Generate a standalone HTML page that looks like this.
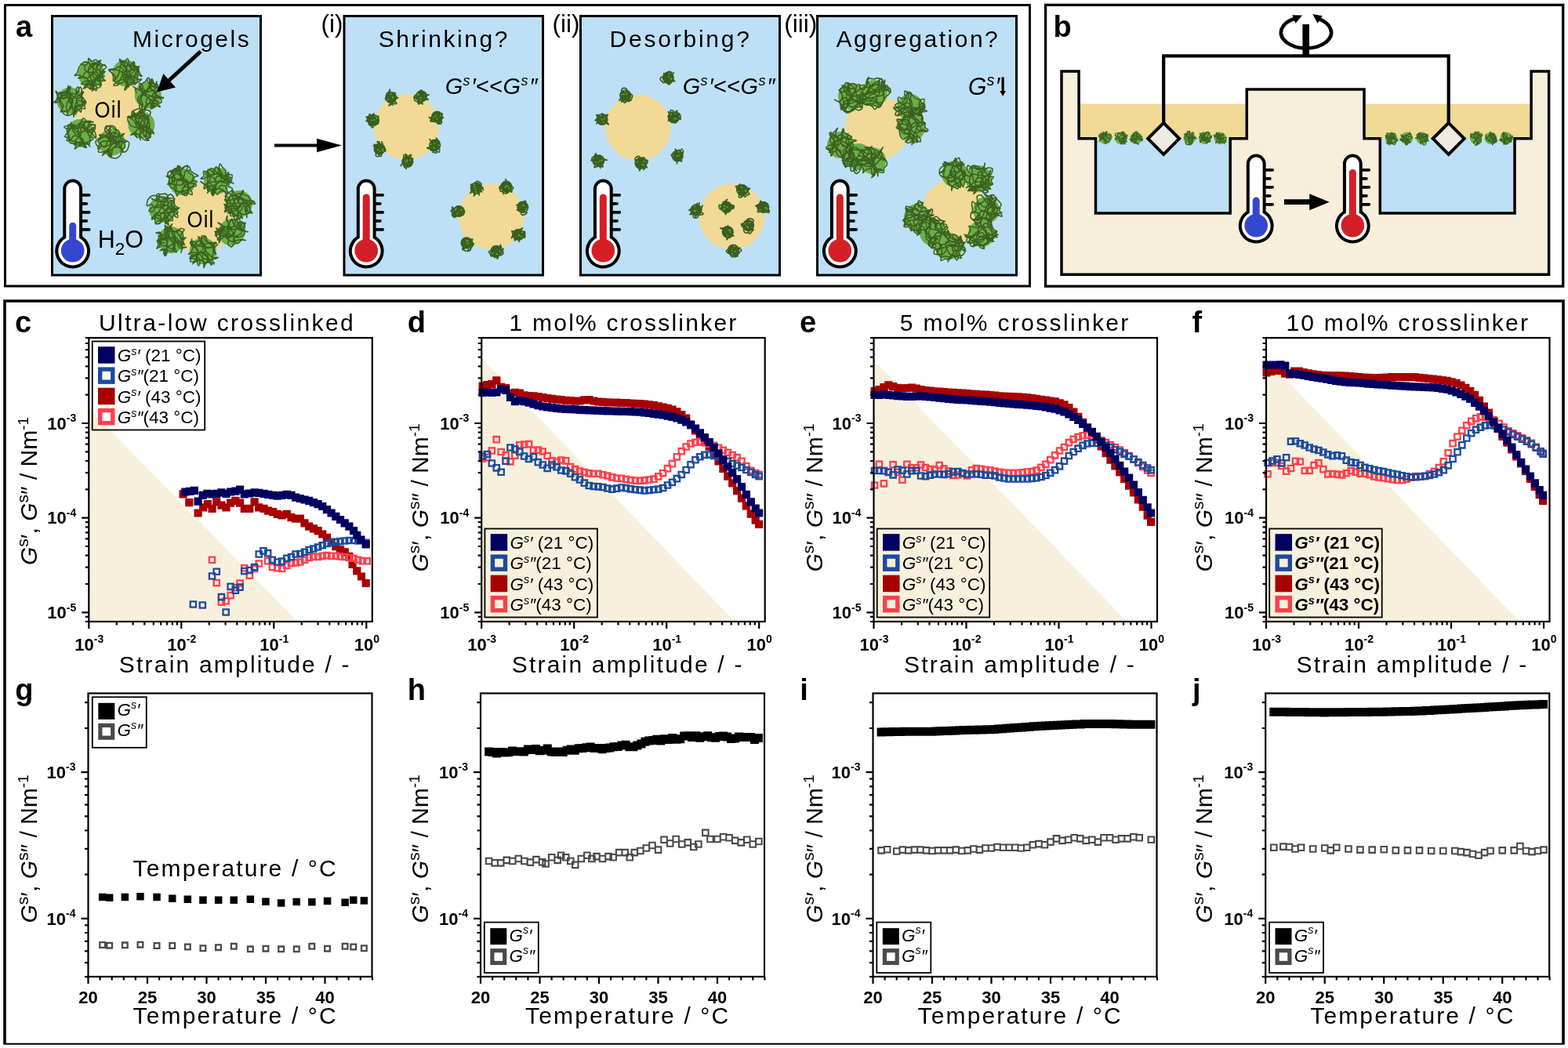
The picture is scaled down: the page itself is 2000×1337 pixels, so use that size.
<!DOCTYPE html>
<html><head><meta charset="utf-8"><title>Figure</title>
<style>
html,body{margin:0;padding:0;background:#fff;overflow:hidden;}
svg{display:block;font-family:"Liberation Sans", Arial, sans-serif;}
</style></head>
<body>
<svg width="2000" height="1337" viewBox="0 0 2000 1337">
<rect x="6.5" y="6.5" width="1307" height="358.5" fill="#fff" stroke="#000" stroke-width="3"/>
<text x="20.0" y="47.0" font-size="38" font-weight="700">a</text>
<rect x="66.5" y="20.5" width="266.0" height="330.5" fill="#bde0f7" stroke="#000" stroke-width="3"/>
<rect x="439" y="20.5" width="253.5" height="330.5" fill="#bde0f7" stroke="#000" stroke-width="3"/>
<rect x="740.5" y="20.5" width="254.0" height="330.5" fill="#bde0f7" stroke="#000" stroke-width="3"/>
<rect x="1042.5" y="20.5" width="254.0" height="330.5" fill="#bde0f7" stroke="#000" stroke-width="3"/>
<circle cx="140" cy="137" r="44" fill="#f0da95"/>
<circle cx="116.7" cy="94.8" r="17" fill="#6aaf47"/>
<path d="M121.2,100.7C121.8,100.0 123.1,97.3 124.5,96.2C125.8,95.2 127.9,95.0 129.5,94.2C131.2,93.3 134.4,91.6 134.2,91.3C134.1,90.9 130.1,91.1 128.8,92.0C127.5,93.0 127.2,95.3 126.5,97.1C125.9,98.8 124.5,100.7 124.8,102.3C125.1,103.8 128.2,104.7 128.6,106.2C129.0,107.8 128.3,110.4 127.1,111.5C126.0,112.6 123.4,112.0 121.8,112.8C120.1,113.5 117.6,116.3 117.3,116.0C117.0,115.7 119.5,112.7 119.7,111.0C119.9,109.3 119.3,107.1 118.3,105.7C117.3,104.3 115.3,103.1 113.6,102.9C111.9,102.6 109.9,103.3 108.2,104.0C106.6,104.7 103.5,106.4 103.6,107.0C103.7,107.5 107.4,107.9 109.1,107.4C110.7,107.0 112.0,104.4 113.6,104.3C115.2,104.2 116.9,105.9 118.5,106.9C120.0,107.8 122.2,108.6 122.9,110.1C123.7,111.5 123.6,115.2 122.9,115.6C122.1,115.9 119.8,113.5 118.6,112.1C117.4,110.8 117.1,108.3 115.7,107.4C114.3,106.5 111.6,106.1 110.3,106.7C108.9,107.4 107.3,111.2 107.6,111.5C107.9,111.8 110.6,109.4 112.2,108.5C113.8,107.7 116.0,107.5 117.2,106.3C118.4,105.1 118.2,102.4 119.4,101.2C120.6,100.1 123.0,99.2 124.6,99.4C126.2,99.7 127.3,102.2 129.0,102.8C130.6,103.3 134.3,103.4 134.5,102.9C134.7,102.3 130.8,100.9 130.2,99.4C129.5,98.0 131.2,95.5 130.5,94.0C129.9,92.4 127.8,91.6 126.5,90.2C125.2,88.9 123.2,87.5 123.0,86.0C122.8,84.5 124.3,82.5 125.3,81.0C126.2,79.5 129.0,77.0 128.8,76.8C128.5,76.5 125.5,78.5 123.9,79.3C122.3,80.2 120.3,80.7 119.0,81.8C117.7,83.0 117.1,85.0 115.9,86.4C114.7,87.8 113.3,88.9 111.9,90.2C110.5,91.4 108.8,92.3 107.7,93.6C106.5,95.0 106.3,97.5 105.0,98.5C103.7,99.5 99.6,99.7 99.6,99.6C99.6,99.6 103.1,98.0 104.9,98.0C106.6,98.0 108.8,98.6 110.1,99.7C111.4,100.8 112.7,102.9 112.7,104.6C112.7,106.2 111.4,108.1 110.3,109.5C109.3,111.0 106.2,113.1 106.4,113.3C106.6,113.6 109.8,110.9 111.4,111.0C113.0,111.1 114.8,114.2 116.1,113.9C117.3,113.5 117.8,110.7 118.8,109.1C119.7,107.5 120.7,105.9 121.6,104.4C122.6,102.8 123.3,101.1 124.4,99.6C125.5,98.2 127.6,97.1 128.1,95.5C128.6,93.9 127.3,91.8 127.4,90.1C127.6,88.3 128.0,86.0 129.1,84.8C130.2,83.6 134.2,82.9 134.1,82.7C134.1,82.5 130.5,83.7 128.7,83.5C126.9,83.3 125.2,81.5 123.5,81.6C121.9,81.8 119.6,83.2 118.9,84.6C118.2,86.0 119.4,88.3 119.3,90.1C119.2,91.9 118.1,93.8 118.4,95.5C118.7,97.2 119.9,99.0 121.1,100.3C122.4,101.6 124.4,102.2 125.7,103.4C127.0,104.6 128.9,107.8 129.2,107.6C129.5,107.5 127.9,104.2 127.4,102.4C127.0,100.7 127.2,98.7 126.6,97.0C125.9,95.3 125.0,93.0 123.6,92.3C122.2,91.7 119.5,92.2 118.2,93.2C116.9,94.1 115.8,96.4 115.6,98.1C115.4,99.8 116.6,101.6 117.0,103.4C117.4,105.2 118.2,107.0 118.0,108.8C117.9,110.5 116.7,114.0 116.2,114.0C115.7,113.9 114.7,110.0 115.3,108.6C115.8,107.1 118.2,106.4 119.5,105.0C120.7,103.7 121.4,101.7 122.7,100.6C124.1,99.5 126.0,98.9 127.8,98.4C129.5,97.8 133.2,97.8 133.2,97.6C133.2,97.4 129.6,97.2 127.8,96.9C126.0,96.6 124.0,96.4 122.4,95.6C120.8,94.8 119.9,92.5 118.3,92.0C116.7,91.5 114.4,93.0 112.8,92.6C111.1,92.1 109.1,90.8 108.3,89.4C107.5,87.9 108.9,85.2 108.0,83.9C107.1,82.6 103.0,81.7 103.0,81.6C103.0,81.5 106.6,83.6 108.2,83.3C109.8,83.0 111.8,81.4 112.6,79.9C113.3,78.4 112.1,74.8 112.8,74.4C113.6,74.1 115.5,77.7 117.0,78.0C118.6,78.3 120.7,75.9 122.2,76.2C123.8,76.5 124.8,78.8 126.3,79.9C127.8,80.9 129.6,81.6 131.1,82.5C132.7,83.5 135.6,84.5 135.7,85.6C135.8,86.7 132.9,88.0 131.6,89.3C130.3,90.6 128.5,91.8 127.9,93.4C127.3,95.0 128.1,97.1 128.0,98.9C127.8,100.7 126.7,102.6 126.9,104.3C127.1,106.0 129.6,108.8 129.1,109.3C128.6,109.9 125.7,107.9 124.0,107.5C122.2,107.1 119.8,107.8 118.5,106.8C117.2,105.8 116.8,103.5 116.3,101.8C115.8,100.0 114.8,97.8 115.4,96.3C116.0,94.9 118.5,94.5 119.9,93.3C121.3,92.1 122.9,90.8 123.6,89.2C124.4,87.6 123.8,85.4 124.6,83.8C125.3,82.2 128.3,80.2 128.0,79.5C127.6,78.8 124.3,79.4 122.5,79.7C120.7,80.0 118.7,80.4 117.2,81.3C115.8,82.3 114.4,83.9 113.6,85.5C112.8,87.1 112.6,89.1 112.7,90.9C112.8,92.7 114.6,94.6 114.3,96.2C113.9,97.7 112.0,99.8 110.5,100.2C109.1,100.5 107.1,99.0 105.4,98.2C103.7,97.5 102.3,95.9 100.6,95.6C98.9,95.3 95.4,96.9 95.1,96.4C94.8,95.8 98.0,93.9 98.8,92.3C99.7,90.8 99.5,88.7 100.2,87.0C101.0,85.4 102.1,83.8 103.3,82.5C104.6,81.1 106.0,79.5 107.7,79.1C109.3,78.7 111.6,79.1 113.1,80.0C114.5,81.0 115.0,83.3 116.3,84.5C117.6,85.8 119.6,86.3 120.8,87.6C122.1,88.9 122.6,90.8 123.7,92.3C124.8,93.8 126.5,94.9 127.2,96.5C127.9,98.1 127.9,101.1 128.0,102.0" fill="none" stroke="#3b611f" stroke-width="1.6" stroke-linecap="round"/>
<circle cx="160.1" cy="93.4" r="17" fill="#6aaf47"/>
<path d="M155.8,91.0C156.5,91.7 158.4,93.7 159.7,95.0C161.0,96.2 162.7,97.2 163.8,98.6C164.9,100.0 165.0,102.3 166.2,103.5C167.5,104.7 169.5,105.6 171.2,105.8C173.0,106.0 175.0,105.3 176.6,104.5C178.2,103.7 180.9,101.2 180.6,100.8C180.4,100.3 176.6,102.3 175.2,101.7C173.8,101.1 173.5,97.9 172.0,97.2C170.6,96.5 168.1,96.9 166.6,97.6C165.0,98.3 163.2,100.0 162.8,101.6C162.3,103.2 164.2,105.2 164.0,107.0C163.8,108.7 162.2,112.0 161.7,112.0C161.2,111.9 161.6,108.2 161.0,106.5C160.4,104.8 158.8,103.5 158.1,101.9C157.4,100.2 157.4,98.2 156.8,96.5C156.2,94.8 155.7,92.8 154.4,91.6C153.2,90.4 151.1,90.0 149.4,89.4C147.6,88.8 145.8,88.0 144.0,88.0C142.3,88.0 138.9,88.4 138.7,89.3C138.4,90.1 141.6,91.6 142.6,93.1C143.6,94.6 144.3,96.5 144.6,98.2C144.9,100.0 143.8,103.5 144.4,103.7C145.0,104.0 147.2,101.3 148.3,99.9C149.5,98.5 150.3,96.8 151.0,95.1C151.8,93.4 152.4,91.7 152.8,89.9C153.2,88.1 152.8,86.1 153.3,84.4C153.8,82.7 156.1,81.1 155.9,79.6C155.8,78.1 152.8,75.2 152.5,75.3C152.2,75.5 153.4,78.9 154.3,80.5C155.2,82.1 156.4,84.2 157.9,84.7C159.3,85.1 161.4,83.2 163.1,83.2C164.9,83.1 167.1,84.9 168.5,84.3C169.9,83.7 171.2,79.6 171.6,79.8C172.1,79.9 170.5,83.9 171.2,85.2C171.9,86.6 175.6,86.7 175.9,88.0C176.3,89.3 173.6,91.3 173.5,92.9C173.4,94.6 175.2,96.3 175.5,98.1C175.8,99.8 175.7,101.9 175.1,103.5C174.6,105.2 172.9,108.1 172.0,108.0C171.1,107.9 170.6,104.6 169.8,103.0C169.0,101.3 168.1,99.7 167.3,98.1C166.5,96.4 164.9,94.8 164.8,93.2C164.8,91.5 166.8,89.9 167.1,88.2C167.5,86.4 166.3,84.2 167.0,82.7C167.7,81.2 171.3,79.2 171.2,79.1C171.1,79.0 167.2,80.7 166.6,82.1C166.0,83.5 166.6,86.3 167.7,87.5C168.7,88.8 171.3,89.8 172.8,89.6C174.3,89.3 177.0,86.8 176.8,85.8C176.6,84.9 172.8,85.0 171.7,83.8C170.6,82.6 170.3,78.5 170.1,78.5C169.9,78.6 170.9,82.3 170.6,84.0C170.4,85.8 169.6,87.8 168.5,89.1C167.3,90.4 165.4,91.5 163.7,91.8C162.0,92.0 159.8,91.4 158.3,90.5C156.9,89.6 156.5,86.9 155.1,86.1C153.6,85.3 151.2,85.2 149.6,85.7C148.0,86.2 147.0,88.7 145.4,89.3C143.8,89.8 140.2,88.5 139.9,89.2C139.5,90.0 142.0,92.2 143.3,93.6C144.5,95.0 146.6,95.9 147.2,97.5C147.7,99.0 145.9,101.3 146.4,102.9C146.8,104.5 148.5,106.6 150.0,107.0C151.5,107.5 153.7,106.5 155.3,105.7C157.0,105.0 159.1,103.9 159.8,102.5C160.4,101.0 159.3,98.8 159.2,97.0C159.2,95.2 158.9,93.2 159.3,91.5C159.8,89.8 161.3,88.3 161.8,86.6C162.4,84.9 163.1,82.6 162.5,81.1C161.8,79.7 159.7,78.6 158.0,77.9C156.3,77.3 152.6,77.2 152.5,77.4C152.5,77.7 156.6,78.3 157.6,79.5C158.6,80.8 157.6,83.4 158.3,85.0C159.1,86.6 160.5,88.3 162.0,89.1C163.5,89.9 165.9,90.3 167.4,89.8C169.0,89.3 169.8,86.2 171.3,85.9C172.8,85.5 175.3,86.6 176.4,87.8C177.5,89.0 177.0,91.5 177.8,93.1C178.6,94.7 181.5,97.0 181.3,97.3C181.1,97.6 177.4,96.2 176.4,94.9C175.4,93.6 176.4,90.6 175.4,89.5C174.3,88.4 171.7,89.0 170.0,88.3C168.3,87.6 166.2,86.8 165.3,85.5C164.3,84.1 164.7,81.8 164.3,80.1C163.9,78.3 163.7,74.9 162.8,74.8C162.0,74.6 160.0,77.4 159.3,79.0C158.7,80.6 158.6,82.8 159.0,84.5C159.3,86.2 161.0,87.6 161.5,89.4C162.0,91.1 161.9,93.0 162.0,94.8C162.1,96.7 162.0,98.5 161.8,100.3C161.7,102.2 161.0,104.0 161.2,105.8C161.3,107.6 163.1,109.6 162.7,111.1C162.3,112.6 159.2,115.2 158.9,115.0C158.6,114.9 159.7,111.0 160.9,109.9C162.1,108.9 164.5,109.2 166.2,108.6C167.9,107.9 170.3,107.4 171.1,106.0C171.9,104.7 171.7,102.2 171.2,100.5C170.7,98.9 169.3,96.8 167.9,96.2C166.4,95.6 163.8,96.0 162.4,96.8C161.0,97.7 159.5,99.8 159.3,101.4C159.0,103.0 160.1,105.0 161.0,106.6C161.8,108.2 164.2,111.0 164.4,110.9C164.7,110.7 162.9,107.5 162.6,105.7C162.4,103.9 162.5,101.9 162.9,100.2C163.4,98.5 164.3,96.7 165.5,95.3C166.6,94.0 168.6,93.3 169.9,92.0C171.2,90.7 171.7,88.8 173.0,87.5C174.3,86.3 177.3,84.2 177.6,84.5C178.0,84.9 176.2,87.9 175.3,89.5C174.5,91.1 173.1,92.5 172.5,94.2C171.9,95.9 172.5,98.0 171.9,99.7C171.4,101.4 170.4,103.2 169.1,104.5C167.9,105.7 165.5,105.7 164.3,107.0C163.0,108.2 162.3,112.0 161.8,111.9C161.2,111.8 161.6,108.1 160.8,106.5C160.1,104.8 158.9,102.7 157.5,102.1C156.0,101.6 153.2,102.1 152.1,103.2C150.9,104.2 151.6,107.5 150.4,108.4C149.3,109.4 145.3,109.6 145.0,108.9C144.6,108.3 147.0,105.7 148.4,104.6C149.7,103.4 151.9,103.1 153.2,101.9C154.4,100.7 154.6,98.4 155.8,97.1C157.1,95.8 158.9,94.2 160.5,94.2C162.1,94.2 164.1,95.6 165.3,96.9C166.4,98.2 167.0,101.2 167.4,102.0" fill="none" stroke="#3b611f" stroke-width="1.6" stroke-linecap="round"/>
<circle cx="188.8" cy="121.4" r="17" fill="#6aaf47"/>
<path d="M194.0,128.4C194.0,129.3 194.2,132.1 193.9,133.9C193.7,135.7 192.7,139.2 192.5,139.2C192.3,139.1 192.4,135.5 192.5,133.7C192.7,131.8 194.0,129.7 193.4,128.2C192.9,126.8 190.5,126.1 189.0,125.0C187.6,123.8 186.1,122.7 184.9,121.4C183.7,120.0 182.8,118.3 181.9,116.7C180.9,115.2 179.2,113.6 179.1,112.0C179.0,110.3 180.1,108.3 181.2,106.9C182.3,105.5 184.4,105.0 185.7,103.7C187.0,102.4 187.9,99.3 189.0,99.3C190.1,99.3 191.9,102.0 192.4,103.7C192.9,105.3 192.5,107.5 191.9,109.2C191.4,110.9 190.2,112.5 189.1,113.9C188.0,115.3 186.4,116.3 185.1,117.7C183.9,119.1 182.9,120.6 181.8,122.0C180.6,123.5 178.9,124.7 178.4,126.4C177.8,128.0 178.4,130.0 178.4,131.9C178.3,133.7 177.4,135.8 178.0,137.3C178.6,138.9 180.7,141.4 181.8,141.3C183.0,141.1 183.6,137.9 184.8,136.6C186.1,135.3 188.3,134.9 189.4,133.6C190.5,132.2 191.6,130.0 191.4,128.4C191.2,126.8 189.5,125.2 188.2,123.9C186.9,122.7 184.8,122.3 183.6,121.0C182.3,119.7 181.6,117.9 180.7,116.3C179.7,114.8 178.3,113.3 177.9,111.6C177.5,109.9 177.5,106.4 178.2,106.1C178.9,105.8 181.6,108.4 182.1,110.0C182.6,111.5 180.7,113.7 181.1,115.4C181.4,117.0 182.8,118.9 184.2,119.9C185.6,120.9 187.8,120.6 189.5,121.3C191.2,121.9 193.0,122.7 194.4,123.8C195.9,124.9 196.9,126.5 198.3,127.7C199.7,128.9 202.8,130.8 202.8,130.9C202.7,131.0 199.3,129.5 197.9,128.3C196.5,127.2 194.8,125.6 194.5,124.0C194.1,122.4 194.9,120.1 195.9,118.7C196.9,117.4 198.9,116.6 200.6,115.9C202.3,115.3 206.0,115.4 206.0,114.8C206.1,114.3 202.7,113.2 201.0,112.5C199.3,111.8 197.4,111.6 195.8,110.8C194.2,110.0 192.1,109.1 191.3,107.6C190.5,106.2 190.9,102.1 190.9,102.1C191.0,102.1 191.8,105.9 191.4,107.6C191.1,109.3 189.8,110.9 188.8,112.4C187.7,113.9 186.6,116.0 185.1,116.5C183.6,117.0 181.4,116.2 179.7,115.6C177.9,115.1 176.3,114.0 174.7,113.2C173.1,112.3 170.0,110.3 170.0,110.3C170.0,110.4 173.0,112.6 174.6,113.4C176.2,114.2 178.8,114.0 179.8,115.2C180.8,116.4 181.3,119.1 180.8,120.6C180.3,122.1 177.3,122.6 176.5,124.1C175.8,125.6 175.4,128.1 176.0,129.6C176.7,131.0 179.6,131.4 180.4,132.9C181.2,134.3 180.5,138.3 180.8,138.3C181.1,138.4 182.2,134.7 182.1,133.0C182.0,131.2 180.4,129.6 180.2,127.8C179.9,126.1 179.7,123.6 180.6,122.4C181.6,121.1 184.4,121.3 185.6,120.1C186.9,118.9 187.4,116.8 188.1,115.1C188.8,113.4 188.9,111.5 189.8,109.9C190.7,108.4 192.8,107.4 193.5,105.8C194.1,104.2 193.3,100.4 193.7,100.3C194.1,100.2 195.2,103.7 195.9,105.3C196.7,107.0 197.2,109.0 198.4,110.3C199.6,111.5 203.2,111.7 203.3,112.7C203.5,113.7 199.9,114.9 199.3,116.4C198.6,117.9 198.6,120.4 199.3,121.9C200.0,123.4 202.1,124.8 203.7,125.2C205.3,125.6 209.1,124.2 209.1,124.2C209.1,124.2 205.4,125.4 203.7,125.2C201.9,125.1 200.3,123.8 198.5,123.3C196.8,122.9 194.8,122.2 193.1,122.5C191.4,122.8 189.3,123.7 188.2,125.0C187.0,126.2 186.5,128.3 186.3,130.1C186.1,131.9 187.3,133.8 187.0,135.6C186.7,137.3 184.8,140.6 184.6,140.5C184.3,140.4 184.6,136.6 185.4,135.1C186.3,133.6 188.1,132.1 189.7,131.6C191.3,131.1 193.3,132.1 195.2,132.2C197.0,132.4 199.1,131.6 200.7,132.4C202.2,133.1 204.6,136.0 204.3,136.5C204.0,136.9 200.6,134.6 199.0,135.0C197.4,135.3 195.3,138.8 194.8,138.5C194.3,138.2 195.7,134.9 195.8,133.1C195.9,131.3 194.8,129.2 195.4,127.6C195.9,126.0 197.5,123.9 199.0,123.5C200.5,123.1 203.2,123.9 204.3,125.0C205.5,126.1 206.4,129.1 205.9,130.3C205.3,131.5 202.2,131.4 200.8,132.5C199.4,133.6 198.3,137.1 197.6,136.9C196.8,136.8 196.2,133.4 196.2,131.6C196.2,129.8 196.4,127.4 197.5,126.2C198.6,125.1 201.0,124.6 202.8,124.5C204.5,124.4 208.1,125.7 208.2,125.4C208.3,125.2 204.9,123.8 203.2,123.0C201.6,122.3 199.3,122.1 198.1,120.9C197.0,119.7 197.2,117.2 196.2,115.8C195.1,114.4 192.8,113.9 191.8,112.4C190.9,111.0 190.4,108.8 190.5,107.1C190.6,105.3 191.3,102.0 192.1,101.8C193.0,101.7 193.9,105.4 195.3,106.3C196.8,107.2 199.6,106.3 200.7,107.4C201.9,108.5 201.2,111.4 202.3,112.7C203.4,113.9 207.4,114.4 207.3,114.9C207.3,115.4 203.7,115.4 201.9,115.8C200.1,116.1 198.1,117.3 196.5,116.8C194.9,116.4 192.8,114.7 192.3,113.2C191.9,111.7 193.5,109.7 193.6,107.9C193.7,106.1 193.8,103.8 192.8,102.4C191.9,101.1 188.8,99.1 188.1,99.6C187.5,100.0 188.1,103.4 188.8,105.0C189.5,106.6 190.9,108.5 192.4,109.2C193.9,109.9 196.6,110.0 197.9,109.1C199.1,108.2 199.7,103.9 199.9,104.0C200.1,104.0 199.4,107.6 199.0,109.4C198.5,111.2 198.5,113.6 197.3,114.7C196.1,115.7 193.7,115.5 191.9,116.0C190.2,116.4 188.2,117.9 186.7,117.5C185.1,117.1 184.4,114.0 182.9,113.5C181.3,113.1 179.2,114.9 177.5,114.8C175.8,114.7 173.0,112.2 172.4,112.7C171.8,113.3 173.6,117.1 173.8,118.0" fill="none" stroke="#3b611f" stroke-width="1.6" stroke-linecap="round"/>
<circle cx="180.4" cy="159.2" r="17" fill="#6aaf47"/>
<path d="M187.8,158.2C188.1,157.4 189.7,154.8 189.8,153.1C189.8,151.4 189.2,149.0 188.1,147.9C186.9,146.8 184.4,147.2 182.7,146.5C181.0,145.9 179.5,144.0 177.9,144.0C176.2,143.9 174.4,145.2 172.8,146.2C171.3,147.2 170.2,149.4 168.6,149.8C167.1,150.1 163.3,148.8 163.3,148.5C163.3,148.1 167.5,148.7 168.8,147.8C170.1,146.8 170.8,142.7 171.1,142.8C171.4,142.9 170.0,146.9 170.7,148.3C171.4,149.7 173.8,150.7 175.5,151.0C177.2,151.3 179.6,151.1 180.9,150.1C182.3,149.1 183.4,146.9 183.4,145.2C183.5,143.6 181.1,140.2 181.2,140.2C181.3,140.1 182.9,143.5 184.0,144.9C185.1,146.4 186.9,147.4 187.7,149.0C188.5,150.6 188.9,152.6 188.7,154.4C188.6,156.2 187.3,157.8 186.8,159.6C186.4,161.3 186.8,163.5 186.0,165.0C185.2,166.5 183.4,167.6 182.0,168.7C180.5,169.8 179.0,171.4 177.3,171.6C175.6,171.9 173.7,170.3 171.9,170.4C170.2,170.6 167.0,172.7 166.8,172.5C166.7,172.3 169.7,169.4 171.3,169.2C172.9,169.1 174.7,170.6 176.3,171.6C177.8,172.6 179.0,174.1 180.4,175.2C181.8,176.4 183.1,178.0 184.7,178.6C186.4,179.2 190.0,179.4 190.2,179.0C190.4,178.5 186.2,177.3 185.7,175.9C185.1,174.5 185.7,171.8 186.7,170.5C187.7,169.2 190.1,168.0 191.7,168.1C193.3,168.1 196.2,171.1 196.5,170.7C196.8,170.4 194.8,167.3 193.5,166.1C192.2,164.9 190.3,164.3 188.7,163.4C187.1,162.6 185.5,161.0 183.8,161.0C182.1,160.9 180.3,162.2 178.7,163.1C177.1,163.9 175.2,164.7 174.1,166.1C173.0,167.4 171.8,169.5 172.0,171.1C172.1,172.8 174.8,175.9 174.9,175.8C175.0,175.7 172.8,172.4 172.7,170.7C172.7,169.0 173.6,167.0 174.6,165.6C175.6,164.1 178.1,163.4 178.6,161.8C179.2,160.3 178.1,158.2 177.8,156.4C177.4,154.6 176.1,152.4 176.7,151.0C177.3,149.6 179.8,148.0 181.3,148.0C182.8,148.0 184.4,149.9 185.9,151.1C187.3,152.2 189.1,153.3 189.9,154.8C190.7,156.3 191.0,158.4 190.9,160.2C190.7,162.0 189.2,163.7 189.1,165.4C189.0,167.2 189.8,169.0 190.0,170.8C190.2,172.7 190.9,176.1 190.3,176.3C189.8,176.6 187.3,173.8 186.7,172.2C186.2,170.6 187.0,168.5 187.0,166.7C187.0,164.9 186.2,162.9 186.5,161.2C186.9,159.5 189.3,158.0 189.2,156.4C189.2,154.8 187.5,153.2 186.5,151.7C185.4,150.2 184.5,147.9 183.1,147.3C181.6,146.8 179.5,148.3 177.7,148.4C175.9,148.4 173.6,148.4 172.2,147.4C170.9,146.5 169.6,142.6 169.6,142.6C169.5,142.7 171.5,145.8 172.0,147.6C172.6,149.3 172.1,151.5 172.9,153.0C173.8,154.5 175.5,155.7 176.9,156.7C178.4,157.8 180.3,158.3 181.8,159.3C183.4,160.3 184.9,161.3 186.1,162.7C187.3,164.0 187.9,166.0 189.0,167.4C190.2,168.8 193.3,170.8 193.1,171.1C193.0,171.3 189.7,169.6 188.2,168.7C186.6,167.8 184.8,167.0 183.5,165.7C182.3,164.4 181.8,162.3 180.6,161.1C179.3,159.8 177.2,159.3 176.0,158.0C174.7,156.7 173.3,155.0 173.1,153.3C172.9,151.7 174.1,149.8 174.7,148.1C175.4,146.3 175.5,143.8 176.8,143.0C178.1,142.1 180.6,143.2 182.3,142.8C184.0,142.3 185.5,140.1 187.1,140.2C188.7,140.2 191.5,141.6 191.9,142.9C192.4,144.2 191.1,146.8 189.9,148.0C188.8,149.2 185.8,149.0 185.0,150.4C184.1,151.7 185.2,154.1 184.9,155.9C184.7,157.6 184.5,159.9 183.4,161.1C182.3,162.4 179.9,163.5 178.3,163.3C176.8,163.0 175.1,161.2 174.0,159.9C172.9,158.5 172.6,156.4 171.5,154.9C170.5,153.5 169.0,152.2 167.5,151.2C165.9,150.3 162.3,150.0 162.3,149.5C162.3,148.9 166.5,149.1 167.5,147.9C168.6,146.7 167.4,143.8 168.4,142.5C169.3,141.1 171.5,140.4 173.2,139.8C174.9,139.2 177.5,138.0 178.6,138.7C179.7,139.4 179.0,142.5 179.8,144.1C180.6,145.7 182.9,146.6 183.4,148.2C183.9,149.8 182.3,151.9 182.5,153.6C182.7,155.4 184.3,157.0 184.4,158.8C184.5,160.6 184.2,162.7 183.4,164.2C182.6,165.8 180.5,166.6 179.5,168.1C178.6,169.7 177.8,171.6 177.7,173.3C177.6,175.1 179.0,178.7 179.1,178.7C179.2,178.6 178.5,175.0 178.5,173.2C178.5,171.4 179.3,169.5 179.1,167.7C178.9,165.9 177.4,164.2 177.5,162.5C177.5,160.8 179.1,159.2 179.6,157.4C180.2,155.7 181.2,153.7 180.8,152.0C180.4,150.4 178.0,149.3 177.4,147.7C176.9,146.1 176.7,143.6 177.5,142.2C178.2,140.7 181.3,138.6 181.9,139.0C182.5,139.4 182.0,143.1 181.1,144.4C180.1,145.8 177.9,147.2 176.3,147.2C174.7,147.1 173.0,144.3 171.5,144.4C170.0,144.5 168.6,146.6 167.2,147.8C165.7,148.9 163.4,149.8 162.9,151.2C162.4,152.7 163.5,154.9 164.4,156.5C165.2,158.2 166.3,159.9 167.8,160.9C169.2,161.8 171.3,162.0 173.1,162.4C174.8,162.8 176.8,162.7 178.5,163.4C180.1,164.1 182.1,165.2 182.9,166.6C183.8,168.1 182.8,170.5 183.4,172.1C184.1,173.7 185.4,175.9 186.8,176.4C188.3,176.9 191.4,176.1 192.1,175.0C192.9,173.8 191.5,171.4 191.4,169.5C191.3,167.7 192.1,165.5 191.4,164.0C190.6,162.6 188.5,160.9 186.9,160.8C185.3,160.6 183.5,163.3 181.9,163.2C180.4,163.0 178.9,161.1 177.4,160.1C175.9,159.0 173.8,157.2 173.1,156.7" fill="none" stroke="#3b611f" stroke-width="1.6" stroke-linecap="round"/>
<circle cx="142.6" cy="181.6" r="17" fill="#6aaf47"/>
<path d="M152.6,179.0C152.0,178.4 150.3,176.1 148.8,175.1C147.3,174.1 145.1,174.0 143.7,172.9C142.3,171.9 140.8,170.2 140.3,168.6C139.8,167.0 141.5,164.5 140.7,163.1C140.0,161.8 137.0,160.1 135.9,160.5C134.7,161.0 133.6,164.0 133.7,165.6C133.8,167.3 135.8,168.7 136.4,170.4C137.0,172.1 136.6,174.2 137.2,175.8C137.8,177.5 139.4,178.9 140.1,180.5C140.7,182.2 141.6,184.3 141.2,185.9C140.8,187.5 139.0,188.9 137.8,190.2C136.5,191.6 134.8,192.5 133.6,193.8C132.4,195.2 130.3,198.2 130.5,198.3C130.6,198.5 133.0,195.7 134.6,194.7C136.1,193.7 138.0,193.4 139.6,192.5C141.2,191.6 142.6,190.4 144.0,189.2C145.5,188.1 146.8,186.7 148.2,185.6C149.6,184.5 151.6,183.8 152.6,182.4C153.7,181.0 154.6,178.9 154.6,177.2C154.6,175.5 153.0,173.9 152.4,172.2C151.9,170.5 152.2,168.1 151.1,166.8C150.1,165.6 147.6,165.7 146.0,164.8C144.4,164.0 142.7,161.5 141.5,161.7C140.3,162.0 139.1,164.7 138.7,166.5C138.3,168.2 138.7,170.1 139.0,171.9C139.3,173.7 140.8,175.7 140.4,177.2C140.1,178.8 137.7,179.8 136.7,181.3C135.7,182.8 135.9,185.5 134.6,186.4C133.3,187.2 130.7,185.7 129.1,186.4C127.5,187.0 125.4,190.3 125.0,190.0C124.5,189.7 125.7,186.3 126.6,184.7C127.5,183.2 128.6,181.4 130.2,180.5C131.7,179.7 133.8,179.9 135.6,179.8C137.4,179.7 139.3,179.4 141.1,179.7C142.9,179.9 145.2,180.2 146.4,181.3C147.5,182.5 148.3,185.1 147.9,186.6C147.4,188.0 144.4,188.5 143.5,190.0C142.7,191.4 143.1,193.6 142.7,195.4C142.4,197.2 142.0,200.8 141.7,200.8C141.3,200.8 141.7,196.8 140.7,195.4C139.8,194.0 137.7,192.7 136.0,192.5C134.4,192.3 132.5,193.7 130.7,194.0C128.9,194.2 125.9,194.7 125.2,193.8C124.6,192.9 127.4,190.1 127.1,188.6C126.7,187.1 123.7,186.4 123.0,184.9C122.2,183.4 121.8,180.9 122.5,179.4C123.1,178.0 125.2,176.9 126.8,176.1C128.4,175.2 130.2,174.2 131.9,174.1C133.7,173.9 135.7,174.3 137.4,174.9C139.1,175.4 140.7,176.4 142.3,177.3C143.9,178.2 145.4,179.3 146.9,180.3C148.4,181.4 150.2,182.3 151.3,183.7C152.3,185.1 152.3,187.3 153.3,188.8C154.3,190.3 157.2,192.6 157.4,192.5C157.6,192.3 154.6,189.5 154.4,187.9C154.1,186.3 154.7,183.8 155.8,182.6C156.9,181.4 161.0,181.0 161.0,180.7C160.9,180.3 157.3,180.8 155.5,180.7C153.6,180.7 151.7,181.1 150.0,180.5C148.3,180.0 146.8,178.6 145.4,177.5C144.0,176.3 143.1,173.9 141.5,173.6C140.0,173.2 138.0,175.7 136.4,175.4C134.8,175.2 133.7,172.6 132.0,172.1C130.4,171.6 126.6,172.0 126.5,172.4C126.4,172.9 129.9,174.8 131.5,174.7C133.1,174.7 134.6,172.7 136.2,171.9C137.9,171.1 139.6,170.4 141.4,170.0C143.1,169.5 145.2,168.8 146.8,169.2C148.5,169.6 150.0,171.1 151.3,172.4C152.7,173.6 153.4,175.5 154.8,176.6C156.2,177.7 158.2,178.0 159.9,178.9C161.5,179.7 163.8,180.4 164.5,181.8C165.2,183.2 164.4,185.6 163.9,187.3C163.4,189.0 162.9,191.2 161.6,192.3C160.3,193.4 157.7,194.5 156.4,194.0C155.1,193.5 155.0,190.3 153.7,189.2C152.5,188.0 150.3,187.1 148.6,187.1C147.0,187.2 145.1,188.3 143.6,189.4C142.2,190.5 140.5,191.9 139.9,193.5C139.4,195.1 139.3,197.6 140.1,199.0C141.0,200.4 143.2,201.5 144.8,201.8C146.5,202.1 148.7,201.8 150.3,201.0C151.8,200.2 153.3,198.6 154.1,197.0C154.9,195.5 154.2,193.1 155.0,191.6C155.9,190.1 158.7,189.6 159.3,188.1C159.9,186.6 159.5,184.2 158.7,182.7C157.9,181.1 156.2,179.3 154.6,179.0C153.1,178.6 151.2,180.2 149.4,180.7C147.7,181.3 145.6,181.4 144.2,182.4C142.8,183.5 142.2,185.5 141.1,187.0C140.0,188.4 138.2,189.6 137.6,191.3C137.0,192.9 136.8,195.1 137.3,196.7C137.9,198.4 140.8,201.0 140.8,201.0C140.8,201.0 137.7,198.3 137.3,196.7C137.0,195.1 138.1,193.1 138.7,191.4C139.3,189.7 140.3,188.1 140.8,186.3C141.3,184.6 141.2,182.7 141.6,180.9C141.9,179.1 141.9,176.7 143.0,175.6C144.1,174.5 146.6,174.7 148.4,174.3C150.1,173.9 152.0,173.6 153.7,173.0C155.4,172.3 158.3,170.1 158.5,170.3C158.7,170.5 156.3,173.5 154.8,174.4C153.3,175.2 151.2,175.3 149.4,175.3C147.6,175.4 145.7,174.5 143.9,174.8C142.2,175.1 140.6,177.2 138.9,177.2C137.3,177.1 135.8,174.6 134.2,174.5C132.5,174.3 130.6,175.5 129.0,176.4C127.5,177.4 124.9,178.7 124.9,180.0C124.8,181.3 127.3,182.8 128.5,184.1C129.8,185.4 131.1,187.6 132.6,187.8C134.1,188.0 135.9,186.1 137.6,185.5C139.3,184.8 141.2,184.6 142.9,183.9C144.6,183.2 147.0,182.8 147.8,181.5C148.6,180.1 148.0,177.7 147.7,176.0C147.3,174.2 145.5,172.5 145.6,170.9C145.7,169.2 148.4,167.7 148.4,166.1C148.3,164.6 146.8,162.5 145.4,161.5C144.0,160.5 141.7,160.0 140.0,160.3C138.3,160.6 135.6,162.1 135.4,163.3C135.2,164.5 138.2,165.9 139.0,167.5C139.9,169.0 140.4,171.0 140.6,172.7C140.7,174.5 139.1,176.8 139.8,178.2C140.4,179.6 142.9,180.2 144.5,181.0C146.1,181.8 147.9,183.2 149.6,183.1C151.2,183.0 153.5,180.8 154.3,180.4" fill="none" stroke="#3b611f" stroke-width="1.6" stroke-linecap="round"/>
<circle cx="102.0" cy="169.0" r="17" fill="#6aaf47"/>
<path d="M106.7,164.5C107.6,164.3 110.5,164.0 112.1,163.2C113.7,162.4 114.7,160.4 116.3,159.7C118.0,159.1 121.4,158.8 121.8,159.5C122.3,160.3 119.7,162.6 119.1,164.3C118.5,166.0 119.0,168.2 118.2,169.7C117.5,171.3 115.0,172.2 114.4,173.7C113.9,175.3 115.1,177.4 114.9,179.2C114.7,181.0 114.5,183.9 113.3,184.5C112.2,185.0 109.9,183.1 108.1,182.6C106.4,182.2 104.5,181.7 102.7,181.7C100.9,181.6 99.1,181.9 97.3,182.2C95.4,182.5 93.4,183.7 91.9,183.2C90.3,182.8 88.3,181.1 87.7,179.6C87.2,178.1 88.9,175.9 88.6,174.2C88.3,172.5 85.9,170.9 86.0,169.3C86.1,167.8 88.1,166.3 89.4,165.0C90.8,163.8 92.4,161.9 93.9,161.8C95.5,161.7 97.7,163.1 98.8,164.4C99.9,165.6 100.0,167.8 100.6,169.6C101.1,171.3 101.1,173.4 102.1,174.9C103.0,176.3 105.7,176.9 106.3,178.4C106.8,179.9 106.4,182.7 105.4,183.8C104.3,184.9 101.8,184.9 100.0,185.0C98.2,185.1 94.6,185.1 94.5,184.5C94.4,183.9 97.5,182.1 99.2,181.7C100.9,181.3 103.3,181.4 104.7,182.2C106.1,183.1 106.7,186.9 107.6,186.9C108.6,186.9 109.2,183.4 110.5,182.2C111.8,181.0 113.9,180.8 115.5,179.8C117.0,178.8 119.8,177.1 119.6,176.2C119.5,175.2 115.9,175.2 114.5,174.1C113.2,172.9 112.4,171.1 111.7,169.4C111.0,167.7 110.1,165.7 110.3,164.1C110.6,162.4 112.2,160.9 113.1,159.3C114.1,157.8 116.5,155.5 116.1,154.7C115.7,153.9 112.2,155.1 110.6,154.5C109.0,153.8 107.8,150.6 106.6,150.7C105.4,150.9 103.7,153.6 103.5,155.3C103.2,156.9 104.4,158.8 105.1,160.5C105.8,162.2 106.5,164.1 107.7,165.4C108.9,166.7 110.6,167.9 112.3,168.4C114.0,168.9 116.3,169.1 117.8,168.4C119.3,167.7 120.9,165.7 121.3,164.1C121.6,162.5 121.0,159.7 119.9,158.8C118.7,157.9 115.9,159.6 114.4,158.9C112.9,158.2 112.0,154.6 110.8,154.6C109.7,154.6 107.5,157.3 107.3,158.9C107.1,160.4 108.5,162.6 109.8,163.8C111.0,164.9 113.4,166.0 114.9,165.7C116.5,165.5 119.1,162.2 119.1,162.2C119.1,162.2 116.5,165.0 114.9,165.7C113.3,166.5 111.3,166.2 109.5,166.7C107.7,167.1 106.0,167.9 104.2,168.2C102.4,168.5 100.3,169.2 98.7,168.6C97.2,168.1 95.8,166.3 94.8,164.8C93.7,163.4 93.8,160.8 92.5,159.9C91.2,158.9 87.0,159.0 87.0,159.2C87.0,159.4 91.2,159.7 92.2,160.9C93.2,162.1 92.1,164.8 92.8,166.4C93.5,168.0 94.8,169.7 96.2,170.7C97.7,171.7 100.4,171.1 101.5,172.3C102.6,173.4 102.3,175.9 103.0,177.6C103.6,179.3 104.2,181.6 105.5,182.5C106.8,183.3 109.4,182.2 111.0,183.0C112.5,183.7 114.7,187.0 114.8,186.9C114.9,186.8 113.0,183.3 111.5,182.5C110.1,181.6 107.5,182.6 106.1,181.7C104.7,180.8 104.4,178.4 103.2,177.0C102.0,175.7 100.4,174.4 98.8,173.8C97.1,173.2 94.6,172.9 93.3,173.7C91.9,174.5 92.0,177.6 90.6,178.5C89.3,179.5 85.8,180.1 85.2,179.4C84.6,178.7 86.7,176.0 87.0,174.2C87.3,172.4 86.6,170.4 87.0,168.7C87.5,167.0 88.3,164.5 89.6,163.8C91.0,163.1 93.4,164.8 95.1,164.4C96.8,164.0 98.0,162.2 99.7,161.4C101.3,160.6 103.4,160.7 104.9,159.8C106.4,158.8 107.0,156.3 108.5,155.6C110.1,154.9 112.2,155.7 114.0,155.7C115.9,155.7 119.5,155.6 119.5,155.6C119.5,155.6 115.9,155.9 114.0,155.9C112.2,155.9 110.4,155.6 108.6,155.6C106.7,155.6 104.3,154.9 103.1,155.8C101.8,156.7 101.0,159.3 101.1,160.9C101.2,162.6 103.1,164.2 103.4,165.9C103.8,167.7 103.9,169.8 103.3,171.4C102.7,173.1 101.2,174.5 100.0,175.8C98.7,177.1 96.3,178.0 95.9,179.5C95.4,181.0 97.3,183.1 97.2,184.8C97.1,186.6 94.9,189.7 95.4,190.0C95.8,190.3 98.2,187.3 99.8,186.8C101.5,186.2 103.6,186.3 105.3,186.7C107.1,187.0 110.2,189.0 110.5,188.6C110.8,188.2 108.6,185.2 107.1,184.3C105.6,183.4 103.4,183.9 101.7,183.3C100.0,182.7 98.6,181.2 96.9,180.6C95.2,180.0 93.0,180.7 91.5,179.9C90.0,179.1 89.4,176.6 87.9,175.7C86.4,174.8 83.0,175.4 82.6,174.4C82.2,173.4 84.9,171.4 85.5,169.8C86.0,168.1 85.0,165.9 85.6,164.3C86.2,162.6 87.6,160.8 89.1,160.0C90.6,159.2 93.1,158.8 94.6,159.5C96.0,160.1 96.5,163.3 98.0,163.8C99.4,164.3 101.6,162.6 103.4,162.6C105.1,162.6 107.0,163.3 108.7,163.9C110.5,164.4 112.0,165.5 113.8,165.9C115.6,166.3 118.0,165.2 119.3,166.0C120.7,166.8 121.4,169.1 121.9,170.8C122.4,172.6 122.7,176.2 122.2,176.3C121.8,176.5 120.2,173.3 119.0,171.9C117.8,170.5 116.5,169.2 115.2,167.9C113.9,166.6 112.5,165.4 111.1,164.2C109.7,163.0 108.3,161.9 106.8,160.8C105.4,159.7 103.9,157.7 102.4,157.6C100.8,157.5 99.3,160.1 97.6,160.3C95.9,160.5 94.0,159.0 92.3,159.0C90.5,158.9 88.7,159.7 86.9,160.2C85.1,160.7 81.8,161.3 81.7,162.1C81.7,162.8 85.1,164.6 86.7,164.5C88.3,164.4 90.6,162.9 91.3,161.5C91.9,160.1 90.6,156.0 90.5,156.0C90.4,156.0 91.1,159.7 90.8,161.5C90.4,163.3 89.0,165.7 88.6,166.6" fill="none" stroke="#3b611f" stroke-width="1.6" stroke-linecap="round"/>
<circle cx="89.4" cy="128.4" r="17" fill="#6aaf47"/>
<path d="M86.8,118.2C87.2,119.1 89.0,121.6 89.0,123.3C89.0,125.0 86.8,126.9 87.0,128.4C87.3,130.0 90.0,131.0 90.6,132.6C91.1,134.3 91.0,136.6 90.4,138.1C89.7,139.7 87.2,140.5 86.5,142.1C85.9,143.7 86.5,147.6 86.4,147.6C86.3,147.6 86.2,143.9 85.9,142.1C85.7,140.3 84.8,138.5 84.8,136.7C84.7,134.9 85.0,133.0 85.7,131.3C86.3,129.6 87.5,127.9 88.8,126.8C90.2,125.7 92.6,125.9 94.0,124.9C95.4,123.8 96.3,122.0 97.4,120.6C98.5,119.1 100.4,117.8 100.7,116.1C101.0,114.5 100.1,110.9 99.4,110.8C98.8,110.7 96.8,114.0 96.8,115.6C96.8,117.2 98.3,119.0 99.5,120.4C100.7,121.8 102.9,122.4 103.8,123.9C104.6,125.4 103.6,127.8 104.5,129.3C105.3,130.8 108.8,131.7 108.8,132.8C108.7,133.9 105.9,135.3 104.3,135.9C102.6,136.5 100.2,135.3 98.8,136.1C97.4,136.9 96.1,139.1 95.8,140.8C95.5,142.4 97.1,146.1 96.9,146.2C96.6,146.3 95.0,143.0 94.2,141.3C93.4,139.7 92.6,138.0 92.2,136.2C91.8,134.5 91.8,132.6 91.6,130.8C91.4,128.9 91.3,127.1 90.9,125.3C90.6,123.5 90.4,121.3 89.3,120.0C88.2,118.8 86.0,117.7 84.3,117.7C82.7,117.7 80.5,118.8 79.3,120.0C78.1,121.2 77.2,123.2 77.0,124.9C76.7,126.7 77.2,128.7 77.9,130.4C78.6,132.0 80.8,133.3 81.0,134.9C81.2,136.5 79.2,138.3 79.2,140.1C79.2,141.8 79.9,144.1 81.1,145.2C82.3,146.4 84.5,147.0 86.3,147.1C88.0,147.2 90.3,146.9 91.6,145.9C93.0,144.8 92.8,142.1 94.1,141.0C95.4,139.9 97.8,138.9 99.4,139.3C100.9,139.6 102.6,143.4 103.3,143.1C104.0,142.8 103.4,139.4 103.6,137.6C103.8,135.8 104.4,134.0 104.6,132.2C104.8,130.4 105.1,128.5 105.0,126.7C104.8,124.9 103.9,123.2 103.8,121.4C103.8,119.6 104.9,117.6 104.7,115.9C104.4,114.2 103.0,111.0 102.2,111.0C101.4,111.0 100.9,114.6 99.9,116.0C98.8,117.4 97.4,119.2 95.8,119.7C94.2,120.1 92.0,119.4 90.3,118.8C88.7,118.2 87.3,116.1 85.6,116.0C84.0,115.8 82.2,117.3 80.4,117.7C78.6,118.1 75.1,117.6 74.9,118.3C74.7,119.0 77.7,121.5 79.2,121.7C80.8,122.0 83.3,121.0 84.4,119.8C85.4,118.6 85.1,116.2 85.6,114.4C86.1,112.7 87.0,109.2 87.4,109.2C87.8,109.3 88.3,112.9 88.0,114.7C87.7,116.4 86.6,118.1 85.7,119.7C84.8,121.3 84.2,123.4 82.8,124.4C81.4,125.4 78.9,124.7 77.5,125.7C76.0,126.6 75.6,129.2 74.1,130.0C72.7,130.9 69.0,131.3 68.7,130.7C68.4,130.2 71.8,128.3 72.5,126.8C73.2,125.2 73.3,123.1 73.1,121.3C72.8,119.5 70.7,116.4 71.0,116.2C71.2,116.0 73.2,119.8 74.7,120.3C76.2,120.8 78.3,119.0 80.1,119.2C81.8,119.3 83.4,120.9 85.2,121.1C87.0,121.3 89.1,120.0 90.7,120.6C92.2,121.1 93.1,123.5 94.6,124.4C96.2,125.2 98.4,126.1 100.0,125.7C101.6,125.3 103.0,123.5 104.1,122.1C105.2,120.6 106.8,117.3 106.5,117.1C106.2,116.9 103.8,119.6 102.3,120.7C100.9,121.8 98.6,122.5 97.9,123.9C97.1,125.4 97.4,127.7 97.8,129.4C98.3,131.1 99.2,133.4 100.6,134.1C102.0,134.9 104.8,133.0 106.1,133.8C107.4,134.5 109.1,138.0 108.6,138.7C108.1,139.4 104.7,137.6 103.1,138.1C101.5,138.6 100.4,140.6 98.9,141.6C97.3,142.6 94.7,142.6 93.9,143.9C93.1,145.2 94.1,149.4 94.2,149.4C94.3,149.4 94.4,145.8 94.6,143.9C94.8,142.1 94.7,140.1 95.4,138.5C96.1,136.8 97.3,134.9 98.7,134.1C100.2,133.3 102.5,134.1 104.2,133.6C105.9,133.0 108.9,131.9 109.0,130.9C109.1,129.8 105.5,128.9 104.7,127.4C103.9,125.9 104.2,123.8 104.1,122.0C104.0,120.1 104.0,116.5 103.9,116.5C103.9,116.5 103.1,120.3 103.7,122.0C104.2,123.6 106.2,124.7 107.2,126.2C108.2,127.7 110.3,130.5 109.9,131.0C109.5,131.5 106.5,129.6 104.7,129.2C102.9,128.8 100.7,127.9 99.2,128.6C97.8,129.2 96.8,131.4 96.1,133.1C95.4,134.7 94.8,136.8 95.1,138.5C95.4,140.2 98.2,142.9 97.9,143.2C97.6,143.5 94.4,141.6 93.3,140.2C92.2,138.9 91.9,136.8 91.3,135.1C90.7,133.4 90.5,131.5 89.7,129.8C89.0,128.2 87.6,126.8 86.9,125.1C86.1,123.5 85.0,121.5 85.3,119.9C85.6,118.2 87.9,117.1 88.7,115.5C89.5,113.9 90.4,110.3 90.1,110.2C89.7,110.0 87.3,112.8 86.6,114.4C85.8,116.0 86.6,118.5 85.6,119.8C84.6,121.1 82.3,121.4 80.6,122.2C79.0,123.1 77.3,123.8 75.8,124.9C74.3,126.0 71.7,128.5 71.7,128.6C71.7,128.6 74.3,125.4 75.9,125.0C77.5,124.6 79.6,126.1 81.3,125.9C83.1,125.8 84.8,124.1 86.5,124.0C88.2,123.9 90.7,124.4 91.7,125.6C92.8,126.8 93.1,129.4 92.7,131.0C92.3,132.7 90.2,133.8 89.4,135.5C88.7,137.1 89.2,139.7 88.1,140.8C87.0,141.9 84.5,141.6 82.7,141.9C80.9,142.2 77.8,143.4 77.3,142.7C76.8,142.0 79.8,139.4 79.7,137.7C79.7,136.1 77.6,134.7 76.9,133.0C76.3,131.3 76.2,129.4 75.7,127.7C75.2,125.9 74.3,124.3 73.8,122.5C73.3,120.7 72.9,118.0 72.7,117.1" fill="none" stroke="#3b611f" stroke-width="1.6" stroke-linecap="round"/>
<circle cx="256" cy="279" r="44" fill="#f0da95"/>
<circle cx="232.2" cy="232.0" r="17" fill="#6aaf47"/>
<path d="M237.0,233.4C236.2,233.0 233.1,232.3 232.0,231.0C231.0,229.7 231.6,227.2 230.7,225.7C229.8,224.1 228.2,222.1 226.7,221.9C225.2,221.6 223.3,223.2 221.7,224.1C220.0,224.9 218.0,225.6 217.0,227.0C216.0,228.3 215.3,230.9 215.8,232.3C216.4,233.8 218.6,234.9 220.3,235.6C221.9,236.2 223.9,236.0 225.7,236.1C227.6,236.2 229.6,236.7 231.2,236.1C232.8,235.4 233.7,232.9 235.3,232.3C236.9,231.8 239.0,233.2 240.8,232.9C242.5,232.7 244.1,231.2 245.9,230.9C247.7,230.7 251.1,230.8 251.4,231.5C251.6,232.2 248.6,233.9 247.3,235.3C246.1,236.6 245.3,238.4 243.9,239.6C242.5,240.7 240.6,241.1 238.9,242.0C237.3,242.8 235.8,244.0 234.1,244.5C232.4,245.1 230.0,244.4 228.6,245.3C227.3,246.3 226.7,250.2 225.9,250.1C225.2,250.0 224.7,246.6 224.1,244.9C223.5,243.2 222.1,241.4 222.2,239.7C222.4,238.1 224.3,236.6 224.9,235.0C225.6,233.3 225.2,231.0 226.2,229.6C227.2,228.2 230.0,228.1 230.9,226.6C231.7,225.2 231.7,222.8 231.2,221.2C230.8,219.5 228.8,218.3 228.2,216.6C227.5,214.9 227.7,211.2 227.2,211.2C226.8,211.1 225.4,214.8 225.6,216.4C225.9,218.1 227.7,219.5 228.5,221.1C229.4,222.7 229.7,224.8 231.0,226.0C232.2,227.3 234.6,227.4 235.8,228.6C237.1,229.8 237.7,231.8 238.4,233.5C239.1,235.1 239.9,236.9 240.0,238.7C240.1,240.5 240.0,242.6 239.1,244.2C238.3,245.7 236.6,247.6 235.1,247.8C233.5,248.1 231.8,246.2 230.1,245.5C228.4,244.8 225.8,244.9 224.9,243.6C224.0,242.4 225.2,239.8 224.7,238.1C224.2,236.4 222.1,235.0 221.9,233.4C221.8,231.8 224.1,229.9 224.0,228.3C223.8,226.7 221.6,225.3 221.0,223.6C220.5,222.0 220.1,219.6 220.8,218.2C221.4,216.7 223.6,215.8 225.1,214.8C226.6,213.7 229.5,211.6 229.8,212.0C230.2,212.3 228.6,215.7 227.3,216.9C226.1,218.0 223.9,218.6 222.2,218.7C220.4,218.9 217.0,217.3 216.8,217.8C216.5,218.3 219.2,221.4 220.7,221.7C222.2,221.9 224.0,220.1 225.7,219.4C227.4,218.7 229.4,218.5 230.9,217.5C232.4,216.5 233.2,214.5 234.6,213.5C236.1,212.4 239.1,210.8 239.7,211.3C240.3,211.9 238.0,215.0 238.3,216.7C238.7,218.3 240.4,219.8 241.7,221.0C243.1,222.2 245.7,222.4 246.4,223.8C247.1,225.2 246.5,227.7 245.8,229.3C245.1,230.9 243.5,232.2 242.1,233.3C240.7,234.4 238.7,234.8 237.2,235.9C235.8,237.0 233.9,238.3 233.4,239.9C233.0,241.5 233.5,244.2 234.6,245.3C235.6,246.4 238.2,246.1 239.9,246.6C241.7,247.1 244.4,249.1 245.1,248.5C245.7,247.9 244.7,244.6 243.8,243.1C242.8,241.7 239.9,241.3 239.4,239.8C238.8,238.4 240.7,236.2 240.5,234.5C240.2,232.7 239.4,230.4 238.0,229.5C236.7,228.7 234.4,229.5 232.5,229.4C230.7,229.3 228.9,229.1 227.0,229.1C225.2,229.2 222.9,228.7 221.6,229.6C220.2,230.5 220.4,233.6 219.1,234.5C217.8,235.4 213.7,235.3 213.7,235.1C213.6,234.8 217.9,234.4 218.8,233.1C219.8,231.9 220.1,229.0 219.4,227.7C218.7,226.3 215.4,226.3 214.6,225.0C213.8,223.6 213.9,220.8 214.7,219.5C215.6,218.2 218.0,217.7 219.7,217.2C221.4,216.6 223.9,217.4 225.1,216.4C226.4,215.4 226.0,211.5 227.0,211.2C228.0,210.9 229.8,214.5 231.3,214.6C232.8,214.8 234.4,212.3 236.1,212.0C237.8,211.8 240.3,212.1 241.5,213.2C242.8,214.2 242.5,216.9 243.6,218.3C244.7,219.6 246.5,220.5 248.1,221.5C249.6,222.5 252.9,223.5 252.8,224.2C252.8,225.0 248.8,224.8 247.6,226.0C246.4,227.1 246.8,229.8 245.7,231.1C244.5,232.4 241.7,232.4 240.8,233.7C239.9,235.0 240.2,237.3 240.1,239.2C240.1,241.0 240.7,242.9 240.3,244.7C239.8,246.4 238.8,249.0 237.5,249.4C236.2,249.8 233.3,248.5 232.4,247.2C231.6,245.9 232.1,243.4 232.5,241.7C233.0,240.0 234.9,238.5 235.1,236.8C235.2,235.1 233.8,233.3 233.6,231.5C233.5,229.7 234.9,227.6 234.3,226.0C233.8,224.5 231.0,223.9 230.2,222.3C229.5,220.8 230.9,218.1 230.0,216.8C229.1,215.6 226.6,214.5 224.9,214.6C223.3,214.7 221.3,216.0 220.2,217.4C219.0,218.7 219.0,220.9 218.1,222.4C217.2,224.0 214.3,226.1 214.6,226.7C214.9,227.3 218.3,225.5 220.0,225.8C221.8,226.1 223.2,227.7 224.9,228.4C226.6,229.0 228.4,229.5 230.2,229.9C232.0,230.3 233.9,230.2 235.6,230.9C237.3,231.5 238.5,233.5 240.1,234.0C241.8,234.5 243.9,233.5 245.6,233.9C247.4,234.3 250.5,235.6 250.5,236.4C250.5,237.1 247.2,238.0 245.4,238.4C243.6,238.8 241.7,238.6 239.9,238.6C238.1,238.7 235.7,237.9 234.4,238.7C233.1,239.5 233.3,242.8 232.0,243.6C230.7,244.5 228.2,244.4 226.5,243.9C224.8,243.4 223.5,241.7 221.9,240.8C220.4,239.9 218.2,239.6 217.0,238.3C215.9,237.1 215.0,235.0 214.9,233.2C214.8,231.5 216.7,229.4 216.2,227.9C215.7,226.4 211.8,224.7 212.0,224.4C212.2,224.1 215.4,225.8 217.2,226.2C218.9,226.7 220.9,226.5 222.6,227.1C224.3,227.8 225.5,229.8 227.2,230.1C228.9,230.4 231.2,229.9 232.6,228.9C233.9,227.8 234.5,225.7 235.1,224.0C235.7,222.3 235.0,219.7 236.1,218.6C237.1,217.5 240.6,217.6 241.5,217.4" fill="none" stroke="#3b611f" stroke-width="1.6" stroke-linecap="round"/>
<circle cx="277.0" cy="230.6" r="17" fill="#6aaf47"/>
<path d="M282.8,233.2C283.6,232.7 285.9,230.9 287.6,230.6C289.3,230.2 291.4,230.6 293.1,231.1C294.7,231.7 297.6,234.2 297.7,234.1C297.7,234.1 294.8,231.9 293.2,230.9C291.7,229.9 289.4,229.6 288.4,228.2C287.4,226.9 287.5,224.6 287.4,222.8C287.3,221.0 288.4,218.9 287.8,217.3C287.2,215.8 285.1,214.9 283.9,213.5C282.7,212.1 281.4,208.9 280.7,209.0C279.9,209.2 279.2,212.7 279.4,214.4C279.6,216.1 281.4,217.6 281.8,219.3C282.2,221.1 281.1,223.2 281.7,224.8C282.3,226.4 283.9,227.9 285.4,228.9C286.8,229.9 288.8,230.8 290.5,230.9C292.3,230.9 295.7,229.1 295.8,229.4C296.0,229.7 293.1,232.1 291.4,232.7C289.7,233.3 287.7,233.2 285.9,232.9C284.1,232.6 282.3,230.6 280.8,230.9C279.2,231.2 278.2,233.5 276.8,234.7C275.3,235.8 272.9,236.3 272.2,237.7C271.4,239.1 272.6,241.4 272.3,243.2C272.0,245.0 270.4,248.4 270.5,248.4C270.6,248.4 271.6,244.7 272.8,243.4C273.9,242.1 275.8,240.9 277.5,240.6C279.2,240.3 281.3,240.8 283.0,241.4C284.6,242.0 285.9,243.8 287.6,244.4C289.2,245.0 291.5,245.5 293.0,244.9C294.5,244.3 296.7,241.8 296.5,240.7C296.3,239.5 292.7,239.2 291.8,237.8C290.9,236.5 290.7,233.9 291.3,232.4C291.9,230.8 294.6,230.2 295.3,228.6C296.1,227.1 296.6,224.1 295.8,223.1C294.9,222.2 292.1,223.0 290.3,223.1C288.5,223.3 286.3,224.8 284.9,224.2C283.4,223.6 283.0,220.3 281.6,219.8C280.1,219.3 277.9,220.5 276.2,221.1C274.5,221.8 272.9,223.5 271.3,223.5C269.6,223.6 267.1,222.8 266.1,221.5C265.2,220.3 264.8,216.6 265.5,216.1C266.2,215.6 268.9,217.5 270.4,218.5C272.0,219.5 273.1,221.1 274.7,221.9C276.3,222.7 278.5,222.4 280.1,223.2C281.7,224.0 282.7,225.9 284.2,226.8C285.8,227.7 287.7,228.7 289.4,228.6C291.1,228.5 294.5,227.0 294.5,226.4C294.4,225.8 290.9,225.5 289.2,225.0C287.4,224.6 285.5,224.4 283.8,223.8C282.1,223.2 280.4,222.3 278.9,221.4C277.3,220.4 275.8,219.3 274.4,218.2C272.9,217.1 271.6,214.9 270.1,214.7C268.6,214.6 266.7,216.3 265.3,217.4C263.9,218.5 261.4,220.2 261.5,221.4C261.7,222.5 265.1,222.9 266.2,224.3C267.3,225.6 268.3,228.0 268.0,229.5C267.6,231.0 264.5,232.0 264.2,233.5C263.9,235.0 265.9,236.9 266.1,238.6C266.2,240.4 265.4,244.0 265.0,244.0C264.7,244.0 264.9,240.1 264.1,238.6C263.3,237.1 261.4,236.2 260.0,235.0C258.6,233.8 255.8,231.4 255.8,231.4C255.9,231.3 258.7,233.8 260.3,234.6C261.9,235.4 264.2,235.1 265.6,236.1C267.0,237.2 267.5,239.3 268.7,240.7C269.8,242.1 272.2,243.0 272.6,244.5C273.1,246.0 271.8,249.8 271.3,249.8C270.7,249.8 269.4,246.3 269.5,244.6C269.6,242.9 271.9,241.3 271.9,239.6C271.9,238.0 270.5,236.2 269.3,234.8C268.2,233.4 265.8,232.8 265.1,231.3C264.4,229.8 265.4,227.6 265.3,225.8C265.3,223.9 265.7,221.5 264.7,220.3C263.7,219.1 260.3,218.0 259.5,218.6C258.7,219.3 260.5,222.5 260.0,224.1C259.4,225.7 255.9,227.6 256.2,228.1C256.5,228.6 260.0,227.9 261.6,227.2C263.3,226.5 264.4,224.6 266.0,223.9C267.7,223.2 270.3,223.9 271.4,222.9C272.6,221.8 272.3,219.3 273.1,217.6C273.8,216.0 274.9,212.9 275.9,212.9C276.9,212.9 278.6,215.7 279.1,217.4C279.7,219.0 278.6,221.2 279.2,222.9C279.7,224.5 282.4,225.7 282.5,227.3C282.5,228.8 280.9,230.7 279.7,232.0C278.5,233.3 276.8,234.4 275.2,235.3C273.6,236.1 271.9,237.0 270.1,237.4C268.4,237.8 266.3,237.0 264.7,237.6C263.0,238.2 260.9,241.4 260.4,241.1C259.8,240.7 260.3,236.9 261.4,235.7C262.4,234.4 264.7,234.1 266.4,233.5C268.1,232.8 269.8,232.0 271.6,231.7C273.4,231.3 275.2,231.2 277.1,231.2C278.9,231.1 280.8,231.5 282.6,231.3C284.4,231.1 286.6,231.0 287.9,229.9C289.2,228.9 290.0,226.9 290.6,225.2C291.2,223.5 291.9,219.9 291.5,219.7C291.2,219.6 289.9,223.3 288.5,224.3C287.1,225.3 285.0,225.7 283.2,225.8C281.4,225.9 279.2,224.2 277.8,224.7C276.3,225.3 274.8,227.6 274.5,229.2C274.3,230.8 276.5,232.7 276.4,234.3C276.3,236.0 274.7,237.6 273.8,239.2C272.9,240.8 271.0,242.2 270.8,243.8C270.6,245.5 271.9,249.1 272.5,249.1C273.0,249.1 273.3,245.3 274.2,243.9C275.2,242.4 277.0,241.4 278.3,240.1C279.6,238.9 280.6,236.6 282.1,236.2C283.7,235.8 286.0,238.0 287.5,237.5C288.9,237.0 289.3,233.8 290.8,233.1C292.3,232.4 296.3,233.0 296.3,233.1C296.3,233.2 292.2,232.7 290.8,233.6C289.4,234.5 288.2,236.7 288.1,238.4C287.9,240.0 289.7,241.8 289.8,243.6C290.0,245.4 289.6,248.9 289.0,249.0C288.4,249.1 287.6,245.1 286.2,244.2C284.9,243.4 282.2,243.3 280.7,244.0C279.3,244.7 278.5,248.3 277.4,248.3C276.2,248.4 275.2,245.2 273.7,244.2C272.2,243.2 270.1,242.0 268.6,242.3C267.0,242.7 264.7,246.2 264.7,246.2C264.6,246.2 266.9,243.0 268.5,242.2C270.0,241.5 272.7,242.8 273.9,241.8C275.1,240.9 275.5,238.4 275.7,236.6C275.8,234.8 275.5,232.8 274.8,231.2C274.2,229.5 273.3,227.6 271.9,226.5C270.6,225.4 267.6,225.0 266.7,224.7" fill="none" stroke="#3b611f" stroke-width="1.6" stroke-linecap="round"/>
<circle cx="305.0" cy="260.0" r="17" fill="#6aaf47"/>
<path d="M305.8,251.2C305.5,252.0 305.1,254.9 304.3,256.5C303.4,258.0 302.2,260.2 300.7,260.7C299.2,261.1 297.2,259.6 295.4,259.3C293.6,258.9 291.4,259.6 289.9,258.8C288.5,258.0 286.3,254.8 286.6,254.4C286.9,254.0 290.1,256.3 291.8,256.3C293.5,256.2 295.2,254.9 296.9,254.3C298.6,253.6 300.2,252.7 302.0,252.2C303.8,251.8 305.9,251.1 307.5,251.6C309.1,252.1 310.2,254.0 311.5,255.3C312.9,256.5 314.9,257.6 315.4,259.2C316.0,260.7 314.6,262.9 314.8,264.6C315.0,266.4 315.4,268.7 316.5,269.9C317.6,271.1 321.3,272.3 321.6,271.9C322.0,271.4 319.2,268.9 318.7,267.2C318.1,265.5 319.2,263.0 318.3,261.7C317.4,260.5 315.0,259.8 313.3,259.6C311.5,259.5 309.4,259.9 307.9,260.8C306.3,261.6 305.3,263.3 304.0,264.7C302.8,266.1 302.0,268.2 300.5,268.9C299.0,269.6 296.7,268.4 295.0,268.9C293.3,269.4 290.2,271.2 290.3,271.8C290.4,272.3 294.3,271.2 295.8,272.0C297.3,272.8 299.0,276.5 299.1,276.4C299.2,276.3 297.7,272.8 296.5,271.5C295.3,270.3 293.4,269.0 291.7,268.8C290.0,268.6 287.0,270.9 286.4,270.3C285.9,269.6 288.6,266.8 288.5,265.2C288.4,263.5 285.5,260.7 285.9,260.3C286.2,260.0 289.0,262.8 290.7,263.0C292.4,263.3 294.6,261.3 296.0,261.8C297.5,262.4 297.9,265.1 299.3,266.3C300.6,267.4 302.7,267.7 304.2,268.8C305.6,269.9 306.3,272.1 307.8,272.9C309.4,273.7 311.5,273.7 313.3,273.5C315.1,273.2 317.5,272.6 318.4,271.3C319.2,270.1 319.0,267.5 318.5,265.8C318.0,264.2 316.7,262.6 315.5,261.3C314.2,260.0 312.6,258.2 311.0,258.1C309.4,257.9 307.2,259.2 306.0,260.4C304.8,261.7 304.4,263.8 303.9,265.5C303.4,267.3 303.5,269.2 303.3,271.0C303.0,272.8 302.8,274.6 302.4,276.4C301.9,278.2 301.2,281.6 300.5,281.6C299.8,281.6 298.9,278.3 298.3,276.5C297.7,274.8 297.6,272.9 296.8,271.2C296.0,269.6 294.9,268.1 293.5,266.8C292.2,265.6 289.5,265.3 288.9,263.9C288.2,262.5 289.1,260.2 289.6,258.5C290.0,256.7 291.7,254.7 291.4,253.3C291.0,251.8 287.8,249.3 287.3,249.5C286.8,249.8 287.8,253.2 288.3,254.9C288.9,256.7 291.0,258.4 290.8,259.9C290.6,261.4 287.6,262.5 287.2,264.1C286.9,265.7 288.0,269.4 288.6,269.4C289.3,269.5 289.7,265.5 291.0,264.5C292.3,263.4 294.6,263.2 296.4,263.2C298.2,263.1 300.6,263.1 301.8,264.1C302.9,265.2 302.4,267.9 303.3,269.4C304.2,271.0 306.2,271.9 307.2,273.4C308.1,274.9 309.6,278.2 309.3,278.5C308.9,278.7 306.6,275.5 305.0,275.0C303.3,274.5 301.3,275.4 299.5,275.5C297.7,275.5 295.1,276.1 294.0,275.1C292.9,274.2 294.1,270.8 293.1,269.7C292.0,268.6 287.7,268.8 287.7,268.5C287.7,268.1 291.3,267.9 293.1,267.4C294.9,267.0 296.6,266.3 298.4,266.0C300.2,265.7 302.6,266.8 303.9,265.9C305.2,265.1 306.2,262.5 306.1,260.9C306.0,259.3 304.1,257.8 303.3,256.2C302.5,254.5 302.5,252.2 301.3,251.1C300.1,249.9 297.6,248.8 296.1,249.1C294.6,249.4 292.7,251.5 292.3,253.1C291.9,254.6 293.7,256.5 293.9,258.3C294.0,260.1 294.4,262.6 293.4,263.8C292.5,265.1 288.9,266.4 288.3,265.9C287.8,265.4 290.2,262.4 290.2,260.7C290.1,259.0 288.4,257.4 288.1,255.6C287.8,253.9 287.7,251.7 288.3,250.1C289.0,248.6 290.8,246.1 292.1,246.1C293.4,246.1 294.5,249.6 296.0,249.9C297.6,250.2 299.5,248.6 301.2,248.0C303.0,247.5 304.8,246.5 306.5,246.6C308.3,246.7 310.0,247.9 311.7,248.6C313.4,249.2 315.5,249.4 316.8,250.5C318.1,251.6 318.3,254.1 319.6,255.3C320.9,256.4 324.7,256.9 324.6,257.5C324.6,258.0 321.0,258.3 319.2,258.4C317.4,258.6 315.2,257.4 313.7,258.1C312.3,258.8 311.5,261.0 310.6,262.6C309.6,264.1 309.0,266.0 307.9,267.4C306.8,268.8 304.8,269.7 304.0,271.3C303.2,272.8 304.0,276.5 303.2,276.7C302.4,276.9 300.8,273.9 299.4,272.7C298.0,271.5 295.6,271.0 294.9,269.5C294.3,268.1 295.0,265.8 295.5,264.1C296.0,262.3 297.1,260.8 297.9,259.1C298.8,257.5 299.1,255.2 300.4,254.2C301.8,253.2 304.0,253.1 305.8,253.1C307.6,253.1 309.4,254.0 311.1,254.5C312.9,255.0 314.6,255.8 316.4,256.0C318.2,256.2 320.4,255.2 321.9,255.9C323.4,256.6 325.8,259.4 325.5,260.1C325.1,260.8 321.7,259.9 320.0,260.2C318.2,260.5 316.0,260.8 314.7,262.0C313.5,263.1 312.6,265.3 312.5,267.0C312.5,268.7 314.0,270.4 314.3,272.2C314.7,274.0 314.7,277.7 314.8,277.7C314.9,277.7 314.9,274.0 314.7,272.2C314.6,270.4 314.5,268.5 314.0,266.7C313.5,265.0 312.4,263.4 311.8,261.7C311.2,260.0 311.2,257.9 310.3,256.4C309.3,254.9 306.6,254.4 306.1,252.9C305.6,251.4 306.6,249.2 307.3,247.5C308.0,245.9 310.0,242.8 310.3,242.9C310.5,243.0 309.8,246.8 308.7,248.1C307.6,249.4 305.4,250.7 303.8,250.6C302.2,250.5 300.5,248.8 299.3,247.5C298.1,246.1 297.3,242.5 296.8,242.6C296.3,242.7 296.1,246.3 296.2,248.1C296.3,249.9 296.8,251.7 297.3,253.4C297.9,255.2 298.7,256.9 299.5,258.5C300.3,260.2 300.7,262.5 302.1,263.4C303.4,264.2 306.6,263.4 307.6,263.4" fill="none" stroke="#3b611f" stroke-width="1.6" stroke-linecap="round"/>
<circle cx="295.2" cy="296.4" r="17" fill="#6aaf47"/>
<path d="M303.7,301.9C302.8,301.9 299.9,302.7 298.2,302.2C296.6,301.7 295.1,300.2 293.7,299.0C292.4,297.8 290.6,296.5 290.1,294.9C289.5,293.3 290.0,291.2 290.4,289.4C290.7,287.7 291.1,285.7 292.1,284.2C293.1,282.8 294.7,281.3 296.3,280.6C297.9,280.0 300.0,280.8 301.8,280.4C303.6,279.9 306.9,278.2 306.8,278.1C306.8,278.0 302.7,278.6 301.5,279.7C300.3,280.8 300.3,283.2 299.6,284.8C298.8,286.5 298.3,288.9 296.9,289.6C295.6,290.3 293.3,288.9 291.5,289.0C289.7,289.2 287.7,289.5 286.2,290.4C284.6,291.3 283.4,293.0 282.4,294.4C281.4,295.9 280.1,297.7 279.9,299.4C279.8,301.1 281.4,302.9 281.3,304.7C281.2,306.4 279.6,309.9 279.4,309.9C279.2,309.8 279.6,306.2 279.9,304.4C280.3,302.6 281.6,300.9 281.7,299.2C281.8,297.4 281.3,295.2 280.3,293.8C279.3,292.5 275.8,290.8 275.6,291.0C275.4,291.2 277.8,294.0 279.1,295.2C280.5,296.4 282.3,297.1 283.7,298.3C285.1,299.4 286.2,301.0 287.4,302.3C288.7,303.6 290.8,304.6 291.4,306.2C291.9,307.7 290.2,310.2 290.8,311.7C291.5,313.1 294.0,315.1 295.3,314.9C296.5,314.7 297.8,312.0 298.3,310.3C298.9,308.6 298.7,306.7 298.7,304.8C298.7,303.0 298.7,301.1 298.2,299.4C297.7,297.6 296.8,295.9 295.6,294.5C294.5,293.1 291.9,292.6 291.3,291.1C290.7,289.6 292.5,287.4 292.2,285.7C291.9,284.0 289.9,282.5 289.6,280.8C289.2,279.1 290.2,275.4 290.0,275.3C289.8,275.3 288.2,279.1 288.6,280.6C289.0,282.2 291.6,283.1 292.3,284.7C293.0,286.3 291.7,288.9 292.5,290.2C293.4,291.5 295.7,292.5 297.4,292.7C299.1,293.0 301.3,292.5 302.8,291.6C304.4,290.8 305.9,289.3 306.8,287.8C307.7,286.3 308.7,282.8 308.3,282.5C307.9,282.3 304.8,285.0 304.5,286.5C304.1,288.0 305.1,290.4 306.2,291.7C307.3,293.0 309.4,293.6 311.1,294.3C312.8,295.0 316.4,295.8 316.4,295.8C316.4,295.9 312.8,295.0 311.0,294.6C309.2,294.2 307.1,294.5 305.6,293.6C304.1,292.7 302.4,290.8 302.3,289.3C302.1,287.7 303.2,285.1 304.5,284.2C305.8,283.3 308.6,283.1 310.0,283.8C311.3,284.6 312.5,287.1 312.4,288.7C312.4,290.3 311.0,292.8 309.6,293.4C308.2,294.1 305.8,293.4 304.2,292.7C302.5,292.0 300.9,290.7 299.8,289.3C298.7,288.0 298.0,286.1 297.4,284.4C296.8,282.7 296.8,279.2 296.0,279.1C295.2,278.9 293.6,281.9 292.7,283.4C291.8,285.0 291.9,287.5 290.7,288.6C289.5,289.6 287.1,289.3 285.3,289.8C283.6,290.3 281.1,290.5 280.2,291.8C279.3,293.0 280.6,295.8 279.9,297.3C279.1,298.8 275.9,301.0 275.6,300.7C275.3,300.5 276.8,296.9 278.0,295.8C279.3,294.7 281.5,293.9 283.2,293.9C284.9,294.0 287.2,294.7 288.4,295.9C289.5,297.1 289.4,299.4 290.0,301.1C290.7,302.8 290.9,305.0 292.1,306.2C293.3,307.4 295.5,308.2 297.2,308.2C299.0,308.3 300.7,307.1 302.5,306.6C304.3,306.2 306.1,305.5 307.9,305.5C309.7,305.5 313.3,306.4 313.3,306.6C313.3,306.7 309.3,305.7 307.8,306.3C306.2,306.9 305.4,309.9 303.9,310.3C302.4,310.6 299.6,309.7 298.7,308.5C297.8,307.2 297.8,304.4 298.5,303.0C299.3,301.6 301.6,301.0 303.2,300.1C304.8,299.1 307.2,298.8 308.0,297.4C308.9,296.1 308.8,293.6 308.3,291.9C307.8,290.3 306.1,289.0 305.1,287.4C304.2,285.9 302.6,284.2 302.6,282.6C302.5,280.9 304.1,277.5 304.7,277.5C305.3,277.6 306.4,281.3 306.0,282.9C305.6,284.4 303.7,285.8 302.2,286.8C300.8,287.9 298.9,288.4 297.3,289.3C295.8,290.3 294.6,292.1 292.9,292.6C291.3,293.2 289.2,292.4 287.4,292.6C285.6,292.8 283.8,293.4 282.0,293.7C280.2,294.0 277.8,293.4 276.6,294.4C275.4,295.3 274.5,298.0 274.8,299.6C275.2,301.2 277.0,303.6 278.4,303.8C279.8,304.0 281.4,301.2 283.1,300.9C284.8,300.5 286.7,301.7 288.5,301.7C290.3,301.7 292.2,301.3 293.9,300.8C295.7,300.2 297.9,299.8 298.9,298.5C300.0,297.2 299.1,294.4 300.1,293.1C301.2,291.9 303.8,292.1 305.2,291.0C306.5,289.8 306.8,287.4 308.1,286.3C309.5,285.2 313.0,284.0 313.3,284.4C313.6,284.8 310.3,287.2 310.0,288.8C309.8,290.4 311.7,292.2 312.0,294.0C312.2,295.8 312.3,298.1 311.3,299.5C310.4,300.8 308.1,301.3 306.4,301.9C304.7,302.4 302.8,302.7 301.0,302.7C299.2,302.7 297.3,301.4 295.6,301.6C293.8,301.8 292.1,304.0 290.5,303.8C289.0,303.6 287.8,300.7 286.2,300.3C284.6,300.0 282.4,300.8 280.9,301.7C279.4,302.6 277.0,305.3 277.3,305.8C277.6,306.3 281.1,305.4 282.6,304.6C284.2,303.7 285.2,301.9 286.7,300.8C288.1,299.8 290.5,299.5 291.4,298.1C292.3,296.7 292.7,294.1 292.1,292.6C291.5,291.2 289.2,290.4 287.6,289.5C286.0,288.6 284.2,288.1 282.6,287.2C281.0,286.3 278.1,284.0 278.1,284.0C278.1,283.9 282.0,285.5 282.8,286.9C283.5,288.4 283.1,290.8 282.5,292.4C281.9,294.1 280.5,296.2 279.0,296.7C277.6,297.2 273.7,295.7 273.7,295.4C273.7,295.1 277.4,294.7 279.2,294.9C281.0,295.0 282.9,295.4 284.5,296.2C286.1,297.0 287.2,299.0 288.8,299.7C290.4,300.3 292.6,300.7 294.2,300.2C295.9,299.7 297.8,297.3 298.5,296.8" fill="none" stroke="#3b611f" stroke-width="1.6" stroke-linecap="round"/>
<circle cx="258.8" cy="320.2" r="17" fill="#6aaf47"/>
<path d="M256.2,322.1C255.4,322.5 252.8,323.4 251.1,324.1C249.4,324.7 247.5,325.2 246.0,326.2C244.5,327.2 242.4,330.3 242.2,330.1C241.9,330.0 243.1,326.0 244.4,325.1C245.7,324.2 248.5,325.8 249.9,324.9C251.3,324.1 252.6,321.7 252.6,320.1C252.6,318.5 250.4,317.1 249.8,315.4C249.3,313.7 248.5,311.3 249.2,309.9C249.9,308.5 252.4,307.3 254.0,307.2C255.7,307.1 257.9,307.9 259.2,309.1C260.4,310.2 260.3,313.0 261.5,314.1C262.8,315.2 265.1,315.8 266.8,315.7C268.5,315.5 270.4,314.5 271.8,313.4C273.2,312.2 274.9,308.8 275.1,309.0C275.3,309.1 273.3,312.3 273.1,314.1C272.8,315.9 273.2,317.8 273.6,319.6C274.0,321.3 276.0,324.5 275.7,324.7C275.4,324.8 272.5,322.2 271.9,320.7C271.3,319.1 272.8,316.7 272.1,315.2C271.5,313.6 269.4,312.7 268.1,311.5C266.7,310.2 265.0,309.1 264.2,307.6C263.3,306.0 264.0,303.3 262.9,302.2C261.8,301.1 258.5,300.3 257.6,301.0C256.6,301.7 257.2,304.7 257.3,306.5C257.3,308.3 257.3,310.2 257.6,312.0C258.0,313.8 259.5,315.6 259.2,317.2C258.9,318.8 257.0,320.2 255.8,321.6C254.7,323.0 253.3,324.2 252.1,325.6C251.0,327.1 250.5,329.5 249.1,330.2C247.7,330.9 243.8,330.2 243.6,329.6C243.4,329.0 246.5,326.6 248.1,326.4C249.7,326.3 252.0,327.4 253.1,328.6C254.3,329.8 255.0,332.0 255.0,333.8C255.1,335.5 253.9,339.0 253.3,339.0C252.7,339.0 251.7,335.6 251.4,333.8C251.2,332.0 251.7,330.2 251.8,328.3C251.9,326.5 251.3,324.0 252.2,322.8C253.2,321.7 256.0,320.8 257.5,321.2C259.0,321.6 259.8,324.1 261.1,325.3C262.5,326.5 264.7,327.0 265.7,328.4C266.7,329.8 266.3,332.1 267.0,333.7C267.7,335.4 269.6,338.5 270.0,338.4C270.3,338.3 268.6,334.5 269.1,333.0C269.6,331.4 271.4,329.8 272.9,329.0C274.5,328.2 278.3,328.0 278.4,328.3C278.4,328.5 274.8,330.6 273.3,330.3C271.7,330.1 270.4,328.1 269.0,326.9C267.6,325.7 266.2,324.5 265.0,323.1C263.8,321.7 262.5,320.3 261.8,318.6C261.2,317.0 260.5,314.6 261.1,313.2C261.7,311.7 263.8,310.5 265.5,309.9C267.1,309.3 269.1,309.3 271.0,309.4C272.8,309.4 276.4,310.0 276.4,310.4C276.4,310.7 272.7,311.5 270.9,311.3C269.2,311.1 267.5,310.0 265.9,309.2C264.2,308.4 261.9,307.7 261.2,306.3C260.5,305.0 262.3,301.2 261.7,300.9C261.1,300.5 259.0,304.3 257.5,304.4C256.0,304.6 253.0,301.5 252.6,301.9C252.3,302.3 254.5,305.1 255.3,306.7C256.1,308.4 256.5,310.2 257.5,311.7C258.5,313.2 260.6,314.2 261.2,315.8C261.8,317.4 261.8,319.7 261.3,321.3C260.7,323.0 258.4,324.1 258.0,325.7C257.6,327.4 258.2,329.5 258.7,331.2C259.3,332.9 260.8,334.5 261.1,336.2C261.3,337.9 259.8,341.5 260.0,341.6C260.2,341.6 261.3,338.1 262.1,336.5C262.9,334.9 264.7,333.4 264.9,331.8C265.2,330.1 264.2,328.1 263.5,326.5C262.7,324.8 260.6,323.5 260.4,321.9C260.2,320.3 262.5,318.4 262.3,316.8C262.2,315.1 260.4,313.7 259.4,312.1C258.3,310.6 256.2,309.2 256.1,307.7C256.0,306.2 258.9,303.0 258.9,303.0C258.9,303.0 256.9,306.1 256.2,307.7C255.4,309.4 255.7,311.9 254.5,313.0C253.3,314.1 250.7,314.7 249.2,314.2C247.6,313.8 246.2,311.8 245.4,310.2C244.6,308.6 244.7,304.8 244.5,304.8C244.4,304.8 244.1,308.5 244.4,310.3C244.6,312.1 246.2,313.8 246.2,315.5C246.2,317.2 245.1,319.1 244.1,320.6C243.1,322.1 240.1,324.2 240.3,324.5C240.4,324.7 243.5,322.4 245.3,322.2C247.0,322.0 249.6,322.3 250.7,323.4C251.7,324.5 252.2,327.2 251.8,328.8C251.4,330.4 249.8,332.3 248.3,333.1C246.8,333.9 243.4,334.3 242.8,333.6C242.3,332.8 243.9,329.9 245.0,328.6C246.2,327.2 248.2,326.7 249.7,325.6C251.2,324.5 252.4,322.5 254.0,322.2C255.6,321.9 257.5,323.2 259.3,323.7C261.1,324.2 263.5,324.1 264.6,325.3C265.6,326.4 264.5,329.6 265.5,330.7C266.6,331.8 269.7,330.9 270.9,332.0C272.0,333.0 272.4,337.2 272.5,337.2C272.6,337.2 271.4,333.7 271.2,331.9C271.0,330.1 270.8,328.2 271.1,326.4C271.4,324.6 272.3,322.9 272.7,321.1C273.2,319.3 272.9,317.2 273.7,315.7C274.5,314.2 277.7,312.0 277.6,311.9C277.6,311.8 275.0,314.6 273.3,315.3C271.7,316.0 269.7,315.9 267.9,316.1C266.1,316.3 264.2,316.7 262.4,316.4C260.6,316.1 258.9,315.2 257.2,314.5C255.5,313.9 253.6,313.5 252.1,312.5C250.6,311.5 249.9,309.1 248.4,308.5C246.8,307.8 243.5,307.5 242.9,308.3C242.2,309.2 243.4,312.3 244.5,313.6C245.5,314.9 248.0,315.0 249.3,316.2C250.6,317.5 251.1,319.4 252.2,320.9C253.2,322.4 254.4,323.9 255.5,325.3C256.7,326.7 257.6,328.5 259.1,329.5C260.5,330.5 262.9,330.1 264.3,331.1C265.8,332.0 266.5,334.5 268.0,335.2C269.5,335.9 273.5,335.4 273.5,335.4C273.5,335.3 269.8,335.0 268.0,335.0C266.2,335.0 263.9,334.4 262.5,335.2C261.2,336.1 260.4,340.2 259.9,340.1C259.5,340.0 260.5,336.0 259.7,334.6C258.9,333.1 256.8,331.6 255.2,331.4C253.6,331.2 251.6,332.5 250.0,333.3C248.4,334.2 245.7,336.8 245.6,336.6C245.4,336.4 248.5,333.1 249.1,332.4" fill="none" stroke="#3b611f" stroke-width="1.6" stroke-linecap="round"/>
<circle cx="218.2" cy="306.2" r="17" fill="#6aaf47"/>
<path d="M209.6,310.0C208.7,309.8 205.6,309.7 204.2,308.8C202.8,307.8 201.3,304.1 201.3,304.1C201.3,304.1 203.4,307.1 204.4,308.7C205.3,310.2 205.8,312.5 207.2,313.4C208.6,314.2 211.1,313.1 212.7,313.7C214.4,314.3 215.5,316.4 217.1,316.9C218.8,317.5 221.3,316.0 222.6,316.8C224.0,317.6 225.4,321.5 225.1,321.8C224.7,322.1 221.2,320.0 220.6,318.6C220.0,317.1 221.6,314.9 221.5,313.1C221.4,311.3 219.6,309.3 220.0,307.8C220.5,306.3 223.7,305.6 224.1,304.1C224.4,302.6 223.1,300.4 222.1,298.9C221.1,297.5 219.1,296.7 218.0,295.3C216.8,293.9 216.4,291.8 215.1,290.6C213.8,289.4 210.2,288.1 210.3,288.0C210.3,288.0 213.7,289.4 215.2,290.4C216.8,291.4 218.7,292.4 219.4,293.9C220.2,295.4 219.2,297.7 219.6,299.4C220.1,301.2 221.8,302.5 222.3,304.2C222.8,306.0 222.7,307.9 222.8,309.7C222.9,311.5 223.3,313.5 222.9,315.2C222.5,317.0 221.8,319.4 220.4,320.1C219.1,320.9 216.8,319.9 215.0,319.7C213.1,319.5 211.4,318.8 209.5,318.8C207.7,318.7 204.2,319.8 204.1,319.6C204.1,319.4 207.7,317.2 209.2,317.6C210.7,317.9 212.7,320.1 213.0,321.6C213.2,323.1 211.5,326.6 210.8,326.6C210.1,326.6 208.5,323.1 208.7,321.5C209.0,320.0 211.7,318.9 212.3,317.3C212.8,315.7 211.8,313.5 212.2,311.8C212.6,310.0 214.4,308.4 214.4,306.8C214.4,305.1 212.9,303.4 212.2,301.8C211.4,300.1 210.2,298.5 209.9,296.8C209.6,295.0 209.6,292.5 210.5,291.3C211.5,290.1 214.1,290.2 215.7,289.3C217.2,288.4 219.7,285.6 219.8,285.7C220.0,285.9 217.7,288.7 216.6,290.2C215.5,291.6 213.5,292.9 213.2,294.5C212.8,296.1 213.8,298.2 214.6,299.8C215.4,301.4 216.5,303.2 217.9,304.1C219.4,305.1 221.7,304.8 223.2,305.7C224.6,306.7 225.7,308.5 226.5,310.1C227.4,311.7 227.0,314.2 228.2,315.3C229.3,316.5 233.0,317.4 233.5,316.8C233.9,316.3 231.1,313.6 231.0,311.9C230.9,310.3 231.8,308.2 232.8,306.8C233.8,305.3 237.3,303.7 237.1,303.2C236.9,302.8 233.1,304.8 231.7,304.2C230.2,303.7 229.4,301.3 228.3,299.9C227.1,298.5 226.0,296.8 224.5,295.9C223.0,295.0 220.9,294.6 219.2,294.6C217.4,294.6 215.5,295.2 213.8,295.9C212.1,296.6 210.6,297.7 209.1,298.8C207.7,299.9 206.0,301.1 205.1,302.6C204.3,304.1 203.9,306.1 203.7,307.9C203.5,309.7 204.6,311.9 204.0,313.4C203.3,314.9 200.3,317.4 199.9,317.1C199.6,316.9 201.8,313.7 201.9,312.0C202.0,310.3 200.0,306.9 200.3,306.7C200.7,306.5 203.5,309.2 204.0,310.8C204.5,312.4 203.6,316.3 203.6,316.3C203.6,316.3 203.5,312.5 204.0,310.8C204.5,309.1 205.3,307.2 206.5,305.9C207.7,304.7 210.2,304.5 211.3,303.1C212.3,301.8 212.9,299.6 212.9,297.9C213.0,296.1 212.0,294.3 211.5,292.6C211.1,290.8 210.0,287.3 210.2,287.2C210.5,287.1 212.3,290.3 213.2,291.8C214.1,293.4 215.6,295.0 215.9,296.7C216.1,298.4 215.7,300.6 214.9,302.1C214.0,303.6 212.4,305.3 210.8,305.8C209.2,306.3 206.8,305.8 205.4,304.9C203.9,304.1 201.8,300.9 202.0,300.6C202.2,300.4 204.9,303.1 206.6,303.5C208.3,303.9 210.3,303.2 212.1,303.2C214.0,303.1 215.8,303.6 217.6,303.4C219.4,303.2 221.4,301.6 222.9,302.0C224.5,302.4 225.6,304.6 227.0,305.8C228.4,306.9 229.8,308.1 231.3,309.1C232.8,310.2 235.9,312.1 235.8,312.3C235.7,312.5 232.3,311.2 230.7,310.4C229.0,309.6 227.7,307.6 226.1,307.4C224.4,307.2 222.4,309.5 220.9,309.2C219.3,308.9 218.2,306.7 216.9,305.5C215.5,304.2 214.5,302.4 212.9,301.6C211.4,300.8 208.9,301.7 207.5,300.8C206.0,300.0 205.7,297.0 204.3,296.4C202.8,295.8 198.8,296.8 198.8,297.2C198.8,297.5 203.0,297.3 204.2,298.3C205.3,299.4 204.6,302.5 205.8,303.6C207.0,304.7 209.9,303.9 211.1,304.9C212.3,306.0 212.7,308.3 213.1,310.1C213.5,311.8 213.8,313.8 213.4,315.6C213.1,317.3 211.6,318.8 211.0,320.5C210.4,322.2 209.4,325.7 209.7,325.8C209.9,326.0 212.1,322.9 212.7,321.3C213.3,319.6 212.2,317.1 213.1,315.8C214.0,314.4 216.2,313.9 217.8,313.0C219.4,312.1 221.0,310.7 222.7,310.5C224.5,310.2 226.6,310.6 228.2,311.4C229.7,312.1 230.6,314.4 232.2,315.1C233.8,315.8 237.7,315.0 237.7,315.3C237.7,315.7 233.6,315.9 232.5,317.1C231.4,318.3 231.0,322.4 230.9,322.4C230.8,322.3 231.7,318.8 232.0,317.0C232.2,315.2 232.6,313.3 232.6,311.5C232.6,309.7 231.6,307.8 231.8,306.1C232.0,304.3 233.7,302.6 233.7,300.9C233.8,299.2 233.2,296.8 232.0,295.7C230.9,294.5 228.4,293.6 226.8,293.9C225.2,294.2 223.3,296.0 222.6,297.5C221.9,299.0 222.1,301.3 222.5,303.0C222.9,304.7 223.8,306.6 225.1,307.8C226.4,309.0 228.4,309.5 230.0,310.2C231.7,310.9 234.8,312.5 235.2,312.0C235.6,311.5 233.3,308.9 232.4,307.3C231.5,305.7 229.9,304.1 229.9,302.4C229.8,300.8 231.2,299.0 232.0,297.4C232.9,295.8 235.4,293.7 235.1,292.8C234.7,291.8 231.2,291.2 229.7,291.7C228.2,292.2 227.5,295.3 226.0,295.8C224.5,296.3 221.9,295.6 220.7,294.6C219.4,293.5 218.7,290.4 218.3,289.6" fill="none" stroke="#3b611f" stroke-width="1.6" stroke-linecap="round"/>
<circle cx="207.0" cy="267.0" r="17" fill="#6aaf47"/>
<path d="M213.1,267.3C213.7,266.7 215.3,263.8 216.8,263.2C218.3,262.7 221.0,262.9 222.2,263.9C223.4,264.8 224.6,267.9 224.0,269.1C223.4,270.2 220.5,270.3 218.8,270.8C217.0,271.3 215.2,272.0 213.4,272.1C211.6,272.2 209.6,271.0 208.0,271.5C206.3,271.9 205.2,274.1 203.5,274.7C201.8,275.2 199.7,274.4 198.0,274.9C196.3,275.4 193.3,277.8 193.4,277.9C193.5,278.1 197.0,276.8 198.4,275.7C199.9,274.6 200.9,273.0 201.9,271.4C202.9,269.9 203.4,268.0 204.6,266.6C205.8,265.3 207.5,264.4 209.0,263.4C210.6,262.4 212.5,262.0 213.9,260.8C215.2,259.6 215.6,256.9 217.0,256.3C218.4,255.6 222.1,255.9 222.5,256.7C222.8,257.5 219.4,259.5 219.1,261.1C218.8,262.7 221.1,264.8 220.8,266.3C220.4,267.9 218.4,269.3 216.9,270.3C215.4,271.2 213.5,271.8 211.7,272.0C209.9,272.3 208.1,271.8 206.2,271.7C204.4,271.5 202.4,270.7 200.8,271.2C199.1,271.7 196.9,273.1 196.4,274.5C195.9,276.0 197.5,278.1 197.8,279.9C198.1,281.7 197.4,284.6 198.4,285.3C199.4,286.0 202.6,285.1 203.8,284.0C205.0,282.9 205.9,280.4 205.6,278.8C205.3,277.2 203.6,275.1 202.1,274.6C200.6,274.0 198.1,274.5 196.7,275.5C195.2,276.4 193.3,279.7 193.6,280.1C194.0,280.4 196.9,277.8 198.6,277.6C200.3,277.5 202.0,278.9 203.8,279.2C205.6,279.5 207.8,279.9 209.3,279.3C210.9,278.7 211.7,276.0 213.3,275.5C214.8,274.9 217.6,275.1 218.7,276.1C219.9,277.1 220.9,280.5 220.2,281.4C219.6,282.2 216.2,280.5 214.7,281.2C213.2,281.9 211.9,285.7 211.3,285.5C210.8,285.3 211.1,281.8 211.6,280.0C212.1,278.3 214.0,277.0 214.4,275.3C214.7,273.6 214.4,271.3 213.5,269.8C212.6,268.4 210.5,267.7 209.1,266.6C207.7,265.4 205.4,264.4 204.9,263.0C204.5,261.5 205.4,258.7 206.5,257.7C207.7,256.7 210.7,258.1 212.0,257.1C213.3,256.2 214.3,253.7 214.2,252.1C214.1,250.4 212.8,248.1 211.4,247.3C210.0,246.6 207.7,247.7 205.9,247.7C204.1,247.7 201.4,246.6 200.4,247.5C199.4,248.4 199.7,251.2 199.8,253.0C200.0,254.7 201.6,256.5 201.5,258.2C201.3,259.9 200.0,261.8 198.7,263.0C197.4,264.1 195.0,264.0 193.6,265.0C192.2,266.1 189.8,268.6 190.1,269.3C190.5,270.1 194.3,270.4 195.6,269.6C196.9,268.8 196.7,265.9 197.9,264.5C199.1,263.2 200.9,262.3 202.6,261.7C204.3,261.1 206.2,260.6 208.0,260.7C209.8,260.9 211.5,261.8 213.2,262.6C214.8,263.4 216.2,264.7 217.9,265.4C219.6,266.2 221.7,266.1 223.2,267.0C224.7,267.9 227.0,269.9 226.8,271.1C226.7,272.3 223.8,273.1 222.4,274.3C221.0,275.5 219.8,276.9 218.6,278.3C217.3,279.6 215.9,282.8 215.1,282.6C214.4,282.4 215.0,278.7 214.1,277.2C213.3,275.6 210.7,274.8 210.2,273.3C209.8,271.8 210.8,269.6 211.6,268.0C212.3,266.3 214.2,265.1 214.6,263.4C215.0,261.7 214.4,259.7 213.8,257.9C213.2,256.2 212.4,254.2 211.1,253.1C209.8,252.1 207.6,252.0 205.9,251.5C204.1,251.0 202.4,250.2 200.6,249.9C198.8,249.6 196.8,249.1 195.1,249.5C193.4,249.9 191.6,251.1 190.4,252.4C189.2,253.7 188.3,255.5 187.8,257.2C187.4,259.0 186.7,262.2 187.5,262.7C188.3,263.3 191.0,260.3 192.5,260.5C194.1,260.7 195.1,263.3 196.7,264.0C198.4,264.7 200.4,264.7 202.2,264.6C204.0,264.5 206.4,264.4 207.6,263.4C208.8,262.4 208.8,260.0 209.6,258.3C210.4,256.6 210.8,254.4 212.2,253.4C213.5,252.5 215.8,252.6 217.6,252.7C219.4,252.7 222.8,253.1 223.0,253.8C223.2,254.6 219.4,255.8 218.7,257.3C218.0,258.8 218.0,261.4 218.8,262.8C219.6,264.2 221.7,265.6 223.3,265.9C225.0,266.3 228.6,264.6 228.7,264.9C228.9,265.3 225.9,267.7 224.2,268.1C222.6,268.4 220.6,267.4 218.8,267.2C217.0,267.0 215.0,266.2 213.3,266.7C211.7,267.2 209.5,268.6 209.0,270.1C208.5,271.6 210.5,273.8 210.2,275.5C209.9,277.2 208.2,278.6 207.2,280.1C206.2,281.7 205.6,283.8 204.2,284.7C202.7,285.6 199.0,286.1 198.7,285.6C198.4,285.0 200.8,282.1 202.4,281.5C203.9,280.8 206.0,281.5 207.9,281.6C209.7,281.7 212.2,281.1 213.3,282.0C214.5,283.0 215.2,287.1 215.0,287.3C214.7,287.4 212.0,284.5 211.7,282.9C211.4,281.3 212.5,279.3 213.2,277.6C213.9,275.9 214.8,274.1 216.0,272.9C217.2,271.6 219.0,270.0 220.6,269.9C222.2,269.8 224.7,270.8 225.6,272.1C226.6,273.4 227.0,277.2 226.4,277.6C225.8,277.9 222.5,275.9 221.9,274.4C221.2,273.0 221.7,270.4 222.5,269.0C223.4,267.5 226.8,266.8 226.9,265.6C227.0,264.4 223.8,263.4 223.0,261.8C222.1,260.3 222.4,258.2 222.1,256.4C221.8,254.6 222.0,252.4 221.1,251.0C220.2,249.6 218.0,247.7 216.6,247.9C215.2,248.0 214.2,250.7 212.8,251.8C211.3,253.0 209.6,253.8 208.1,254.7C206.5,255.7 205.0,257.4 203.4,257.5C201.7,257.7 199.9,256.4 198.2,255.7C196.5,255.0 193.3,253.2 193.2,253.2C193.2,253.3 196.5,256.0 198.1,255.9C199.6,255.8 201.7,254.3 202.6,252.9C203.6,251.4 203.8,247.5 203.8,247.5C203.7,247.5 202.2,251.1 202.4,252.8C202.6,254.5 203.8,256.7 205.2,257.5C206.5,258.4 209.8,257.6 210.7,257.6" fill="none" stroke="#3b611f" stroke-width="1.6" stroke-linecap="round"/>
<text transform="translate(120.6,149.8) scale(0.86,1)" font-size="30" letter-spacing="1.4">Oil</text>
<text transform="translate(238.4,289.6) scale(0.86,1)" font-size="30" letter-spacing="1.4">Oil</text>
<text x="169.0" y="60.2" font-size="30" letter-spacing="2.56">Microgels</text>
<line x1="256" y1="65.5" x2="214" y2="104" stroke="#000" stroke-width="5"/>
<path d="M200,117.5 L208.4,94 L224,111.6 Z" fill="#000"/>
<path d="M80.3,240.9 A12.4,12.4 0 0 1 105.1,240.9 L105.1,301.5 A22.4,22.4 0 1 1 80.3,301.5 Z" fill="#000"/>
<path d="M84.3,240.9 A8.4,8.4 0 0 1 101.1,240.9 L101.1,303.8 A18.4,18.4 0 1 1 84.3,303.8 Z" fill="#fff"/>
<rect x="88.2" y="283.8" width="9.0" height="36.4" rx="4.5" fill="#3547d1"/>
<circle cx="92.7" cy="319.7" r="14.8" fill="#3547d1"/>
<line x1="104.1" y1="248.8" x2="113.7" y2="248.8" stroke="#000" stroke-width="3.7" stroke-linecap="round"/>
<line x1="104.1" y1="259.8" x2="110.4" y2="259.8" stroke="#000" stroke-width="3.7" stroke-linecap="round"/>
<line x1="104.1" y1="270.8" x2="113.7" y2="270.8" stroke="#000" stroke-width="3.7" stroke-linecap="round"/>
<line x1="104.1" y1="281.8" x2="110.4" y2="281.8" stroke="#000" stroke-width="3.7" stroke-linecap="round"/>
<line x1="104.1" y1="292.8" x2="113.7" y2="292.8" stroke="#000" stroke-width="3.7" stroke-linecap="round"/>
<text x="124.8" y="315.8" font-size="30.5">H<tspan font-size="22.5" dy="8.7">2</tspan><tspan dy="-8.7">O</tspan></text>
<line x1="350" y1="185.5" x2="406" y2="185.5" stroke="#000" stroke-width="4"/>
<path d="M436,185.5 L404,176.7 L404,194.3 Z" fill="#000"/>
<text x="409.4" y="40.6" font-size="31.5">(i)</text>
<text x="482.8" y="60.4" font-size="30" letter-spacing="2.54">Shrinking?</text>
<text x="567.7" y="120.2" font-size="29" letter-spacing="0.3"><tspan font-style="italic">G</tspan><tspan font-style="italic" font-size="18" dy="-11">s</tspan><tspan font-style="italic" dy="11" dx="1.5">&#8242;</tspan>&lt;&lt;<tspan font-style="italic">G</tspan><tspan font-style="italic" font-size="18" dy="-11">s</tspan><tspan font-style="italic" dy="11" dx="1.5">&#8243;</tspan></text>
<circle cx="518.5" cy="162" r="42" fill="#f0da95"/>
<circle cx="498.7" cy="124.3" r="7.6" fill="#3a5f1f"/>
<path d="M496.1,122.5C496.6,122.3 498.1,121.2 499.1,121.2C500.0,121.2 500.9,122.3 501.9,122.7C502.9,123.1 504.0,123.1 505.0,123.5C506.0,123.9 507.9,124.8 507.8,125.0C507.7,125.3 505.6,125.0 504.6,125.2C503.6,125.4 502.2,125.8 501.7,126.5C501.1,127.2 501.0,128.7 501.2,129.7C501.4,130.6 502.1,132.0 502.9,132.4C503.8,132.7 506.0,132.4 506.1,131.9C506.3,131.5 504.6,130.4 503.9,129.6C503.2,128.8 502.1,128.2 501.8,127.2C501.4,126.3 501.6,125.0 501.9,124.0C502.2,123.0 503.3,122.3 503.6,121.3C503.9,120.4 504.0,118.3 503.6,118.1C503.3,118.0 502.2,120.3 501.4,120.4C500.5,120.5 499.6,119.1 498.6,118.9C497.6,118.7 496.4,119.0 495.4,119.4C494.4,119.7 493.0,120.3 492.7,121.1C492.4,121.9 493.6,123.3 493.4,124.2C493.1,125.2 491.2,126.2 491.4,126.8C491.6,127.3 493.5,127.4 494.5,127.5C495.6,127.6 496.9,126.7 497.7,127.1C498.5,127.5 499.1,128.9 499.3,129.9C499.5,130.9 499.3,132.3 498.7,133.0C498.1,133.8 496.0,134.7 495.9,134.6C495.8,134.5 497.4,132.5 498.3,132.5C499.2,132.4 500.7,134.4 501.0,134.1C501.3,133.9 500.2,132.2 500.0,131.1C499.8,130.1 500.3,128.9 500.0,127.9C499.7,127.0 498.9,125.8 498.1,125.4C497.2,124.9 495.6,125.6 494.9,125.1C494.1,124.6 493.8,123.2 493.6,122.1C493.4,121.1 493.2,119.7 493.6,118.9C494.1,118.2 495.8,118.1 496.4,117.4C497.1,116.6 497.5,114.4 497.4,114.3C497.4,114.3 496.0,116.3 496.0,117.2C496.1,118.1 497.2,119.0 497.7,119.9C498.3,120.9 498.7,121.8 499.3,122.8C499.8,123.7 500.3,124.8 501.1,125.4C501.9,125.9 503.7,125.9 504.2,126.0" fill="none" stroke="#3a5f1f" stroke-width="1.7" stroke-linecap="round"/>
<circle cx="498.8" cy="119.8" r="0.9" fill="#6fb24a"/>
<circle cx="494.7" cy="127.1" r="0.9" fill="#6fb24a"/>
<circle cx="500.4" cy="124.1" r="0.9" fill="#6fb24a"/>
<circle cx="501.6" cy="124.2" r="0.9" fill="#6fb24a"/>
<circle cx="537.4" cy="122.9" r="7.6" fill="#3a5f1f"/>
<path d="M533.6,125.7C533.0,125.8 530.4,126.2 530.4,126.2C530.4,126.2 532.7,126.3 533.6,125.8C534.5,125.3 534.9,123.6 535.7,123.4C536.6,123.3 537.6,124.8 538.5,124.9C539.5,125.1 540.9,123.9 541.7,124.2C542.4,124.6 542.4,126.6 543.2,127.0C544.0,127.4 546.3,127.1 546.4,126.8C546.5,126.5 544.0,126.0 543.6,125.3C543.2,124.5 543.6,122.9 544.2,122.1C544.8,121.4 547.2,121.1 547.2,120.8C547.1,120.6 544.8,121.2 544.0,120.7C543.2,120.3 543.1,118.5 542.3,118.0C541.5,117.5 540.0,118.1 539.1,117.6C538.3,117.1 538.1,115.0 537.4,114.9C536.8,114.8 535.5,116.1 535.1,117.0C534.6,117.9 535.3,119.3 534.9,120.2C534.5,121.1 533.4,121.8 532.8,122.6C532.1,123.4 531.8,125.0 530.9,125.2C530.1,125.5 528.1,124.9 527.9,124.3C527.7,123.7 528.8,121.9 529.6,121.6C530.4,121.2 532.0,121.7 532.7,122.3C533.5,122.9 533.4,124.4 534.1,125.2C534.8,125.9 536.5,126.0 536.8,126.8C537.2,127.6 535.8,129.0 536.0,129.9C536.2,130.8 537.6,132.5 538.0,132.4C538.4,132.2 538.8,129.9 538.4,129.2C537.9,128.5 536.0,128.8 535.4,128.1C534.7,127.4 534.8,125.9 534.2,125.1C533.6,124.3 532.7,123.1 531.8,123.0C530.9,123.0 529.5,123.8 529.0,124.6C528.4,125.4 528.2,126.9 528.6,127.7C528.9,128.5 530.3,128.9 531.3,129.4C532.2,129.9 533.2,130.6 534.2,130.7C535.2,130.8 536.5,129.8 537.4,130.1C538.2,130.5 539.2,132.7 539.1,132.8C539.0,132.9 537.5,130.8 536.6,130.8C535.8,130.8 534.8,133.0 534.2,132.8C533.6,132.7 532.8,130.7 533.0,129.9C533.2,129.0 534.5,128.2 535.5,127.8C536.4,127.5 538.1,127.9 538.7,127.9" fill="none" stroke="#3a5f1f" stroke-width="1.7" stroke-linecap="round"/>
<circle cx="533.6" cy="121.1" r="0.9" fill="#6fb24a"/>
<circle cx="536.4" cy="128.1" r="0.9" fill="#6fb24a"/>
<circle cx="536.6" cy="124.9" r="0.9" fill="#6fb24a"/>
<circle cx="532.8" cy="120.4" r="0.9" fill="#6fb24a"/>
<circle cx="557.5" cy="149.2" r="7.6" fill="#3a5f1f"/>
<path d="M561.3,148.3C560.8,148.2 559.2,147.3 558.2,147.5C557.3,147.7 555.9,148.5 555.6,149.3C555.3,150.1 556.2,151.4 556.6,152.4C557.1,153.3 557.9,154.1 558.5,155.0C559.1,155.8 560.3,157.6 560.3,157.6C560.3,157.6 558.4,155.8 558.5,155.0C558.5,154.1 560.4,153.4 560.5,152.5C560.7,151.6 559.5,150.6 559.4,149.6C559.2,148.5 560.0,147.1 559.5,146.4C559.1,145.7 557.5,145.3 556.5,145.4C555.5,145.5 554.2,146.1 553.7,146.9C553.2,147.6 554.0,149.4 553.5,150.1C552.9,150.7 551.4,150.7 550.3,150.6C549.3,150.5 547.4,149.5 547.3,149.6C547.2,149.7 549.6,150.6 549.9,151.4C550.2,152.3 548.6,153.9 548.9,154.5C549.3,155.1 551.1,155.0 552.1,154.8C553.1,154.6 554.0,153.5 555.0,153.3C556.0,153.1 557.3,153.1 558.1,153.6C559.0,154.0 559.2,155.5 559.9,156.2C560.6,157.0 562.0,158.4 562.4,158.2C562.8,158.0 562.7,155.7 562.1,155.0C561.6,154.3 559.9,154.6 559.1,154.0C558.3,153.3 558.3,151.7 557.6,151.2C556.8,150.6 555.4,150.4 554.4,150.5C553.4,150.6 552.2,151.0 551.5,151.7C550.7,152.3 549.7,153.9 550.0,154.5C550.3,155.1 552.1,155.0 553.1,155.1C554.2,155.2 555.5,154.6 556.3,155.1C557.2,155.5 557.3,157.3 558.1,157.8C558.9,158.2 560.4,158.1 561.3,157.7C562.2,157.3 563.5,156.4 563.7,155.6C563.8,154.7 562.6,153.7 562.1,152.8C561.5,151.9 560.2,151.0 560.3,150.1C560.3,149.3 561.6,148.4 562.2,147.6C562.9,146.8 564.2,145.1 564.3,145.2C564.5,145.3 562.8,147.3 563.0,148.1C563.1,149.0 565.2,150.4 565.3,150.3C565.3,150.3 563.8,148.7 563.4,147.7C563.1,146.8 563.3,145.1 563.3,144.5" fill="none" stroke="#3a5f1f" stroke-width="1.7" stroke-linecap="round"/>
<circle cx="561.9" cy="147.1" r="0.9" fill="#6fb24a"/>
<circle cx="557.3" cy="151.6" r="0.9" fill="#6fb24a"/>
<circle cx="555.9" cy="147.8" r="0.9" fill="#6fb24a"/>
<circle cx="553.4" cy="149.6" r="0.9" fill="#6fb24a"/>
<circle cx="476.5" cy="153.4" r="7.6" fill="#3a5f1f"/>
<path d="M481.7,154.4C481.2,154.7 479.8,156.1 478.9,156.1C478.0,156.0 477.4,154.3 476.5,154.0C475.6,153.6 474.4,153.9 473.3,153.8C472.2,153.8 471.2,153.5 470.1,153.5C469.1,153.6 467.0,153.8 467.0,154.2C466.9,154.5 469.3,154.8 469.9,155.5C470.5,156.3 470.0,157.8 470.5,158.7C471.1,159.5 472.2,159.9 473.0,160.7C473.8,161.4 474.7,163.1 475.3,163.0C475.8,162.8 476.4,160.8 476.2,159.9C476.0,159.0 474.8,158.2 474.0,157.6C473.2,156.9 472.1,156.5 471.2,156.0C470.2,155.5 468.8,155.3 468.4,154.6C467.9,153.8 468.2,152.2 468.7,151.4C469.2,150.6 470.4,150.0 471.4,149.7C472.4,149.3 473.6,149.8 474.6,149.4C475.5,149.0 476.2,147.4 477.0,147.4C477.9,147.3 478.8,148.8 479.8,149.0C480.8,149.1 482.5,147.9 482.9,148.3C483.3,148.7 482.4,150.4 482.0,151.4C481.6,152.3 481.2,153.5 480.4,154.1C479.6,154.7 478.3,154.9 477.3,154.8C476.3,154.7 474.9,154.4 474.3,153.7C473.6,153.0 473.3,151.7 473.3,150.7C473.3,149.6 473.7,148.5 474.1,147.6C474.6,146.6 476.2,145.1 476.2,145.1C476.1,145.1 474.7,147.3 473.9,147.4C473.1,147.4 471.9,145.4 471.3,145.6C470.7,145.8 471.0,148.0 470.3,148.6C469.6,149.2 467.3,148.7 467.2,149.2C467.0,149.8 469.0,150.8 469.2,151.7C469.4,152.6 468.4,154.7 468.6,154.9C468.9,155.0 469.8,152.8 470.7,152.4C471.6,152.1 472.9,152.9 473.9,152.7C474.9,152.6 475.9,151.9 476.9,151.7C478.0,151.6 479.4,151.4 480.1,152.0C480.9,152.5 480.9,154.0 481.3,155.0C481.7,156.0 482.7,157.8 482.5,157.9C482.3,158.1 480.4,156.6 480.2,155.8C479.9,154.9 480.7,153.2 480.9,152.6" fill="none" stroke="#3a5f1f" stroke-width="1.7" stroke-linecap="round"/>
<circle cx="479.5" cy="148.7" r="0.9" fill="#6fb24a"/>
<circle cx="480.7" cy="150.7" r="0.9" fill="#6fb24a"/>
<circle cx="474.1" cy="153.6" r="0.9" fill="#6fb24a"/>
<circle cx="477.5" cy="153.0" r="0.9" fill="#6fb24a"/>
<circle cx="484.1" cy="190.0" r="7.6" fill="#3a5f1f"/>
<path d="M486.4,192.6C486.7,192.1 487.8,190.8 488.0,189.8C488.1,188.8 487.2,187.7 487.2,186.7C487.2,185.7 488.0,184.6 487.9,183.6C487.9,182.6 487.0,180.5 486.9,180.5C486.9,180.6 487.7,182.7 487.6,183.7C487.4,184.7 485.9,185.6 486.0,186.5C486.1,187.3 487.2,188.3 488.1,188.8C489.0,189.4 490.6,188.9 491.2,189.6C491.8,190.3 492.1,192.3 491.6,192.8C491.1,193.2 489.4,192.0 488.4,192.3C487.5,192.5 486.7,193.6 486.0,194.4C485.4,195.2 485.1,196.3 484.5,197.2C483.8,198.0 483.2,199.4 482.4,199.6C481.6,199.8 479.9,199.1 479.4,198.4C479.0,197.6 479.9,196.2 479.7,195.2C479.5,194.2 478.4,193.3 478.3,192.3C478.3,191.3 479.0,190.3 479.2,189.2C479.5,188.2 480.1,186.9 479.8,186.1C479.5,185.2 477.2,184.3 477.2,184.2C477.3,184.1 479.2,185.1 480.2,185.4C481.2,185.6 482.8,185.1 483.4,185.6C484.0,186.2 484.0,187.9 483.7,188.8C483.4,189.7 481.7,190.3 481.5,191.2C481.3,192.0 482.4,193.1 482.7,194.1C483.0,195.1 482.8,196.4 483.2,197.3C483.7,198.2 484.7,199.7 485.4,199.6C486.0,199.6 487.1,197.8 487.0,196.9C487.0,196.0 485.4,195.3 485.0,194.4C484.7,193.4 484.5,192.0 485.0,191.2C485.5,190.4 487.5,190.4 487.8,189.7C488.1,188.9 487.4,187.5 486.8,186.6C486.2,185.8 484.8,185.5 484.3,184.6C483.8,183.8 484.6,182.1 484.0,181.4C483.4,180.8 481.0,180.5 480.9,180.8C480.8,181.0 483.0,182.1 483.2,183.0C483.5,183.8 483.0,185.3 482.4,186.1C481.7,186.8 480.4,187.3 479.5,187.4C478.5,187.5 476.4,186.7 476.4,186.4C476.4,186.1 478.6,185.3 479.5,185.6C480.4,185.9 481.2,187.6 481.6,188.0" fill="none" stroke="#3a5f1f" stroke-width="1.7" stroke-linecap="round"/>
<circle cx="484.5" cy="192.6" r="0.9" fill="#6fb24a"/>
<circle cx="488.5" cy="192.5" r="0.9" fill="#6fb24a"/>
<circle cx="481.9" cy="190.8" r="0.9" fill="#6fb24a"/>
<circle cx="487.8" cy="190.5" r="0.9" fill="#6fb24a"/>
<circle cx="554.7" cy="185.2" r="7.6" fill="#3a5f1f"/>
<path d="M556.4,188.9C555.8,188.8 554.2,188.0 553.2,188.2C552.3,188.4 551.7,189.9 550.8,190.2C549.8,190.5 548.6,190.2 547.6,190.0C546.6,189.7 544.6,189.1 544.6,188.7C544.7,188.4 546.7,188.0 547.8,188.0C548.8,188.1 550.0,188.5 550.8,189.1C551.6,189.6 552.6,190.6 552.8,191.5C553.0,192.5 551.9,194.6 552.1,194.7C552.3,194.7 553.1,192.3 553.9,192.0C554.7,191.8 555.9,192.8 556.9,193.1C557.9,193.5 559.3,194.5 560.0,194.2C560.6,193.8 560.8,192.0 560.7,191.0C560.6,190.0 560.1,188.7 559.4,188.1C558.6,187.5 557.1,187.3 556.2,187.6C555.4,187.9 554.9,189.3 554.2,190.0C553.4,190.8 552.7,192.1 551.8,192.2C551.0,192.4 548.8,191.2 548.9,191.0C548.9,190.9 551.3,190.6 552.1,191.1C552.9,191.6 552.8,193.3 553.5,194.0C554.2,194.7 556.0,195.6 556.5,195.2C556.9,194.9 556.2,193.1 556.4,192.0C556.6,191.0 557.1,189.9 557.7,189.1C558.4,188.3 560.0,188.1 560.3,187.2C560.6,186.4 559.5,185.2 559.5,184.2C559.5,183.1 560.5,182.0 560.3,181.1C560.2,180.2 559.0,179.4 558.4,178.6C557.7,177.7 556.4,176.0 556.4,176.1C556.3,176.1 557.6,177.8 558.0,178.8C558.3,179.8 558.3,180.9 558.4,182.0C558.4,183.1 557.9,184.3 558.2,185.2C558.5,186.2 559.9,186.8 560.2,187.7C560.5,188.7 560.0,190.9 560.0,190.9C560.0,190.9 560.5,188.4 560.1,187.7C559.6,187.0 557.8,187.2 557.1,186.5C556.5,185.7 556.4,184.4 556.1,183.4C555.9,182.4 556.1,181.0 555.5,180.3C554.9,179.5 553.6,179.1 552.5,179.1C551.5,179.0 550.2,180.2 549.4,179.9C548.7,179.5 547.9,177.1 547.9,177.1C547.9,177.1 549.2,179.4 549.5,179.9" fill="none" stroke="#3a5f1f" stroke-width="1.7" stroke-linecap="round"/>
<circle cx="554.1" cy="183.0" r="0.9" fill="#6fb24a"/>
<circle cx="549.5" cy="184.2" r="0.9" fill="#6fb24a"/>
<circle cx="553.6" cy="188.7" r="0.9" fill="#6fb24a"/>
<circle cx="560.0" cy="185.2" r="0.9" fill="#6fb24a"/>
<circle cx="519.8" cy="206.5" r="7.6" fill="#3a5f1f"/>
<path d="M516.3,208.2C516.1,208.7 515.1,210.2 515.2,211.1C515.2,212.1 516.2,214.1 516.6,214.0C516.9,214.0 516.7,211.8 517.2,210.9C517.6,209.9 518.3,208.9 519.2,208.4C520.0,207.9 521.7,208.6 522.4,208.0C523.0,207.4 522.2,205.5 522.9,204.9C523.5,204.2 525.4,204.9 526.0,204.3C526.6,203.7 526.5,201.2 526.5,201.2C526.5,201.2 526.7,203.6 526.1,204.3C525.5,205.1 524.2,205.3 523.2,205.6C522.2,205.9 521.1,206.2 520.0,206.3C519.0,206.3 517.8,206.3 516.8,206.0C515.8,205.7 514.4,205.2 514.1,204.4C513.7,203.7 514.8,202.4 514.9,201.3C515.1,200.3 514.5,198.9 515.0,198.2C515.6,197.4 517.2,196.8 518.1,197.1C518.9,197.3 519.4,198.7 519.9,199.7C520.3,200.6 520.7,201.7 520.9,202.7C521.1,203.8 521.3,205.1 520.9,205.9C520.5,206.8 519.4,207.6 518.4,207.9C517.5,208.2 516.2,207.5 515.2,207.8C514.2,208.1 513.2,208.8 512.5,209.5C511.8,210.3 510.9,212.3 510.9,212.3C510.9,212.3 511.7,209.9 512.4,209.5C513.2,209.0 514.8,209.0 515.6,209.5C516.4,209.9 516.7,211.3 517.2,212.2C517.7,213.2 518.6,215.1 518.5,215.2C518.3,215.3 516.6,213.7 516.3,212.8C516.1,211.9 516.8,210.7 517.0,209.7C517.2,208.6 518.0,207.5 517.8,206.6C517.7,205.6 516.2,204.9 516.0,203.9C515.9,203.0 516.5,201.8 516.9,200.8C517.2,199.8 517.8,197.8 518.1,197.9C518.4,197.9 518.1,200.2 518.7,201.0C519.2,201.8 520.6,202.7 521.4,202.6C522.3,202.5 523.3,201.3 523.8,200.4C524.3,199.5 524.7,197.5 524.3,197.3C524.0,197.0 522.1,198.0 521.5,198.8C521.0,199.5 521.0,200.9 521.1,201.9C521.1,203.0 521.5,204.6 521.6,205.1" fill="none" stroke="#3a5f1f" stroke-width="1.7" stroke-linecap="round"/>
<circle cx="519.4" cy="204.1" r="0.9" fill="#6fb24a"/>
<circle cx="523.1" cy="204.3" r="0.9" fill="#6fb24a"/>
<circle cx="519.3" cy="205.6" r="0.9" fill="#6fb24a"/>
<circle cx="517.2" cy="206.0" r="0.9" fill="#6fb24a"/>
<circle cx="626.5" cy="276.5" r="42" fill="#f0da95"/>
<circle cx="607.3" cy="239.8" r="7.6" fill="#3a5f1f"/>
<path d="M603.3,241.2C603.0,241.6 601.9,242.8 601.3,243.7C600.7,244.6 599.7,246.4 599.9,246.6C600.0,246.7 601.3,244.8 602.3,244.5C603.2,244.2 604.4,244.9 605.5,244.7C606.5,244.6 607.5,243.9 608.5,243.8C609.6,243.6 610.7,243.7 611.7,243.9C612.8,244.0 614.9,244.3 614.8,244.5C614.8,244.6 612.7,244.5 611.7,244.6C610.6,244.7 609.5,244.8 608.5,244.9C607.4,245.0 605.9,244.6 605.3,245.2C604.7,245.8 604.6,248.2 604.8,248.4C605.1,248.5 606.1,246.6 606.9,245.9C607.7,245.3 609.1,245.1 609.7,244.4C610.4,243.6 610.3,242.3 610.9,241.4C611.4,240.5 612.2,239.4 613.1,239.1C613.9,238.8 616.1,239.8 616.2,239.6C616.3,239.4 614.1,238.4 613.7,237.6C613.4,236.7 614.3,235.2 613.9,234.4C613.5,233.5 612.3,232.9 611.4,232.3C610.5,231.8 609.4,230.8 608.5,231.0C607.7,231.1 607.0,232.5 606.1,233.1C605.3,233.7 604.4,234.4 603.4,234.8C602.4,235.1 600.3,235.1 600.3,235.4C600.2,235.7 602.3,236.2 603.3,236.5C604.3,236.8 605.5,237.4 606.4,237.2C607.4,237.0 608.1,235.2 609.0,235.2C609.8,235.3 610.8,236.4 611.5,237.2C612.2,237.9 613.3,239.0 613.3,239.9C613.3,240.8 612.0,241.6 611.6,242.6C611.3,243.6 611.1,244.7 611.0,245.7C611.0,246.8 611.6,248.8 611.3,248.9C611.0,249.1 610.1,246.8 609.2,246.5C608.3,246.3 606.9,246.8 606.1,247.4C605.3,247.9 604.2,249.9 604.3,250.0C604.3,250.0 605.8,248.5 606.5,247.7C607.1,246.8 607.6,245.8 608.2,245.0C608.7,244.1 609.5,243.2 610.0,242.3C610.5,241.4 610.6,239.8 611.4,239.4C612.1,239.1 613.7,239.5 614.5,240.0C615.4,240.5 616.1,242.1 616.5,242.5" fill="none" stroke="#3a5f1f" stroke-width="1.7" stroke-linecap="round"/>
<circle cx="604.9" cy="235.2" r="0.9" fill="#6fb24a"/>
<circle cx="607.3" cy="245.0" r="0.9" fill="#6fb24a"/>
<circle cx="606.3" cy="241.4" r="0.9" fill="#6fb24a"/>
<circle cx="605.1" cy="238.4" r="0.9" fill="#6fb24a"/>
<circle cx="645.8" cy="238.0" r="7.6" fill="#3a5f1f"/>
<path d="M645.5,239.9C645.0,239.8 642.9,239.8 642.4,239.2C641.8,238.5 641.7,236.6 642.2,236.0C642.7,235.3 644.5,234.8 645.3,235.1C646.1,235.4 646.5,236.9 647.2,237.7C647.9,238.5 649.0,239.1 649.4,240.0C649.7,240.9 649.6,242.2 649.4,243.2C649.1,244.2 648.6,246.0 648.0,246.1C647.3,246.2 646.1,244.7 645.8,243.7C645.4,242.8 645.2,241.3 645.7,240.5C646.2,239.8 647.7,239.0 648.6,239.1C649.4,239.3 650.6,240.7 650.7,241.5C650.8,242.4 650.0,244.0 649.3,244.4C648.5,244.9 646.8,243.7 646.1,244.2C645.4,244.7 644.8,247.1 645.0,247.3C645.3,247.4 646.8,246.0 647.6,245.3C648.4,244.7 649.2,243.3 650.1,243.3C650.9,243.3 652.2,245.4 652.7,245.2C653.1,245.0 652.5,243.0 652.9,242.0C653.2,241.1 654.9,240.3 654.8,239.5C654.8,238.7 653.3,237.9 652.4,237.4C651.5,236.9 650.3,236.5 649.3,236.5C648.3,236.6 647.4,237.7 646.4,237.8C645.4,237.9 643.9,237.8 643.3,237.1C642.7,236.5 642.5,234.9 642.8,234.0C643.2,233.1 644.8,232.7 645.2,231.8C645.5,230.9 644.8,228.6 645.0,228.6C645.1,228.5 645.6,230.6 645.9,231.6C646.1,232.7 646.8,234.0 646.4,234.8C646.0,235.6 644.6,236.3 643.6,236.4C642.7,236.6 641.5,235.5 640.5,235.7C639.6,235.9 638.5,236.8 638.0,237.6C637.4,238.4 636.7,240.4 637.0,240.6C637.3,240.9 638.7,239.2 639.7,238.9C640.7,238.6 642.1,238.4 642.9,238.9C643.6,239.3 644.2,240.7 644.3,241.7C644.3,242.7 643.5,243.7 643.2,244.8C642.9,245.8 642.7,247.8 642.4,247.8C642.1,247.8 642.1,245.5 641.4,244.8C640.7,244.1 638.9,244.6 638.3,243.9C637.7,243.2 638.0,241.2 638.0,240.7" fill="none" stroke="#3a5f1f" stroke-width="1.7" stroke-linecap="round"/>
<circle cx="644.4" cy="238.7" r="0.9" fill="#6fb24a"/>
<circle cx="648.2" cy="237.7" r="0.9" fill="#6fb24a"/>
<circle cx="645.9" cy="237.0" r="0.9" fill="#6fb24a"/>
<circle cx="649.3" cy="240.2" r="0.9" fill="#6fb24a"/>
<circle cx="666.8" cy="264.3" r="7.6" fill="#3a5f1f"/>
<path d="M670.2,260.9C670.3,261.4 670.2,263.1 670.7,264.0C671.1,264.9 672.8,265.5 672.9,266.3C672.9,267.2 671.2,268.0 671.0,269.0C670.9,269.9 672.2,271.9 672.1,272.0C672.0,272.0 670.6,270.2 670.5,269.2C670.4,268.2 671.6,267.2 671.6,266.2C671.5,265.2 670.9,263.9 670.2,263.3C669.5,262.6 668.2,262.0 667.3,262.1C666.3,262.1 665.3,263.4 664.4,263.4C663.4,263.4 662.6,262.2 661.6,261.9C660.6,261.6 658.4,261.5 658.4,261.6C658.4,261.7 660.5,261.9 661.5,262.4C662.4,262.9 663.7,263.5 664.0,264.3C664.4,265.2 664.2,266.8 663.6,267.5C663.0,268.2 660.6,268.4 660.6,268.5C660.6,268.7 662.8,268.7 663.8,268.4C664.7,268.1 665.4,266.8 666.4,266.5C667.3,266.3 668.7,266.3 669.6,266.8C670.4,267.3 671.3,268.4 671.5,269.4C671.7,270.3 671.4,271.7 670.8,272.5C670.3,273.3 669.1,274.0 668.1,274.2C667.1,274.3 665.5,274.1 665.0,273.4C664.4,272.8 664.5,271.1 664.8,270.2C665.1,269.3 666.2,268.6 667.0,268.0C667.9,267.3 669.4,267.2 669.8,266.4C670.3,265.6 670.2,264.1 669.9,263.2C669.5,262.2 668.1,261.7 667.7,260.8C667.3,259.9 667.0,258.4 667.4,257.6C667.9,256.9 669.9,256.1 670.4,256.4C670.9,256.7 670.6,258.6 670.3,259.6C670.0,260.6 668.9,261.3 668.4,262.2C667.8,263.1 667.5,264.1 667.0,265.1C666.5,266.0 666.3,267.4 665.5,267.9C664.7,268.4 663.4,268.0 662.3,268.0C661.2,268.0 659.1,267.9 659.1,267.8C659.1,267.7 661.7,268.0 662.3,267.4C662.9,266.8 662.8,265.1 662.5,264.2C662.2,263.2 660.6,262.5 660.6,261.6C660.6,260.7 661.7,259.7 662.4,259.0C663.2,258.3 664.8,257.7 665.2,257.4" fill="none" stroke="#3a5f1f" stroke-width="1.7" stroke-linecap="round"/>
<circle cx="667.2" cy="262.1" r="0.9" fill="#6fb24a"/>
<circle cx="667.6" cy="262.1" r="0.9" fill="#6fb24a"/>
<circle cx="670.6" cy="268.4" r="0.9" fill="#6fb24a"/>
<circle cx="671.7" cy="266.1" r="0.9" fill="#6fb24a"/>
<circle cx="585.2" cy="269.5" r="7.6" fill="#3a5f1f"/>
<path d="M584.7,265.0C585.2,265.1 586.8,265.6 587.8,266.0C588.7,266.4 589.8,266.7 590.6,267.3C591.5,268.0 592.5,269.0 592.6,269.9C592.7,270.8 592.0,272.4 591.2,272.7C590.5,273.1 589.1,272.1 588.1,272.2C587.1,272.3 586.0,273.3 585.1,273.2C584.1,273.1 583.3,272.0 582.3,271.6C581.3,271.2 580.2,270.6 579.2,270.7C578.2,270.8 576.8,271.5 576.5,272.3C576.1,273.1 576.7,274.6 577.3,275.4C577.9,276.2 579.6,277.5 579.9,277.2C580.3,277.0 579.6,275.1 579.3,274.1C579.0,273.1 578.7,271.9 578.0,271.2C577.3,270.4 575.3,270.3 575.2,269.6C575.1,268.9 577.1,268.1 577.3,267.2C577.5,266.2 576.3,264.2 576.6,264.0C576.9,263.9 578.0,265.9 578.9,266.2C579.9,266.5 581.1,265.6 582.1,265.8C583.1,266.0 584.6,266.8 584.8,267.5C585.0,268.3 584.3,270.1 583.6,270.5C582.8,270.9 581.3,269.5 580.4,269.9C579.6,270.2 578.8,271.4 578.5,272.4C578.1,273.3 578.0,274.8 578.4,275.6C578.9,276.3 580.6,277.2 581.3,276.9C582.0,276.6 582.6,274.9 582.6,274.0C582.5,273.0 581.7,272.0 581.1,271.1C580.5,270.3 579.7,269.4 578.9,268.8C578.0,268.3 575.9,268.1 575.9,267.6C575.9,267.2 577.9,266.0 578.7,266.2C579.6,266.4 580.2,267.8 580.8,268.6C581.4,269.5 581.7,270.9 582.5,271.3C583.3,271.8 584.8,271.9 585.7,271.6C586.6,271.3 587.2,269.6 588.1,269.5C589.0,269.4 590.4,270.3 590.9,271.1C591.3,271.9 591.5,274.0 591.0,274.3C590.6,274.6 588.9,272.7 588.1,272.9C587.3,273.1 587.1,275.2 586.2,275.5C585.4,275.9 584.1,274.8 583.1,275.0C582.1,275.2 580.4,276.7 580.2,276.5C580.1,276.4 582.1,274.6 582.4,274.2" fill="none" stroke="#3a5f1f" stroke-width="1.7" stroke-linecap="round"/>
<circle cx="581.1" cy="268.1" r="0.9" fill="#6fb24a"/>
<circle cx="583.4" cy="272.4" r="0.9" fill="#6fb24a"/>
<circle cx="588.4" cy="267.9" r="0.9" fill="#6fb24a"/>
<circle cx="581.5" cy="266.2" r="0.9" fill="#6fb24a"/>
<circle cx="595.0" cy="309.8" r="7.6" fill="#3a5f1f"/>
<path d="M591.2,307.4C591.7,307.2 593.2,306.7 594.2,306.5C595.3,306.2 596.5,305.6 597.4,305.9C598.3,306.1 598.9,307.9 599.8,308.0C600.6,308.1 602.5,306.4 602.6,306.6C602.8,306.8 601.2,308.2 600.8,309.2C600.4,310.2 600.2,311.3 600.2,312.3C600.2,313.4 600.8,314.4 600.9,315.5C600.9,316.5 600.4,318.6 600.4,318.6C600.3,318.6 600.5,316.5 600.7,315.4C600.9,314.4 601.0,313.1 601.6,312.4C602.3,311.6 604.6,311.3 604.5,311.0C604.5,310.8 602.2,310.4 601.3,310.8C600.5,311.3 599.7,312.5 599.6,313.5C599.4,314.5 600.4,315.6 600.3,316.6C600.3,317.6 599.9,319.0 599.2,319.6C598.5,320.2 597.1,320.3 596.1,320.3C595.1,320.4 593.8,320.2 593.0,319.7C592.1,319.1 591.0,318.0 591.0,317.2C590.9,316.3 592.0,315.2 592.7,314.5C593.4,313.7 594.2,312.7 595.1,312.4C596.1,312.1 597.5,312.2 598.3,312.6C599.2,313.1 599.9,314.3 600.1,315.3C600.4,316.2 600.2,317.6 599.7,318.4C599.1,319.3 597.4,320.4 597.0,320.2C596.7,320.0 597.6,318.1 597.5,317.1C597.5,316.0 597.3,314.5 596.6,314.0C595.9,313.5 594.4,313.8 593.4,314.1C592.4,314.4 591.1,314.9 590.6,315.6C590.0,316.4 589.7,318.6 590.1,318.8C590.4,319.0 592.0,317.7 592.7,316.9C593.3,316.1 593.2,314.4 594.0,314.0C594.7,313.6 596.1,314.4 597.1,314.7C598.1,315.0 599.1,315.9 600.1,315.8C601.0,315.7 602.1,314.8 602.7,314.0C603.3,313.2 603.8,311.9 603.7,311.0C603.5,310.0 602.1,309.2 602.0,308.2C601.8,307.3 603.0,305.5 602.6,305.1C602.2,304.7 600.2,305.4 599.5,306.1C598.9,306.7 598.8,308.2 598.8,309.2C598.9,310.2 599.7,311.7 599.9,312.2" fill="none" stroke="#3a5f1f" stroke-width="1.7" stroke-linecap="round"/>
<circle cx="595.2" cy="307.1" r="0.9" fill="#6fb24a"/>
<circle cx="596.4" cy="310.6" r="0.9" fill="#6fb24a"/>
<circle cx="596.9" cy="310.6" r="0.9" fill="#6fb24a"/>
<circle cx="596.7" cy="307.4" r="0.9" fill="#6fb24a"/>
<circle cx="661.5" cy="299.3" r="7.6" fill="#3a5f1f"/>
<path d="M659.7,298.7C659.5,299.2 659.2,300.8 658.6,301.7C658.0,302.6 656.6,303.0 656.3,303.9C656.0,304.8 656.6,307.1 656.7,307.1C656.8,307.1 656.6,304.9 656.9,303.9C657.3,302.9 657.9,301.5 658.7,301.2C659.5,301.0 660.9,302.4 661.8,302.2C662.7,301.9 663.2,300.5 664.0,299.9C664.9,299.3 666.0,298.5 666.9,298.5C667.9,298.6 669.3,299.4 669.7,300.2C670.0,301.0 669.7,303.1 669.2,303.3C668.6,303.6 667.3,302.2 666.4,301.8C665.4,301.4 664.3,300.6 663.4,300.7C662.4,300.8 660.8,301.4 660.5,302.2C660.2,303.0 661.1,304.2 661.5,305.3C661.8,306.3 662.5,308.3 662.4,308.3C662.3,308.4 661.5,306.3 660.8,305.5C660.2,304.7 659.4,303.9 658.5,303.4C657.6,302.9 655.9,303.0 655.4,302.3C655.0,301.6 655.6,300.2 655.7,299.1C655.8,298.1 656.3,296.7 655.8,295.9C655.3,295.2 653.2,294.4 652.9,294.6C652.6,294.9 653.8,296.6 653.9,297.7C654.0,298.7 653.9,299.9 653.7,300.9C653.4,301.9 652.2,303.7 652.4,303.8C652.5,303.9 654.0,302.4 654.6,301.5C655.3,300.7 655.9,299.7 656.1,298.7C656.3,297.7 655.4,296.4 655.8,295.5C656.1,294.6 657.3,293.9 658.3,293.5C659.2,293.2 660.5,293.7 661.5,293.5C662.5,293.2 663.5,292.7 664.4,292.2C665.4,291.8 667.2,290.7 667.2,290.7C667.2,290.7 665.2,291.5 664.4,292.2C663.7,292.9 662.9,294.0 662.7,294.9C662.5,295.9 662.8,297.1 663.3,298.1C663.7,299.0 664.3,300.2 665.1,300.7C666.0,301.1 667.6,301.3 668.3,300.9C669.1,300.4 669.6,299.0 669.7,298.0C669.8,296.9 669.3,294.8 669.0,294.8C668.7,294.8 668.3,296.9 668.1,297.9C667.9,298.9 667.7,300.5 667.6,301.1" fill="none" stroke="#3a5f1f" stroke-width="1.7" stroke-linecap="round"/>
<circle cx="661.7" cy="300.6" r="0.9" fill="#6fb24a"/>
<circle cx="661.7" cy="299.9" r="0.9" fill="#6fb24a"/>
<circle cx="666.0" cy="296.3" r="0.9" fill="#6fb24a"/>
<circle cx="665.0" cy="301.6" r="0.9" fill="#6fb24a"/>
<circle cx="632.8" cy="320.3" r="7.6" fill="#3a5f1f"/>
<path d="M635.2,322.1C635.2,321.6 634.8,319.6 635.4,318.9C636.0,318.3 637.9,318.9 638.5,318.3C639.2,317.7 639.4,316.2 639.3,315.2C639.3,314.2 638.3,312.2 638.1,312.3C637.9,312.3 637.9,314.5 638.1,315.5C638.3,316.5 638.7,317.6 639.3,318.5C639.8,319.3 641.1,319.8 641.5,320.8C641.9,321.7 641.9,323.1 641.5,324.0C641.0,324.8 639.8,325.5 638.8,325.7C637.8,325.9 636.7,325.0 635.7,325.1C634.6,325.2 633.5,325.6 632.6,326.2C631.8,326.8 631.0,328.9 630.8,328.8C630.6,328.7 631.3,326.7 631.4,325.6C631.5,324.6 630.8,323.3 631.1,322.4C631.5,321.6 632.6,320.4 633.5,320.3C634.4,320.2 635.4,321.3 636.3,321.7C637.3,322.1 638.6,323.0 639.4,322.7C640.2,322.5 640.7,321.0 641.1,320.0C641.5,319.1 642.0,317.0 641.8,316.9C641.5,316.8 640.3,318.5 639.6,319.3C638.9,320.1 638.3,321.0 637.6,321.8C636.9,322.5 635.6,323.0 635.2,323.9C634.8,324.8 635.1,326.0 635.0,327.1C635.0,328.1 635.2,330.1 634.8,330.3C634.4,330.4 633.5,328.5 632.7,327.9C631.8,327.3 630.7,327.1 629.7,326.9C628.6,326.7 627.2,327.2 626.5,326.7C625.7,326.2 625.7,324.7 625.2,323.7C624.7,322.8 623.2,321.8 623.4,321.1C623.6,320.5 625.3,320.0 626.3,320.0C627.3,319.9 628.4,320.6 629.4,320.9C630.4,321.2 631.8,321.1 632.5,321.8C633.2,322.4 633.3,323.8 633.5,324.8C633.7,325.9 633.7,328.0 633.6,328.0C633.6,328.0 633.6,325.5 633.0,324.9C632.4,324.2 630.9,324.1 629.9,324.2C628.9,324.3 626.9,325.4 627.0,325.5C627.0,325.6 629.1,324.8 630.1,324.9C631.1,324.9 632.1,325.5 633.1,325.9C634.1,326.3 635.6,327.0 636.0,327.2" fill="none" stroke="#3a5f1f" stroke-width="1.7" stroke-linecap="round"/>
<circle cx="634.1" cy="323.8" r="0.9" fill="#6fb24a"/>
<circle cx="628.6" cy="322.9" r="0.9" fill="#6fb24a"/>
<circle cx="634.0" cy="324.3" r="0.9" fill="#6fb24a"/>
<circle cx="638.0" cy="320.9" r="0.9" fill="#6fb24a"/>
<path d="M454.8,240.9 A12.4,12.4 0 0 1 479.6,240.9 L479.6,301.5 A22.4,22.4 0 1 1 454.8,301.5 Z" fill="#000"/>
<path d="M458.8,240.9 A8.4,8.4 0 0 1 475.6,240.9 L475.6,303.8 A18.4,18.4 0 1 1 458.8,303.8 Z" fill="#fff"/>
<rect x="462.7" y="247.5" width="9.0" height="72.7" rx="4.5" fill="#d31f25"/>
<circle cx="467.2" cy="319.7" r="14.8" fill="#d31f25"/>
<line x1="478.6" y1="248.8" x2="488.2" y2="248.8" stroke="#000" stroke-width="3.7" stroke-linecap="round"/>
<line x1="478.6" y1="259.8" x2="484.9" y2="259.8" stroke="#000" stroke-width="3.7" stroke-linecap="round"/>
<line x1="478.6" y1="270.8" x2="488.2" y2="270.8" stroke="#000" stroke-width="3.7" stroke-linecap="round"/>
<line x1="478.6" y1="281.8" x2="484.9" y2="281.8" stroke="#000" stroke-width="3.7" stroke-linecap="round"/>
<line x1="478.6" y1="292.8" x2="488.2" y2="292.8" stroke="#000" stroke-width="3.7" stroke-linecap="round"/>
<text x="704.4" y="40.6" font-size="31.5">(ii)</text>
<text x="777.5" y="60.4" font-size="30" letter-spacing="2.78">Desorbing?</text>
<text x="870.7" y="120.2" font-size="29" letter-spacing="0.3"><tspan font-style="italic">G</tspan><tspan font-style="italic" font-size="18" dy="-11">s</tspan><tspan font-style="italic" dy="11" dx="1.5">&#8242;</tspan>&lt;&lt;<tspan font-style="italic">G</tspan><tspan font-style="italic" font-size="18" dy="-11">s</tspan><tspan font-style="italic" dy="11" dx="1.5">&#8243;</tspan></text>
<circle cx="813.8" cy="162.8" r="42" fill="#f0da95"/>
<circle cx="797.7" cy="121.8" r="7.6" fill="#3a5f1f"/>
<path d="M796.7,124.3C797.0,123.9 797.7,122.2 798.5,121.6C799.3,121.1 800.6,121.3 801.6,121.0C802.7,120.7 803.8,119.7 804.7,120.0C805.5,120.2 806.5,121.5 806.7,122.5C806.8,123.4 806.1,124.5 805.7,125.5C805.3,126.5 805.1,128.0 804.3,128.4C803.6,128.8 802.2,127.9 801.2,128.1C800.2,128.3 798.5,129.8 798.3,129.6C798.2,129.4 799.4,127.3 800.3,127.0C801.1,126.8 802.9,128.4 803.3,128.1C803.6,127.7 803.0,125.5 802.3,125.0C801.6,124.5 800.0,124.8 799.1,125.1C798.1,125.5 797.6,126.9 796.7,127.2C795.7,127.6 794.1,126.6 793.5,127.1C792.8,127.6 792.9,130.3 792.8,130.2C792.7,130.2 792.4,127.7 792.9,127.0C793.4,126.3 795.2,126.7 795.9,126.0C796.7,125.4 797.5,124.1 797.4,123.2C797.3,122.3 796.2,121.3 795.4,120.7C794.6,120.0 793.0,120.1 792.5,119.3C792.1,118.6 792.5,117.2 792.6,116.1C792.8,115.1 792.9,113.7 793.6,113.1C794.3,112.5 795.8,112.2 796.7,112.4C797.7,112.5 799.0,113.2 799.5,114.0C800.0,114.8 800.0,116.6 799.5,117.2C799.0,117.8 797.4,117.8 796.4,117.8C795.3,117.8 794.0,116.8 793.2,117.2C792.4,117.5 791.6,119.0 791.6,119.9C791.6,120.8 793.4,121.7 793.4,122.6C793.4,123.5 792.4,124.5 791.8,125.4C791.2,126.2 789.7,127.7 789.8,127.9C790.0,128.1 791.9,126.3 792.7,126.5C793.5,126.7 793.9,128.3 794.6,129.1C795.3,129.9 796.3,131.2 797.1,131.1C797.9,131.0 798.3,129.0 799.2,128.7C800.1,128.4 802.2,129.7 802.3,129.5C802.4,129.3 800.4,128.4 799.7,127.6C799.1,126.8 798.7,125.7 798.5,124.6C798.4,123.6 799.1,122.4 798.8,121.5C798.6,120.5 797.5,119.1 797.2,118.7" fill="none" stroke="#3a5f1f" stroke-width="1.7" stroke-linecap="round"/>
<circle cx="797.2" cy="116.6" r="0.9" fill="#6fb24a"/>
<circle cx="798.9" cy="119.9" r="0.9" fill="#6fb24a"/>
<circle cx="793.1" cy="120.8" r="0.9" fill="#6fb24a"/>
<circle cx="795.6" cy="120.0" r="0.9" fill="#6fb24a"/>
<circle cx="768.0" cy="152.3" r="7.6" fill="#3a5f1f"/>
<path d="M764.5,152.4C765.0,152.2 766.6,151.3 767.6,151.5C768.5,151.6 769.3,152.7 770.3,153.1C771.3,153.5 772.9,153.2 773.4,153.9C774.0,154.5 773.2,156.2 773.6,157.1C774.1,157.9 776.1,159.1 776.2,159.0C776.3,158.8 775.3,156.8 774.4,156.3C773.6,155.8 771.9,156.5 771.3,155.9C770.6,155.4 770.5,153.8 770.6,152.8C770.6,151.8 771.7,150.6 771.4,149.7C771.2,148.9 769.4,148.6 768.9,147.8C768.4,146.9 768.4,144.6 768.2,144.7C768.1,144.7 767.5,147.2 768.0,147.8C768.5,148.5 770.1,148.2 771.1,148.7C772.0,149.2 773.3,150.0 773.4,150.9C773.6,151.7 772.8,153.3 772.0,153.7C771.2,154.2 769.8,153.3 768.8,153.5C767.8,153.7 767.0,154.8 766.0,155.0C765.0,155.3 763.6,154.7 762.8,155.1C762.0,155.6 761.1,157.9 761.0,157.8C761.0,157.8 761.9,155.9 762.3,154.9C762.8,153.9 763.8,153.0 763.8,152.1C763.8,151.1 762.9,150.1 762.4,149.2C761.9,148.2 760.5,146.8 760.8,146.4C761.0,146.1 763.2,146.6 763.9,147.3C764.5,147.9 765.0,149.5 764.7,150.4C764.4,151.2 763.0,151.7 762.1,152.2C761.1,152.7 759.0,153.1 759.1,153.4C759.1,153.6 761.4,153.2 762.3,153.7C763.2,154.1 763.6,155.5 764.5,156.0C765.4,156.4 766.7,156.5 767.6,156.3C768.6,156.1 769.7,155.4 770.4,154.7C771.1,154.0 771.4,152.8 771.9,151.9C772.5,151.0 773.0,150.0 773.6,149.1C774.1,148.2 775.5,146.8 775.3,146.4C775.0,146.1 773.1,146.5 772.1,146.8C771.1,147.2 770.2,147.9 769.4,148.6C768.7,149.3 768.4,150.6 767.5,151.2C766.7,151.8 765.6,152.3 764.6,152.3C763.6,152.4 762.3,151.1 761.5,151.4C760.7,151.7 760.0,153.6 759.7,154.0" fill="none" stroke="#3a5f1f" stroke-width="1.7" stroke-linecap="round"/>
<circle cx="767.6" cy="152.5" r="0.9" fill="#6fb24a"/>
<circle cx="766.1" cy="147.1" r="0.9" fill="#6fb24a"/>
<circle cx="769.8" cy="156.1" r="0.9" fill="#6fb24a"/>
<circle cx="770.9" cy="151.2" r="0.9" fill="#6fb24a"/>
<circle cx="859.3" cy="149.8" r="7.6" fill="#3a5f1f"/>
<path d="M860.0,148.3C859.6,148.0 858.3,147.1 857.4,146.4C856.6,145.7 856.0,144.8 855.1,144.2C854.3,143.6 852.6,142.4 852.4,142.6C852.1,142.8 853.8,144.6 853.7,145.5C853.7,146.5 852.2,147.3 852.2,148.3C852.1,149.3 853.4,150.2 853.4,151.2C853.5,152.2 852.1,154.1 852.4,154.3C852.6,154.5 854.0,152.8 855.0,152.4C856.0,152.1 857.2,151.9 858.2,152.2C859.1,152.5 860.1,153.3 860.7,154.1C861.3,155.0 861.6,157.1 861.9,157.1C862.2,157.1 862.1,154.8 862.7,154.0C863.2,153.2 864.5,152.9 865.4,152.3C866.3,151.7 867.5,151.2 868.0,150.4C868.4,149.5 868.2,148.2 867.8,147.2C867.5,146.2 866.8,145.2 866.0,144.6C865.2,144.0 864.0,143.8 862.9,143.6C861.9,143.5 860.5,144.3 859.7,143.8C859.0,143.4 859.1,141.5 858.3,141.0C857.6,140.5 855.5,140.3 855.1,140.8C854.8,141.3 855.5,143.0 856.1,143.9C856.7,144.7 858.1,145.0 858.7,145.8C859.3,146.6 859.4,147.8 860.0,148.7C860.5,149.6 861.3,150.6 862.2,151.0C863.1,151.4 864.4,150.8 865.4,151.1C866.4,151.3 868.2,152.6 868.3,152.4C868.4,152.3 866.9,150.8 866.0,150.2C865.2,149.5 864.2,149.1 863.3,148.4C862.5,147.8 861.4,147.1 861.0,146.2C860.7,145.4 860.8,143.9 861.3,143.1C861.7,142.2 863.7,141.1 863.9,141.2C864.1,141.4 862.6,143.2 862.6,144.2C862.6,145.2 863.2,146.7 863.9,147.1C864.7,147.5 867.1,146.9 867.1,146.8C867.1,146.7 864.9,146.5 863.9,146.6C862.8,146.7 861.7,147.0 860.8,147.5C859.9,148.0 859.4,149.4 858.5,149.6C857.6,149.9 856.1,149.6 855.3,149.0C854.6,148.5 853.9,147.0 854.0,146.1C854.2,145.3 856.0,144.3 856.4,143.9" fill="none" stroke="#3a5f1f" stroke-width="1.7" stroke-linecap="round"/>
<circle cx="860.0" cy="151.4" r="0.9" fill="#6fb24a"/>
<circle cx="862.4" cy="151.5" r="0.9" fill="#6fb24a"/>
<circle cx="860.7" cy="144.8" r="0.9" fill="#6fb24a"/>
<circle cx="856.0" cy="145.9" r="0.9" fill="#6fb24a"/>
<circle cx="817.0" cy="208.3" r="7.6" fill="#3a5f1f"/>
<path d="M817.0,211.4C817.5,211.3 819.4,210.3 820.1,210.7C820.9,211.0 821.4,212.6 821.5,213.6C821.6,214.6 820.7,216.6 820.8,216.7C820.9,216.7 821.4,214.3 822.2,213.8C823.0,213.3 825.1,214.1 825.4,213.6C825.6,213.2 823.7,211.8 823.7,210.9C823.7,210.0 824.9,209.2 825.3,208.2C825.7,207.2 826.5,205.9 826.1,205.1C825.8,204.3 824.1,204.2 823.3,203.6C822.5,202.9 822.2,201.3 821.4,201.0C820.6,200.7 819.0,201.2 818.3,201.9C817.7,202.6 817.2,204.0 817.4,204.9C817.5,205.9 819.0,206.5 819.3,207.5C819.6,208.5 819.6,210.1 819.1,210.7C818.5,211.3 817.0,211.2 815.9,211.3C814.9,211.4 813.6,211.6 812.7,211.1C811.9,210.7 811.1,209.6 810.7,208.7C810.3,207.7 810.7,206.5 810.6,205.5C810.5,204.4 809.9,203.2 810.1,202.3C810.4,201.4 811.4,200.4 812.3,199.9C813.2,199.5 814.8,199.2 815.5,199.6C816.2,200.0 816.6,201.6 816.6,202.6C816.6,203.6 815.3,204.9 815.6,205.6C815.9,206.4 817.6,206.5 818.4,207.2C819.2,207.9 820.0,208.9 820.1,209.9C820.3,210.8 819.9,212.1 819.3,213.0C818.8,213.8 817.4,214.1 816.8,215.0C816.3,215.8 816.1,218.0 815.9,218.0C815.7,218.0 815.1,215.7 815.5,214.9C815.8,214.0 817.1,213.3 818.0,212.9C819.0,212.5 820.4,211.9 821.2,212.3C821.9,212.6 822.6,215.1 822.5,215.2C822.5,215.2 820.7,213.6 820.6,212.6C820.4,211.7 821.4,210.6 821.6,209.6C821.9,208.6 821.4,207.1 821.9,206.4C822.5,205.8 825.0,205.7 825.0,205.7C825.0,205.7 823.0,206.5 821.9,206.4C820.9,206.4 819.9,205.8 818.9,205.5C817.9,205.2 816.6,205.3 815.8,204.7C815.0,204.1 814.3,202.5 814.0,202.0" fill="none" stroke="#3a5f1f" stroke-width="1.7" stroke-linecap="round"/>
<circle cx="812.6" cy="206.4" r="0.9" fill="#6fb24a"/>
<circle cx="818.8" cy="209.7" r="0.9" fill="#6fb24a"/>
<circle cx="821.1" cy="210.5" r="0.9" fill="#6fb24a"/>
<circle cx="821.2" cy="205.9" r="0.9" fill="#6fb24a"/>
<circle cx="864.2" cy="198.8" r="7.6" fill="#3a5f1f"/>
<path d="M867.1,200.6C867.3,200.1 867.9,198.6 868.5,197.7C869.1,196.8 870.1,196.2 870.6,195.3C871.1,194.4 871.4,192.2 871.4,192.2C871.5,192.2 871.6,194.7 871.1,195.4C870.5,196.1 869.1,196.4 868.1,196.6C867.1,196.8 866.0,196.4 864.9,196.3C863.9,196.3 862.8,196.3 861.7,196.3C860.7,196.2 859.5,195.6 858.5,195.9C857.6,196.2 856.2,197.5 856.3,198.1C856.4,198.8 858.1,199.7 859.0,199.8C860.0,199.9 861.4,199.4 862.0,198.7C862.7,198.0 862.5,196.6 862.7,195.5C862.9,194.5 863.7,193.3 863.4,192.4C863.2,191.5 861.2,190.2 861.2,190.2C861.1,190.2 862.5,192.4 863.4,192.5C864.2,192.7 866.1,191.0 866.2,191.1C866.3,191.2 864.7,192.6 863.9,193.3C863.0,193.9 861.8,194.3 861.3,195.1C860.8,195.9 860.4,197.5 860.8,198.3C861.2,199.0 862.8,199.8 863.7,199.7C864.6,199.6 865.4,197.7 866.2,197.7C867.0,197.7 868.2,198.8 868.6,199.7C869.1,200.6 869.1,201.8 869.1,202.9C869.1,203.9 868.7,206.0 868.7,206.0C868.6,206.0 869.3,203.7 868.9,202.8C868.5,202.0 866.8,202.0 866.2,201.2C865.6,200.3 865.3,199.0 865.5,198.0C865.7,197.1 867.1,196.5 867.5,195.6C867.9,194.6 867.5,193.3 867.9,192.4C868.4,191.5 870.2,190.1 870.1,190.1C870.1,190.0 868.2,191.2 867.6,192.1C867.1,193.0 866.8,194.3 867.0,195.2C867.2,196.2 869.0,197.0 869.0,197.8C868.9,198.6 867.2,199.3 866.9,200.2C866.6,201.2 866.8,202.5 867.2,203.4C867.7,204.3 869.5,205.6 869.6,205.6C869.6,205.5 868.5,203.5 867.6,203.0C866.7,202.6 865.1,202.4 864.4,202.8C863.7,203.3 863.5,204.8 863.3,205.8C863.2,206.9 863.5,208.5 863.5,209.0" fill="none" stroke="#3a5f1f" stroke-width="1.7" stroke-linecap="round"/>
<circle cx="863.6" cy="199.0" r="0.9" fill="#6fb24a"/>
<circle cx="866.1" cy="198.6" r="0.9" fill="#6fb24a"/>
<circle cx="858.7" cy="198.3" r="0.9" fill="#6fb24a"/>
<circle cx="865.6" cy="193.7" r="0.9" fill="#6fb24a"/>
<circle cx="763.8" cy="204.8" r="7.6" fill="#3a5f1f"/>
<path d="M768.9,206.2C769.2,205.8 770.2,204.2 771.1,203.9C771.9,203.6 774.2,204.4 774.2,204.3C774.2,204.3 772.0,203.2 771.1,203.5C770.3,203.8 769.6,205.1 769.1,205.9C768.5,206.8 768.3,207.9 767.7,208.8C767.1,209.7 765.9,210.3 765.6,211.3C765.3,212.2 766.0,214.4 765.8,214.5C765.6,214.5 765.0,212.0 764.2,211.7C763.5,211.4 762.2,212.3 761.2,212.6C760.2,212.9 758.5,213.7 758.1,213.3C757.7,212.9 759.0,211.1 758.7,210.2C758.5,209.3 756.9,208.8 756.6,207.8C756.3,206.9 756.4,205.6 756.8,204.6C757.1,203.7 758.3,203.0 758.7,202.0C759.1,201.1 758.9,199.9 759.1,198.9C759.2,197.8 759.3,195.8 759.6,195.7C759.9,195.7 761.2,197.8 761.1,198.6C760.9,199.4 759.3,199.8 758.6,200.6C757.9,201.4 757.6,202.6 756.8,203.3C756.0,204.0 753.9,204.6 754.0,204.7C754.0,204.9 756.1,204.2 757.1,204.3C758.2,204.4 759.2,204.9 760.2,205.3C761.1,205.8 762.1,206.3 762.9,207.0C763.7,207.7 764.0,209.0 764.9,209.5C765.7,210.0 767.3,209.4 768.0,210.0C768.7,210.6 769.2,212.8 768.9,213.0C768.6,213.3 766.5,212.0 766.3,211.2C766.0,210.4 767.7,209.2 767.5,208.3C767.3,207.4 766.0,206.8 765.3,206.0C764.6,205.2 764.1,204.1 763.3,203.5C762.5,202.9 761.1,202.2 760.3,202.5C759.4,202.7 759.2,204.8 758.4,205.1C757.6,205.4 755.8,205.1 755.3,204.4C754.8,203.8 755.0,202.1 755.4,201.2C755.8,200.4 757.2,200.0 757.9,199.2C758.6,198.4 759.3,196.4 759.6,196.5C759.8,196.6 758.9,199.0 759.4,199.7C759.8,200.3 761.5,200.1 762.5,200.5C763.4,200.9 764.1,202.2 765.1,202.3C766.0,202.5 767.6,201.4 768.1,201.2" fill="none" stroke="#3a5f1f" stroke-width="1.7" stroke-linecap="round"/>
<circle cx="765.4" cy="205.3" r="0.9" fill="#6fb24a"/>
<circle cx="768.0" cy="204.4" r="0.9" fill="#6fb24a"/>
<circle cx="763.1" cy="206.6" r="0.9" fill="#6fb24a"/>
<circle cx="759.5" cy="207.1" r="0.9" fill="#6fb24a"/>
<circle cx="852.3" cy="99.0" r="7.6" fill="#3a5f1f"/>
<path d="M849.3,100.6C849.1,101.1 848.0,102.7 848.1,103.6C848.3,104.5 849.4,105.9 850.3,106.0C851.1,106.2 852.6,105.4 853.1,104.7C853.7,103.9 852.9,102.2 853.4,101.5C854.0,100.7 855.6,100.9 856.4,100.2C857.2,99.6 858.2,98.6 858.3,97.6C858.4,96.7 856.7,95.6 856.9,94.7C857.1,93.9 859.4,92.7 859.5,92.8C859.5,92.9 857.6,94.3 857.4,95.2C857.2,96.2 858.5,97.5 858.2,98.3C857.9,99.1 856.5,99.7 855.5,100.1C854.5,100.4 853.1,100.7 852.3,100.3C851.5,99.9 851.6,98.1 850.9,97.4C850.1,96.8 848.5,97.2 847.8,96.5C847.1,95.9 846.4,93.7 846.6,93.6C846.8,93.4 848.8,95.0 848.9,95.8C849.0,96.6 848.0,98.1 847.2,98.5C846.4,98.9 844.9,97.8 844.0,98.2C843.2,98.6 842.1,99.9 842.0,100.8C842.0,101.6 843.1,102.6 843.8,103.4C844.5,104.2 845.3,105.4 846.2,105.6C847.1,105.7 848.0,104.3 849.1,104.1C850.1,103.9 851.4,103.8 852.3,104.3C853.1,104.8 853.8,107.1 853.9,107.0C854.0,107.0 853.1,105.0 852.8,104.0C852.6,103.0 853.0,101.7 852.6,100.8C852.2,99.9 850.7,99.6 850.2,98.7C849.8,97.8 849.8,96.5 850.0,95.5C850.1,94.4 850.4,93.2 851.1,92.5C851.7,91.7 853.0,91.0 853.9,91.0C854.8,91.0 856.2,91.9 856.6,92.7C856.9,93.5 856.0,94.8 856.0,95.9C855.9,96.9 855.9,98.1 856.3,99.1C856.7,100.0 857.7,100.7 858.4,101.5C859.1,102.3 860.8,103.4 860.6,103.8C860.5,104.1 858.3,103.3 857.4,103.7C856.6,104.1 856.2,105.5 855.5,106.2C854.7,107.0 853.4,108.3 852.9,108.1C852.4,107.9 852.1,105.8 852.4,104.9C852.8,104.0 854.4,103.1 854.8,102.8" fill="none" stroke="#3a5f1f" stroke-width="1.7" stroke-linecap="round"/>
<circle cx="856.5" cy="99.8" r="0.9" fill="#6fb24a"/>
<circle cx="856.1" cy="100.9" r="0.9" fill="#6fb24a"/>
<circle cx="853.1" cy="97.6" r="0.9" fill="#6fb24a"/>
<circle cx="853.6" cy="94.1" r="0.9" fill="#6fb24a"/>
<circle cx="933.5" cy="276.5" r="42" fill="#f0da95"/>
<circle cx="946.8" cy="242.6" r="7.6" fill="#3a5f1f"/>
<path d="M951.5,243.4C951.9,243.7 953.4,244.4 954.1,245.1C954.9,245.9 956.0,247.3 955.8,247.9C955.5,248.5 953.6,248.3 952.7,248.9C951.8,249.4 951.3,251.1 950.5,251.2C949.7,251.3 948.7,249.3 947.8,249.4C947.0,249.4 946.4,251.2 945.5,251.6C944.6,251.9 942.8,252.1 942.3,251.5C941.9,251.0 942.8,249.4 942.8,248.4C942.9,247.3 943.2,245.9 942.7,245.2C942.2,244.4 940.3,244.4 939.9,243.7C939.5,242.9 940.4,241.5 940.2,240.5C940.0,239.5 938.3,238.3 938.5,237.7C938.8,237.2 940.8,237.7 941.7,237.2C942.6,236.7 943.4,234.6 943.8,234.8C944.2,234.9 943.6,237.1 944.0,238.0C944.4,238.9 945.4,240.2 946.2,240.3C947.1,240.4 948.1,238.5 948.9,238.5C949.8,238.6 950.9,239.8 951.3,240.7C951.7,241.6 951.8,243.2 951.3,243.9C950.8,244.6 949.3,244.6 948.2,244.9C947.2,245.3 946.2,245.8 945.2,245.8C944.1,245.9 942.9,245.7 942.0,245.2C941.2,244.7 940.0,243.7 939.9,242.8C939.7,242.0 940.3,240.3 941.0,239.9C941.7,239.4 943.1,240.1 944.2,240.2C945.3,240.4 946.3,240.4 947.4,240.7C948.4,240.9 949.3,241.7 950.4,241.8C951.4,241.9 952.4,241.3 953.5,241.1C954.6,241.0 956.7,241.0 956.7,240.8C956.7,240.6 954.6,240.1 953.6,240.0C952.5,239.8 951.0,239.4 950.4,239.9C949.7,240.4 950.1,242.1 949.5,243.0C949.0,243.9 947.6,244.4 947.3,245.3C947.0,246.2 947.9,247.5 947.6,248.5C947.2,249.4 945.5,250.9 945.4,250.8C945.3,250.8 946.2,248.8 946.8,248.0C947.5,247.2 948.5,246.6 949.4,246.1C950.3,245.5 951.3,245.1 952.2,244.5C953.1,244.0 954.5,243.7 954.9,242.9C955.4,242.1 954.9,240.2 954.9,239.7" fill="none" stroke="#3a5f1f" stroke-width="1.7" stroke-linecap="round"/>
<circle cx="950.8" cy="243.8" r="0.9" fill="#6fb24a"/>
<circle cx="941.5" cy="244.3" r="0.9" fill="#6fb24a"/>
<circle cx="945.9" cy="238.9" r="0.9" fill="#6fb24a"/>
<circle cx="951.3" cy="242.7" r="0.9" fill="#6fb24a"/>
<circle cx="888.0" cy="267.8" r="7.6" fill="#3a5f1f"/>
<path d="M885.6,264.4C886.0,263.9 887.0,262.7 887.7,261.9C888.4,261.1 889.8,259.5 889.7,259.4C889.7,259.4 888.1,260.8 887.4,261.6C886.6,262.3 886.1,263.3 885.3,264.0C884.5,264.7 883.4,265.1 882.7,265.8C881.9,266.6 880.9,267.5 880.8,268.4C880.7,269.4 882.3,270.5 882.1,271.4C882.0,272.2 879.7,273.3 879.8,273.6C880.0,273.9 881.9,273.1 883.0,273.2C884.0,273.3 885.3,273.4 886.1,274.0C886.9,274.6 887.4,276.9 887.6,276.8C887.9,276.7 887.8,274.6 887.4,273.6C887.1,272.6 886.1,271.9 885.7,270.9C885.3,269.9 885.7,268.3 885.1,267.8C884.5,267.2 883.0,267.6 881.9,267.7C880.9,267.8 878.8,268.4 878.8,268.2C878.7,268.0 880.5,267.0 881.4,266.4C882.3,265.8 883.2,264.7 884.1,264.7C885.0,264.6 886.0,265.6 886.9,266.2C887.8,266.8 888.5,267.9 889.5,268.1C890.4,268.2 891.7,267.7 892.6,267.2C893.4,266.6 894.1,265.7 894.7,264.8C895.3,264.0 896.2,262.0 896.2,262.0C896.3,262.0 895.3,263.9 895.0,264.9C894.6,265.9 894.6,267.1 894.0,268.0C893.4,268.8 892.4,269.5 891.5,269.9C890.5,270.4 889.4,270.5 888.3,270.6C887.3,270.7 885.9,270.1 885.1,270.6C884.4,271.1 884.1,272.5 884.0,273.5C883.9,274.6 883.9,275.9 884.5,276.7C885.0,277.5 886.3,278.2 887.3,278.2C888.3,278.3 889.6,277.7 890.3,277.0C890.9,276.3 890.5,274.4 891.2,274.0C891.9,273.5 893.4,274.4 894.4,274.2C895.4,274.0 897.1,273.2 897.1,272.6C897.2,272.0 895.3,271.5 894.6,270.7C893.9,269.9 893.7,268.7 893.2,267.8C892.7,266.9 891.8,266.1 891.5,265.1C891.2,264.1 891.5,262.9 891.5,261.9C891.6,260.8 891.9,259.2 891.9,258.7" fill="none" stroke="#3a5f1f" stroke-width="1.7" stroke-linecap="round"/>
<circle cx="887.2" cy="269.3" r="0.9" fill="#6fb24a"/>
<circle cx="885.5" cy="269.1" r="0.9" fill="#6fb24a"/>
<circle cx="885.9" cy="268.4" r="0.9" fill="#6fb24a"/>
<circle cx="886.0" cy="262.9" r="0.9" fill="#6fb24a"/>
<circle cx="926.5" cy="264.3" r="7.6" fill="#3a5f1f"/>
<path d="M926.2,264.6C926.7,264.6 928.4,264.6 929.4,264.9C930.4,265.2 931.2,266.1 932.2,266.3C933.3,266.5 934.8,266.6 935.4,266.0C936.0,265.4 936.4,263.6 936.0,262.8C935.6,262.1 933.9,261.5 933.0,261.6C932.1,261.8 931.2,262.8 930.3,263.4C929.5,264.1 928.7,264.8 927.8,265.4C927.0,266.0 926.1,266.8 925.2,267.2C924.2,267.6 923.1,268.0 922.0,267.9C921.0,267.9 919.8,267.7 919.0,267.1C918.2,266.5 917.4,265.4 917.2,264.4C917.0,263.5 917.4,261.7 918.0,261.3C918.7,260.9 920.1,262.0 921.2,262.0C922.2,262.0 923.4,262.0 924.3,261.6C925.2,261.1 926.5,260.2 926.6,259.3C926.7,258.5 925.3,256.5 925.0,256.6C924.7,256.6 924.7,258.7 924.7,259.8C924.8,260.8 925.5,262.0 925.2,262.9C925.0,263.9 923.8,264.5 923.3,265.5C922.8,266.4 922.0,267.6 922.2,268.5C922.5,269.3 924.1,269.7 924.7,270.5C925.3,271.4 925.4,273.6 925.6,273.6C925.9,273.6 926.5,271.2 926.2,270.4C925.8,269.6 924.4,269.3 923.5,268.7C922.6,268.2 921.1,268.0 920.7,267.2C920.2,266.4 920.1,264.8 920.6,264.0C921.0,263.2 922.4,262.9 923.3,262.3C924.2,261.7 925.4,261.3 925.9,260.5C926.4,259.6 925.8,258.3 926.0,257.3C926.3,256.3 927.5,254.4 927.4,254.4C927.2,254.3 926.1,256.1 925.2,256.7C924.3,257.3 922.2,257.2 922.2,257.7C922.1,258.2 923.7,259.4 924.7,259.7C925.6,259.9 927.0,258.8 927.9,259.2C928.7,259.5 929.4,260.7 929.9,261.6C930.5,262.5 930.3,264.1 931.1,264.6C931.8,265.1 933.4,265.2 934.2,264.8C935.1,264.4 936.1,262.3 935.9,262.1C935.7,261.9 934.0,263.5 933.0,263.5C932.1,263.5 930.6,262.4 930.1,262.2" fill="none" stroke="#3a5f1f" stroke-width="1.7" stroke-linecap="round"/>
<circle cx="927.7" cy="264.3" r="0.9" fill="#6fb24a"/>
<circle cx="924.2" cy="266.2" r="0.9" fill="#6fb24a"/>
<circle cx="922.5" cy="267.8" r="0.9" fill="#6fb24a"/>
<circle cx="924.0" cy="262.7" r="0.9" fill="#6fb24a"/>
<circle cx="973.8" cy="264.3" r="7.6" fill="#3a5f1f"/>
<path d="M972.1,267.8C972.6,267.7 974.1,266.9 975.1,266.9C976.1,266.9 977.6,267.1 978.2,267.8C978.7,268.4 978.8,270.7 978.4,270.9C978.1,271.2 976.8,269.3 975.9,269.1C974.9,268.8 973.8,269.5 972.7,269.5C971.6,269.5 970.5,269.5 969.5,269.1C968.6,268.7 967.6,267.9 967.0,267.1C966.4,266.3 965.7,264.9 966.0,264.1C966.2,263.2 967.4,262.2 968.3,261.9C969.2,261.6 970.8,261.8 971.5,262.4C972.2,263.0 971.8,264.9 972.6,265.4C973.3,266.0 974.7,265.5 975.7,265.7C976.8,265.9 977.9,266.2 978.8,266.7C979.7,267.2 981.0,267.8 981.3,268.7C981.5,269.5 980.6,271.7 980.3,271.7C980.0,271.7 980.1,269.5 979.6,268.6C979.2,267.7 977.7,267.0 977.6,266.1C977.5,265.3 979.1,264.2 979.0,263.3C978.9,262.4 977.7,261.1 976.8,260.9C976.0,260.7 974.8,261.6 973.9,262.1C972.9,262.5 972.0,263.2 971.0,263.5C970.0,263.8 968.5,263.5 967.9,264.1C967.2,264.7 967.5,266.2 967.2,267.2C967.0,268.3 966.0,269.8 966.4,270.3C966.8,270.8 968.7,270.6 969.6,270.3C970.6,269.9 971.3,268.8 971.9,268.0C972.6,267.2 973.0,266.0 973.8,265.4C974.6,264.8 976.1,265.1 976.8,264.4C977.5,263.7 978.1,262.2 977.9,261.4C977.6,260.5 976.3,259.8 975.4,259.3C974.5,258.8 973.2,259.1 972.3,258.6C971.4,258.1 970.6,256.2 970.1,256.3C969.5,256.4 969.8,258.5 969.2,259.4C968.6,260.2 967.6,260.8 966.7,261.3C965.8,261.9 963.8,262.3 963.8,262.7C963.8,263.2 965.8,263.5 966.8,263.9C967.8,264.3 968.7,265.2 969.7,265.1C970.7,265.1 971.7,263.7 972.6,263.8C973.5,263.9 974.8,264.9 975.2,265.7C975.5,266.6 974.8,268.4 974.7,268.9" fill="none" stroke="#3a5f1f" stroke-width="1.7" stroke-linecap="round"/>
<circle cx="976.1" cy="265.1" r="0.9" fill="#6fb24a"/>
<circle cx="977.4" cy="265.2" r="0.9" fill="#6fb24a"/>
<circle cx="978.3" cy="266.8" r="0.9" fill="#6fb24a"/>
<circle cx="969.7" cy="267.8" r="0.9" fill="#6fb24a"/>
<circle cx="954.5" cy="287.7" r="7.6" fill="#3a5f1f"/>
<path d="M950.1,285.9C949.5,285.8 946.9,285.5 946.9,285.5C946.9,285.4 949.1,286.1 950.1,285.9C951.0,285.6 952.2,284.8 952.6,284.0C953.0,283.1 952.1,281.6 952.5,280.8C953.0,279.9 954.2,279.2 955.1,278.9C956.1,278.6 957.3,278.8 958.3,279.1C959.3,279.4 960.8,279.9 961.1,280.7C961.5,281.5 960.5,282.8 960.5,283.8C960.4,284.9 960.8,286.0 960.7,287.0C960.6,288.1 959.7,289.1 959.8,290.1C959.8,291.1 961.0,292.2 960.9,293.1C960.7,294.0 959.3,294.6 958.6,295.4C958.0,296.2 957.6,297.8 956.8,298.0C956.0,298.3 954.8,297.1 953.8,297.0C952.7,296.8 951.4,297.4 950.6,297.0C949.7,296.5 949.0,295.3 948.7,294.4C948.4,293.4 949.0,292.1 948.7,291.2C948.4,290.2 947.3,289.5 946.8,288.6C946.2,287.7 945.2,286.2 945.5,285.7C945.8,285.2 947.7,285.5 948.7,285.8C949.7,286.0 950.4,287.0 951.4,287.4C952.3,287.9 953.7,287.8 954.4,288.5C955.1,289.2 955.3,290.5 955.5,291.5C955.7,292.6 955.5,293.7 955.4,294.7C955.3,295.8 954.7,297.8 954.7,297.8C954.7,297.8 955.5,295.7 955.3,294.7C955.1,293.7 954.0,293.0 953.6,292.0C953.2,291.1 953.4,289.8 952.9,288.9C952.5,288.0 951.7,287.0 950.8,286.5C949.9,285.9 948.5,285.3 947.7,285.6C947.0,285.9 946.1,288.3 946.2,288.4C946.4,288.5 947.7,286.5 948.6,286.3C949.5,286.1 950.8,287.5 951.7,287.3C952.5,287.0 952.8,285.0 953.6,284.7C954.5,284.4 955.9,284.9 956.7,285.4C957.6,286.0 958.0,287.2 958.5,288.1C959.0,289.1 959.2,290.1 959.5,291.1C959.9,292.1 960.8,294.0 960.7,294.1C960.5,294.2 959.3,292.4 958.6,291.7C957.9,290.9 956.6,289.9 956.2,289.6" fill="none" stroke="#3a5f1f" stroke-width="1.7" stroke-linecap="round"/>
<circle cx="955.9" cy="284.0" r="0.9" fill="#6fb24a"/>
<circle cx="952.9" cy="289.1" r="0.9" fill="#6fb24a"/>
<circle cx="950.6" cy="285.6" r="0.9" fill="#6fb24a"/>
<circle cx="954.4" cy="290.3" r="0.9" fill="#6fb24a"/>
<circle cx="928.3" cy="295.8" r="7.6" fill="#3a5f1f"/>
<path d="M926.4,296.9C926.6,297.3 927.8,298.6 928.0,299.6C928.2,300.6 927.8,301.8 927.6,302.8C927.4,303.9 926.6,305.8 926.8,305.9C927.0,306.0 928.4,304.2 928.6,303.2C928.8,302.3 927.9,301.1 928.0,300.1C928.1,299.0 928.8,298.1 929.0,297.0C929.2,296.0 929.1,294.9 929.2,293.8C929.4,292.8 930.2,291.5 929.8,290.7C929.4,289.9 928.0,289.2 927.0,289.2C926.0,289.1 925.0,289.9 924.0,290.3C923.0,290.6 920.9,291.2 920.9,291.3C921.0,291.3 923.2,290.5 924.1,290.7C925.0,291.0 925.7,292.7 926.6,292.8C927.4,292.8 928.9,291.8 929.2,291.0C929.6,290.2 928.6,287.9 928.5,287.9C928.4,287.9 928.8,290.2 928.5,291.1C928.1,292.0 926.9,292.6 926.4,293.5C925.9,294.4 925.5,295.7 925.7,296.6C925.9,297.6 926.9,298.5 927.6,299.2C928.4,299.9 929.4,300.5 930.3,300.9C931.3,301.4 932.9,302.3 933.4,301.9C933.8,301.5 933.5,299.6 933.0,298.7C932.5,297.9 931.2,297.5 930.3,296.9C929.5,296.2 928.4,295.7 927.9,294.8C927.5,293.9 928.2,292.3 927.7,291.6C927.1,290.9 925.6,290.6 924.6,290.8C923.6,290.9 922.8,292.3 921.8,292.4C920.9,292.4 918.9,291.1 918.9,291.0C919.0,290.8 921.0,291.4 922.1,291.4C923.1,291.4 924.3,290.6 925.2,290.8C926.2,291.0 927.1,291.9 927.8,292.6C928.6,293.4 928.9,294.5 929.6,295.3C930.4,296.0 931.7,296.3 932.3,297.1C932.8,297.9 932.4,299.6 933.0,300.2C933.7,300.8 936.2,300.5 936.2,300.6C936.2,300.7 933.9,300.3 933.0,300.8C932.1,301.2 931.8,302.8 930.9,303.2C930.1,303.6 928.8,303.3 927.7,303.1C926.7,302.9 925.6,302.5 924.8,301.9C924.0,301.3 923.2,299.8 922.9,299.3" fill="none" stroke="#3a5f1f" stroke-width="1.7" stroke-linecap="round"/>
<circle cx="929.7" cy="293.6" r="0.9" fill="#6fb24a"/>
<circle cx="931.6" cy="296.2" r="0.9" fill="#6fb24a"/>
<circle cx="928.2" cy="300.8" r="0.9" fill="#6fb24a"/>
<circle cx="931.5" cy="293.7" r="0.9" fill="#6fb24a"/>
<circle cx="935.3" cy="319.2" r="7.6" fill="#3a5f1f"/>
<path d="M937.7,323.1C937.8,323.6 938.7,325.5 938.3,326.2C937.9,327.0 935.8,328.0 935.5,327.7C935.1,327.5 935.9,325.6 936.3,324.7C936.7,323.7 936.9,322.4 937.7,321.8C938.4,321.1 939.9,320.7 940.8,320.9C941.7,321.1 942.9,323.2 943.0,323.2C943.1,323.1 941.5,321.5 941.3,320.5C941.0,319.5 941.1,318.1 941.6,317.3C942.2,316.5 944.4,315.7 944.4,315.7C944.4,315.7 942.3,316.4 941.5,317.0C940.7,317.7 939.5,318.6 939.4,319.4C939.3,320.3 940.7,321.4 940.7,322.4C940.8,323.4 940.4,324.8 939.7,325.4C939.0,326.0 937.5,325.4 936.5,325.8C935.6,326.3 934.9,328.0 934.1,328.0C933.4,327.9 932.1,326.4 932.0,325.5C931.9,324.7 932.7,323.4 933.5,322.7C934.2,322.0 935.4,321.6 936.4,321.4C937.4,321.1 938.5,321.3 939.6,321.3C940.6,321.3 941.8,321.6 942.8,321.3C943.8,321.1 945.5,320.5 945.6,319.8C945.8,319.2 944.6,317.6 943.8,317.2C942.9,316.9 941.5,317.4 940.6,317.9C939.7,318.3 939.1,319.9 938.3,320.0C937.4,320.2 936.3,318.5 935.4,318.6C934.5,318.7 933.6,319.8 933.0,320.6C932.3,321.5 932.3,323.2 931.6,323.5C930.8,323.9 929.3,323.2 928.5,322.7C927.6,322.1 926.2,321.0 926.3,320.3C926.3,319.6 927.9,318.5 928.8,318.3C929.7,318.1 931.0,318.7 931.9,319.2C932.7,319.8 932.9,321.4 933.7,321.8C934.6,322.3 936.1,321.5 936.9,322.0C937.8,322.4 938.2,323.7 938.8,324.5C939.5,325.4 940.3,327.2 940.7,327.2C941.1,327.1 941.0,325.0 941.4,324.0C941.8,323.1 943.4,321.6 943.3,321.5C943.1,321.3 940.8,322.1 940.4,322.9C940.0,323.7 941.2,325.2 940.8,326.1C940.4,326.9 938.7,327.6 938.2,328.0" fill="none" stroke="#3a5f1f" stroke-width="1.7" stroke-linecap="round"/>
<circle cx="937.8" cy="320.8" r="0.9" fill="#6fb24a"/>
<circle cx="933.8" cy="319.6" r="0.9" fill="#6fb24a"/>
<circle cx="936.7" cy="314.0" r="0.9" fill="#6fb24a"/>
<circle cx="933.8" cy="323.9" r="0.9" fill="#6fb24a"/>
<path d="M756.9,240.9 A12.4,12.4 0 0 1 781.7,240.9 L781.7,301.5 A22.4,22.4 0 1 1 756.9,301.5 Z" fill="#000"/>
<path d="M760.9,240.9 A8.4,8.4 0 0 1 777.7,240.9 L777.7,303.8 A18.4,18.4 0 1 1 760.9,303.8 Z" fill="#fff"/>
<rect x="764.8" y="247.5" width="9.0" height="72.7" rx="4.5" fill="#d31f25"/>
<circle cx="769.3" cy="319.7" r="14.8" fill="#d31f25"/>
<line x1="780.7" y1="248.8" x2="790.3" y2="248.8" stroke="#000" stroke-width="3.7" stroke-linecap="round"/>
<line x1="780.7" y1="259.8" x2="787.0" y2="259.8" stroke="#000" stroke-width="3.7" stroke-linecap="round"/>
<line x1="780.7" y1="270.8" x2="790.3" y2="270.8" stroke="#000" stroke-width="3.7" stroke-linecap="round"/>
<line x1="780.7" y1="281.8" x2="787.0" y2="281.8" stroke="#000" stroke-width="3.7" stroke-linecap="round"/>
<line x1="780.7" y1="292.8" x2="790.3" y2="292.8" stroke="#000" stroke-width="3.7" stroke-linecap="round"/>
<text x="1000.2" y="40.6" font-size="31.5">(iii)</text>
<text x="1066.5" y="60.4" font-size="30" letter-spacing="2.53">Aggregation?</text>
<text x="1234.8" y="120.6" font-size="30.5"><tspan font-style="italic">G</tspan><tspan font-style="italic" font-size="20" dy="-11.3">s</tspan><tspan font-style="italic" dy="11.3" dx="1">&#8242;</tspan></text>
<line x1="1279.1" y1="98.4" x2="1279.1" y2="117" stroke="#000" stroke-width="3.2"/>
<path d="M1275.3,116 L1282.9,116 L1279.1,122.8 Z" fill="#000"/>
<circle cx="1119" cy="162.8" r="41" fill="#f0da95"/>
<circle cx="1086.0" cy="123.0" r="17" fill="#6aaf47"/>
<path d="M1089.2,112.7C1088.2,112.8 1085.4,113.6 1083.7,113.2C1082.0,112.9 1080.6,111.1 1078.9,110.5C1077.2,109.8 1073.7,109.0 1073.5,109.3C1073.4,109.6 1076.8,111.1 1078.2,112.1C1079.7,113.2 1081.6,114.2 1082.4,115.7C1083.2,117.2 1082.2,120.0 1083.3,121.2C1084.3,122.3 1086.8,122.5 1088.6,122.6C1090.4,122.7 1092.3,122.2 1094.0,121.7C1095.8,121.3 1097.7,120.7 1099.1,119.6C1100.5,118.6 1102.3,115.2 1102.6,115.4C1102.8,115.5 1101.2,118.8 1100.6,120.5C1100.1,122.3 1099.3,124.1 1099.3,125.9C1099.3,127.6 1101.2,130.2 1100.5,131.2C1099.8,132.3 1096.7,132.6 1095.1,132.2C1093.5,131.7 1092.6,129.4 1091.1,128.4C1089.6,127.4 1087.1,127.3 1086.2,126.0C1085.2,124.7 1086.0,122.3 1085.6,120.5C1085.1,118.8 1084.4,117.0 1083.3,115.5C1082.3,114.0 1080.9,112.3 1079.4,111.7C1077.8,111.1 1075.3,110.9 1073.9,111.7C1072.5,112.5 1070.9,114.8 1070.9,116.3C1071.0,117.9 1073.6,119.2 1074.1,120.8C1074.6,122.5 1074.8,124.9 1074.0,126.3C1073.2,127.8 1071.1,129.4 1069.5,129.5C1067.9,129.6 1064.6,127.0 1064.5,127.1C1064.5,127.1 1067.9,128.7 1069.4,129.7C1070.8,130.8 1072.0,132.2 1073.4,133.4C1074.8,134.6 1077.1,135.4 1077.7,136.9C1078.2,138.4 1076.9,142.3 1076.6,142.3C1076.4,142.3 1076.0,138.7 1075.9,136.9C1075.8,135.0 1075.4,132.8 1076.2,131.4C1077.0,129.9 1079.0,128.7 1080.6,128.1C1082.3,127.6 1084.3,128.0 1086.1,128.0C1087.9,128.1 1089.9,127.7 1091.6,128.3C1093.3,128.9 1094.5,130.8 1096.1,131.4C1097.8,132.0 1101.4,132.4 1101.6,131.9C1101.8,131.3 1099.0,128.6 1097.4,128.3C1095.9,128.0 1093.8,130.4 1092.3,130.1C1090.7,129.8 1088.9,128.0 1088.1,126.4C1087.4,124.9 1087.5,122.6 1088.0,120.9C1088.6,119.3 1090.8,118.2 1091.4,116.6C1092.1,115.0 1091.2,112.7 1092.0,111.1C1092.7,109.6 1094.9,106.9 1095.8,107.2C1096.6,107.4 1097.5,110.9 1097.1,112.5C1096.7,114.1 1095.0,115.6 1093.5,116.6C1092.0,117.7 1089.7,117.5 1088.3,118.5C1086.9,119.6 1086.1,121.4 1085.0,123.0C1084.0,124.5 1082.4,126.0 1082.2,127.6C1081.9,129.3 1083.7,131.4 1083.3,133.0C1082.9,134.6 1080.5,135.6 1079.6,137.1C1078.7,138.7 1078.0,142.4 1077.9,142.4C1077.9,142.4 1078.7,138.8 1079.3,137.0C1079.9,135.3 1081.3,133.8 1081.6,132.1C1081.9,130.3 1082.0,127.8 1081.0,126.6C1080.0,125.4 1077.3,124.4 1075.8,124.7C1074.3,125.1 1072.6,127.1 1071.9,128.6C1071.3,130.2 1071.7,132.3 1071.9,134.1C1072.1,135.9 1072.2,138.3 1073.3,139.5C1074.4,140.6 1076.8,140.6 1078.5,141.1C1080.3,141.5 1082.2,142.5 1083.9,142.4C1085.6,142.2 1087.6,141.4 1089.0,140.3C1090.4,139.2 1091.4,137.5 1092.3,135.9C1093.1,134.3 1094.0,132.5 1094.2,130.7C1094.4,129.0 1093.7,127.1 1093.4,125.3C1093.0,123.5 1092.3,121.8 1092.1,119.9C1091.8,118.1 1091.8,116.3 1091.8,114.5C1091.8,112.6 1092.9,110.3 1092.2,109.0C1091.4,107.7 1088.9,106.6 1087.2,106.6C1085.6,106.5 1083.2,107.4 1082.2,108.7C1081.2,109.9 1081.6,112.3 1081.2,114.1C1080.9,115.9 1080.5,117.7 1080.3,119.5C1080.0,121.3 1079.4,123.2 1079.5,125.0C1079.7,126.8 1080.3,128.6 1081.0,130.3C1081.6,132.0 1082.1,134.1 1083.4,135.2C1084.7,136.3 1086.9,136.4 1088.7,136.6C1090.5,136.8 1092.4,136.3 1094.2,136.3C1096.0,136.4 1099.4,137.6 1099.7,137.1C1099.9,136.6 1096.6,134.8 1095.7,133.3C1094.7,131.8 1095.0,129.1 1093.8,128.1C1092.6,127.1 1090.0,128.0 1088.4,127.3C1086.8,126.5 1085.6,124.9 1084.3,123.6C1082.9,122.4 1081.6,121.1 1080.3,119.8C1079.1,118.5 1077.4,117.2 1076.8,115.6C1076.2,114.0 1076.3,111.8 1076.7,110.1C1077.2,108.4 1078.6,105.4 1079.5,105.4C1080.5,105.3 1082.4,108.5 1082.4,110.0C1082.5,111.6 1080.9,113.5 1079.7,114.8C1078.4,116.0 1076.5,117.5 1074.9,117.5C1073.3,117.5 1070.4,114.4 1070.2,114.7C1069.9,114.9 1072.6,117.5 1073.4,119.2C1074.2,120.8 1074.7,122.6 1075.1,124.4C1075.6,126.1 1076.1,128.0 1076.1,129.8C1076.2,131.6 1076.1,133.5 1075.5,135.2C1075.0,136.9 1073.0,140.1 1072.8,140.0C1072.5,139.9 1073.1,136.0 1074.2,134.7C1075.2,133.3 1077.2,132.4 1078.9,131.9C1080.6,131.5 1082.6,132.3 1084.4,132.0C1086.2,131.7 1087.9,130.8 1089.6,130.2C1091.3,129.6 1093.2,128.0 1094.8,128.3C1096.3,128.5 1098.0,130.4 1098.9,131.9C1099.8,133.4 1100.5,135.8 1100.0,137.3C1099.5,138.8 1097.3,140.4 1095.7,140.7C1094.1,141.0 1092.2,139.0 1090.5,139.0C1088.8,139.0 1087.1,140.3 1085.3,140.9C1083.6,141.5 1081.7,142.8 1080.1,142.6C1078.5,142.4 1076.2,141.0 1075.5,139.6C1074.8,138.1 1074.9,135.3 1075.8,134.1C1076.7,132.8 1079.6,133.2 1081.0,132.2C1082.4,131.2 1083.6,129.5 1084.5,127.9C1085.3,126.3 1085.3,124.3 1086.1,122.7C1086.9,121.1 1088.8,120.0 1089.5,118.3C1090.1,116.7 1090.6,114.4 1090.0,112.9C1089.5,111.3 1087.3,110.5 1085.9,109.2C1084.6,108.0 1082.3,105.2 1081.9,105.5C1081.4,105.8 1082.8,109.0 1083.2,110.8C1083.6,112.6 1083.8,114.5 1084.2,116.2C1084.7,118.0 1084.8,120.4 1086.0,121.5C1087.2,122.5 1089.7,121.7 1091.4,122.4C1093.0,123.1 1095.2,124.1 1095.9,125.5C1096.6,127.0 1096.6,129.6 1095.9,131.0C1095.1,132.5 1092.9,133.2 1091.5,134.4C1090.1,135.6 1088.6,136.7 1087.5,138.1C1086.3,139.5 1086.0,141.9 1084.7,142.9C1083.3,143.8 1080.6,144.4 1079.3,143.8C1077.9,143.1 1077.0,139.8 1076.6,139.0" fill="none" stroke="#3b611f" stroke-width="1.6" stroke-linecap="round"/>
<circle cx="1115.0" cy="119.0" r="17" fill="#6aaf47"/>
<path d="M1109.4,112.3C1108.8,113.0 1106.8,115.0 1105.9,116.5C1105.1,118.1 1104.6,120.0 1104.4,121.8C1104.2,123.6 1105.0,125.6 1104.6,127.3C1104.2,129.0 1101.6,131.4 1102.0,132.2C1102.5,133.0 1105.7,132.3 1107.5,132.2C1109.4,132.2 1111.3,132.2 1113.0,131.8C1114.8,131.3 1117.2,130.9 1118.1,129.7C1119.0,128.4 1117.7,125.8 1118.2,124.2C1118.8,122.5 1121.0,121.4 1121.5,119.8C1122.1,118.1 1121.5,116.1 1121.3,114.3C1121.1,112.4 1120.4,110.6 1120.5,108.8C1120.6,107.0 1122.6,104.1 1122.0,103.5C1121.4,103.0 1118.4,104.5 1116.8,105.3C1115.2,106.1 1113.5,107.1 1112.2,108.4C1110.9,109.6 1109.2,111.2 1108.9,112.8C1108.6,114.4 1109.4,117.0 1110.6,118.0C1111.8,119.0 1114.5,119.3 1116.0,118.7C1117.6,118.2 1118.5,116.0 1119.9,114.8C1121.3,113.7 1123.6,113.1 1124.4,111.7C1125.2,110.2 1124.6,108.0 1124.6,106.2C1124.7,104.4 1125.5,101.1 1124.8,100.7C1124.0,100.3 1120.8,102.2 1120.1,103.6C1119.4,105.0 1121.0,107.4 1120.6,109.0C1120.2,110.7 1119.1,112.9 1117.6,113.7C1116.2,114.4 1113.5,114.3 1112.2,113.4C1110.8,112.6 1110.6,110.1 1109.7,108.5C1108.9,106.9 1107.2,105.5 1106.9,103.8C1106.6,102.1 1108.3,98.5 1108.1,98.4C1107.8,98.3 1105.7,101.5 1105.4,103.2C1105.1,104.9 1106.9,107.2 1106.2,108.7C1105.6,110.1 1103.3,111.0 1101.7,111.8C1100.1,112.5 1096.4,113.0 1096.4,113.4C1096.5,113.7 1100.4,114.5 1101.9,113.9C1103.4,113.2 1104.7,111.1 1105.3,109.5C1105.8,107.9 1104.4,105.5 1105.0,104.0C1105.6,102.5 1107.5,100.8 1109.1,100.3C1110.7,99.7 1112.7,100.8 1114.5,100.7C1116.4,100.6 1118.2,99.5 1119.9,99.6C1121.7,99.8 1124.0,100.2 1125.2,101.3C1126.3,102.5 1125.9,105.0 1126.8,106.6C1127.6,108.2 1128.7,109.9 1130.1,111.0C1131.5,112.0 1134.4,111.7 1135.3,112.9C1136.2,114.1 1136.2,118.1 1135.6,118.4C1134.9,118.7 1133.1,115.4 1131.5,114.7C1129.9,113.9 1127.2,114.9 1126.0,113.9C1124.8,112.9 1125.5,109.7 1124.3,108.7C1123.1,107.7 1120.7,107.8 1118.9,107.9C1117.1,107.9 1115.2,108.5 1113.5,109.0C1111.7,109.5 1109.3,109.7 1108.3,110.9C1107.3,112.2 1108.4,114.9 1107.5,116.4C1106.7,117.9 1104.8,119.6 1103.2,119.8C1101.7,120.0 1098.2,117.7 1098.1,117.8C1098.1,117.8 1101.4,119.8 1103.2,120.0C1104.9,120.3 1106.9,119.9 1108.6,119.2C1110.3,118.6 1111.5,116.8 1113.1,116.1C1114.8,115.4 1116.7,115.3 1118.5,115.0C1120.3,114.7 1122.6,115.0 1123.9,114.1C1125.2,113.1 1125.0,109.9 1126.3,109.1C1127.6,108.3 1130.5,108.4 1131.8,109.4C1133.0,110.3 1133.3,112.7 1133.6,114.5C1134.0,116.3 1134.8,118.5 1134.1,120.0C1133.4,121.5 1130.9,121.9 1129.7,123.3C1128.5,124.6 1127.6,126.3 1126.8,128.0C1126.0,129.6 1125.7,131.5 1124.8,133.1C1123.9,134.7 1122.7,137.0 1121.3,137.3C1119.8,137.6 1117.9,135.8 1116.3,135.1C1114.6,134.3 1113.0,132.8 1111.3,132.7C1109.6,132.5 1107.8,134.2 1106.0,134.2C1104.3,134.1 1102.4,133.3 1100.8,132.4C1099.2,131.6 1096.3,130.1 1096.4,129.1C1096.5,128.1 1099.5,126.9 1101.2,126.4C1102.9,125.9 1105.2,126.8 1106.7,126.0C1108.1,125.2 1108.4,122.5 1109.8,121.5C1111.2,120.5 1113.4,119.7 1115.1,119.9C1116.8,120.1 1118.2,122.3 1119.9,122.5C1121.6,122.8 1124.0,122.4 1125.3,121.4C1126.6,120.4 1126.6,117.8 1127.8,116.5C1129.1,115.3 1132.8,114.6 1132.7,113.9C1132.6,113.3 1128.4,113.7 1127.4,112.6C1126.4,111.4 1126.5,108.9 1126.7,107.1C1127.0,105.3 1128.7,102.0 1128.9,102.0C1129.1,102.1 1128.1,105.6 1128.0,107.5C1127.9,109.3 1129.1,111.4 1128.4,113.0C1127.8,114.5 1125.9,115.8 1124.3,116.6C1122.7,117.4 1120.7,117.6 1118.9,117.7C1117.1,117.8 1115.3,117.0 1113.5,117.0C1111.7,117.0 1109.6,116.9 1108.0,117.6C1106.4,118.4 1105.6,120.9 1104.0,121.4C1102.4,121.9 1100.0,120.1 1098.5,120.7C1097.1,121.4 1095.1,124.2 1095.4,125.2C1095.8,126.3 1099.6,125.7 1100.7,126.9C1101.7,128.0 1100.7,131.1 1101.8,132.2C1102.9,133.4 1105.4,133.1 1107.1,133.6C1108.9,134.1 1110.9,134.5 1112.3,135.5C1113.7,136.5 1114.6,139.7 1115.8,139.7C1117.0,139.8 1118.1,136.8 1119.6,135.8C1121.1,134.8 1124.8,134.2 1124.7,133.7C1124.7,133.2 1120.5,133.8 1119.3,132.8C1118.1,131.8 1118.6,128.9 1117.5,127.6C1116.4,126.3 1114.4,125.6 1112.6,125.1C1110.9,124.7 1108.9,124.8 1107.1,125.0C1105.3,125.2 1103.6,126.5 1101.8,126.5C1100.1,126.4 1096.7,125.2 1096.7,124.5C1096.7,123.8 1100.1,122.3 1101.7,122.4C1103.4,122.4 1105.1,123.8 1106.7,124.8C1108.2,125.7 1109.4,127.3 1111.1,128.1C1112.7,128.9 1114.7,128.8 1116.4,129.3C1118.2,129.9 1119.9,131.4 1121.5,131.3C1123.2,131.3 1125.6,130.3 1126.5,129.0C1127.4,127.7 1127.1,125.3 1127.2,123.5C1127.3,121.7 1127.7,119.7 1127.2,118.0C1126.7,116.4 1125.0,115.1 1124.1,113.5C1123.1,112.0 1122.9,109.6 1121.5,108.6C1120.2,107.7 1117.8,107.3 1116.1,107.7C1114.5,108.1 1113.3,110.2 1111.6,110.9C1110.0,111.5 1107.9,112.0 1106.2,111.6C1104.5,111.3 1103.2,108.9 1101.5,108.7C1099.9,108.5 1096.6,109.4 1096.3,110.4C1096.0,111.4 1099.0,113.1 1099.7,114.7C1100.5,116.3 1100.5,118.3 1100.8,120.1C1101.0,121.9 1100.3,124.2 1101.2,125.6C1102.0,127.0 1104.1,128.0 1105.8,128.6C1107.5,129.1 1109.9,129.7 1111.3,129.0C1112.7,128.2 1112.6,125.1 1114.0,124.1C1115.3,123.2 1118.4,123.2 1119.3,123.1" fill="none" stroke="#3b611f" stroke-width="1.6" stroke-linecap="round"/>
<circle cx="1161.0" cy="137.0" r="17" fill="#6aaf47"/>
<path d="M1156.5,136.8C1155.6,137.0 1152.9,138.0 1151.1,137.9C1149.3,137.8 1147.5,136.2 1145.8,136.4C1144.1,136.6 1141.0,138.1 1141.0,139.1C1141.0,140.0 1144.1,141.9 1145.7,141.9C1147.2,141.9 1148.7,139.7 1150.4,139.0C1152.0,138.4 1154.0,138.5 1155.7,137.9C1157.4,137.3 1159.7,136.6 1160.6,135.3C1161.4,133.9 1161.2,131.5 1160.9,129.8C1160.6,128.0 1159.2,126.4 1158.9,124.7C1158.5,122.9 1159.5,120.6 1158.7,119.2C1158.0,117.7 1155.0,115.6 1154.2,116.0C1153.4,116.4 1153.6,119.9 1154.1,121.5C1154.6,123.2 1157.0,124.4 1157.2,126.0C1157.5,127.7 1156.4,129.6 1155.7,131.3C1155.0,133.0 1154.3,134.8 1153.2,136.2C1152.2,137.7 1149.7,138.7 1149.4,140.2C1149.1,141.7 1150.0,144.3 1151.2,145.4C1152.4,146.4 1154.9,145.9 1156.6,146.5C1158.3,147.1 1159.8,148.8 1161.5,149.0C1163.2,149.1 1165.0,147.8 1166.7,147.3C1168.5,146.8 1170.5,145.6 1172.1,145.9C1173.6,146.3 1176.3,149.4 1176.3,149.5C1176.2,149.6 1173.3,146.6 1171.7,146.4C1170.1,146.3 1167.7,147.2 1166.6,148.4C1165.4,149.7 1164.7,153.6 1164.9,153.7C1165.2,153.8 1166.6,150.2 1168.0,149.1C1169.3,148.0 1171.9,148.3 1173.1,147.1C1174.3,145.9 1175.5,143.6 1175.3,142.1C1175.0,140.5 1172.0,139.3 1171.8,137.8C1171.6,136.2 1172.9,133.7 1174.2,132.8C1175.5,132.0 1179.5,132.3 1179.7,132.8C1179.9,133.4 1176.8,135.0 1175.2,136.1C1173.7,137.1 1172.2,138.8 1170.5,138.9C1168.9,139.0 1167.2,136.9 1165.5,136.7C1163.7,136.5 1161.8,138.0 1160.1,137.8C1158.4,137.5 1156.9,136.1 1155.2,135.2C1153.6,134.3 1151.9,133.6 1150.4,132.7C1148.8,131.7 1146.5,131.0 1145.8,129.6C1145.1,128.2 1145.3,124.7 1146.2,124.1C1147.1,123.5 1149.7,126.2 1151.4,126.0C1153.0,125.8 1155.0,124.3 1155.9,122.9C1156.8,121.5 1155.9,117.9 1156.9,117.5C1157.8,117.0 1160.9,118.8 1161.6,120.2C1162.4,121.6 1161.2,123.9 1161.4,125.7C1161.6,127.5 1162.7,129.2 1163.1,131.0C1163.4,132.8 1163.2,134.6 1163.3,136.5C1163.4,138.3 1162.9,140.5 1163.7,141.9C1164.5,143.3 1166.7,144.4 1168.3,144.9C1170.0,145.3 1172.3,145.3 1173.8,144.7C1175.4,144.0 1176.8,142.3 1177.8,140.8C1178.8,139.4 1180.2,137.3 1179.9,135.8C1179.7,134.3 1177.2,133.3 1176.1,131.9C1174.9,130.5 1174.3,128.4 1173.0,127.3C1171.6,126.3 1169.3,126.4 1167.8,125.4C1166.3,124.5 1165.1,122.9 1163.9,121.5C1162.7,120.1 1161.8,117.3 1160.5,117.2C1159.3,117.1 1157.6,119.5 1156.6,121.0C1155.6,122.5 1155.5,124.6 1154.6,126.1C1153.7,127.7 1152.6,129.5 1151.1,130.4C1149.6,131.3 1147.3,130.7 1145.7,131.5C1144.1,132.2 1141.3,133.9 1141.4,134.9C1141.5,136.0 1145.2,136.3 1146.2,137.7C1147.1,139.1 1147.4,141.4 1147.1,143.1C1146.9,144.8 1144.3,147.7 1144.7,148.0C1145.0,148.4 1147.9,146.2 1149.2,145.0C1150.6,143.7 1151.3,141.9 1152.7,140.7C1154.1,139.5 1155.9,137.8 1157.4,137.9C1159.0,137.9 1160.4,141.0 1161.9,141.0C1163.5,141.1 1164.9,138.8 1166.6,138.2C1168.3,137.6 1170.4,137.3 1172.1,137.7C1173.9,138.0 1175.4,139.4 1177.1,140.0C1178.8,140.6 1182.4,141.0 1182.4,141.4C1182.4,141.8 1178.6,143.0 1177.0,142.6C1175.5,142.1 1173.9,140.2 1173.1,138.7C1172.3,137.1 1172.1,135.1 1172.2,133.3C1172.3,131.5 1172.5,129.1 1173.7,128.0C1174.8,126.8 1178.3,125.9 1179.0,126.6C1179.7,127.2 1178.3,130.2 1178.1,132.0C1177.9,133.8 1178.4,135.8 1177.9,137.5C1177.4,139.2 1176.5,141.2 1175.2,142.3C1173.9,143.4 1171.7,143.5 1170.0,144.1C1168.3,144.8 1165.9,145.0 1164.9,146.3C1164.0,147.6 1164.7,150.0 1164.2,151.7C1163.8,153.5 1162.6,156.9 1162.1,156.8C1161.5,156.7 1162.0,152.5 1160.9,151.4C1159.8,150.3 1157.2,149.9 1155.5,150.2C1153.9,150.4 1151.1,153.3 1150.8,153.0C1150.5,152.7 1152.2,149.3 1153.6,148.2C1154.9,147.2 1157.6,147.9 1158.9,146.8C1160.2,145.8 1160.9,143.7 1161.5,142.0C1162.0,140.3 1162.6,138.2 1162.2,136.5C1161.8,134.9 1160.6,132.8 1159.2,131.9C1157.8,131.1 1155.3,130.9 1153.7,131.4C1152.1,131.8 1151.0,133.8 1149.5,134.9C1148.0,136.0 1146.6,137.5 1144.9,137.9C1143.2,138.3 1139.6,136.9 1139.4,137.4C1139.2,138.0 1143.1,139.6 1143.5,141.1C1143.9,142.6 1141.3,145.5 1142.0,146.4C1142.7,147.3 1145.8,147.0 1147.5,146.6C1149.2,146.2 1150.6,144.6 1152.3,144.0C1154.1,143.4 1156.2,142.8 1157.8,143.2C1159.4,143.7 1160.4,146.0 1162.0,146.7C1163.6,147.5 1165.7,148.0 1167.4,147.7C1169.1,147.4 1171.0,146.2 1172.2,144.9C1173.3,143.6 1173.5,141.5 1174.4,139.9C1175.4,138.4 1178.2,136.2 1177.9,135.7C1177.6,135.1 1174.0,135.9 1172.5,136.8C1171.0,137.7 1170.2,139.6 1169.0,141.1C1167.9,142.5 1166.0,143.7 1165.6,145.3C1165.1,147.0 1166.8,149.1 1166.4,150.8C1166.1,152.5 1164.9,154.5 1163.5,155.4C1162.1,156.4 1159.1,157.2 1158.1,156.5C1157.1,155.7 1157.1,152.5 1157.7,151.0C1158.3,149.5 1160.9,148.9 1161.9,147.4C1162.8,145.9 1162.3,143.4 1163.4,142.1C1164.4,140.8 1166.7,139.6 1168.3,139.6C1169.9,139.7 1171.8,141.1 1173.1,142.3C1174.4,143.5 1175.6,145.2 1176.1,146.9C1176.7,148.6 1177.4,151.7 1176.7,152.3C1175.9,153.0 1173.2,151.0 1171.5,150.6C1169.7,150.1 1167.6,149.1 1166.1,149.6C1164.5,150.1 1162.8,153.9 1162.3,153.6C1161.9,153.4 1163.5,149.9 1163.3,148.2C1163.0,146.5 1162.2,144.5 1161.0,143.2C1159.8,141.9 1157.0,140.9 1156.2,140.5" fill="none" stroke="#3b611f" stroke-width="1.6" stroke-linecap="round"/>
<circle cx="1163.0" cy="163.0" r="17" fill="#6aaf47"/>
<path d="M1166.1,168.8C1166.8,169.4 1169.6,171.0 1170.1,172.5C1170.7,174.1 1168.8,176.6 1169.4,178.0C1170.1,179.4 1173.5,181.3 1174.1,180.8C1174.7,180.4 1174.1,176.6 1173.1,175.5C1172.0,174.3 1169.2,173.7 1167.7,174.1C1166.2,174.6 1165.5,177.0 1164.2,178.4C1162.9,179.7 1161.7,181.6 1160.1,182.1C1158.5,182.5 1155.0,181.7 1154.8,180.9C1154.5,180.1 1157.3,177.8 1158.9,177.2C1160.5,176.7 1163.1,176.7 1164.3,177.6C1165.5,178.5 1166.1,182.8 1166.1,182.8C1166.0,182.8 1164.2,179.5 1164.0,177.7C1163.9,176.0 1164.7,174.1 1165.3,172.4C1165.9,170.6 1166.9,169.1 1167.7,167.4C1168.4,165.7 1168.6,163.5 1169.8,162.3C1171.0,161.2 1173.3,161.1 1174.9,160.3C1176.5,159.5 1179.7,157.9 1179.6,157.4C1179.4,156.8 1175.5,157.9 1174.1,157.1C1172.6,156.3 1172.4,153.4 1170.9,152.6C1169.5,151.7 1166.9,152.9 1165.4,152.1C1163.9,151.3 1162.2,149.5 1161.9,147.9C1161.5,146.3 1162.8,142.7 1163.4,142.6C1164.1,142.6 1165.2,145.9 1166.0,147.5C1166.8,149.2 1167.3,150.9 1168.2,152.5C1169.1,154.2 1171.0,155.5 1171.2,157.1C1171.4,158.8 1169.0,160.7 1169.3,162.3C1169.5,163.9 1171.3,166.1 1172.7,166.6C1174.2,167.0 1176.4,164.8 1178.0,165.1C1179.7,165.3 1182.8,167.8 1182.6,168.1C1182.5,168.4 1179.0,166.9 1177.3,166.9C1175.5,167.0 1173.7,168.0 1172.0,168.4C1170.2,168.8 1168.1,169.9 1166.6,169.5C1165.0,169.0 1163.5,167.2 1162.6,165.7C1161.7,164.1 1161.8,162.1 1161.3,160.3C1160.9,158.5 1160.9,156.3 1159.9,155.0C1158.8,153.7 1156.6,153.1 1154.9,152.6C1153.2,152.2 1151.2,152.4 1149.4,152.3C1147.6,152.3 1144.5,151.6 1143.9,152.5C1143.3,153.4 1145.8,155.9 1145.9,157.6C1146.1,159.4 1144.3,161.6 1144.9,163.0C1145.5,164.5 1147.9,165.1 1149.3,166.3C1150.7,167.5 1151.6,169.6 1153.2,170.2C1154.7,170.9 1157.3,169.4 1158.7,170.2C1160.1,171.0 1160.6,173.3 1161.6,174.9C1162.6,176.4 1164.4,177.8 1164.6,179.4C1164.9,181.1 1163.2,184.7 1163.0,184.7C1162.8,184.6 1163.4,181.0 1163.7,179.2C1163.9,177.4 1164.8,175.5 1164.4,173.8C1164.0,172.1 1161.9,170.8 1161.5,169.1C1161.1,167.4 1162.7,165.2 1162.1,163.6C1161.5,162.1 1159.3,161.2 1158.1,159.8C1156.9,158.4 1156.3,156.2 1154.9,155.3C1153.5,154.4 1151.1,154.1 1149.5,154.5C1147.8,154.9 1145.4,156.4 1145.1,157.7C1144.7,159.1 1146.9,161.0 1147.3,162.8C1147.7,164.5 1147.2,166.5 1147.4,168.3C1147.6,170.1 1147.7,172.1 1148.5,173.6C1149.3,175.2 1150.7,177.6 1152.1,177.8C1153.5,178.1 1155.1,175.5 1156.8,175.0C1158.5,174.5 1160.9,174.1 1162.3,174.8C1163.7,175.6 1164.0,178.3 1165.3,179.4C1166.7,180.6 1170.0,182.0 1170.4,181.6C1170.7,181.2 1168.3,178.6 1167.4,177.0C1166.6,175.3 1166.5,172.8 1165.2,171.9C1163.9,171.0 1161.5,171.9 1159.7,171.6C1157.9,171.2 1155.7,171.0 1154.5,169.9C1153.3,168.7 1153.5,166.2 1152.5,164.7C1151.5,163.3 1150.0,161.4 1148.5,161.0C1146.9,160.6 1143.3,161.9 1143.2,162.6C1143.1,163.3 1146.3,164.8 1148.0,165.3C1149.7,165.7 1151.8,165.7 1153.5,165.2C1155.2,164.7 1157.2,163.6 1158.1,162.2C1159.0,160.8 1158.5,158.6 1158.8,156.8C1159.2,155.0 1159.4,153.0 1160.1,151.4C1160.9,149.8 1162.5,148.6 1163.5,147.0C1164.4,145.5 1165.5,141.9 1165.7,142.0C1166.0,142.1 1165.8,146.2 1164.8,147.4C1163.8,148.7 1161.4,149.1 1159.6,149.4C1157.9,149.6 1155.7,148.5 1154.2,149.0C1152.6,149.6 1151.7,152.2 1150.2,152.8C1148.6,153.5 1145.2,152.2 1144.7,153.1C1144.1,153.9 1146.4,156.3 1147.0,158.1C1147.6,159.8 1147.4,162.1 1148.5,163.4C1149.6,164.6 1151.8,165.2 1153.5,165.5C1155.3,165.8 1157.3,165.6 1159.0,165.1C1160.7,164.7 1162.4,163.8 1164.0,162.8C1165.5,161.8 1167.3,160.8 1168.3,159.4C1169.3,157.9 1170.2,155.7 1169.8,154.1C1169.5,152.5 1167.7,151.0 1166.2,150.0C1164.7,149.0 1162.2,149.3 1161.0,148.2C1159.8,147.1 1158.7,143.2 1158.8,143.2C1158.9,143.1 1160.1,146.9 1161.4,148.0C1162.7,149.1 1165.7,148.5 1166.6,149.7C1167.6,150.9 1166.2,154.0 1167.2,155.2C1168.1,156.4 1170.8,157.2 1172.4,156.9C1174.0,156.7 1176.4,155.2 1176.9,153.8C1177.5,152.4 1176.0,148.4 1175.7,148.4C1175.5,148.5 1174.8,152.5 1175.5,153.9C1176.2,155.3 1179.4,155.5 1180.1,156.9C1180.8,158.3 1179.2,160.9 1179.9,162.4C1180.5,163.9 1184.1,165.2 1183.9,166.1C1183.8,167.0 1180.3,168.2 1178.7,167.8C1177.2,167.5 1175.8,165.5 1174.7,164.1C1173.6,162.6 1173.4,160.5 1172.3,159.2C1171.1,157.9 1169.1,156.3 1167.6,156.3C1166.0,156.3 1163.8,157.9 1162.9,159.3C1162.0,160.7 1162.7,163.0 1162.2,164.7C1161.6,166.5 1160.2,167.9 1159.7,169.6C1159.3,171.4 1159.8,173.4 1159.3,175.1C1158.8,176.9 1157.1,180.1 1156.9,180.1C1156.8,180.0 1158.0,176.6 1158.4,174.8C1158.8,173.0 1159.4,171.2 1159.4,169.4C1159.3,167.6 1158.9,165.7 1158.3,164.0C1157.6,162.3 1156.8,160.2 1155.5,159.2C1154.1,158.3 1151.8,158.1 1150.1,158.2C1148.3,158.4 1144.9,160.0 1144.8,159.9C1144.8,159.9 1148.6,158.9 1149.9,157.7C1151.1,156.5 1151.2,154.2 1152.2,152.8C1153.2,151.3 1154.5,149.8 1156.0,148.8C1157.5,147.9 1160.2,148.3 1161.3,147.1C1162.3,145.9 1162.3,141.7 1162.5,141.7C1162.6,141.7 1163.2,145.9 1162.4,147.2C1161.6,148.6 1158.3,148.5 1157.6,149.9C1156.9,151.3 1157.4,153.8 1158.1,155.4C1158.9,156.9 1161.5,158.5 1162.1,159.1" fill="none" stroke="#3b611f" stroke-width="1.6" stroke-linecap="round"/>
<circle cx="1072.0" cy="185.0" r="17" fill="#6aaf47"/>
<path d="M1063.9,186.9C1064.6,186.4 1067.4,185.2 1068.4,183.8C1069.3,182.3 1069.9,180.0 1069.5,178.4C1069.2,176.7 1066.9,175.6 1066.4,173.9C1065.8,172.2 1065.8,170.2 1066.2,168.4C1066.5,166.7 1068.7,163.5 1068.4,163.4C1068.2,163.2 1066.1,166.3 1064.9,167.6C1063.6,168.9 1061.9,169.9 1060.9,171.4C1059.9,172.9 1059.3,174.8 1059.1,176.6C1058.9,178.4 1058.6,180.8 1059.5,182.1C1060.4,183.3 1063.4,182.9 1064.6,184.1C1065.9,185.2 1066.1,187.5 1067.1,189.0C1068.1,190.5 1069.4,191.8 1070.6,193.3C1071.7,194.7 1072.4,196.8 1073.9,197.6C1075.4,198.4 1078.1,197.1 1079.4,198.0C1080.7,198.9 1082.4,202.3 1082.0,202.9C1081.5,203.4 1078.2,202.3 1076.7,201.4C1075.2,200.5 1073.6,199.0 1072.9,197.5C1072.1,195.9 1073.1,193.3 1072.1,192.0C1071.2,190.7 1068.6,190.8 1067.1,189.7C1065.7,188.6 1065.0,186.3 1063.5,185.6C1062.0,184.8 1059.6,184.8 1058.0,185.3C1056.4,185.8 1053.6,187.6 1053.6,188.7C1053.7,189.7 1056.6,191.6 1058.2,191.8C1059.8,191.9 1062.2,190.8 1063.2,189.5C1064.2,188.2 1064.0,185.9 1064.1,184.1C1064.2,182.2 1064.5,180.1 1063.8,178.6C1063.1,177.0 1060.6,176.4 1059.7,174.9C1058.8,173.4 1057.6,170.2 1058.2,169.6C1058.8,169.1 1061.8,170.7 1063.3,171.7C1064.8,172.7 1065.7,174.5 1067.0,175.7C1068.4,177.0 1070.2,177.8 1071.3,179.2C1072.5,180.6 1072.8,182.7 1074.1,184.0C1075.3,185.2 1077.9,185.3 1078.8,186.7C1079.7,188.1 1079.8,190.4 1079.6,192.1C1079.4,193.9 1078.2,195.5 1077.6,197.3C1077.1,199.0 1076.6,202.6 1076.3,202.6C1076.1,202.6 1076.2,199.0 1076.1,197.1C1076.0,195.3 1074.9,193.0 1075.6,191.6C1076.3,190.3 1078.7,189.2 1080.4,188.9C1082.1,188.7 1084.2,189.3 1085.8,190.0C1087.4,190.7 1090.3,193.1 1090.2,193.4C1090.0,193.6 1085.9,192.7 1085.0,191.5C1084.0,190.3 1084.8,187.8 1084.4,186.1C1084.0,184.3 1083.1,182.6 1082.6,180.9C1082.1,179.1 1081.3,177.3 1081.2,175.5C1081.0,173.7 1081.8,170.1 1081.7,170.1C1081.6,170.1 1081.1,173.7 1080.7,175.5C1080.3,177.3 1078.8,179.2 1079.2,180.8C1079.6,182.3 1081.7,183.5 1082.8,184.9C1084.0,186.3 1085.8,187.6 1086.2,189.2C1086.7,190.8 1085.9,192.9 1085.7,194.7C1085.5,196.5 1085.1,200.1 1085.0,200.1C1084.9,200.1 1084.2,196.0 1085.1,194.6C1085.9,193.3 1089.7,193.4 1090.0,192.2C1090.3,191.0 1088.4,188.6 1087.0,187.6C1085.7,186.5 1083.5,186.0 1081.8,186.0C1080.0,185.9 1077.9,187.8 1076.4,187.4C1074.9,186.9 1073.8,184.8 1072.8,183.2C1071.8,181.7 1071.6,179.7 1070.7,178.2C1069.8,176.6 1068.8,174.7 1067.3,173.9C1065.8,173.1 1063.1,174.3 1061.8,173.4C1060.5,172.4 1059.8,168.3 1059.6,168.3C1059.4,168.4 1060.1,172.0 1060.7,173.7C1061.4,175.4 1063.1,176.7 1063.5,178.4C1064.0,180.1 1063.9,182.2 1063.5,183.9C1063.1,185.7 1061.3,187.2 1061.2,188.9C1061.1,190.7 1063.0,192.6 1062.8,194.2C1062.5,195.9 1060.5,199.0 1059.9,198.9C1059.3,198.8 1060.1,195.0 1059.3,193.4C1058.5,191.9 1055.0,190.4 1055.3,189.7C1055.5,189.1 1059.1,190.1 1060.7,189.5C1062.3,188.8 1063.9,187.3 1064.8,185.8C1065.8,184.3 1065.3,181.7 1066.5,180.6C1067.6,179.4 1070.2,179.9 1071.7,179.0C1073.2,178.0 1075.0,176.5 1075.5,174.9C1075.9,173.4 1074.2,171.4 1074.2,169.6C1074.1,167.8 1074.7,164.2 1075.2,164.2C1075.7,164.1 1076.0,168.0 1077.1,169.3C1078.3,170.6 1080.3,171.2 1081.9,172.1C1083.4,173.0 1086.7,174.0 1086.6,174.8C1086.6,175.7 1083.5,177.1 1081.7,177.3C1080.0,177.5 1078.1,176.2 1076.3,176.3C1074.6,176.4 1072.8,177.4 1071.1,177.9C1069.4,178.5 1067.3,178.7 1065.9,179.8C1064.5,180.9 1062.9,182.8 1062.8,184.4C1062.8,185.9 1065.2,187.3 1065.8,189.0C1066.5,190.7 1066.0,192.8 1066.7,194.4C1067.3,196.1 1068.4,197.9 1069.8,198.9C1071.2,200.0 1073.5,201.1 1075.0,200.8C1076.5,200.5 1077.4,197.3 1079.0,197.0C1080.5,196.6 1083.8,199.2 1084.2,198.7C1084.6,198.2 1082.1,195.6 1081.5,193.9C1080.8,192.2 1080.0,190.3 1080.1,188.6C1080.3,186.9 1081.1,184.8 1082.3,183.6C1083.5,182.3 1085.6,182.0 1087.3,181.2C1089.0,180.5 1092.5,179.8 1092.5,179.3C1092.4,178.8 1088.9,178.6 1087.1,178.2C1085.3,177.9 1083.3,177.9 1081.6,177.2C1080.0,176.5 1078.8,174.1 1077.2,174.0C1075.7,173.9 1073.1,175.1 1072.3,176.5C1071.5,177.8 1072.9,180.3 1072.3,182.0C1071.7,183.6 1069.4,184.5 1068.7,186.2C1068.0,187.8 1069.0,190.4 1068.1,191.6C1067.1,192.9 1064.7,193.2 1063.0,193.6C1061.2,194.1 1057.7,194.8 1057.5,194.3C1057.3,193.8 1061.0,192.2 1061.7,190.7C1062.3,189.2 1060.9,186.9 1061.2,185.2C1061.5,183.4 1062.9,181.9 1063.5,180.2C1064.1,178.5 1063.7,176.0 1064.8,174.8C1065.8,173.7 1068.4,173.9 1070.0,173.1C1071.6,172.3 1073.4,171.4 1074.5,170.0C1075.6,168.7 1076.7,165.0 1076.5,164.9C1076.4,164.8 1073.8,167.7 1073.4,169.4C1072.9,171.1 1073.6,173.1 1073.8,174.9C1074.0,176.7 1073.6,179.0 1074.6,180.3C1075.5,181.7 1078.1,181.8 1079.3,183.1C1080.4,184.4 1081.6,186.6 1081.5,188.2C1081.3,189.8 1079.1,191.1 1078.4,192.8C1077.8,194.4 1078.3,196.5 1077.8,198.2C1077.2,200.0 1075.1,203.0 1075.3,203.1C1075.4,203.2 1077.2,199.5 1078.7,198.8C1080.2,198.2 1082.7,199.9 1084.2,199.3C1085.7,198.7 1086.6,196.5 1087.9,195.2C1089.2,194.0 1092.1,192.5 1092.0,191.6C1091.8,190.7 1087.7,189.9 1086.8,189.6" fill="none" stroke="#3b611f" stroke-width="1.6" stroke-linecap="round"/>
<circle cx="1095.0" cy="200.0" r="17" fill="#6aaf47"/>
<path d="M1101.0,208.2C1100.4,208.9 1098.3,210.9 1097.5,212.5C1096.8,214.1 1097.4,216.4 1096.6,217.9C1095.7,219.4 1093.6,221.5 1092.3,221.4C1091.0,221.2 1089.1,218.6 1088.9,217.0C1088.7,215.5 1090.0,213.2 1091.2,212.1C1092.5,210.9 1094.8,211.1 1096.5,210.4C1098.1,209.6 1099.6,208.4 1101.2,207.5C1102.8,206.7 1104.4,205.5 1106.1,205.1C1107.9,204.8 1111.2,206.2 1111.6,205.6C1112.0,204.9 1108.5,202.7 1108.3,201.1C1108.2,199.6 1109.6,197.1 1110.9,196.3C1112.3,195.4 1116.0,195.3 1116.4,196.0C1116.9,196.8 1114.1,199.1 1113.7,200.8C1113.2,202.5 1114.3,206.0 1113.7,206.3C1113.1,206.6 1110.6,203.9 1109.9,202.4C1109.1,200.8 1108.5,198.3 1109.2,196.9C1109.9,195.5 1114.0,194.7 1113.9,194.0C1113.8,193.4 1109.6,194.1 1108.5,193.0C1107.4,191.9 1108.1,187.7 1107.4,187.6C1106.7,187.5 1105.8,191.2 1104.4,192.2C1103.1,193.2 1100.8,193.9 1099.2,193.8C1097.5,193.6 1096.0,191.7 1094.3,191.2C1092.6,190.7 1090.5,190.5 1088.8,191.0C1087.1,191.5 1085.2,192.6 1084.2,194.0C1083.2,195.4 1082.4,197.8 1082.9,199.3C1083.3,200.9 1085.9,201.7 1086.7,203.2C1087.6,204.8 1088.5,207.2 1088.0,208.6C1087.5,210.0 1085.1,211.3 1083.5,211.7C1081.8,212.1 1078.0,211.0 1078.0,211.0C1078.0,211.1 1081.6,211.8 1083.5,211.9C1085.3,212.0 1087.2,211.9 1088.9,211.5C1090.7,211.1 1093.2,210.7 1094.0,209.5C1094.9,208.2 1094.7,205.5 1094.1,204.0C1093.5,202.4 1091.2,201.6 1090.2,200.1C1089.3,198.5 1089.1,196.5 1088.3,194.9C1087.5,193.3 1085.4,191.8 1085.4,190.2C1085.5,188.7 1088.5,187.1 1088.4,185.6C1088.4,184.1 1085.9,180.9 1085.3,181.1C1084.7,181.2 1085.3,184.8 1084.8,186.5C1084.4,188.3 1083.7,190.1 1082.7,191.6C1081.8,193.2 1080.6,194.7 1079.3,195.9C1077.9,197.1 1075.4,197.4 1074.6,198.8C1073.9,200.2 1074.5,202.5 1074.8,204.3C1075.0,206.1 1075.2,209.1 1076.3,209.6C1077.3,210.1 1080.2,208.5 1081.2,207.1C1082.2,205.8 1082.0,203.6 1082.2,201.7C1082.4,199.9 1083.1,197.7 1082.4,196.2C1081.7,194.8 1077.8,193.5 1078.0,193.1C1078.1,192.6 1082.2,192.6 1083.4,193.6C1084.6,194.5 1085.5,197.2 1085.2,198.8C1084.8,200.4 1082.8,201.7 1081.5,203.0C1080.3,204.3 1078.1,205.1 1077.4,206.6C1076.7,208.1 1076.6,211.3 1077.5,212.1C1078.4,212.9 1081.6,212.4 1083.0,211.5C1084.4,210.7 1085.4,208.6 1085.9,206.9C1086.3,205.2 1086.1,203.1 1085.8,201.4C1085.5,199.6 1084.0,197.8 1084.1,196.1C1084.3,194.4 1086.4,192.8 1086.5,191.1C1086.6,189.4 1085.0,185.9 1084.7,185.9C1084.4,186.0 1084.3,189.7 1084.8,191.4C1085.3,193.1 1087.2,194.4 1087.7,196.1C1088.2,197.8 1087.0,200.2 1087.8,201.6C1088.6,202.9 1091.0,203.4 1092.6,204.3C1094.2,205.2 1095.8,206.8 1097.5,206.9C1099.1,206.9 1100.8,205.3 1102.5,204.6C1104.2,204.0 1106.4,204.0 1107.7,202.9C1109.0,201.8 1110.2,199.7 1110.2,198.1C1110.3,196.4 1107.8,194.7 1107.8,193.1C1107.9,191.5 1110.9,188.7 1110.7,188.4C1110.4,188.1 1106.8,190.1 1106.1,191.5C1105.5,193.0 1106.5,195.2 1106.7,197.0C1106.9,198.8 1106.5,201.3 1107.5,202.4C1108.5,203.6 1112.9,203.7 1112.8,203.7C1112.8,203.7 1109.1,202.2 1107.5,202.6C1105.8,203.0 1104.5,204.8 1103.2,206.0C1101.8,207.3 1101.0,209.4 1099.4,210.1C1097.9,210.7 1095.3,210.8 1093.9,210.0C1092.5,209.2 1092.0,206.9 1091.1,205.3C1090.1,203.7 1088.9,202.3 1088.3,200.6C1087.6,198.9 1087.8,196.9 1087.2,195.2C1086.6,193.5 1085.0,192.1 1084.6,190.3C1084.2,188.6 1085.0,184.9 1085.0,184.8C1084.9,184.8 1084.7,188.6 1084.2,190.3C1083.7,192.0 1081.8,193.6 1081.8,195.2C1081.8,196.9 1083.2,198.7 1084.1,200.2C1085.1,201.8 1087.3,202.8 1087.7,204.4C1088.2,206.0 1086.4,208.2 1086.8,209.8C1087.3,211.4 1089.3,212.6 1090.3,214.1C1091.3,215.6 1092.7,219.0 1092.7,219.0C1092.7,219.0 1091.3,215.6 1090.3,214.1C1089.3,212.6 1088.2,210.7 1086.7,209.9C1085.2,209.1 1082.7,208.7 1081.3,209.3C1079.9,210.0 1078.8,214.1 1078.3,214.0C1077.8,213.8 1078.9,210.0 1078.2,208.5C1077.6,206.9 1074.0,205.5 1074.2,204.7C1074.5,203.9 1078.0,204.4 1079.6,203.7C1081.3,203.0 1083.0,201.8 1084.1,200.5C1085.2,199.1 1085.8,197.2 1086.3,195.4C1086.9,193.7 1086.3,191.3 1087.3,190.0C1088.4,188.8 1091.0,187.7 1092.5,188.1C1094.0,188.4 1094.8,191.5 1096.3,192.0C1097.8,192.6 1100.0,191.0 1101.7,191.2C1103.5,191.4 1105.9,191.8 1106.9,193.0C1108.0,194.2 1108.5,196.7 1108.2,198.3C1107.9,200.0 1106.4,201.7 1105.0,202.8C1103.6,203.9 1101.6,204.8 1099.9,204.9C1098.2,205.0 1096.4,203.5 1094.6,203.4C1092.8,203.3 1090.8,203.5 1089.1,204.2C1087.5,204.9 1085.4,205.9 1084.6,207.4C1083.9,208.8 1084.4,211.1 1084.6,212.9C1084.8,214.7 1084.9,217.7 1085.9,218.2C1087.0,218.7 1090.1,217.2 1090.9,216.0C1091.8,214.7 1091.5,212.1 1091.1,210.5C1090.6,208.8 1089.4,206.7 1088.0,205.9C1086.5,205.2 1084.3,206.0 1082.5,206.0C1080.6,205.9 1077.2,206.2 1077.0,205.5C1076.7,204.8 1079.4,201.9 1080.9,201.6C1082.4,201.3 1084.2,203.5 1086.0,203.7C1087.7,203.8 1089.7,203.2 1091.3,202.4C1093.0,201.6 1094.1,199.3 1095.7,199.0C1097.3,198.7 1099.4,199.6 1101.0,200.5C1102.5,201.4 1103.4,203.8 1105.0,204.3C1106.6,204.7 1108.6,203.5 1110.4,203.3C1112.2,203.1 1115.9,203.4 1115.9,203.2C1115.9,203.0 1111.4,202.4 1110.5,202.3" fill="none" stroke="#3b611f" stroke-width="1.6" stroke-linecap="round"/>
<circle cx="1113.0" cy="205.0" r="17" fill="#6aaf47"/>
<path d="M1113.4,197.3C1112.8,198.0 1110.7,200.1 1110.1,201.7C1109.5,203.4 1109.3,205.5 1109.7,207.2C1110.1,208.9 1111.6,210.3 1112.5,211.9C1113.5,213.5 1114.7,215.0 1115.1,216.7C1115.6,218.4 1115.8,220.6 1115.2,222.2C1114.6,223.8 1111.5,226.3 1111.7,226.4C1111.8,226.5 1115.2,224.4 1115.9,222.9C1116.7,221.4 1115.2,218.7 1116.1,217.4C1117.0,216.2 1119.5,215.5 1121.2,215.5C1122.9,215.5 1126.4,217.2 1126.4,217.5C1126.3,217.7 1122.7,217.4 1120.9,217.0C1119.1,216.6 1117.2,216.1 1115.8,215.0C1114.3,214.0 1112.8,212.3 1112.4,210.7C1112.0,209.1 1112.5,206.9 1113.4,205.3C1114.2,203.8 1116.9,203.0 1117.3,201.4C1117.6,199.9 1115.9,198.0 1115.5,196.3C1115.0,194.5 1115.7,192.2 1114.7,190.8C1113.8,189.4 1111.1,187.7 1109.9,188.1C1108.8,188.5 1108.5,191.5 1107.9,193.2C1107.3,195.0 1107.5,197.4 1106.3,198.5C1105.2,199.7 1102.2,199.0 1101.1,200.1C1099.9,201.3 1100.0,203.6 1099.4,205.4C1098.9,207.1 1097.5,209.0 1097.8,210.6C1098.1,212.2 1100.5,213.4 1101.0,215.1C1101.5,216.8 1100.3,220.4 1100.9,220.6C1101.4,220.8 1102.9,217.3 1104.4,216.4C1105.9,215.5 1108.7,216.1 1109.7,214.9C1110.8,213.8 1111.1,211.2 1110.8,209.5C1110.4,207.9 1109.1,205.7 1107.7,205.0C1106.3,204.2 1104.0,204.8 1102.2,204.9C1100.4,205.1 1098.6,205.8 1096.8,205.8C1095.0,205.7 1091.4,205.2 1091.4,204.8C1091.4,204.4 1094.9,203.9 1096.7,203.4C1098.5,203.0 1100.3,202.2 1102.1,202.2C1103.8,202.3 1105.6,203.8 1107.3,203.8C1109.1,203.8 1110.9,202.8 1112.6,202.2C1114.4,201.7 1116.4,201.6 1117.9,200.6C1119.4,199.7 1120.7,198.2 1121.7,196.7C1122.8,195.2 1124.4,191.9 1124.3,191.8C1124.1,191.7 1122.2,194.9 1120.9,196.2C1119.7,197.5 1118.2,198.7 1116.8,199.8C1115.4,201.0 1114.0,202.7 1112.4,203.1C1110.7,203.5 1108.6,202.7 1107.0,202.0C1105.3,201.3 1103.7,200.2 1102.4,198.9C1101.1,197.7 1099.2,194.5 1099.1,194.5C1099.1,194.5 1101.7,197.3 1102.3,199.0C1103.0,200.7 1102.1,203.1 1102.9,204.5C1103.8,205.9 1106.1,207.4 1107.6,207.3C1109.2,207.3 1111.6,205.6 1112.1,204.2C1112.7,202.7 1111.4,200.6 1111.2,198.8C1110.9,196.9 1111.3,195.0 1110.8,193.3C1110.4,191.5 1109.8,189.1 1108.5,188.3C1107.2,187.5 1103.0,188.0 1103.0,188.3C1102.9,188.7 1106.5,189.5 1108.1,190.4C1109.6,191.4 1111.6,192.5 1112.2,194.0C1112.9,195.5 1111.8,197.7 1112.0,199.5C1112.2,201.3 1113.3,203.0 1113.6,204.8C1113.9,206.6 1113.0,208.7 1113.7,210.3C1114.4,211.8 1116.7,212.5 1117.7,214.0C1118.6,215.5 1119.0,217.5 1119.4,219.3C1119.8,221.1 1120.0,224.7 1119.9,224.7C1119.7,224.8 1119.5,220.9 1118.5,219.4C1117.6,217.9 1114.9,217.3 1114.4,215.9C1113.8,214.4 1115.2,212.3 1115.3,210.4C1115.4,208.6 1115.0,206.8 1115.0,204.9C1114.9,203.1 1114.5,201.1 1115.1,199.4C1115.6,197.8 1116.9,196.1 1118.2,194.9C1119.6,193.8 1121.9,193.7 1123.2,192.6C1124.5,191.4 1126.3,188.0 1126.3,188.0C1126.2,188.0 1123.2,190.9 1123.1,192.5C1123.0,194.1 1125.6,195.7 1125.7,197.4C1125.7,199.0 1124.4,200.9 1123.4,202.4C1122.4,203.9 1121.0,205.2 1119.8,206.6C1118.6,207.9 1117.5,210.1 1116.0,210.6C1114.5,211.0 1112.4,209.8 1110.6,209.4C1108.8,209.0 1106.9,207.7 1105.3,208.0C1103.7,208.4 1102.6,211.4 1101.1,211.5C1099.5,211.7 1097.6,210.1 1096.2,209.0C1094.7,207.9 1092.3,205.1 1092.3,205.1C1092.3,205.1 1094.6,208.3 1096.2,209.0C1097.8,209.7 1099.9,209.3 1101.7,209.3C1103.5,209.3 1105.5,209.4 1107.2,208.8C1108.9,208.2 1110.6,207.1 1111.7,205.8C1112.9,204.4 1112.7,201.6 1114.0,200.8C1115.3,199.9 1117.8,200.3 1119.5,200.8C1121.2,201.3 1122.5,203.1 1124.2,203.6C1125.9,204.2 1129.6,204.7 1129.7,204.3C1129.8,203.9 1126.8,201.8 1125.1,201.4C1123.4,200.9 1121.0,202.4 1119.6,201.6C1118.2,200.9 1117.9,198.1 1116.6,197.0C1115.2,195.9 1113.2,195.1 1111.4,195.1C1109.7,195.1 1107.8,197.2 1106.3,196.9C1104.7,196.6 1103.7,194.3 1102.1,193.3C1100.6,192.3 1097.0,191.5 1097.1,191.1C1097.1,190.8 1100.8,191.6 1102.6,191.3C1104.4,191.1 1106.2,190.7 1107.9,189.9C1109.5,189.1 1112.2,186.5 1112.3,186.6C1112.4,186.7 1109.9,189.6 1108.3,190.4C1106.8,191.3 1104.2,190.8 1103.0,191.9C1101.9,193.0 1101.7,195.3 1101.4,197.1C1101.2,198.9 1102.4,201.3 1101.7,202.6C1100.9,204.0 1098.0,203.8 1096.7,205.1C1095.5,206.3 1093.7,209.1 1094.2,209.9C1094.7,210.8 1097.9,209.6 1099.7,209.9C1101.5,210.3 1103.0,211.6 1104.8,212.1C1106.5,212.5 1109.1,211.6 1110.2,212.6C1111.4,213.6 1111.4,216.1 1111.7,217.9C1112.1,219.7 1111.7,223.1 1112.5,223.3C1113.2,223.6 1114.6,219.8 1116.1,219.2C1117.6,218.6 1119.8,219.4 1121.6,219.5C1123.4,219.6 1126.1,220.9 1127.1,220.1C1128.0,219.3 1126.8,216.2 1127.5,214.6C1128.2,213.0 1130.7,212.2 1131.2,210.6C1131.8,209.0 1131.3,206.7 1130.5,205.1C1129.8,203.6 1128.1,202.3 1126.7,201.2C1125.3,200.0 1123.3,199.5 1122.1,198.2C1120.9,196.9 1120.8,194.6 1119.6,193.3C1118.3,192.1 1116.5,191.1 1114.8,190.7C1113.0,190.2 1111.1,190.7 1109.3,190.8C1107.4,190.8 1105.5,190.6 1103.8,191.0C1102.0,191.4 1100.2,192.2 1098.8,193.3C1097.3,194.4 1094.9,196.4 1095.2,197.5C1095.4,198.5 1098.5,199.2 1100.2,199.7C1102.0,200.1 1104.2,199.6 1105.7,200.4C1107.2,201.2 1108.9,203.7 1109.5,204.4" fill="none" stroke="#3b611f" stroke-width="1.6" stroke-linecap="round"/>
<circle cx="1217" cy="269.5" r="41" fill="#f0da95"/>
<circle cx="1218.0" cy="222.0" r="17" fill="#6aaf47"/>
<path d="M1220.7,221.7C1221.1,220.9 1223.2,218.5 1223.2,216.8C1223.3,215.2 1222.0,213.4 1221.1,211.7C1220.3,210.1 1218.7,208.7 1218.3,207.0C1217.8,205.3 1218.2,201.6 1218.7,201.6C1219.1,201.5 1220.0,205.0 1220.9,206.6C1221.8,208.1 1223.3,209.4 1224.1,211.0C1225.0,212.6 1226.5,214.6 1226.2,216.1C1225.9,217.6 1223.8,219.7 1222.3,220.1C1220.8,220.4 1218.8,217.9 1217.2,218.1C1215.5,218.2 1213.8,219.7 1212.5,221.0C1211.2,222.2 1209.8,223.8 1209.4,225.5C1208.9,227.2 1209.4,229.2 1209.9,231.0C1210.3,232.7 1210.7,234.9 1211.9,236.1C1213.0,237.4 1215.2,237.7 1216.8,238.5C1218.5,239.3 1220.9,241.3 1221.8,240.8C1222.7,240.3 1223.0,236.9 1222.4,235.4C1221.9,233.8 1219.4,233.1 1218.5,231.6C1217.5,230.1 1216.6,228.1 1216.6,226.4C1216.6,224.6 1218.3,222.9 1218.4,221.2C1218.5,219.4 1216.8,217.5 1217.1,215.8C1217.4,214.2 1218.8,211.9 1220.2,211.3C1221.6,210.7 1224.0,212.7 1225.6,212.3C1227.2,211.9 1230.0,209.2 1229.9,208.9C1229.7,208.5 1226.4,210.3 1224.6,210.3C1222.8,210.4 1220.3,210.3 1219.2,209.3C1218.1,208.2 1218.6,204.0 1218.0,203.9C1217.4,203.8 1216.1,207.1 1215.6,208.8C1215.2,210.6 1215.8,212.7 1215.2,214.3C1214.5,216.0 1212.0,217.0 1211.7,218.6C1211.4,220.2 1212.0,222.7 1213.1,223.9C1214.2,225.1 1217.3,224.7 1218.2,225.9C1219.2,227.2 1218.4,229.6 1218.8,231.4C1219.1,233.2 1219.1,235.4 1220.1,236.7C1221.2,238.0 1224.4,239.5 1225.1,239.0C1225.9,238.5 1224.5,235.3 1224.8,233.5C1225.0,231.7 1225.7,229.9 1226.6,228.3C1227.5,226.8 1228.8,225.3 1230.1,224.1C1231.4,222.8 1232.8,221.3 1234.4,220.7C1236.1,220.1 1239.8,220.2 1239.9,220.6C1240.0,221.0 1236.1,221.7 1234.9,223.0C1233.8,224.2 1233.0,226.5 1233.1,228.1C1233.2,229.8 1235.6,233.0 1235.6,233.0C1235.5,233.1 1232.8,229.9 1232.8,228.3C1232.8,226.7 1235.9,224.5 1235.4,223.4C1235.0,222.4 1231.9,221.8 1230.2,221.8C1228.4,221.8 1226.1,222.4 1225.0,223.5C1223.8,224.7 1223.1,227.1 1223.3,228.8C1223.4,230.4 1225.1,232.0 1225.9,233.6C1226.8,235.2 1227.7,238.5 1228.4,238.5C1229.2,238.4 1229.4,234.9 1230.2,233.3C1231.0,231.6 1232.7,230.4 1233.3,228.7C1233.8,227.0 1232.8,224.5 1233.7,223.2C1234.6,221.9 1238.5,220.7 1238.7,220.9C1238.8,221.1 1235.7,223.1 1234.5,224.5C1233.3,225.9 1233.0,228.5 1231.6,229.2C1230.2,229.9 1228.0,228.7 1226.2,228.6C1224.3,228.4 1222.4,228.8 1220.7,228.3C1219.0,227.8 1217.3,226.6 1216.0,225.4C1214.6,224.3 1212.8,222.8 1212.5,221.2C1212.2,219.6 1213.7,217.7 1214.0,215.9C1214.3,214.1 1215.0,211.7 1214.2,210.4C1213.5,209.1 1211.0,208.6 1209.3,207.9C1207.6,207.3 1204.1,206.4 1204.0,206.6C1203.9,206.8 1207.2,208.8 1208.9,209.0C1210.6,209.2 1212.6,208.5 1214.3,207.8C1216.0,207.1 1217.5,206.0 1219.0,204.9C1220.4,203.8 1222.0,200.9 1223.0,201.2C1224.0,201.4 1224.4,204.6 1225.0,206.3C1225.5,208.0 1226.4,209.8 1226.4,211.6C1226.4,213.4 1225.0,215.3 1225.2,217.0C1225.5,218.7 1227.1,220.2 1227.9,221.8C1228.7,223.4 1229.0,225.6 1230.2,226.8C1231.4,228.0 1235.1,229.2 1235.3,228.9C1235.5,228.6 1232.9,226.0 1231.4,225.0C1229.9,224.0 1227.8,222.8 1226.3,223.0C1224.7,223.2 1223.5,225.4 1222.0,226.4C1220.5,227.4 1218.8,228.3 1217.1,229.1C1215.5,229.8 1213.6,230.9 1211.9,230.8C1210.2,230.6 1208.4,229.4 1207.0,228.3C1205.6,227.2 1204.0,225.7 1203.5,224.1C1203.1,222.4 1204.0,220.4 1204.4,218.6C1204.7,216.8 1205.3,215.0 1205.4,213.2C1205.6,211.4 1205.4,207.7 1205.5,207.7C1205.6,207.7 1206.4,211.5 1205.9,213.2C1205.5,214.9 1204.1,216.5 1202.8,217.8C1201.5,219.0 1198.0,220.4 1198.1,220.6C1198.2,220.7 1202.1,219.9 1203.3,218.7C1204.5,217.6 1205.5,215.3 1205.4,213.7C1205.3,212.0 1202.2,209.4 1202.6,208.9C1203.1,208.4 1206.1,210.4 1207.9,210.6C1209.7,210.9 1211.6,210.3 1213.4,210.6C1215.2,210.8 1217.0,212.5 1218.6,212.2C1220.2,211.9 1221.3,209.6 1222.8,208.7C1224.4,207.7 1227.5,206.0 1227.9,206.5C1228.3,206.9 1225.3,209.6 1225.1,211.2C1224.9,212.9 1227.1,215.1 1226.7,216.5C1226.2,218.0 1223.8,218.8 1222.4,220.0C1220.9,221.1 1219.6,222.4 1218.2,223.5C1216.7,224.6 1215.3,226.2 1213.6,226.6C1211.9,227.0 1210.0,226.0 1208.1,226.0C1206.3,225.9 1204.2,226.7 1202.6,226.1C1201.1,225.5 1199.4,223.8 1198.7,222.3C1198.0,220.7 1198.0,218.4 1198.5,216.8C1199.0,215.1 1200.4,213.4 1201.9,212.4C1203.3,211.5 1205.4,211.5 1207.2,211.1C1209.0,210.7 1210.8,209.9 1212.6,210.0C1214.4,210.0 1216.3,210.6 1217.9,211.4C1219.5,212.3 1220.7,213.8 1222.2,214.8C1223.8,215.8 1225.9,216.0 1227.2,217.2C1228.5,218.3 1228.7,221.2 1230.1,221.8C1231.5,222.5 1235.5,220.9 1235.6,221.2C1235.7,221.4 1232.0,222.3 1230.5,223.3C1229.1,224.4 1227.9,226.0 1226.9,227.5C1225.9,229.0 1225.7,231.3 1224.4,232.4C1223.1,233.4 1220.5,232.9 1219.1,233.8C1217.6,234.8 1216.4,236.4 1215.4,238.0C1214.5,239.5 1214.0,243.2 1213.7,243.2C1213.3,243.1 1214.4,239.1 1213.6,237.7C1212.8,236.2 1209.8,236.0 1209.1,234.5C1208.3,233.1 1208.9,230.8 1209.2,229.0C1209.5,227.2 1209.7,225.0 1210.9,223.8C1212.0,222.6 1214.5,221.6 1216.0,221.9C1217.6,222.3 1219.6,224.3 1219.9,225.8C1220.3,227.3 1219.1,229.8 1217.9,230.9C1216.6,232.0 1213.4,232.0 1212.5,232.2" fill="none" stroke="#3b611f" stroke-width="1.6" stroke-linecap="round"/>
<circle cx="1248.0" cy="228.0" r="17" fill="#6aaf47"/>
<path d="M1256.3,234.0C1255.7,234.7 1254.2,237.3 1252.7,238.2C1251.2,239.0 1248.7,239.8 1247.3,239.2C1245.8,238.6 1244.5,236.4 1244.1,234.7C1243.7,233.1 1243.9,230.7 1244.8,229.3C1245.7,227.9 1247.9,226.3 1249.5,226.4C1251.0,226.4 1253.1,227.9 1254.1,229.3C1255.1,230.7 1254.6,233.1 1255.3,234.7C1256.1,236.3 1257.3,237.9 1258.7,239.0C1260.0,240.2 1263.5,241.6 1263.6,241.5C1263.6,241.4 1260.6,238.8 1259.0,238.5C1257.3,238.2 1255.4,239.7 1253.6,239.7C1251.8,239.7 1249.7,238.1 1248.2,238.6C1246.7,239.1 1245.5,241.1 1244.4,242.6C1243.3,244.0 1241.6,247.3 1241.8,247.4C1241.9,247.5 1245.2,244.8 1245.4,243.3C1245.6,241.8 1244.3,239.3 1243.0,238.4C1241.6,237.4 1239.3,237.6 1237.5,237.8C1235.7,238.0 1232.3,239.6 1232.2,239.4C1232.1,239.2 1236.2,238.0 1237.0,236.6C1237.7,235.3 1236.6,233.0 1236.7,231.1C1236.8,229.3 1236.7,227.2 1237.5,225.7C1238.4,224.2 1240.3,222.8 1241.9,222.4C1243.6,222.0 1245.5,223.0 1247.4,223.3C1249.2,223.6 1251.2,223.3 1252.8,224.1C1254.4,224.8 1255.9,226.3 1256.8,227.9C1257.6,229.4 1257.5,231.5 1257.8,233.3C1258.0,235.1 1257.4,237.5 1258.3,238.8C1259.2,240.0 1263.0,241.4 1263.3,241.0C1263.6,240.7 1260.6,238.3 1260.0,236.6C1259.4,235.0 1259.5,232.9 1259.8,231.1C1260.1,229.4 1260.6,226.9 1261.9,226.0C1263.2,225.1 1267.0,225.1 1267.4,225.7C1267.8,226.4 1264.3,228.6 1264.2,230.2C1264.0,231.8 1266.9,234.8 1266.4,235.2C1266.0,235.6 1262.4,234.0 1261.6,232.6C1260.7,231.3 1261.7,228.9 1261.2,227.1C1260.8,225.4 1260.0,223.6 1259.1,222.1C1258.2,220.5 1256.4,219.4 1255.7,217.8C1254.9,216.2 1254.4,212.4 1254.5,212.4C1254.6,212.4 1256.6,216.0 1256.3,217.6C1256.1,219.2 1253.6,220.3 1252.9,221.9C1252.3,223.5 1252.6,225.6 1252.3,227.4C1252.1,229.2 1251.9,231.1 1251.3,232.8C1250.7,234.5 1249.8,236.2 1248.7,237.6C1247.5,239.0 1245.9,240.0 1244.4,241.0C1242.9,242.1 1239.6,243.7 1239.7,243.9C1239.8,244.1 1243.2,242.5 1245.0,242.3C1246.7,242.1 1248.8,242.2 1250.4,242.8C1252.1,243.4 1253.3,245.6 1255.0,245.9C1256.6,246.2 1260.2,245.3 1260.3,244.6C1260.5,243.9 1257.2,242.6 1255.7,241.6C1254.2,240.5 1253.0,238.8 1251.4,238.2C1249.7,237.6 1247.6,237.6 1245.9,237.9C1244.1,238.3 1242.5,239.4 1240.9,240.4C1239.4,241.3 1236.5,243.6 1236.7,243.8C1236.8,244.0 1240.1,242.4 1241.8,241.8C1243.5,241.1 1245.3,240.7 1246.9,239.9C1248.5,239.0 1250.0,236.8 1251.5,236.8C1253.0,236.8 1254.7,238.6 1256.1,239.8C1257.5,241.0 1259.1,244.1 1259.8,243.8C1260.5,243.6 1259.3,239.7 1260.2,238.4C1261.1,237.0 1265.1,236.4 1265.0,235.7C1265.0,235.1 1261.5,234.6 1259.7,234.6C1257.9,234.6 1256.1,235.5 1254.3,235.9C1252.5,236.2 1250.7,236.4 1248.9,236.6C1247.0,236.8 1245.0,236.2 1243.4,236.9C1241.8,237.5 1240.8,239.5 1239.3,240.6C1237.9,241.7 1234.8,243.7 1234.6,243.5C1234.4,243.2 1237.1,240.7 1238.0,239.1C1239.0,237.6 1239.3,235.6 1240.4,234.2C1241.5,232.7 1243.4,231.9 1244.5,230.5C1245.7,229.1 1246.8,227.5 1247.3,225.8C1247.9,224.1 1246.8,221.5 1247.7,220.3C1248.6,219.1 1251.6,219.5 1252.8,218.4C1254.1,217.2 1254.6,215.1 1255.1,213.4C1255.7,211.6 1256.2,208.0 1256.1,208.0C1256.1,207.9 1256.0,212.1 1255.0,213.3C1253.9,214.6 1251.6,215.3 1249.9,215.4C1248.1,215.5 1246.4,214.2 1244.6,214.0C1242.7,213.8 1240.7,214.8 1239.1,214.3C1237.4,213.8 1235.6,210.6 1234.7,210.9C1233.8,211.3 1233.4,214.7 1233.7,216.4C1234.1,218.0 1235.8,219.4 1236.9,220.8C1238.1,222.3 1239.9,223.3 1240.7,224.9C1241.4,226.4 1240.5,229.1 1241.5,230.3C1242.5,231.5 1244.9,231.9 1246.7,232.1C1248.5,232.3 1250.4,231.3 1252.2,231.6C1253.9,231.9 1256.4,232.6 1257.2,233.9C1258.0,235.2 1257.6,237.7 1257.1,239.4C1256.6,241.1 1254.7,244.2 1254.2,244.1C1253.8,243.9 1254.7,240.3 1254.3,238.6C1253.9,236.8 1252.0,235.4 1251.8,233.7C1251.6,232.0 1251.9,229.7 1252.8,228.3C1253.8,226.9 1256.0,226.4 1257.5,225.4C1259.0,224.4 1260.9,223.5 1261.9,222.1C1262.9,220.7 1263.8,216.9 1263.6,216.9C1263.5,216.8 1262.4,220.5 1261.3,221.8C1260.1,223.1 1258.2,224.8 1256.6,224.8C1255.1,224.8 1253.1,223.2 1252.0,221.8C1250.9,220.5 1251.3,217.7 1250.1,216.6C1248.9,215.6 1246.0,216.6 1244.7,215.7C1243.4,214.7 1243.2,210.7 1242.3,210.7C1241.5,210.7 1239.9,213.8 1239.6,215.5C1239.3,217.2 1240.9,219.4 1240.4,220.9C1239.8,222.5 1237.8,224.4 1236.3,224.7C1234.8,224.9 1232.5,223.6 1231.3,222.4C1230.2,221.1 1229.6,217.2 1229.6,217.1C1229.7,217.1 1231.6,220.5 1231.6,222.3C1231.7,224.0 1229.7,225.9 1230.0,227.5C1230.2,229.1 1231.8,230.9 1233.1,232.0C1234.5,233.2 1236.9,233.1 1238.1,234.3C1239.3,235.5 1239.2,238.3 1240.5,239.3C1241.8,240.2 1244.4,240.6 1245.9,240.0C1247.5,239.5 1248.3,237.1 1249.7,236.1C1251.2,235.0 1253.3,234.8 1254.7,233.7C1256.2,232.7 1257.3,231.1 1258.5,229.7C1259.6,228.3 1260.6,226.7 1261.7,225.2C1262.8,223.8 1264.2,222.4 1264.9,220.8C1265.6,219.1 1266.6,216.5 1265.9,215.4C1265.2,214.2 1262.3,214.0 1260.5,214.1C1258.8,214.2 1257.2,216.1 1255.4,216.1C1253.7,216.2 1251.8,215.3 1250.2,214.5C1248.5,213.8 1247.2,212.2 1245.5,211.7C1243.8,211.2 1241.5,210.8 1240.0,211.5C1238.5,212.2 1237.1,215.1 1236.6,215.8" fill="none" stroke="#3b611f" stroke-width="1.6" stroke-linecap="round"/>
<circle cx="1258.0" cy="268.0" r="17" fill="#6aaf47"/>
<path d="M1264.1,271.2C1264.8,270.6 1268.0,269.3 1268.5,267.9C1269.0,266.4 1267.2,264.3 1267.3,262.5C1267.4,260.8 1268.4,259.0 1269.1,257.3C1269.8,255.6 1271.8,252.8 1271.3,252.3C1270.8,251.7 1267.4,252.9 1266.0,254.0C1264.7,255.0 1263.5,257.1 1263.4,258.8C1263.2,260.4 1264.1,263.0 1265.3,263.9C1266.5,264.9 1268.9,264.3 1270.8,264.5C1272.6,264.8 1276.2,265.4 1276.2,265.6C1276.1,265.8 1272.5,265.6 1270.7,265.6C1268.8,265.6 1266.5,266.4 1265.2,265.6C1263.8,264.7 1264.0,261.9 1262.8,260.6C1261.6,259.3 1259.3,259.1 1258.0,257.9C1256.7,256.7 1256.0,254.8 1255.0,253.3C1253.9,251.8 1253.1,249.4 1251.7,248.9C1250.3,248.4 1247.2,249.1 1246.4,250.2C1245.5,251.4 1246.6,253.9 1246.8,255.7C1247.0,257.5 1247.3,259.3 1247.6,261.1C1248.0,262.9 1248.0,265.2 1249.1,266.5C1250.1,267.7 1252.3,268.3 1254.0,268.9C1255.7,269.4 1257.8,269.2 1259.4,269.9C1261.1,270.6 1263.3,271.6 1264.0,273.0C1264.6,274.4 1263.8,276.8 1263.1,278.4C1262.5,280.1 1261.5,282.2 1260.0,283.0C1258.6,283.7 1256.3,282.7 1254.5,283.1C1252.7,283.4 1250.5,285.4 1249.3,284.9C1248.1,284.3 1247.4,281.5 1247.3,279.8C1247.2,278.0 1248.0,276.1 1248.7,274.4C1249.3,272.8 1250.1,270.8 1251.4,269.7C1252.7,268.6 1255.4,268.9 1256.6,267.8C1257.7,266.6 1257.3,263.9 1258.4,262.6C1259.4,261.2 1261.9,260.9 1263.0,259.5C1264.0,258.2 1264.2,256.1 1264.5,254.3C1264.8,252.5 1265.4,249.3 1264.6,248.8C1263.7,248.2 1261.0,251.0 1259.4,250.7C1257.9,250.5 1255.1,247.3 1255.2,247.2C1255.3,247.1 1259.2,248.7 1259.9,250.1C1260.6,251.4 1259.5,253.7 1259.5,255.5C1259.4,257.4 1260.0,259.3 1259.7,261.0C1259.4,262.8 1258.4,264.5 1257.7,266.2C1257.0,267.8 1256.1,269.5 1255.3,271.1C1254.6,272.8 1254.3,274.9 1253.1,276.1C1251.8,277.3 1249.7,277.6 1248.0,278.3C1246.3,279.0 1243.2,280.7 1242.9,280.3C1242.6,279.9 1245.2,277.4 1246.3,276.0C1247.4,274.5 1248.1,272.6 1249.5,271.5C1250.8,270.4 1252.9,269.2 1254.5,269.2C1256.1,269.3 1258.0,270.6 1259.4,271.8C1260.7,273.0 1261.1,275.4 1262.5,276.3C1264.0,277.2 1266.3,277.5 1268.0,277.2C1269.7,276.9 1271.1,274.7 1272.8,274.6C1274.5,274.4 1277.5,276.8 1278.1,276.2C1278.6,275.6 1276.7,272.8 1276.1,271.1C1275.5,269.3 1274.3,267.5 1274.4,265.8C1274.6,264.1 1277.2,262.6 1277.1,261.0C1277.0,259.5 1275.1,257.9 1273.9,256.5C1272.7,255.1 1271.3,253.9 1270.1,252.6C1268.9,251.2 1267.8,248.5 1266.5,248.4C1265.2,248.4 1262.9,250.6 1262.4,252.1C1261.9,253.6 1263.1,255.7 1263.4,257.5C1263.7,259.3 1263.6,261.3 1264.3,262.9C1264.9,264.6 1266.7,265.8 1267.5,267.4C1268.3,269.0 1268.2,271.4 1269.3,272.6C1270.4,273.8 1274.5,274.3 1274.4,274.7C1274.3,275.1 1270.3,274.0 1268.9,274.8C1267.5,275.6 1267.0,278.0 1265.9,279.5C1264.9,280.9 1262.8,282.1 1262.5,283.7C1262.1,285.3 1263.9,288.9 1263.6,289.1C1263.2,289.3 1261.7,285.7 1260.2,284.7C1258.8,283.8 1256.5,284.3 1254.9,283.4C1253.3,282.6 1251.6,281.3 1250.7,279.8C1249.9,278.3 1250.9,275.8 1250.0,274.4C1249.2,272.9 1247.3,271.5 1245.6,271.1C1244.0,270.6 1240.3,272.1 1240.2,271.7C1240.0,271.3 1244.0,270.1 1244.8,268.7C1245.6,267.3 1244.0,264.6 1244.8,263.2C1245.6,261.8 1248.1,261.5 1249.6,260.6C1251.2,259.6 1252.7,258.5 1254.1,257.3C1255.5,256.1 1256.5,253.9 1258.1,253.5C1259.6,253.2 1262.2,254.1 1263.3,255.2C1264.5,256.4 1263.9,259.2 1265.0,260.4C1266.1,261.7 1268.7,261.6 1270.0,262.8C1271.2,264.1 1272.5,266.2 1272.3,267.8C1272.2,269.4 1270.5,271.2 1269.2,272.3C1267.8,273.5 1265.8,274.8 1264.2,274.6C1262.6,274.5 1260.4,272.8 1259.8,271.4C1259.1,269.9 1259.2,267.3 1260.1,265.9C1260.9,264.5 1263.4,264.2 1264.8,263.0C1266.1,261.8 1267.3,260.3 1268.3,258.8C1269.3,257.3 1271.1,254.1 1270.9,253.9C1270.6,253.7 1267.8,256.2 1266.9,257.7C1266.0,259.2 1266.3,261.5 1265.3,263.0C1264.3,264.4 1262.0,265.0 1261.0,266.5C1260.0,267.9 1259.8,269.9 1259.3,271.7C1258.8,273.4 1257.6,275.5 1258.0,277.0C1258.5,278.5 1261.2,279.3 1262.1,280.8C1263.0,282.2 1263.5,286.1 1263.6,286.0C1263.8,286.0 1263.2,282.4 1263.1,280.6C1262.9,278.7 1262.0,276.5 1262.7,275.1C1263.3,273.6 1265.5,272.2 1267.1,271.8C1268.8,271.4 1270.8,272.5 1272.6,272.4C1274.4,272.3 1277.9,271.2 1277.9,271.2C1278.0,271.3 1274.4,272.2 1272.7,272.9C1271.1,273.7 1269.5,274.8 1268.1,275.9C1266.6,277.0 1265.7,278.9 1264.1,279.7C1262.6,280.5 1260.4,281.0 1258.7,280.7C1257.0,280.4 1255.7,278.2 1254.0,278.0C1252.3,277.7 1250.3,278.5 1248.6,279.1C1246.8,279.6 1245.2,281.3 1243.5,281.2C1241.9,281.1 1239.6,279.8 1238.8,278.5C1237.9,277.1 1238.0,274.7 1238.3,273.0C1238.6,271.2 1240.3,269.7 1240.5,268.0C1240.8,266.2 1239.8,264.4 1239.7,262.6C1239.6,260.7 1239.2,257.5 1240.0,257.1C1240.8,256.6 1242.9,259.8 1244.6,260.1C1246.3,260.4 1248.5,258.4 1250.0,258.9C1251.4,259.4 1251.9,262.4 1253.3,263.2C1254.8,264.0 1257.3,264.3 1258.8,263.8C1260.4,263.2 1262.2,261.4 1262.6,259.8C1263.1,258.3 1260.8,255.9 1261.3,254.5C1261.8,253.0 1265.2,250.9 1265.8,251.3C1266.3,251.6 1264.2,255.2 1264.7,256.7C1265.3,258.1 1268.2,258.5 1269.1,260.0C1269.9,261.5 1270.5,264.0 1269.9,265.4C1269.2,266.9 1266.0,268.0 1265.2,268.5" fill="none" stroke="#3b611f" stroke-width="1.6" stroke-linecap="round"/>
<circle cx="1252.0" cy="298.0" r="17" fill="#6aaf47"/>
<path d="M1261.0,296.7C1260.8,297.6 1259.3,300.3 1259.5,301.9C1259.7,303.6 1260.9,305.7 1262.2,306.7C1263.6,307.7 1267.4,308.4 1267.6,308.0C1267.8,307.7 1264.7,305.7 1263.4,304.5C1262.1,303.2 1261.0,300.9 1259.5,300.5C1258.0,300.2 1256.2,302.4 1254.4,302.6C1252.7,302.8 1250.3,302.6 1249.0,301.6C1247.7,300.6 1246.9,298.3 1246.8,296.6C1246.6,294.9 1247.9,293.1 1248.0,291.3C1248.1,289.4 1246.9,287.4 1247.4,285.8C1248.0,284.2 1250.0,283.2 1251.2,281.8C1252.4,280.4 1254.8,277.6 1254.8,277.6C1254.8,277.6 1251.9,280.2 1251.3,281.8C1250.6,283.4 1251.3,285.6 1250.7,287.3C1250.2,289.0 1248.1,290.3 1247.8,291.9C1247.4,293.6 1248.9,295.7 1248.6,297.4C1248.2,299.1 1246.2,300.4 1245.7,302.0C1245.2,303.7 1245.1,306.0 1245.8,307.5C1246.5,309.1 1248.3,310.4 1249.8,311.3C1251.4,312.1 1253.4,312.8 1255.2,312.6C1256.9,312.5 1258.9,311.5 1260.1,310.3C1261.4,309.1 1261.8,307.0 1262.9,305.5C1264.0,304.1 1265.2,302.1 1266.7,301.6C1268.3,301.1 1272.0,303.0 1272.1,302.8C1272.2,302.6 1268.3,301.7 1267.1,300.5C1265.9,299.2 1265.5,297.2 1265.0,295.4C1264.5,293.7 1264.8,291.6 1264.1,290.0C1263.4,288.3 1262.4,286.2 1260.9,285.5C1259.5,284.7 1256.7,284.7 1255.4,285.5C1254.1,286.4 1254.0,288.9 1253.0,290.5C1252.1,292.0 1251.1,293.7 1249.7,294.8C1248.2,295.9 1246.1,296.0 1244.6,297.0C1243.1,297.9 1242.1,300.0 1240.5,300.7C1238.9,301.4 1236.8,301.5 1235.1,301.2C1233.3,301.0 1230.0,299.2 1230.0,299.2C1229.9,299.2 1233.6,300.2 1235.0,301.3C1236.4,302.4 1236.9,304.7 1238.2,305.8C1239.6,306.9 1241.6,307.3 1243.2,308.1C1244.9,308.8 1247.1,309.1 1248.3,310.3C1249.4,311.5 1248.9,314.4 1250.1,315.5C1251.2,316.6 1255.0,317.6 1255.3,317.2C1255.6,316.7 1253.3,313.6 1251.9,312.9C1250.4,312.1 1248.1,312.4 1246.4,312.7C1244.6,313.0 1241.8,315.3 1241.2,314.7C1240.6,314.2 1242.7,311.2 1242.8,309.5C1242.9,307.7 1242.8,305.3 1241.8,304.0C1240.8,302.8 1238.5,302.3 1236.7,302.0C1235.0,301.6 1231.3,301.5 1231.2,301.9C1231.2,302.2 1235.3,302.7 1236.3,304.0C1237.3,305.2 1236.6,307.7 1237.1,309.4C1237.6,311.2 1238.2,314.1 1239.4,314.4C1240.5,314.8 1242.4,312.4 1244.1,311.5C1245.7,310.7 1247.5,310.2 1249.1,309.4C1250.8,308.6 1252.7,308.2 1254.1,307.0C1255.4,305.8 1255.7,303.4 1257.0,302.3C1258.4,301.3 1260.5,301.1 1262.2,300.5C1263.9,299.8 1265.6,299.2 1267.2,298.3C1268.8,297.3 1271.8,296.0 1271.7,295.0C1271.6,294.1 1267.9,293.8 1266.8,292.5C1265.7,291.2 1265.6,289.1 1265.1,287.3C1264.6,285.5 1264.1,281.9 1264.0,281.9C1263.8,281.9 1264.9,286.1 1264.1,287.4C1263.3,288.7 1260.8,289.5 1259.1,289.7C1257.4,289.9 1255.2,289.5 1253.7,288.6C1252.2,287.8 1251.5,285.4 1250.0,284.6C1248.4,283.8 1246.0,284.6 1244.5,283.8C1243.0,282.9 1240.7,280.0 1241.0,279.5C1241.3,279.1 1244.5,281.3 1246.2,281.2C1248.0,281.2 1249.6,279.7 1251.3,279.2C1253.1,278.6 1255.1,277.5 1256.7,277.9C1258.3,278.3 1260.5,279.9 1261.0,281.4C1261.4,282.8 1259.2,284.9 1259.4,286.6C1259.6,288.3 1261.0,290.0 1262.1,291.4C1263.2,292.9 1264.4,294.5 1265.9,295.4C1267.5,296.2 1270.9,295.5 1271.3,296.5C1271.7,297.4 1269.4,299.6 1268.2,301.0C1267.0,302.4 1265.8,304.3 1264.2,304.8C1262.7,305.2 1260.6,303.6 1258.9,303.6C1257.1,303.6 1255.2,304.3 1253.5,304.9C1251.8,305.5 1249.6,305.9 1248.5,307.1C1247.4,308.4 1248.1,311.3 1246.9,312.4C1245.8,313.5 1241.6,313.8 1241.6,313.8C1241.6,313.8 1245.2,312.7 1247.0,312.5C1248.8,312.3 1251.1,311.8 1252.5,312.6C1253.8,313.4 1254.7,317.5 1255.2,317.4C1255.8,317.3 1254.9,313.4 1255.7,311.9C1256.4,310.4 1259.3,309.8 1259.8,308.3C1260.3,306.8 1258.9,304.7 1258.7,302.9C1258.5,301.1 1258.9,299.2 1258.6,297.4C1258.3,295.6 1257.8,293.6 1256.7,292.2C1255.6,290.9 1253.7,289.6 1252.0,289.4C1250.3,289.1 1248.4,290.7 1246.7,290.7C1244.9,290.8 1243.0,290.1 1241.3,289.7C1239.5,289.3 1236.4,287.8 1235.9,288.5C1235.4,289.1 1238.3,291.9 1238.2,293.5C1238.1,295.1 1236.0,296.5 1235.3,298.1C1234.5,299.8 1233.8,301.5 1233.5,303.3C1233.2,305.1 1232.6,307.7 1233.5,308.8C1234.3,310.0 1237.1,310.4 1238.8,310.2C1240.5,309.9 1242.0,308.4 1243.5,307.4C1245.1,306.4 1246.5,305.2 1248.0,304.1C1249.4,303.0 1250.8,301.5 1252.4,300.9C1254.1,300.4 1256.2,301.2 1257.9,300.8C1259.7,300.5 1261.4,298.8 1263.1,298.8C1264.8,298.9 1266.4,301.0 1268.1,301.1C1269.8,301.1 1273.1,298.9 1273.2,299.1C1273.3,299.3 1270.2,301.2 1268.8,302.4C1267.4,303.6 1266.4,305.5 1264.8,306.1C1263.2,306.7 1260.7,306.8 1259.3,306.0C1257.9,305.3 1257.5,302.8 1256.4,301.3C1255.4,299.8 1254.5,297.5 1253.1,297.0C1251.6,296.4 1249.4,297.5 1247.7,298.1C1246.0,298.7 1244.4,299.7 1242.8,300.7C1241.3,301.7 1239.7,302.7 1238.5,304.1C1237.3,305.4 1235.3,308.0 1235.7,308.8C1236.2,309.6 1239.7,309.6 1241.2,309.0C1242.8,308.3 1243.4,305.3 1244.9,304.9C1246.4,304.4 1248.5,306.7 1250.1,306.5C1251.8,306.3 1253.5,304.8 1254.8,303.6C1256.1,302.3 1257.9,300.7 1258.0,299.1C1258.1,297.5 1256.5,295.7 1255.5,294.2C1254.4,292.7 1253.2,291.3 1251.8,290.1C1250.4,288.9 1248.6,288.3 1247.2,287.1C1245.8,286.0 1243.8,282.9 1243.5,283.0C1243.2,283.2 1245.1,287.3 1245.4,288.2" fill="none" stroke="#3b611f" stroke-width="1.6" stroke-linecap="round"/>
<circle cx="1170.0" cy="277.0" r="17" fill="#6aaf47"/>
<path d="M1170.2,278.1C1170.4,279.0 1172.1,282.0 1171.6,283.5C1171.2,284.9 1168.5,285.6 1167.5,287.1C1166.4,288.5 1165.4,290.5 1165.4,292.2C1165.4,293.8 1166.3,296.2 1167.6,297.2C1168.9,298.2 1172.9,298.5 1173.0,298.1C1173.2,297.7 1169.4,296.2 1168.7,294.7C1168.0,293.2 1169.2,290.9 1168.7,289.2C1168.2,287.5 1166.0,286.4 1165.6,284.7C1165.1,283.1 1165.5,281.0 1165.8,279.2C1166.0,277.4 1167.5,275.2 1166.9,273.8C1166.3,272.4 1164.0,271.4 1162.3,270.8C1160.6,270.3 1158.0,271.3 1156.8,270.3C1155.6,269.4 1154.7,265.5 1155.2,265.1C1155.7,264.7 1158.4,267.0 1159.9,267.9C1161.5,268.9 1163.1,269.7 1164.6,270.8C1166.0,271.9 1167.1,273.9 1168.7,274.5C1170.3,275.0 1172.4,274.1 1174.2,274.2C1176.0,274.3 1177.9,274.6 1179.6,275.0C1181.4,275.5 1183.0,276.4 1184.7,277.1C1186.4,277.9 1189.5,278.7 1189.6,279.6C1189.7,280.6 1186.5,281.6 1185.2,282.9C1183.9,284.2 1182.7,285.7 1181.9,287.3C1181.1,288.9 1181.5,291.4 1180.3,292.6C1179.2,293.7 1176.9,294.0 1175.1,294.2C1173.3,294.5 1171.4,294.1 1169.6,294.0C1167.7,293.9 1165.3,294.7 1164.1,293.8C1162.9,292.9 1163.4,289.9 1162.3,288.6C1161.2,287.3 1159.1,285.8 1157.6,285.9C1156.0,285.9 1153.3,289.1 1152.8,288.7C1152.4,288.3 1154.6,285.4 1154.9,283.6C1155.2,281.8 1154.5,279.9 1154.7,278.1C1154.9,276.3 1155.4,274.4 1156.2,272.8C1157.0,271.2 1158.1,269.5 1159.5,268.4C1160.9,267.3 1163.2,267.5 1164.6,266.4C1166.0,265.3 1166.4,263.1 1167.7,261.8C1169.0,260.5 1170.6,259.2 1172.2,258.7C1173.9,258.2 1177.5,258.1 1177.7,258.7C1177.9,259.3 1175.0,262.0 1173.5,262.2C1172.0,262.4 1169.6,259.4 1168.5,259.9C1167.4,260.4 1167.4,263.4 1166.7,265.1C1166.0,266.8 1164.2,268.4 1164.2,270.0C1164.3,271.6 1165.6,273.8 1167.0,274.8C1168.3,275.7 1170.8,274.9 1172.4,275.8C1173.9,276.6 1175.7,278.1 1176.3,279.7C1176.8,281.2 1175.2,283.7 1175.8,285.1C1176.5,286.6 1178.8,287.3 1180.1,288.5C1181.4,289.8 1183.8,292.5 1183.6,292.8C1183.4,293.1 1180.3,291.2 1178.8,290.1C1177.4,289.0 1176.3,286.8 1174.8,286.4C1173.2,286.0 1171.2,287.3 1169.4,287.6C1167.6,287.9 1165.4,288.7 1163.9,288.1C1162.5,287.4 1161.8,285.1 1160.6,283.7C1159.4,282.3 1158.3,280.1 1156.8,279.7C1155.3,279.4 1151.8,281.9 1151.5,281.5C1151.3,281.0 1153.8,278.5 1155.1,277.2C1156.4,276.0 1157.8,274.2 1159.4,273.9C1161.0,273.5 1163.0,275.3 1164.7,275.3C1166.5,275.2 1168.4,273.0 1169.9,273.3C1171.4,273.7 1172.1,276.9 1173.7,277.3C1175.2,277.7 1177.1,276.0 1178.9,275.7C1180.7,275.5 1182.8,276.5 1184.4,275.9C1186.0,275.4 1187.9,274.0 1188.7,272.5C1189.4,271.0 1189.8,267.6 1188.9,267.0C1188.1,266.3 1185.5,268.2 1183.7,268.6C1181.9,268.9 1180.0,269.0 1178.2,269.2C1176.4,269.4 1174.3,270.6 1172.8,270.0C1171.2,269.5 1170.6,266.4 1169.1,266.0C1167.6,265.6 1164.9,266.5 1163.8,267.7C1162.8,268.8 1162.3,271.4 1162.7,273.0C1163.0,274.7 1164.6,276.3 1165.9,277.5C1167.3,278.6 1169.1,279.5 1170.8,280.0C1172.5,280.5 1174.6,280.9 1176.3,280.4C1178.0,279.9 1179.1,277.9 1180.8,277.2C1182.4,276.5 1184.4,276.7 1186.2,276.2C1187.9,275.7 1191.4,274.5 1191.3,274.2C1191.2,274.0 1187.3,275.3 1185.8,274.6C1184.4,273.9 1183.5,271.7 1182.5,270.2C1181.6,268.6 1181.4,266.1 1180.1,265.2C1178.8,264.4 1176.2,265.7 1174.6,265.0C1173.0,264.4 1171.0,262.8 1170.5,261.3C1170.1,259.8 1171.1,256.3 1172.0,256.0C1172.9,255.8 1175.2,258.3 1176.0,259.8C1176.7,261.4 1176.8,263.6 1176.4,265.3C1176.0,267.0 1174.5,268.4 1173.6,270.0C1172.7,271.6 1171.2,273.2 1171.0,274.9C1170.9,276.6 1171.5,278.8 1172.5,280.2C1173.6,281.5 1175.8,281.8 1177.3,282.9C1178.8,284.0 1180.9,285.1 1181.3,286.6C1181.7,288.1 1180.9,290.8 1179.7,291.9C1178.5,293.0 1175.5,292.1 1174.3,293.2C1173.2,294.3 1173.4,298.5 1172.9,298.5C1172.4,298.5 1171.0,294.8 1171.3,293.2C1171.6,291.6 1173.4,290.1 1174.7,288.9C1176.0,287.6 1178.0,287.1 1179.2,285.8C1180.5,284.5 1181.8,282.9 1182.3,281.2C1182.8,279.6 1181.6,277.4 1182.1,275.7C1182.5,274.0 1183.9,272.6 1184.9,271.1C1186.0,269.5 1188.4,266.8 1188.3,266.7C1188.1,266.5 1185.1,268.7 1183.9,270.1C1182.8,271.5 1182.7,273.9 1181.4,274.9C1180.1,276.0 1177.8,275.8 1176.1,276.5C1174.5,277.3 1173.2,278.8 1171.5,279.6C1169.9,280.3 1168.1,281.0 1166.3,281.3C1164.5,281.5 1162.4,280.4 1160.8,280.9C1159.2,281.4 1157.6,283.0 1156.5,284.4C1155.4,285.8 1153.7,288.5 1154.2,289.4C1154.8,290.2 1158.4,288.8 1159.7,289.6C1161.0,290.5 1161.6,294.7 1162.1,294.6C1162.5,294.5 1163.2,290.4 1162.4,289.1C1161.6,287.8 1159.0,287.7 1157.4,286.8C1155.9,285.8 1153.4,284.6 1153.2,283.3C1153.0,281.9 1155.0,279.8 1156.4,278.8C1157.9,277.9 1160.2,278.3 1161.8,277.5C1163.4,276.7 1164.4,274.6 1166.0,274.0C1167.6,273.4 1169.7,273.8 1171.5,273.9C1173.3,274.1 1175.3,275.4 1176.9,274.9C1178.5,274.4 1179.4,271.9 1180.9,271.1C1182.5,270.4 1186.4,270.8 1186.4,270.5C1186.4,270.1 1182.9,268.8 1181.2,268.8C1179.4,268.8 1177.7,270.4 1175.9,270.5C1174.2,270.5 1172.3,269.7 1170.6,269.0C1169.0,268.2 1167.6,266.9 1165.9,266.1C1164.3,265.3 1162.5,264.8 1160.7,264.3C1159.0,263.8 1155.9,262.6 1155.3,263.3C1154.8,263.9 1157.1,267.5 1157.4,268.4" fill="none" stroke="#3b611f" stroke-width="1.6" stroke-linecap="round"/>
<circle cx="1190.0" cy="297.0" r="17" fill="#6aaf47"/>
<path d="M1195.1,287.3C1194.3,286.8 1191.7,285.6 1190.4,284.4C1189.2,283.1 1187.3,279.9 1187.5,279.7C1187.6,279.6 1189.8,282.7 1191.4,283.6C1192.9,284.5 1194.9,284.7 1196.7,285.0C1198.5,285.3 1200.3,285.3 1202.2,285.6C1204.0,285.9 1207.1,285.7 1207.5,286.7C1208.0,287.7 1206.1,290.5 1204.8,291.5C1203.4,292.5 1201.1,292.8 1199.4,292.5C1197.7,292.3 1195.3,291.4 1194.5,290.1C1193.6,288.7 1194.9,286.1 1194.2,284.6C1193.5,283.0 1191.7,281.9 1190.3,280.7C1188.9,279.5 1187.5,277.7 1185.9,277.4C1184.2,277.1 1182.1,277.9 1180.5,278.8C1179.0,279.7 1178.1,281.6 1176.7,282.8C1175.3,284.0 1172.8,284.6 1172.3,286.0C1171.8,287.5 1173.3,289.6 1173.6,291.4C1173.9,293.2 1174.7,295.4 1174.1,296.9C1173.4,298.3 1169.9,300.4 1169.8,300.3C1169.6,300.1 1172.4,297.6 1173.2,296.0C1173.9,294.4 1173.8,292.3 1174.2,290.6C1174.7,288.8 1174.9,286.6 1176.1,285.4C1177.3,284.2 1179.6,283.1 1181.2,283.3C1182.8,283.5 1184.6,285.1 1185.7,286.5C1186.7,287.9 1186.2,290.7 1187.4,291.8C1188.5,292.8 1190.9,292.6 1192.7,293.0C1194.5,293.5 1196.5,293.6 1198.0,294.4C1199.6,295.2 1200.6,297.1 1202.2,297.9C1203.8,298.8 1207.5,299.0 1207.5,299.5C1207.5,299.9 1203.7,301.1 1202.1,300.7C1200.6,300.2 1199.8,297.1 1198.3,296.7C1196.8,296.4 1194.2,297.3 1193.1,298.5C1192.0,299.7 1191.4,302.1 1191.5,303.8C1191.6,305.5 1192.8,307.3 1193.8,308.8C1194.8,310.3 1197.8,312.4 1197.6,312.8C1197.4,313.1 1194.2,311.4 1192.5,310.6C1190.8,309.9 1188.7,309.6 1187.5,308.3C1186.4,307.1 1186.0,305.0 1185.5,303.2C1185.0,301.4 1184.5,299.6 1184.6,297.8C1184.6,296.0 1185.5,294.2 1185.9,292.4C1186.3,290.7 1186.8,288.9 1187.2,287.1C1187.5,285.3 1187.0,282.9 1188.0,281.7C1189.0,280.5 1192.3,279.3 1193.2,279.9C1194.1,280.6 1193.4,283.6 1193.3,285.4C1193.2,287.3 1192.2,289.3 1192.8,290.9C1193.3,292.5 1195.4,293.5 1196.6,294.8C1197.9,296.1 1200.2,297.3 1200.4,298.8C1200.7,300.3 1198.8,302.1 1198.4,303.9C1197.9,305.6 1198.6,307.7 1198.0,309.3C1197.4,311.0 1196.2,312.6 1194.9,313.9C1193.6,315.1 1191.6,316.9 1190.2,316.8C1188.7,316.6 1186.7,314.6 1186.1,313.1C1185.6,311.5 1186.1,309.2 1186.9,307.6C1187.6,306.0 1189.1,304.2 1190.6,303.6C1192.1,303.0 1194.8,303.2 1196.1,304.1C1197.4,305.0 1197.9,307.4 1198.6,309.0C1199.2,310.7 1200.1,314.3 1200.2,314.3C1200.3,314.3 1200.0,310.4 1199.1,308.9C1198.2,307.4 1196.5,306.1 1194.9,305.3C1193.3,304.6 1191.0,303.6 1189.5,304.2C1188.1,304.7 1186.9,306.9 1186.1,308.5C1185.4,310.1 1185.4,313.9 1185.1,313.9C1184.9,313.9 1184.0,310.1 1184.4,308.4C1184.8,306.8 1187.3,305.4 1187.4,303.9C1187.5,302.3 1186.2,300.2 1185.0,298.9C1183.8,297.6 1181.3,297.4 1180.3,296.1C1179.3,294.7 1180.3,291.8 1179.2,290.7C1178.2,289.5 1175.4,288.7 1173.9,289.2C1172.5,289.7 1170.2,292.9 1170.6,293.6C1170.9,294.2 1174.2,293.3 1176.1,293.1C1177.9,293.0 1180.1,293.6 1181.5,292.8C1183.0,292.0 1184.1,290.0 1184.8,288.4C1185.5,286.7 1184.9,284.5 1185.7,282.9C1186.4,281.4 1188.1,280.1 1189.6,279.0C1191.0,278.0 1192.8,276.2 1194.3,276.3C1195.9,276.5 1197.1,278.7 1198.6,279.8C1200.1,280.9 1202.4,281.4 1203.2,282.8C1204.1,284.2 1202.9,287.0 1203.9,288.2C1204.9,289.5 1208.8,289.1 1209.1,290.1C1209.3,291.1 1206.5,292.7 1205.4,294.2C1204.3,295.6 1203.8,297.7 1202.5,298.8C1201.2,300.0 1199.3,300.8 1197.5,301.2C1195.8,301.6 1193.7,300.8 1192.0,301.3C1190.3,301.7 1188.8,303.9 1187.2,303.9C1185.5,303.9 1183.4,302.6 1182.3,301.3C1181.2,300.0 1180.4,297.8 1180.4,296.1C1180.4,294.4 1182.1,292.7 1182.2,290.9C1182.3,289.1 1181.4,287.3 1181.0,285.6C1180.5,283.8 1179.0,281.0 1179.7,280.2C1180.3,279.4 1183.4,281.3 1185.1,281.0C1186.8,280.6 1188.1,278.0 1189.7,278.0C1191.3,277.9 1192.8,280.1 1194.5,280.7C1196.2,281.2 1198.2,280.9 1200.0,281.2C1201.8,281.5 1205.3,281.7 1205.4,282.3C1205.5,283.0 1201.4,283.7 1200.6,285.0C1199.7,286.4 1200.0,288.8 1200.2,290.5C1200.5,292.3 1201.1,294.6 1202.3,295.6C1203.5,296.7 1206.3,295.9 1207.7,296.9C1209.1,297.9 1211.1,300.9 1210.7,301.5C1210.3,302.1 1206.8,301.5 1205.2,300.7C1203.7,300.0 1201.8,298.5 1201.2,297.0C1200.5,295.5 1201.7,293.2 1201.3,291.5C1200.9,289.8 1199.7,288.2 1198.8,286.6C1197.9,285.0 1197.1,283.2 1195.9,281.9C1194.7,280.6 1193.1,279.3 1191.4,278.7C1189.7,278.2 1186.6,277.6 1185.9,278.5C1185.2,279.3 1187.0,282.0 1187.1,283.8C1187.1,285.6 1187.0,287.8 1186.2,289.3C1185.3,290.7 1182.5,291.2 1181.9,292.7C1181.3,294.2 1182.5,296.4 1182.4,298.2C1182.2,300.0 1180.6,302.0 1181.0,303.5C1181.4,305.1 1183.5,306.2 1184.8,307.5C1186.1,308.8 1188.2,309.6 1188.9,311.1C1189.6,312.7 1188.8,316.6 1189.0,316.6C1189.2,316.7 1189.6,313.0 1190.1,311.3C1190.7,309.5 1191.1,307.2 1192.3,306.2C1193.6,305.2 1196.2,306.0 1197.8,305.3C1199.4,304.6 1201.0,303.3 1202.1,301.9C1203.2,300.5 1203.0,297.8 1204.3,296.8C1205.5,295.8 1209.4,295.4 1209.7,295.9C1210.0,296.5 1206.7,298.5 1206.0,300.1C1205.4,301.7 1206.7,304.4 1205.8,305.5C1204.8,306.7 1202.3,306.6 1200.5,307.2C1198.7,307.7 1196.4,307.6 1195.2,308.8C1194.1,309.9 1193.4,314.0 1193.6,314.0C1193.8,314.1 1195.9,310.0 1196.3,309.2" fill="none" stroke="#3b611f" stroke-width="1.6" stroke-linecap="round"/>
<circle cx="1211.0" cy="314.0" r="17" fill="#6aaf47"/>
<path d="M1216.1,313.9C1217.0,314.0 1219.8,314.4 1221.6,314.4C1223.4,314.3 1225.4,313.0 1227.0,313.4C1228.6,313.9 1230.6,315.6 1231.1,317.1C1231.7,318.6 1230.9,321.0 1230.1,322.5C1229.2,324.0 1227.1,326.2 1225.9,326.1C1224.7,325.9 1223.3,323.3 1222.7,321.6C1222.0,320.0 1222.9,317.7 1222.1,316.2C1221.4,314.6 1219.6,313.2 1218.0,312.5C1216.4,311.7 1214.0,312.6 1212.6,311.6C1211.2,310.7 1210.7,308.5 1209.8,306.9C1209.0,305.2 1208.7,303.3 1207.7,301.8C1206.7,300.3 1203.6,298.3 1203.9,297.9C1204.1,297.5 1207.6,298.6 1209.1,299.5C1210.6,300.4 1211.6,302.2 1213.0,303.4C1214.4,304.6 1216.5,305.1 1217.6,306.4C1218.6,307.8 1219.3,309.9 1219.3,311.7C1219.3,313.4 1217.3,315.1 1217.4,316.8C1217.5,318.5 1218.9,320.2 1219.7,321.8C1220.5,323.4 1222.1,325.0 1222.3,326.7C1222.4,328.4 1221.5,331.8 1220.7,331.9C1220.0,332.1 1217.8,329.0 1217.7,327.4C1217.5,325.8 1218.9,324.0 1219.6,322.3C1220.3,320.6 1221.1,318.9 1221.7,317.2C1222.4,315.5 1223.6,313.7 1223.6,312.0C1223.6,310.3 1222.4,308.5 1222.0,306.8C1221.5,305.0 1221.9,302.6 1220.9,301.4C1219.9,300.1 1217.4,299.2 1215.8,299.3C1214.2,299.5 1212.1,301.0 1211.2,302.4C1210.3,303.8 1211.1,306.4 1210.3,307.8C1209.4,309.3 1207.6,310.6 1206.0,311.4C1204.4,312.1 1202.0,311.2 1200.6,312.2C1199.2,313.1 1199.2,315.9 1197.9,316.9C1196.5,318.0 1193.6,317.1 1192.5,318.2C1191.5,319.3 1190.7,322.5 1191.4,323.6C1192.1,324.7 1195.2,324.1 1196.7,324.9C1198.3,325.8 1199.2,328.4 1200.7,328.7C1202.2,329.0 1204.1,326.9 1205.9,326.8C1207.6,326.7 1209.7,328.3 1211.3,327.9C1212.8,327.4 1214.1,325.5 1215.3,324.1C1216.4,322.7 1216.7,320.0 1218.0,319.4C1219.4,318.7 1222.1,320.8 1223.5,320.1C1224.9,319.5 1225.4,317.0 1226.4,315.4C1227.4,313.9 1229.6,312.5 1229.6,311.0C1229.6,309.5 1227.4,308.0 1226.7,306.3C1226.0,304.7 1226.0,301.1 1225.3,301.0C1224.6,300.9 1223.7,304.8 1222.3,305.6C1220.9,306.4 1218.1,306.5 1216.8,305.7C1215.5,304.9 1215.8,301.8 1214.6,300.7C1213.4,299.5 1210.4,300.0 1209.4,298.8C1208.5,297.5 1208.7,293.4 1208.9,293.3C1209.2,293.2 1210.5,296.6 1211.2,298.3C1211.8,300.0 1211.8,302.4 1213.0,303.5C1214.1,304.6 1216.7,304.0 1218.3,304.8C1219.9,305.6 1221.5,307.0 1222.4,308.5C1223.3,310.0 1222.6,312.7 1223.8,313.8C1224.9,314.9 1229.1,314.4 1229.1,314.9C1229.2,315.3 1225.4,316.9 1223.9,316.6C1222.4,316.2 1221.4,313.0 1219.9,312.8C1218.4,312.5 1216.5,315.2 1214.9,315.1C1213.3,315.0 1211.7,312.2 1210.2,312.3C1208.6,312.3 1207.2,314.5 1205.6,315.3C1204.0,316.1 1202.1,316.3 1200.4,317.0C1198.7,317.7 1196.9,319.7 1195.4,319.4C1193.9,319.2 1191.3,315.8 1191.3,315.8C1191.3,315.8 1194.7,318.0 1195.4,319.5C1196.1,321.0 1195.2,325.0 1195.5,325.0C1195.7,325.0 1196.0,321.3 1196.7,319.7C1197.4,318.0 1199.6,316.7 1199.8,315.1C1199.9,313.5 1197.7,311.8 1197.5,310.1C1197.4,308.3 1198.2,306.4 1198.7,304.7C1199.3,302.9 1200.3,301.3 1200.8,299.6C1201.3,297.8 1201.3,294.2 1201.7,294.2C1202.2,294.1 1202.6,297.8 1203.6,299.3C1204.6,300.8 1206.2,301.9 1207.5,303.2C1208.9,304.4 1210.0,306.0 1211.5,307.0C1213.0,308.0 1214.9,309.5 1216.5,309.3C1218.0,309.2 1219.6,307.4 1221.0,306.1C1222.3,304.9 1223.7,301.6 1224.4,301.8C1225.0,302.0 1224.7,305.5 1224.6,307.3C1224.6,309.1 1223.4,311.2 1223.9,312.8C1224.5,314.3 1226.7,315.2 1228.0,316.5C1229.3,317.8 1232.0,320.2 1231.7,320.5C1231.5,320.8 1227.5,319.5 1226.7,318.2C1226.0,316.9 1226.3,314.2 1227.0,312.7C1227.8,311.2 1231.4,309.6 1231.2,309.1C1231.0,308.7 1227.6,310.0 1225.8,310.0C1224.0,310.0 1221.8,308.6 1220.3,309.2C1218.9,309.8 1218.7,313.1 1217.2,313.7C1215.8,314.3 1213.4,312.3 1211.8,312.7C1210.3,313.2 1209.0,315.2 1207.9,316.6C1206.9,318.1 1206.5,320.1 1205.3,321.5C1204.2,322.9 1202.7,324.8 1201.2,325.1C1199.6,325.3 1197.2,324.2 1196.0,323.0C1194.8,321.9 1194.9,319.5 1193.9,318.0C1192.9,316.5 1190.0,315.4 1190.0,314.1C1190.0,312.8 1192.4,310.7 1194.0,310.3C1195.5,309.8 1198.0,310.4 1199.3,311.4C1200.7,312.4 1201.6,314.5 1201.9,316.2C1202.2,318.0 1201.2,319.9 1201.0,321.7C1200.8,323.5 1200.6,325.3 1200.5,327.1C1200.4,329.0 1199.5,332.1 1200.2,332.6C1201.0,333.1 1203.4,330.4 1205.1,330.2C1206.9,329.9 1209.0,331.7 1210.5,331.2C1212.1,330.7 1213.3,328.7 1214.3,327.2C1215.2,325.6 1216.1,323.7 1216.2,322.0C1216.3,320.2 1214.6,318.4 1214.8,316.7C1215.0,315.0 1216.0,312.8 1217.3,311.8C1218.6,310.8 1221.1,311.5 1222.7,310.7C1224.3,309.9 1226.9,307.7 1226.7,307.0C1226.5,306.2 1223.0,306.0 1221.2,306.2C1219.5,306.4 1217.9,308.2 1216.2,308.3C1214.4,308.4 1212.5,306.7 1210.8,307.0C1209.1,307.3 1206.9,308.5 1206.2,309.9C1205.4,311.3 1206.0,313.7 1206.5,315.4C1207.0,317.2 1208.0,318.8 1208.9,320.4C1209.9,321.9 1210.7,323.7 1212.1,324.9C1213.4,326.0 1215.3,327.2 1217.0,327.3C1218.7,327.4 1220.7,325.3 1222.3,325.6C1223.8,326.0 1226.6,328.9 1226.4,329.3C1226.1,329.7 1222.7,328.8 1221.0,328.1C1219.3,327.5 1217.7,325.4 1216.2,325.5C1214.6,325.6 1213.0,327.6 1211.9,328.9C1210.7,330.3 1209.2,333.8 1209.1,333.7C1208.9,333.6 1210.0,330.1 1210.9,328.5C1211.8,326.9 1213.7,324.9 1214.2,324.1" fill="none" stroke="#3b611f" stroke-width="1.6" stroke-linecap="round"/>
<path d="M1058.9,240.9 A12.4,12.4 0 0 1 1083.7,240.9 L1083.7,301.5 A22.4,22.4 0 1 1 1058.9,301.5 Z" fill="#000"/>
<path d="M1062.9,240.9 A8.4,8.4 0 0 1 1079.7,240.9 L1079.7,303.8 A18.4,18.4 0 1 1 1062.9,303.8 Z" fill="#fff"/>
<rect x="1066.8" y="247.5" width="9.0" height="72.7" rx="4.5" fill="#d31f25"/>
<circle cx="1071.3" cy="319.7" r="14.8" fill="#d31f25"/>
<line x1="1082.7" y1="248.8" x2="1092.3" y2="248.8" stroke="#000" stroke-width="3.7" stroke-linecap="round"/>
<line x1="1082.7" y1="259.8" x2="1089.0" y2="259.8" stroke="#000" stroke-width="3.7" stroke-linecap="round"/>
<line x1="1082.7" y1="270.8" x2="1092.3" y2="270.8" stroke="#000" stroke-width="3.7" stroke-linecap="round"/>
<line x1="1082.7" y1="281.8" x2="1089.0" y2="281.8" stroke="#000" stroke-width="3.7" stroke-linecap="round"/>
<line x1="1082.7" y1="292.8" x2="1092.3" y2="292.8" stroke="#000" stroke-width="3.7" stroke-linecap="round"/>
<rect x="1333.6" y="6.3" width="660.1" height="358.9" fill="#fff" stroke="#000" stroke-width="3.3"/>
<text x="1343.5" y="46.9" font-size="38" font-weight="700">b</text>
<rect x="1376" y="132.6" width="214.3" height="44.2" fill="#f0da95"/>
<rect x="1740" y="132.6" width="213" height="44.2" fill="#f0da95"/>
<rect x="1397.5" y="176.8" width="171.7" height="95.2" fill="#bde0f7"/>
<rect x="1760.3" y="176.8" width="171.7" height="95.2" fill="#bde0f7"/>
<path d="M1354,91.1 L1376.1,91.1 L1376.1,176.8 L1397.5,176.8 L1397.5,272 L1569.2,272 L1569.2,176.8 L1590.3,176.8 L1590.3,113.9 L1740,113.9 L1740,176.8 L1760.3,176.8 L1760.3,272 L1932,272 L1932,176.8 L1953.1,176.8 L1953.1,91.1 L1975.6,91.1 L1975.6,350.2 L1354,350.2 Z" fill="#f7efdc" stroke="#000" stroke-width="3.5" stroke-linejoin="miter"/>
<circle cx="1410" cy="176.3" r="7.8" fill="#6aaf47"/>
<path d="M1412.5,175.3C1412.2,175.0 1410.7,174.0 1410.5,173.2C1410.3,172.4 1411.3,171.4 1411.5,170.5C1411.7,169.6 1412.1,167.8 1411.7,167.6C1411.4,167.4 1410.3,169.0 1409.4,169.3C1408.5,169.7 1406.5,169.5 1406.5,169.7C1406.5,169.9 1408.6,169.8 1409.4,170.3C1410.1,170.8 1410.7,171.7 1411.2,172.5C1411.7,173.3 1411.7,174.4 1412.2,175.2C1412.7,176.0 1413.4,177.0 1414.3,177.3C1415.1,177.6 1416.6,177.6 1417.2,177.1C1417.7,176.6 1418.0,175.1 1417.8,174.2C1417.6,173.4 1416.7,172.3 1416.0,172.0C1415.2,171.6 1414.0,171.9 1413.1,172.1C1412.1,172.3 1411.2,173.0 1410.3,173.0C1409.4,173.1 1408.2,173.0 1407.5,172.5C1406.7,172.0 1406.3,170.0 1405.9,170.0C1405.5,170.1 1405.4,171.9 1405.3,172.9C1405.2,173.8 1405.5,174.9 1405.2,175.8C1405.0,176.7 1404.3,177.5 1403.8,178.3C1403.2,179.1 1402.1,180.6 1402.1,180.6C1402.1,180.7 1403.2,179.0 1403.9,178.4C1404.6,177.7 1405.9,177.4 1406.2,176.7C1406.6,175.9 1405.9,174.7 1406.0,173.8C1406.1,172.8 1406.7,172.0 1406.9,171.0C1407.0,170.1 1406.9,168.1 1407.0,168.1C1407.1,168.1 1407.5,170.0 1407.5,171.0C1407.6,171.9 1408.0,173.1 1407.5,173.9C1407.1,174.6 1405.9,175.4 1405.1,175.3C1404.3,175.3 1402.7,174.0 1402.8,173.5C1402.9,173.1 1404.8,172.4 1405.5,172.7C1406.3,172.9 1406.7,174.2 1407.3,175.0C1407.9,175.8 1408.8,176.4 1409.0,177.3C1409.3,178.2 1408.8,179.3 1408.9,180.2C1409.0,181.2 1409.3,182.9 1409.7,183.0C1410.2,183.1 1411.6,181.6 1411.7,180.8C1411.8,180.1 1410.9,178.9 1410.2,178.3C1409.5,177.8 1408.3,177.9 1407.4,177.5C1406.6,177.1 1405.8,176.4 1405.1,175.8C1404.3,175.2 1403.2,174.7 1402.9,173.9C1402.6,173.1 1402.6,171.3 1403.1,171.0C1403.6,170.6 1404.9,171.7 1405.9,171.8C1406.8,171.9 1407.8,171.2 1408.8,171.4C1409.7,171.5 1410.5,172.6 1411.4,172.7C1412.2,172.7 1413.1,171.8 1414.0,171.5C1415.0,171.3 1416.6,170.8 1416.9,171.3C1417.2,171.7 1416.5,173.2 1416.0,174.0C1415.6,174.8 1414.3,175.4 1414.1,176.2C1413.9,177.0 1415.1,178.2 1414.9,179.0C1414.7,179.8 1413.8,181.0 1413.0,181.2C1412.2,181.3 1411.2,180.5 1410.3,180.0C1409.5,179.6 1408.7,179.0 1407.9,178.5C1407.1,177.9 1406.5,176.9 1405.6,176.6C1404.8,176.4 1402.8,177.3 1402.8,177.1C1402.7,176.9 1404.3,175.8 1405.2,175.5C1406.1,175.2 1407.2,175.5 1408.0,175.1C1408.9,174.7 1410.1,174.1 1410.4,173.4C1410.6,172.6 1409.4,171.5 1409.5,170.6C1409.6,169.7 1410.7,168.0 1410.8,168.0C1411.0,168.1 1411.0,170.3 1410.4,170.9C1409.9,171.5 1408.5,171.9 1407.7,171.8C1406.8,171.6 1406.1,170.3 1405.2,170.2C1404.4,170.1 1403.2,170.7 1402.6,171.4C1402.0,172.0 1401.4,173.4 1401.6,174.1C1401.8,174.9 1403.7,175.1 1403.9,175.9C1404.1,176.6 1402.7,178.5 1402.9,178.6C1403.1,178.7 1404.2,176.9 1405.1,176.7C1405.9,176.4 1407.0,177.1 1407.9,177.2C1408.9,177.3 1410.1,177.7 1410.8,177.3C1411.6,176.9 1412.4,175.7 1412.4,174.9C1412.3,174.1 1410.9,172.9 1410.6,172.5" fill="none" stroke="#3a6520" stroke-width="1.25" stroke-linecap="round"/>
<circle cx="1429.8" cy="176.3" r="7.8" fill="#6aaf47"/>
<path d="M1431.0,179.5C1430.6,179.3 1429.1,178.9 1428.4,178.3C1427.7,177.6 1427.5,176.6 1427.0,175.7C1426.5,174.9 1425.6,174.1 1425.5,173.2C1425.5,172.4 1426.1,171.2 1426.7,170.6C1427.4,170.0 1428.7,170.2 1429.5,169.8C1430.4,169.4 1431.6,167.9 1431.8,168.0C1432.0,168.2 1431.1,169.8 1430.7,170.7C1430.3,171.6 1430.0,172.5 1429.4,173.3C1428.8,174.0 1427.9,174.7 1427.1,175.1C1426.2,175.4 1425.0,175.1 1424.2,175.6C1423.4,176.0 1422.2,177.4 1422.3,177.8C1422.5,178.1 1424.3,177.7 1425.2,177.5C1426.1,177.3 1427.0,176.5 1427.9,176.4C1428.8,176.3 1429.9,177.1 1430.8,176.9C1431.7,176.8 1432.7,176.1 1433.2,175.4C1433.8,174.7 1434.0,173.6 1434.2,172.7C1434.5,171.8 1435.1,170.6 1434.8,169.8C1434.5,169.1 1432.7,168.0 1432.4,168.2C1432.1,168.4 1432.3,170.6 1432.8,171.1C1433.4,171.6 1434.8,171.2 1435.7,171.5C1436.6,171.8 1438.2,172.6 1438.1,173.1C1438.1,173.5 1436.0,173.5 1435.4,174.1C1434.7,174.7 1434.7,175.9 1434.2,176.8C1433.7,177.6 1433.0,178.2 1432.4,179.0C1431.8,179.8 1430.7,180.5 1430.6,181.3C1430.5,182.1 1432.1,183.7 1431.9,183.9C1431.7,184.0 1430.2,183.0 1429.5,182.3C1428.8,181.6 1428.3,180.7 1427.9,179.9C1427.4,179.0 1427.3,178.0 1427.0,177.1C1426.6,176.2 1426.4,175.1 1425.7,174.5C1425.0,173.9 1423.5,174.1 1423.0,173.4C1422.5,172.8 1422.3,171.2 1422.7,170.6C1423.1,169.9 1424.4,169.6 1425.4,169.5C1426.3,169.3 1427.4,169.1 1428.3,169.5C1429.1,169.8 1429.5,171.0 1430.4,171.5C1431.2,171.9 1432.6,171.7 1433.1,172.4C1433.6,173.0 1433.3,174.3 1433.5,175.2C1433.7,176.2 1434.2,177.1 1434.3,178.0C1434.4,179.0 1434.1,180.0 1434.2,180.9C1434.4,181.8 1435.6,183.4 1435.3,183.6C1435.1,183.8 1433.2,182.9 1432.8,182.2C1432.4,181.4 1432.6,179.9 1433.1,179.3C1433.6,178.6 1435.2,178.9 1435.8,178.4C1436.5,177.8 1437.0,176.7 1437.2,175.8C1437.3,174.9 1437.5,173.2 1437.0,172.9C1436.5,172.6 1435.1,173.9 1434.3,173.9C1433.4,173.8 1432.3,173.2 1431.7,172.5C1431.1,171.8 1430.8,169.8 1430.8,169.7C1430.9,169.7 1431.6,171.6 1432.2,172.3C1432.9,172.9 1433.9,173.3 1434.9,173.5C1435.8,173.7 1437.7,173.3 1437.8,173.5C1437.8,173.7 1436.0,174.3 1435.1,174.7C1434.2,175.1 1432.9,175.2 1432.5,175.9C1432.1,176.6 1432.9,177.8 1432.9,178.8C1433.0,179.7 1432.5,180.8 1432.8,181.7C1433.1,182.5 1434.5,184.0 1434.6,184.0C1434.7,183.9 1433.7,182.3 1433.2,181.4C1432.7,180.6 1431.9,179.8 1431.8,178.9C1431.6,178.0 1431.8,176.9 1432.2,176.0C1432.5,175.2 1433.2,174.0 1433.9,173.7C1434.7,173.5 1436.6,174.2 1436.7,174.6C1436.8,175.0 1435.2,176.0 1434.3,176.3C1433.4,176.5 1432.2,175.9 1431.4,176.2C1430.6,176.5 1429.7,177.4 1429.4,178.2C1429.0,179.0 1429.1,180.2 1429.3,181.1C1429.4,182.1 1429.7,183.8 1430.1,183.9C1430.6,184.0 1431.1,182.1 1431.8,181.5C1432.6,181.0 1433.7,180.8 1434.6,180.7C1435.6,180.6 1437.4,181.0 1437.5,180.7C1437.6,180.3 1435.7,179.1 1435.4,178.7" fill="none" stroke="#3a6520" stroke-width="1.25" stroke-linecap="round"/>
<circle cx="1449.2" cy="176.3" r="7.8" fill="#6aaf47"/>
<path d="M1447.0,177.8C1446.9,177.4 1446.5,176.0 1446.5,175.0C1446.4,174.0 1446.8,173.1 1446.7,172.1C1446.6,171.2 1446.0,169.3 1446.0,169.3C1446.1,169.3 1447.2,171.3 1447.0,172.0C1446.8,172.8 1445.4,173.1 1444.7,173.8C1444.1,174.5 1443.7,175.5 1443.3,176.3C1442.9,177.2 1441.9,178.5 1442.2,179.0C1442.5,179.5 1444.2,179.4 1445.1,179.2C1446.0,179.0 1447.1,178.6 1447.7,178.0C1448.4,177.4 1449.0,176.3 1449.0,175.4C1449.0,174.6 1448.4,173.3 1447.7,172.8C1447.0,172.3 1445.6,172.1 1444.8,172.4C1444.1,172.7 1443.5,174.0 1443.3,174.8C1443.0,175.7 1443.1,177.0 1443.5,177.7C1443.9,178.5 1445.3,178.7 1445.8,179.4C1446.4,180.2 1446.3,181.6 1447.0,182.1C1447.6,182.6 1449.0,182.0 1449.9,182.4C1450.7,182.8 1451.9,184.5 1452.0,184.4C1452.0,184.3 1451.1,182.3 1450.4,182.0C1449.6,181.6 1448.2,182.5 1447.5,182.2C1446.7,181.8 1446.4,180.1 1445.7,179.9C1444.9,179.7 1442.9,180.8 1442.9,180.7C1442.9,180.7 1445.1,180.4 1445.6,179.8C1446.1,179.1 1446.2,177.7 1445.9,176.9C1445.7,176.0 1444.1,175.5 1444.0,174.7C1443.9,173.9 1444.8,172.9 1445.4,172.1C1446.0,171.4 1447.0,171.1 1447.6,170.3C1448.2,169.6 1449.1,167.8 1449.0,167.8C1448.9,167.7 1447.6,169.1 1447.0,169.9C1446.4,170.6 1445.4,171.5 1445.4,172.3C1445.4,173.1 1446.6,173.9 1446.7,174.9C1446.9,175.8 1446.9,177.0 1446.4,177.7C1445.9,178.4 1444.6,179.0 1443.8,179.0C1442.9,179.0 1441.1,178.1 1441.1,177.8C1441.2,177.5 1443.0,177.1 1443.9,177.0C1444.9,176.9 1445.9,176.9 1446.8,177.2C1447.7,177.5 1448.4,178.7 1449.2,178.8C1450.1,178.9 1451.1,177.9 1452.0,177.9C1452.9,177.9 1453.8,178.5 1454.8,178.7C1455.7,179.0 1457.4,179.8 1457.6,179.5C1457.7,179.3 1456.3,178.0 1455.6,177.4C1454.8,176.9 1453.8,176.7 1452.9,176.4C1451.9,176.1 1450.6,176.4 1450.0,175.8C1449.4,175.3 1449.4,174.0 1449.4,173.0C1449.3,172.1 1449.4,171.0 1449.6,170.1C1449.9,169.2 1450.9,167.5 1450.9,167.5C1450.9,167.5 1449.8,169.2 1449.5,170.1C1449.2,171.0 1448.8,172.3 1449.2,172.9C1449.6,173.6 1450.9,174.0 1451.8,174.1C1452.8,174.1 1453.7,173.2 1454.6,173.3C1455.5,173.4 1457.2,174.7 1457.2,174.7C1457.2,174.7 1455.3,174.1 1454.5,173.6C1453.7,173.0 1453.2,172.2 1452.5,171.5C1451.8,170.8 1450.7,169.4 1450.3,169.6C1450.0,169.7 1450.3,171.5 1450.5,172.5C1450.7,173.4 1451.6,174.3 1451.5,175.2C1451.5,176.0 1450.5,176.8 1450.0,177.7C1449.6,178.5 1449.4,179.6 1448.9,180.3C1448.3,181.1 1446.8,182.3 1446.7,182.3C1446.7,182.2 1448.2,180.8 1448.4,179.9C1448.7,179.0 1447.8,177.8 1448.1,177.0C1448.4,176.2 1449.4,175.1 1450.2,174.9C1451.0,174.7 1452.2,175.3 1452.9,175.8C1453.7,176.3 1454.1,177.7 1454.9,177.9C1455.7,178.2 1457.7,177.4 1457.7,177.1C1457.7,176.8 1455.6,176.8 1454.9,176.2C1454.2,175.6 1453.8,174.6 1453.5,173.7C1453.1,172.8 1453.2,171.4 1452.6,170.9C1452.0,170.4 1450.4,170.5 1449.7,170.9C1449.0,171.3 1448.5,173.0 1448.2,173.4" fill="none" stroke="#3a6520" stroke-width="1.25" stroke-linecap="round"/>
<circle cx="1517.2" cy="176.3" r="7.8" fill="#6aaf47"/>
<path d="M1519.0,179.3C1518.5,179.4 1517.1,179.6 1516.1,179.7C1515.1,179.8 1513.8,179.4 1513.2,179.9C1512.6,180.4 1512.1,181.9 1512.3,182.7C1512.5,183.5 1513.6,184.6 1514.4,184.7C1515.2,184.9 1516.2,183.9 1517.1,183.7C1518.0,183.6 1519.3,184.4 1520.0,184.0C1520.6,183.6 1520.8,182.2 1521.0,181.3C1521.3,180.4 1521.0,179.2 1521.4,178.4C1521.8,177.6 1522.6,176.5 1523.3,176.3C1524.1,176.0 1526.1,177.1 1526.2,176.9C1526.3,176.7 1524.7,175.7 1523.9,175.2C1523.1,174.6 1522.1,174.2 1521.5,173.5C1520.8,172.8 1520.1,171.8 1520.1,171.0C1520.1,170.1 1521.2,168.4 1521.6,168.5C1522.0,168.5 1522.6,170.5 1522.4,171.3C1522.2,172.1 1520.7,172.5 1520.4,173.4C1520.0,174.2 1520.9,175.6 1520.5,176.3C1520.1,177.0 1518.9,177.4 1518.0,177.6C1517.0,177.7 1516.0,177.0 1515.1,177.0C1514.2,177.1 1513.1,178.1 1512.3,177.9C1511.6,177.6 1510.7,176.3 1510.7,175.5C1510.7,174.7 1512.4,173.9 1512.4,173.2C1512.4,172.4 1510.7,170.8 1510.6,170.9C1510.6,170.9 1511.3,172.8 1512.0,173.4C1512.7,174.0 1513.8,174.2 1514.7,174.6C1515.6,174.9 1516.5,175.6 1517.4,175.6C1518.3,175.6 1519.2,174.4 1520.1,174.5C1521.0,174.5 1521.8,175.7 1522.7,175.8C1523.6,175.9 1525.4,174.9 1525.5,175.0C1525.5,175.1 1523.7,175.9 1522.9,176.4C1522.1,176.9 1520.9,177.3 1520.6,178.1C1520.3,178.8 1521.5,180.2 1521.1,180.9C1520.8,181.6 1519.4,181.8 1518.7,182.4C1517.9,183.0 1516.7,184.6 1516.8,184.6C1516.9,184.7 1518.3,183.4 1519.0,182.7C1519.7,182.1 1520.8,181.4 1521.0,180.6C1521.2,179.8 1520.8,178.4 1520.1,177.9C1519.5,177.3 1518.2,177.5 1517.3,177.1C1516.4,176.8 1515.6,176.3 1514.8,175.8C1514.0,175.2 1512.8,174.7 1512.6,173.9C1512.3,173.1 1512.9,172.0 1513.2,171.1C1513.6,170.2 1514.0,169.2 1514.7,168.6C1515.4,168.0 1516.9,167.2 1517.4,167.5C1517.9,167.8 1517.5,169.5 1517.8,170.4C1518.1,171.3 1519.2,172.0 1519.3,172.9C1519.4,173.7 1519.2,175.2 1518.6,175.7C1518.0,176.2 1516.4,176.4 1515.7,176.0C1515.0,175.6 1514.6,174.3 1514.4,173.4C1514.1,172.5 1514.3,171.5 1514.3,170.5C1514.4,169.5 1514.2,167.8 1514.6,167.6C1515.1,167.4 1516.6,168.6 1517.0,169.3C1517.3,170.1 1516.7,171.3 1516.7,172.2C1516.7,173.2 1516.7,174.3 1517.2,175.1C1517.6,175.9 1518.6,176.6 1519.5,176.9C1520.3,177.1 1521.4,176.5 1522.3,176.4C1523.3,176.3 1525.1,176.6 1525.2,176.3C1525.3,176.0 1523.7,175.0 1522.9,174.5C1522.1,174.0 1521.2,173.6 1520.3,173.3C1519.4,173.0 1518.3,173.1 1517.5,172.7C1516.6,172.3 1516.0,171.4 1515.1,171.0C1514.2,170.6 1512.7,170.0 1512.3,170.4C1511.8,170.8 1511.8,172.6 1512.2,173.3C1512.6,174.0 1514.1,174.0 1514.7,174.7C1515.4,175.4 1516.0,176.3 1516.1,177.2C1516.3,178.2 1515.6,179.2 1515.8,180.1C1516.0,181.0 1517.0,181.7 1517.4,182.5C1517.7,183.4 1518.0,185.4 1517.9,185.4C1517.8,185.4 1516.8,183.6 1516.8,182.7C1516.8,181.8 1517.4,180.6 1518.1,180.1C1518.8,179.7 1520.5,179.9 1521.0,179.8" fill="none" stroke="#3a6520" stroke-width="1.25" stroke-linecap="round"/>
<circle cx="1536.6" cy="176.3" r="7.8" fill="#6aaf47"/>
<path d="M1540.6,178.0C1540.5,177.5 1540.0,176.1 1540.0,175.2C1540.0,174.3 1540.4,173.3 1540.8,172.4C1541.1,171.5 1542.3,170.2 1542.0,169.8C1541.8,169.4 1540.0,169.7 1539.1,170.0C1538.3,170.4 1537.6,171.2 1536.8,171.7C1536.0,172.3 1534.9,172.6 1534.4,173.4C1533.9,174.1 1533.7,175.4 1533.9,176.2C1534.2,177.0 1535.3,177.7 1536.1,178.2C1536.9,178.7 1538.3,178.6 1538.8,179.3C1539.3,180.0 1539.4,182.1 1539.2,182.2C1538.9,182.3 1537.3,180.8 1537.2,180.0C1537.1,179.3 1537.9,178.0 1538.6,177.5C1539.3,176.9 1540.5,177.1 1541.4,176.8C1542.3,176.4 1543.6,176.0 1543.9,175.3C1544.2,174.6 1543.6,173.4 1543.4,172.4C1543.2,171.5 1543.2,170.3 1542.7,169.6C1542.1,168.9 1541.0,168.1 1540.2,168.1C1539.4,168.1 1538.5,169.1 1537.7,169.6C1536.9,170.2 1536.2,170.8 1535.4,171.4C1534.7,172.0 1533.5,172.6 1533.3,173.4C1533.1,174.1 1533.7,175.6 1534.4,176.0C1535.0,176.5 1536.3,176.4 1537.3,176.2C1538.2,176.1 1539.1,175.0 1540.0,175.1C1540.8,175.2 1541.5,176.6 1542.4,176.8C1543.2,176.9 1544.7,176.5 1545.1,175.9C1545.6,175.3 1545.4,173.1 1545.1,173.0C1544.8,172.9 1543.8,174.4 1543.2,175.2C1542.6,176.0 1542.3,177.1 1541.5,177.5C1540.7,178.0 1539.6,178.1 1538.7,178.0C1537.7,177.9 1536.9,177.2 1535.9,177.0C1535.0,176.9 1533.8,176.6 1533.0,176.9C1532.2,177.2 1531.3,178.2 1531.0,179.0C1530.7,179.8 1530.8,181.8 1531.0,181.9C1531.3,182.0 1531.8,179.8 1532.5,179.4C1533.2,179.0 1534.4,179.7 1535.4,179.7C1536.3,179.7 1537.3,179.4 1538.3,179.4C1539.2,179.3 1540.2,179.5 1541.1,179.5C1542.1,179.5 1544.0,179.5 1544.0,179.2C1544.1,179.0 1542.3,178.2 1541.4,178.0C1540.5,177.7 1539.4,177.5 1538.5,177.7C1537.6,177.9 1536.9,179.1 1536.1,179.2C1535.2,179.3 1533.8,178.8 1533.4,178.2C1532.9,177.5 1533.6,176.2 1533.3,175.3C1533.1,174.4 1532.3,173.6 1531.9,172.8C1531.4,171.9 1530.5,170.2 1530.4,170.2C1530.4,170.3 1531.4,172.1 1531.3,173.0C1531.2,173.9 1529.7,175.1 1529.9,175.5C1530.2,176.0 1531.9,176.0 1532.8,175.9C1533.7,175.7 1535.0,175.2 1535.4,174.5C1535.8,173.8 1535.4,172.5 1535.3,171.6C1535.1,170.7 1534.3,168.9 1534.5,168.8C1534.6,168.8 1535.7,170.4 1535.9,171.3C1536.1,172.2 1535.4,173.3 1535.6,174.2C1535.8,175.1 1536.3,176.1 1537.0,176.8C1537.7,177.4 1538.7,177.7 1539.7,177.9C1540.6,178.1 1541.8,177.7 1542.5,178.2C1543.3,178.6 1544.2,180.2 1543.9,180.7C1543.7,181.2 1541.9,180.6 1541.1,181.0C1540.3,181.4 1539.4,183.3 1539.1,183.2C1538.9,183.1 1539.4,181.3 1539.5,180.3C1539.5,179.3 1539.6,178.3 1539.3,177.4C1539.0,176.5 1538.1,175.9 1537.6,175.0C1537.1,174.2 1536.9,173.2 1536.4,172.4C1535.9,171.6 1535.5,170.4 1534.7,170.0C1534.0,169.7 1532.1,169.7 1531.8,170.2C1531.5,170.7 1532.3,172.2 1532.8,172.9C1533.4,173.7 1534.3,174.2 1535.1,174.7C1535.9,175.2 1537.0,175.4 1537.6,176.1C1538.3,176.8 1538.2,178.1 1538.8,178.8C1539.5,179.4 1541.0,179.8 1541.4,180.0" fill="none" stroke="#3a6520" stroke-width="1.25" stroke-linecap="round"/>
<circle cx="1556.3" cy="176.3" r="7.8" fill="#6aaf47"/>
<path d="M1557.9,179.4C1557.5,179.6 1555.7,179.9 1555.3,180.6C1554.9,181.3 1555.1,183.4 1555.3,183.5C1555.4,183.5 1555.8,181.6 1556.3,180.7C1556.7,179.9 1557.9,179.2 1557.9,178.4C1558.0,177.5 1557.3,176.2 1556.5,175.8C1555.8,175.4 1554.4,176.4 1553.7,176.0C1552.9,175.7 1552.7,173.9 1552.0,173.6C1551.2,173.4 1549.2,174.3 1549.1,174.2C1549.1,174.2 1551.0,173.6 1551.9,173.4C1552.9,173.2 1553.8,173.1 1554.8,173.0C1555.7,172.8 1556.8,172.8 1557.6,172.4C1558.5,172.0 1559.8,170.5 1559.9,170.6C1560.0,170.7 1558.9,172.7 1558.1,172.9C1557.4,173.2 1555.9,172.7 1555.3,172.1C1554.8,171.5 1555.1,169.3 1554.7,169.3C1554.4,169.2 1553.7,170.9 1553.3,171.8C1553.0,172.7 1552.5,173.7 1552.6,174.6C1552.7,175.5 1553.4,176.6 1554.1,177.1C1554.8,177.6 1556.0,177.9 1556.9,177.8C1557.8,177.6 1558.9,177.0 1559.4,176.3C1559.9,175.6 1559.7,174.4 1559.9,173.5C1560.1,172.5 1560.8,170.9 1560.5,170.6C1560.1,170.3 1558.7,171.6 1557.8,171.8C1556.9,172.0 1555.7,172.2 1554.9,171.8C1554.1,171.4 1553.6,169.4 1553.2,169.5C1552.8,169.6 1552.3,171.5 1552.5,172.3C1552.7,173.1 1554.1,173.7 1554.4,174.5C1554.6,175.4 1553.7,176.5 1553.9,177.4C1554.1,178.3 1554.8,179.3 1555.6,179.7C1556.3,180.2 1557.5,180.0 1558.5,180.0C1559.4,180.0 1560.5,179.6 1561.4,179.8C1562.3,180.0 1563.6,181.4 1563.9,181.2C1564.3,180.9 1563.5,179.3 1563.6,178.3C1563.6,177.4 1564.6,175.9 1564.2,175.5C1563.9,175.0 1562.2,175.2 1561.3,175.6C1560.5,175.9 1560.2,177.3 1559.4,177.7C1558.6,178.1 1557.1,177.4 1556.5,177.8C1555.9,178.3 1556.3,180.1 1555.7,180.6C1555.1,181.1 1553.7,180.5 1552.8,180.9C1551.9,181.2 1550.6,182.7 1550.4,182.5C1550.3,182.4 1551.5,180.9 1551.8,180.0C1552.2,179.1 1552.6,178.1 1552.5,177.2C1552.5,176.3 1551.5,175.4 1551.4,174.5C1551.4,173.6 1552.3,172.7 1552.3,171.7C1552.4,170.8 1552.0,168.9 1551.7,168.9C1551.5,168.9 1551.5,171.1 1550.9,171.7C1550.3,172.3 1548.3,171.9 1548.1,172.4C1547.9,173.0 1548.9,174.6 1549.6,174.9C1550.3,175.2 1551.5,174.4 1552.5,174.4C1553.4,174.4 1554.6,174.4 1555.3,174.8C1556.1,175.3 1556.6,176.3 1557.0,177.2C1557.4,178.1 1557.2,179.1 1557.6,180.0C1557.9,180.9 1559.1,182.5 1559.1,182.5C1559.1,182.5 1558.0,180.9 1557.6,180.0C1557.3,179.1 1557.2,178.1 1556.9,177.2C1556.6,176.3 1556.4,175.3 1555.9,174.5C1555.4,173.7 1554.6,173.0 1553.8,172.5C1553.0,172.0 1551.1,171.7 1551.1,171.5C1551.1,171.3 1553.0,171.0 1554.0,171.1C1554.9,171.1 1556.2,171.2 1556.8,171.8C1557.3,172.3 1556.9,173.8 1557.3,174.6C1557.7,175.5 1559.0,176.0 1559.1,176.8C1559.2,177.6 1557.7,178.7 1557.8,179.4C1557.9,180.2 1559.3,180.7 1559.9,181.4C1560.6,182.1 1561.5,183.7 1561.9,183.6C1562.2,183.4 1562.0,181.6 1561.9,180.7C1561.7,179.7 1561.5,178.5 1560.9,177.9C1560.3,177.4 1559.0,177.6 1558.1,177.2C1557.2,176.8 1556.5,176.1 1555.6,175.7C1554.7,175.4 1553.3,175.1 1552.8,175.0" fill="none" stroke="#3a6520" stroke-width="1.25" stroke-linecap="round"/>
<circle cx="1774.6" cy="176.3" r="7.8" fill="#6aaf47"/>
<path d="M1774.5,175.2C1774.4,174.7 1774.7,173.0 1774.2,172.3C1773.7,171.6 1772.5,171.4 1771.6,170.9C1770.8,170.5 1769.5,169.4 1769.0,169.7C1768.6,170.0 1769.2,171.7 1769.0,172.6C1768.8,173.5 1767.7,174.5 1767.8,175.2C1768.0,176.0 1769.5,176.4 1770.0,177.2C1770.4,178.0 1770.2,179.1 1770.5,180.0C1770.8,180.9 1771.0,182.2 1771.7,182.7C1772.4,183.2 1773.6,183.0 1774.6,183.0C1775.5,183.0 1776.5,182.8 1777.4,182.5C1778.3,182.2 1780.1,181.6 1780.1,181.4C1780.1,181.2 1778.0,181.1 1777.2,181.5C1776.4,181.8 1775.9,183.1 1775.1,183.5C1774.3,183.9 1773.2,183.7 1772.2,183.7C1771.3,183.6 1769.6,183.8 1769.3,183.4C1769.1,182.9 1770.2,181.6 1770.8,180.8C1771.3,180.1 1772.3,179.6 1772.9,178.8C1773.4,178.0 1773.3,176.8 1773.8,176.1C1774.4,175.4 1775.9,175.3 1776.3,174.5C1776.7,173.8 1776.0,172.4 1776.4,171.6C1776.8,170.9 1778.4,170.0 1778.9,170.2C1779.4,170.4 1779.2,172.1 1779.3,173.1C1779.5,174.0 1780.0,175.3 1779.5,176.0C1779.1,176.6 1777.6,176.5 1776.8,177.0C1776.0,177.5 1774.9,178.1 1774.6,178.9C1774.4,179.7 1775.0,180.9 1775.4,181.7C1775.8,182.6 1776.3,183.8 1777.0,184.1C1777.8,184.4 1779.3,184.2 1779.9,183.7C1780.5,183.1 1780.1,181.6 1780.6,180.9C1781.1,180.1 1783.1,179.5 1783.0,179.2C1782.9,178.9 1780.7,179.6 1780.1,179.2C1779.4,178.7 1779.4,177.3 1779.1,176.4C1778.8,175.5 1778.6,174.5 1778.1,173.7C1777.5,172.9 1776.5,172.5 1775.9,171.8C1775.4,171.0 1775.0,169.1 1774.7,169.2C1774.4,169.2 1774.3,171.1 1774.0,172.0C1773.6,172.9 1773.0,173.7 1772.6,174.5C1772.1,175.3 1771.1,176.2 1771.1,177.0C1771.2,177.8 1772.8,178.3 1773.1,179.2C1773.3,180.0 1772.6,181.1 1772.5,182.0C1772.4,183.0 1772.1,184.9 1772.2,184.9C1772.4,185.0 1773.0,183.2 1773.5,182.3C1773.9,181.4 1774.6,180.6 1774.8,179.7C1775.1,178.8 1775.4,177.6 1775.0,176.8C1774.6,176.1 1773.4,175.8 1772.5,175.4C1771.6,175.0 1770.7,174.9 1769.8,174.5C1768.9,174.1 1767.1,173.6 1767.1,173.3C1767.1,173.0 1769.0,172.5 1769.9,172.5C1770.8,172.6 1771.7,173.6 1772.6,173.7C1773.5,173.8 1774.4,172.9 1775.4,172.9C1776.3,173.0 1777.4,173.5 1778.0,174.2C1778.6,174.8 1778.3,176.5 1779.0,176.9C1779.6,177.3 1781.2,176.3 1781.8,176.7C1782.5,177.1 1783.1,179.1 1782.8,179.5C1782.5,179.8 1780.9,178.9 1780.0,178.6C1779.2,178.2 1778.4,177.6 1777.5,177.3C1776.5,177.0 1775.5,176.9 1774.6,176.9C1773.6,176.8 1772.4,176.6 1771.7,177.1C1771.0,177.5 1771.0,178.9 1770.5,179.7C1770.0,180.5 1768.7,181.9 1768.6,181.9C1768.6,181.9 1769.9,180.5 1770.4,179.6C1770.9,178.8 1771.0,177.5 1771.7,177.0C1772.3,176.6 1773.6,177.1 1774.6,176.9C1775.5,176.6 1776.7,176.3 1777.2,175.6C1777.6,175.0 1777.4,173.7 1777.3,172.8C1777.1,171.8 1776.5,170.0 1776.3,170.0C1776.1,170.0 1776.4,172.0 1776.1,172.9C1775.8,173.8 1775.3,174.9 1774.6,175.4C1773.8,175.9 1772.7,175.9 1771.7,175.8C1770.8,175.8 1769.4,175.2 1768.9,175.1" fill="none" stroke="#3a6520" stroke-width="1.25" stroke-linecap="round"/>
<circle cx="1794.3" cy="176.3" r="7.8" fill="#6aaf47"/>
<path d="M1792.8,172.0C1793.3,172.1 1795.0,172.0 1795.7,172.6C1796.3,173.2 1796.6,174.5 1796.6,175.4C1796.5,176.3 1795.8,177.1 1795.4,178.0C1794.9,178.9 1794.8,180.2 1794.1,180.6C1793.4,181.0 1792.1,180.5 1791.3,180.2C1790.4,179.8 1789.8,178.6 1788.9,178.5C1788.1,178.3 1786.2,179.5 1786.2,179.4C1786.2,179.4 1788.0,178.1 1788.8,178.2C1789.6,178.2 1790.6,179.0 1791.2,179.7C1791.8,180.4 1792.2,181.5 1792.5,182.4C1792.8,183.3 1792.7,185.0 1793.2,185.2C1793.7,185.3 1794.7,184.0 1795.4,183.3C1796.0,182.6 1797.0,181.8 1797.1,180.9C1797.2,180.1 1796.6,178.7 1795.9,178.3C1795.2,177.8 1794.0,178.3 1793.0,178.3C1792.0,178.2 1791.0,177.8 1790.1,177.9C1789.2,178.1 1788.3,179.3 1787.5,179.2C1786.8,179.0 1785.4,177.3 1785.6,177.0C1785.7,176.8 1787.6,177.9 1788.4,177.7C1789.2,177.5 1790.5,176.7 1790.7,175.9C1790.9,175.2 1790.2,173.8 1789.6,173.2C1788.9,172.6 1786.9,172.1 1786.8,172.2C1786.8,172.3 1788.4,173.7 1789.2,173.8C1790.1,174.0 1791.3,172.8 1792.0,173.0C1792.8,173.3 1793.0,174.7 1793.7,175.4C1794.3,176.1 1795.2,176.6 1795.8,177.4C1796.4,178.1 1796.8,179.0 1797.3,179.9C1797.8,180.7 1798.7,182.4 1798.8,182.3C1798.9,182.3 1798.4,180.3 1797.9,179.6C1797.4,178.8 1796.0,178.4 1795.8,177.6C1795.6,176.8 1796.1,175.4 1796.8,174.9C1797.4,174.3 1798.8,173.9 1799.6,174.1C1800.4,174.4 1801.5,176.3 1801.5,176.3C1801.5,176.3 1799.7,175.1 1799.4,174.3C1799.0,173.5 1799.5,172.4 1799.3,171.4C1799.1,170.5 1798.7,168.9 1798.2,168.8C1797.7,168.7 1796.8,170.1 1796.2,170.8C1795.6,171.6 1795.4,172.8 1794.7,173.3C1794.0,173.9 1792.5,173.7 1792.0,174.3C1791.5,174.9 1791.4,176.4 1791.7,177.2C1792.0,178.0 1793.5,178.3 1793.9,179.1C1794.3,179.9 1793.8,181.1 1794.1,182.0C1794.3,182.9 1795.4,184.5 1795.2,184.7C1795.0,184.9 1793.4,183.7 1792.8,183.0C1792.2,182.3 1792.0,181.0 1791.3,180.6C1790.6,180.2 1788.6,181.0 1788.4,180.6C1788.2,180.3 1789.5,179.0 1790.2,178.3C1790.9,177.7 1791.7,176.9 1792.5,176.7C1793.4,176.5 1794.9,176.6 1795.4,177.1C1796.0,177.7 1795.9,179.0 1795.9,180.0C1795.8,180.9 1795.4,182.7 1795.0,182.7C1794.5,182.8 1793.9,181.1 1793.2,180.5C1792.4,179.9 1791.2,179.9 1790.5,179.2C1789.9,178.6 1789.7,177.5 1789.1,176.7C1788.6,175.9 1787.3,174.6 1787.5,174.3C1787.7,174.0 1789.8,174.3 1790.3,174.9C1790.9,175.5 1790.3,177.2 1790.8,177.7C1791.4,178.3 1792.8,178.0 1793.7,178.1C1794.7,178.2 1795.7,178.4 1796.6,178.2C1797.6,178.1 1798.5,177.7 1799.4,177.3C1800.2,176.9 1801.7,176.2 1801.7,175.6C1801.7,175.1 1799.7,174.7 1799.4,173.9C1799.0,173.2 1800.3,171.5 1799.9,171.1C1799.5,170.6 1797.9,171.0 1797.0,171.3C1796.1,171.5 1795.2,172.1 1794.4,172.6C1793.6,173.1 1792.6,173.6 1792.0,174.2C1791.4,174.9 1790.7,175.9 1790.6,176.8C1790.4,177.7 1790.6,178.8 1791.0,179.6C1791.4,180.5 1792.5,180.9 1793.0,181.8C1793.4,182.6 1793.6,184.1 1793.7,184.6" fill="none" stroke="#3a6520" stroke-width="1.25" stroke-linecap="round"/>
<circle cx="1814" cy="176.3" r="7.8" fill="#6aaf47"/>
<path d="M1816.9,179.5C1816.8,179.0 1815.9,177.5 1816.0,176.7C1816.2,175.9 1817.3,174.8 1818.1,174.7C1818.9,174.5 1820.8,175.6 1820.8,175.6C1820.8,175.5 1819.1,174.4 1818.2,174.3C1817.3,174.3 1816.4,175.5 1815.5,175.4C1814.6,175.3 1813.7,174.6 1813.0,174.0C1812.2,173.4 1811.8,172.4 1811.0,171.8C1810.3,171.2 1808.6,170.3 1808.5,170.3C1808.5,170.4 1810.0,171.6 1810.9,172.1C1811.7,172.6 1812.7,172.9 1813.4,173.5C1814.1,174.1 1814.6,175.1 1815.3,175.7C1816.0,176.4 1816.9,176.8 1817.6,177.5C1818.3,178.1 1818.5,179.4 1819.3,179.8C1820.1,180.2 1822.0,180.3 1822.2,179.9C1822.4,179.6 1820.6,178.5 1820.4,177.6C1820.2,176.8 1820.9,175.7 1821.0,174.8C1821.1,173.8 1821.3,172.5 1820.8,171.9C1820.3,171.3 1819.0,171.1 1818.0,171.0C1817.1,170.8 1816.0,170.7 1815.1,170.9C1814.3,171.2 1813.5,172.0 1812.8,172.6C1812.1,173.3 1811.6,174.2 1810.8,174.7C1810.0,175.2 1809.0,175.4 1808.1,175.7C1807.1,176.0 1805.3,176.7 1805.3,176.5C1805.2,176.3 1807.3,175.5 1807.6,174.8C1807.9,174.0 1806.7,172.5 1807.1,171.9C1807.5,171.3 1809.0,171.6 1809.9,171.3C1810.8,171.0 1811.8,169.7 1812.5,169.9C1813.2,170.1 1813.4,171.8 1814.1,172.4C1814.8,173.0 1815.8,173.3 1816.7,173.6C1817.6,173.9 1818.8,174.3 1819.6,173.9C1820.3,173.6 1821.4,171.8 1821.3,171.6C1821.1,171.4 1819.5,172.3 1818.6,172.7C1817.7,173.1 1816.7,173.3 1815.9,173.9C1815.2,174.4 1814.9,175.5 1814.2,176.2C1813.5,176.8 1812.6,177.6 1811.7,177.7C1810.9,177.8 1809.5,177.4 1809.0,176.7C1808.5,176.1 1808.5,174.8 1808.6,173.9C1808.7,172.9 1809.4,172.1 1809.8,171.2C1810.2,170.4 1811.2,168.7 1811.2,168.7C1811.2,168.7 1809.9,170.3 1809.7,171.2C1809.5,172.1 1809.5,173.3 1809.9,174.1C1810.4,174.8 1812.0,174.9 1812.4,175.6C1812.8,176.3 1812.6,177.5 1812.5,178.5C1812.4,179.4 1811.8,180.4 1811.8,181.3C1811.9,182.2 1812.5,184.1 1812.7,184.1C1812.9,184.0 1812.5,181.8 1813.0,181.2C1813.5,180.5 1814.8,180.0 1815.7,180.0C1816.5,180.0 1817.9,180.5 1818.3,181.1C1818.8,181.8 1818.9,183.3 1818.5,184.0C1818.1,184.7 1816.5,185.5 1815.8,185.2C1815.2,185.0 1815.0,183.5 1814.8,182.5C1814.6,181.6 1814.9,180.6 1814.8,179.6C1814.7,178.7 1814.3,177.8 1814.2,176.8C1814.1,175.9 1814.1,174.8 1814.3,173.9C1814.5,173.0 1814.8,171.7 1815.5,171.3C1816.2,170.9 1817.4,171.4 1818.4,171.5C1819.4,171.6 1821.1,171.5 1821.3,172.0C1821.4,172.4 1819.6,173.2 1819.2,174.0C1818.8,174.9 1818.7,176.0 1818.8,176.9C1818.8,177.8 1819.9,178.8 1819.7,179.6C1819.6,180.5 1818.1,182.0 1817.9,181.9C1817.7,181.8 1818.0,179.8 1818.5,179.0C1819.0,178.3 1820.8,177.3 1820.8,177.2C1820.7,177.2 1819.0,178.1 1818.2,178.6C1817.4,179.2 1816.9,180.2 1816.0,180.5C1815.2,180.9 1814.0,181.0 1813.1,180.7C1812.3,180.4 1811.3,179.6 1810.9,178.8C1810.5,178.0 1810.4,176.8 1810.7,175.9C1810.9,175.0 1812.0,174.4 1812.3,173.5C1812.6,172.6 1812.5,171.1 1812.5,170.6" fill="none" stroke="#3a6520" stroke-width="1.25" stroke-linecap="round"/>
<circle cx="1882.7" cy="176.3" r="7.8" fill="#6aaf47"/>
<path d="M1880.9,174.4C1881.0,174.9 1880.8,176.5 1881.2,177.3C1881.6,178.1 1882.4,179.1 1883.3,179.4C1884.1,179.7 1885.3,179.5 1886.1,179.2C1887.0,178.9 1888.3,178.3 1888.6,177.6C1888.9,176.9 1887.6,175.6 1887.8,174.8C1888.1,174.0 1889.8,173.8 1890.1,173.0C1890.4,172.3 1889.8,170.3 1889.4,170.2C1889.0,170.1 1888.3,171.8 1887.8,172.6C1887.3,173.5 1887.2,174.8 1886.5,175.2C1885.8,175.7 1884.3,174.8 1883.6,175.3C1882.9,175.7 1882.7,177.0 1882.3,177.9C1881.9,178.7 1881.6,179.7 1881.2,180.5C1880.8,181.4 1880.0,183.1 1879.8,183.1C1879.6,183.0 1879.5,180.8 1880.0,180.2C1880.5,179.6 1882.1,179.8 1882.8,179.3C1883.5,178.7 1884.0,177.7 1884.3,176.8C1884.6,175.9 1884.2,174.7 1884.7,173.9C1885.2,173.2 1886.4,172.5 1887.2,172.5C1888.0,172.5 1889.6,174.0 1889.6,174.0C1889.6,174.0 1888.1,172.7 1887.2,172.5C1886.3,172.2 1885.2,172.7 1884.3,172.4C1883.4,172.2 1882.2,171.6 1881.8,170.9C1881.5,170.1 1881.8,168.1 1882.2,168.0C1882.6,167.8 1883.5,169.5 1884.2,170.0C1885.0,170.6 1886.3,170.6 1886.9,171.2C1887.5,171.9 1888.2,173.1 1888.1,173.9C1887.9,174.7 1886.8,175.3 1886.0,175.9C1885.3,176.5 1884.4,177.4 1883.6,177.5C1882.7,177.5 1881.8,176.8 1880.9,176.3C1880.0,175.9 1879.3,175.3 1878.4,174.8C1877.6,174.3 1876.2,174.2 1875.8,173.5C1875.4,172.8 1875.6,170.9 1876.1,170.6C1876.6,170.3 1878.0,171.2 1878.8,171.7C1879.6,172.2 1880.1,173.1 1880.9,173.8C1881.6,174.4 1882.4,175.0 1883.3,175.4C1884.1,175.8 1885.2,176.4 1886.0,176.3C1886.9,176.1 1887.5,175.0 1888.3,174.5C1889.2,174.0 1890.9,173.2 1891.0,173.2C1891.0,173.3 1888.8,174.0 1888.5,174.8C1888.1,175.5 1888.8,176.7 1888.9,177.6C1889.1,178.6 1889.6,179.7 1889.4,180.5C1889.1,181.3 1888.1,181.9 1887.3,182.5C1886.6,183.2 1885.3,184.4 1884.9,184.2C1884.6,184.0 1885.5,182.1 1885.2,181.3C1884.9,180.5 1883.3,180.1 1883.1,179.3C1882.9,178.5 1883.7,177.4 1884.0,176.5C1884.3,175.6 1885.1,174.6 1885.0,173.8C1884.8,173.0 1884.0,171.8 1883.2,171.5C1882.4,171.2 1881.3,171.7 1880.3,171.8C1879.3,171.9 1878.2,171.9 1877.4,172.3C1876.7,172.8 1875.4,174.0 1875.5,174.5C1875.7,175.0 1877.4,175.6 1878.2,175.6C1879.1,175.5 1880.3,175.0 1880.8,174.3C1881.3,173.6 1881.1,172.3 1881.1,171.4C1881.2,170.4 1880.6,168.7 1881.0,168.5C1881.4,168.2 1882.8,169.8 1883.6,169.8C1884.4,169.7 1885.4,167.8 1885.9,168.0C1886.4,168.2 1887.0,170.1 1886.7,170.8C1886.4,171.5 1884.6,171.6 1884.3,172.4C1883.9,173.1 1884.3,174.4 1884.7,175.2C1885.1,176.1 1886.1,176.6 1886.5,177.5C1887.0,178.3 1887.5,179.6 1887.2,180.3C1886.9,181.0 1885.3,181.1 1884.8,181.9C1884.3,182.6 1884.8,184.2 1884.2,184.7C1883.7,185.3 1881.5,185.5 1881.4,185.3C1881.3,185.0 1883.0,184.1 1883.4,183.2C1883.9,182.4 1884.0,181.3 1883.9,180.4C1883.8,179.4 1882.9,178.4 1883.1,177.6C1883.3,176.8 1884.2,175.8 1885.0,175.4C1885.8,175.0 1887.4,175.1 1887.9,175.0" fill="none" stroke="#3a6520" stroke-width="1.25" stroke-linecap="round"/>
<circle cx="1901.4" cy="176.3" r="7.8" fill="#6aaf47"/>
<path d="M1899.0,177.2C1899.4,177.0 1901.0,176.6 1901.6,176.0C1902.3,175.3 1902.0,173.7 1902.7,173.3C1903.3,172.8 1904.6,173.1 1905.6,173.3C1906.5,173.6 1907.6,174.0 1908.1,174.8C1908.6,175.5 1908.8,177.5 1908.5,177.6C1908.2,177.8 1906.8,176.4 1906.5,175.5C1906.2,174.7 1906.8,173.5 1906.6,172.6C1906.4,171.7 1905.8,170.4 1905.1,170.1C1904.4,169.9 1903.0,170.7 1902.5,171.3C1901.9,172.0 1901.8,173.3 1901.9,174.2C1901.9,175.1 1902.2,176.4 1902.9,176.9C1903.5,177.4 1905.1,176.6 1905.7,177.1C1906.4,177.6 1906.7,179.0 1906.7,179.9C1906.6,180.8 1906.3,182.2 1905.7,182.6C1905.0,183.0 1903.6,182.6 1902.8,182.2C1902.0,181.8 1901.1,181.1 1900.7,180.2C1900.3,179.4 1900.1,178.3 1900.3,177.4C1900.4,176.5 1901.6,175.6 1901.5,174.8C1901.5,173.9 1899.9,173.2 1899.8,172.4C1899.8,171.6 1900.8,169.8 1901.1,169.8C1901.4,169.9 1901.6,171.7 1901.6,172.7C1901.5,173.6 1900.8,174.8 1901.1,175.5C1901.4,176.3 1903.1,176.4 1903.5,177.1C1903.9,177.9 1903.1,179.2 1903.5,180.0C1903.8,180.8 1904.8,181.7 1905.6,182.0C1906.4,182.2 1908.4,181.8 1908.4,181.4C1908.5,181.1 1906.8,180.5 1905.9,180.0C1905.1,179.5 1904.2,178.6 1903.4,178.6C1902.5,178.7 1901.7,180.2 1900.9,180.2C1900.1,180.1 1899.4,179.0 1898.5,178.5C1897.6,178.1 1896.2,178.2 1895.8,177.6C1895.3,176.9 1896.0,175.6 1895.8,174.7C1895.7,173.7 1894.8,171.9 1894.9,171.9C1894.9,171.9 1895.7,173.7 1896.0,174.6C1896.3,175.5 1896.2,176.6 1896.7,177.4C1897.1,178.3 1897.8,179.1 1898.5,179.6C1899.3,180.1 1900.4,180.5 1901.3,180.5C1902.2,180.4 1903.1,179.8 1904.0,179.4C1904.9,179.1 1906.1,179.0 1906.7,178.3C1907.2,177.7 1907.6,176.3 1907.3,175.5C1907.0,174.7 1905.9,173.8 1905.1,173.7C1904.2,173.5 1903.2,174.6 1902.3,174.6C1901.4,174.6 1900.4,173.3 1899.6,173.5C1898.9,173.7 1898.6,175.5 1897.8,175.8C1897.1,176.1 1895.0,175.5 1895.0,175.4C1895.0,175.3 1897.2,175.8 1897.9,175.4C1898.5,174.9 1898.3,173.4 1898.9,172.7C1899.4,171.9 1900.9,171.7 1901.2,170.9C1901.4,170.2 1900.2,168.3 1900.4,168.1C1900.6,168.0 1901.7,169.6 1902.4,170.2C1903.1,170.9 1904.0,171.3 1904.6,172.1C1905.2,172.8 1905.8,173.8 1905.9,174.7C1906.0,175.6 1905.2,176.6 1905.2,177.5C1905.3,178.5 1905.3,179.8 1905.9,180.3C1906.5,180.9 1908.6,181.1 1908.8,180.8C1909.0,180.4 1907.9,179.0 1907.3,178.3C1906.7,177.5 1905.4,177.1 1905.2,176.3C1905.0,175.5 1906.2,174.5 1906.2,173.6C1906.3,172.6 1906.1,171.0 1905.5,170.7C1905.0,170.5 1903.3,171.3 1902.9,171.9C1902.5,172.6 1902.9,173.9 1903.2,174.8C1903.5,175.7 1904.1,176.5 1904.6,177.4C1905.1,178.2 1906.2,179.0 1906.2,179.8C1906.2,180.6 1905.2,181.4 1904.8,182.3C1904.4,183.2 1903.9,185.0 1903.7,185.0C1903.5,185.0 1903.3,183.0 1903.6,182.1C1903.8,181.2 1904.4,180.3 1905.1,179.6C1905.7,178.9 1906.6,178.0 1907.4,177.9C1908.2,177.8 1910.1,179.0 1910.0,179.2C1910.0,179.3 1907.6,178.8 1907.2,178.7" fill="none" stroke="#3a6520" stroke-width="1.25" stroke-linecap="round"/>
<circle cx="1921.2" cy="176.3" r="7.8" fill="#6aaf47"/>
<path d="M1916.8,175.1C1917.0,174.6 1917.8,173.4 1918.0,172.4C1918.2,171.5 1917.8,169.6 1918.0,169.5C1918.3,169.5 1919.0,171.2 1919.4,172.1C1919.9,172.9 1920.5,173.7 1920.9,174.6C1921.4,175.4 1922.2,176.5 1922.0,177.2C1921.9,178.0 1920.2,178.3 1919.9,179.1C1919.5,179.9 1920.3,181.2 1919.9,182.0C1919.6,182.9 1918.2,184.2 1917.9,184.1C1917.5,183.9 1918.2,181.9 1917.7,181.2C1917.3,180.5 1915.9,180.6 1915.0,180.1C1914.2,179.6 1912.7,178.4 1912.8,178.2C1912.9,178.0 1914.7,178.8 1915.7,178.8C1916.6,178.9 1917.6,178.8 1918.5,178.5C1919.4,178.3 1920.2,177.4 1921.1,177.2C1922.0,176.9 1923.1,176.8 1924.0,177.1C1924.8,177.4 1925.4,178.9 1926.2,179.0C1927.0,179.0 1928.6,178.1 1928.7,177.5C1928.9,176.8 1927.4,176.0 1927.1,175.1C1926.8,174.2 1926.9,172.2 1926.8,172.2C1926.7,172.2 1926.4,174.2 1926.6,175.1C1926.7,176.0 1927.8,176.7 1928.0,177.6C1928.1,178.5 1928.2,180.2 1927.7,180.5C1927.2,180.8 1925.8,180.0 1925.0,179.5C1924.1,179.1 1923.0,178.7 1922.5,178.0C1922.1,177.2 1922.3,176.0 1922.2,175.1C1922.1,174.1 1922.4,173.0 1922.0,172.2C1921.6,171.3 1920.8,170.6 1920.1,170.0C1919.3,169.5 1917.7,168.7 1917.3,169.1C1916.9,169.4 1917.4,171.0 1917.6,172.0C1917.7,172.9 1917.9,174.0 1918.5,174.7C1919.0,175.5 1920.1,175.8 1920.8,176.4C1921.6,177.0 1922.1,178.1 1923.0,178.3C1923.8,178.6 1925.1,177.8 1925.9,178.2C1926.6,178.5 1927.3,180.7 1927.5,180.6C1927.6,180.5 1926.5,178.6 1926.7,177.8C1927.0,177.0 1928.6,176.9 1929.1,176.1C1929.5,175.3 1929.4,173.2 1929.3,173.2C1929.1,173.2 1928.7,175.2 1928.1,175.9C1927.5,176.5 1926.5,176.9 1925.6,177.3C1924.7,177.7 1923.8,178.0 1923.0,178.5C1922.1,179.0 1921.6,180.0 1920.7,180.3C1919.8,180.6 1918.8,180.4 1917.8,180.3C1916.8,180.2 1915.6,180.2 1915.0,179.6C1914.3,179.1 1913.5,177.3 1913.8,177.0C1914.0,176.7 1915.6,177.6 1916.5,177.9C1917.4,178.3 1918.5,179.0 1919.3,178.8C1920.1,178.7 1921.1,177.6 1921.3,176.8C1921.5,176.0 1920.9,174.8 1920.4,174.0C1919.9,173.2 1918.9,172.8 1918.2,172.1C1917.5,171.5 1916.6,169.9 1916.3,170.0C1915.9,170.1 1916.0,172.0 1916.2,172.9C1916.3,173.8 1916.7,174.9 1917.2,175.6C1917.8,176.3 1919.2,176.6 1919.6,177.3C1919.9,178.1 1919.6,179.3 1919.4,180.2C1919.2,181.2 1918.4,182.9 1918.3,182.9C1918.2,182.9 1918.9,181.0 1918.8,180.1C1918.8,179.1 1917.7,178.0 1918.0,177.3C1918.3,176.6 1919.7,175.7 1920.5,175.7C1921.3,175.8 1922.0,176.9 1922.8,177.4C1923.6,178.0 1924.5,178.4 1925.2,179.1C1925.9,179.7 1927.3,180.8 1927.2,181.2C1927.0,181.6 1925.0,180.9 1924.3,181.3C1923.5,181.7 1923.4,183.2 1922.6,183.7C1921.9,184.1 1919.9,184.4 1919.8,184.1C1919.6,183.8 1920.9,182.4 1921.7,181.9C1922.5,181.4 1923.5,181.3 1924.4,180.9C1925.3,180.5 1926.7,180.4 1927.1,179.7C1927.5,179.1 1927.2,177.6 1926.7,176.9C1926.2,176.2 1925.0,175.7 1924.1,175.6C1923.2,175.6 1921.8,176.4 1921.4,176.6" fill="none" stroke="#3a6520" stroke-width="1.25" stroke-linecap="round"/>
<path d="M1484.2,157 L1484.2,71.4 L1847.7,71.4 L1847.7,157" fill="none" stroke="#000" stroke-width="4.2"/>
<line x1="1665.7" y1="71.4" x2="1665.7" y2="31" stroke="#000" stroke-width="8.6"/>
<path d="M1484.2,156.8 L1504.2,176.8 L1484.2,196.8 L1464.2,176.8 Z" fill="#eeebe3" stroke="#000" stroke-width="4"/>
<path d="M1847.7,156.8 L1867.7,176.8 L1847.7,196.8 L1827.7,176.8 Z" fill="#eeebe3" stroke="#000" stroke-width="4"/>
<path d="M1652,23.5 A32,20 0 1 0 1680,23.5" fill="none" stroke="#000" stroke-width="4.6"/>
<path d="M1661,19.4 L1648.3,19.2 L1652.5,29.8 Z" fill="#000"/>
<path d="M1674.2,18.1 L1686.8,20.2 L1680.5,29.8 Z" fill="#000"/>
<path d="M1589.8,208.9 A12.4,12.4 0 0 1 1614.6,208.9 L1614.6,269.5 A22.4,22.4 0 1 1 1589.8,269.5 Z" fill="#000"/>
<path d="M1593.8,208.9 A8.4,8.4 0 0 1 1610.6,208.9 L1610.6,271.8 A18.4,18.4 0 1 1 1593.8,271.8 Z" fill="#fff"/>
<rect x="1597.7" y="251.6" width="9.0" height="36.6" rx="4.5" fill="#3547d1"/>
<circle cx="1602.2" cy="287.7" r="14.8" fill="#3547d1"/>
<line x1="1613.6" y1="216.8" x2="1623.2" y2="216.8" stroke="#000" stroke-width="3.7" stroke-linecap="round"/>
<line x1="1613.6" y1="227.8" x2="1619.9" y2="227.8" stroke="#000" stroke-width="3.7" stroke-linecap="round"/>
<line x1="1613.6" y1="238.8" x2="1623.2" y2="238.8" stroke="#000" stroke-width="3.7" stroke-linecap="round"/>
<line x1="1613.6" y1="249.8" x2="1619.9" y2="249.8" stroke="#000" stroke-width="3.7" stroke-linecap="round"/>
<line x1="1613.6" y1="260.8" x2="1623.2" y2="260.8" stroke="#000" stroke-width="3.7" stroke-linecap="round"/>
<path d="M1712.9,208.9 A12.4,12.4 0 0 1 1737.7,208.9 L1737.7,269.5 A22.4,22.4 0 1 1 1712.9,269.5 Z" fill="#000"/>
<path d="M1716.9,208.9 A8.4,8.4 0 0 1 1733.7,208.9 L1733.7,271.8 A18.4,18.4 0 1 1 1716.9,271.8 Z" fill="#fff"/>
<rect x="1720.8" y="215.9" width="9.0" height="72.3" rx="4.5" fill="#d31f25"/>
<circle cx="1725.3" cy="287.7" r="14.8" fill="#d31f25"/>
<line x1="1736.7" y1="216.8" x2="1746.3" y2="216.8" stroke="#000" stroke-width="3.7" stroke-linecap="round"/>
<line x1="1736.7" y1="227.8" x2="1743.0" y2="227.8" stroke="#000" stroke-width="3.7" stroke-linecap="round"/>
<line x1="1736.7" y1="238.8" x2="1746.3" y2="238.8" stroke="#000" stroke-width="3.7" stroke-linecap="round"/>
<line x1="1736.7" y1="249.8" x2="1743.0" y2="249.8" stroke="#000" stroke-width="3.7" stroke-linecap="round"/>
<line x1="1736.7" y1="260.8" x2="1746.3" y2="260.8" stroke="#000" stroke-width="3.7" stroke-linecap="round"/>
<line x1="1638" y1="257.7" x2="1672" y2="257.7" stroke="#000" stroke-width="6.8"/>
<path d="M1695.7,257.7 L1670.2,247.2 L1670.2,268.2 Z" fill="#000"/>
<path d="M6,1331.8 L6,384 L1994,384 L1994,1331.8" fill="none" stroke="#000" stroke-width="3.6"/>
<line x1="4.2" y1="1331.75" x2="1995.8" y2="1331.75" stroke="#000" stroke-width="2.1"/>
<path d="M113.3,521.0 L379.3,793.0 L113.3,793.0 Z" fill="#f7f0dd"/>
<text x="18.9" y="424.3" font-size="38" font-weight="700">c</text>
<text x="126.0" y="421.8" font-size="30" letter-spacing="2.4">Ultra-low crosslinked</text>
<path d="M228.5,625.2h10.2v10.2h-10.2zM236.2,636.0h10.2v10.2h-10.2zM247.5,649.4h10.2v10.2h-10.2zM254.1,642.3h10.2v10.2h-10.2zM259.8,638.0h10.2v10.2h-10.2zM265.5,643.7h10.2v10.2h-10.2zM271.1,635.2h10.2v10.2h-10.2zM277.4,639.5h10.2v10.2h-10.2zM283.4,642.3h10.2v10.2h-10.2zM289.0,636.6h10.2v10.2h-10.2zM295.3,633.8h10.2v10.2h-10.2zM301.0,636.6h10.2v10.2h-10.2zM306.7,643.7h10.2v10.2h-10.2zM313.2,643.7h10.2v10.2h-10.2zM319.5,635.2h10.2v10.2h-10.2zM325.1,642.3h10.2v10.2h-10.2zM331.4,643.7h10.2v10.2h-10.2zM337.1,646.6h10.2v10.2h-10.2zM343.1,648.0h10.2v10.2h-10.2zM348.7,650.8h10.2v10.2h-10.2zM354.4,652.3h10.2v10.2h-10.2zM360.7,650.8h10.2v10.2h-10.2zM366.4,655.1h10.2v10.2h-10.2zM372.0,656.5h10.2v10.2h-10.2zM377.7,656.5h10.2v10.2h-10.2zM383.4,662.2h10.2v10.2h-10.2zM389.1,666.5h10.2v10.2h-10.2zM394.8,669.3h10.2v10.2h-10.2zM400.5,672.1h10.2v10.2h-10.2zM406.2,676.4h10.2v10.2h-10.2zM411.8,680.7h10.2v10.2h-10.2zM417.5,686.4h10.2v10.2h-10.2zM423.2,692.0h10.2v10.2h-10.2zM428.9,696.3h10.2v10.2h-10.2zM434.6,699.2h10.2v10.2h-10.2zM440.3,704.8h10.2v10.2h-10.2zM444.5,714.8h10.2v10.2h-10.2zM450.2,723.3h10.2v10.2h-10.2zM455.9,730.4h10.2v10.2h-10.2zM461.6,738.9h10.2v10.2h-10.2z" fill="#a80000"/>
<path d="M266.9,710.6h7.3v7.3h-7.3zM272.6,739.8h7.3v7.3h-7.3zM278.8,764.6h7.3v7.3h-7.3zM284.5,763.1h7.3v7.3h-7.3zM290.5,756.0h7.3v7.3h-7.3zM296.7,746.1h7.3v7.3h-7.3zM302.4,740.4h7.3v7.3h-7.3zM308.1,721.1h7.3v7.3h-7.3zM314.7,730.5h7.3v7.3h-7.3zM320.9,721.9h7.3v7.3h-7.3zM326.6,715.4h7.3v7.3h-7.3zM338.0,712.0h7.3v7.3h-7.3zM343.7,719.9h7.3v7.3h-7.3zM350.2,721.1h7.3v7.3h-7.3zM355.9,721.9h7.3v7.3h-7.3zM362.1,717.7h7.3v7.3h-7.3zM367.8,714.8h7.3v7.3h-7.3zM373.5,714.2h7.3v7.3h-7.3zM379.2,713.4h7.3v7.3h-7.3zM384.9,710.6h7.3v7.3h-7.3zM390.6,707.7h7.3v7.3h-7.3zM396.2,706.3h7.3v7.3h-7.3zM401.9,706.9h7.3v7.3h-7.3zM407.6,705.7h7.3v7.3h-7.3zM413.3,704.9h7.3v7.3h-7.3zM419.0,705.7h7.3v7.3h-7.3zM424.7,705.7h7.3v7.3h-7.3zM430.3,706.3h7.3v7.3h-7.3zM436.0,706.9h7.3v7.3h-7.3zM441.7,707.7h7.3v7.3h-7.3zM447.4,708.6h7.3v7.3h-7.3zM453.1,710.6h7.3v7.3h-7.3zM458.8,712.0h7.3v7.3h-7.3zM464.5,712.0h7.3v7.3h-7.3z" fill="none" stroke="#ff3f4b" stroke-width="2.3"/>
<path d="M242.7,767.4h7.3v7.3h-7.3zM254.7,768.3h7.3v7.3h-7.3zM266.9,731.3h7.3v7.3h-7.3zM272.6,725.6h7.3v7.3h-7.3zM278.8,758.0h7.3v7.3h-7.3zM284.5,777.4h7.3v7.3h-7.3zM290.5,744.7h7.3v7.3h-7.3zM296.7,749.5h7.3v7.3h-7.3zM302.4,745.5h7.3v7.3h-7.3zM308.1,724.8h7.3v7.3h-7.3zM314.7,723.9h7.3v7.3h-7.3zM320.9,719.9h7.3v7.3h-7.3zM326.6,703.4h7.3v7.3h-7.3zM332.3,699.2h7.3v7.3h-7.3zM338.0,702.0h7.3v7.3h-7.3zM343.7,710.6h7.3v7.3h-7.3zM350.2,713.4h7.3v7.3h-7.3zM355.9,712.5h7.3v7.3h-7.3zM362.1,708.6h7.3v7.3h-7.3zM367.8,706.9h7.3v7.3h-7.3zM373.5,703.4h7.3v7.3h-7.3zM379.2,702.9h7.3v7.3h-7.3zM384.9,700.6h7.3v7.3h-7.3zM390.6,697.8h7.3v7.3h-7.3zM396.2,696.3h7.3v7.3h-7.3zM401.9,694.4h7.3v7.3h-7.3zM407.6,692.1h7.3v7.3h-7.3zM413.3,689.8h7.3v7.3h-7.3zM419.0,688.7h7.3v7.3h-7.3zM424.7,687.8h7.3v7.3h-7.3zM430.3,687.0h7.3v7.3h-7.3zM436.0,686.4h7.3v7.3h-7.3zM441.7,685.8h7.3v7.3h-7.3zM447.4,685.8h7.3v7.3h-7.3zM453.1,686.4h7.3v7.3h-7.3zM463.0,688.7h7.3v7.3h-7.3z" fill="none" stroke="#1c4b9c" stroke-width="2.3"/>
<path d="M231.3,622.4h10.2v10.2h-10.2zM237.0,621.8h10.2v10.2h-10.2zM242.7,620.7h10.2v10.2h-10.2zM247.5,634.6h10.2v10.2h-10.2zM253.5,626.7h10.2v10.2h-10.2zM259.2,624.7h10.2v10.2h-10.2zM265.5,625.2h10.2v10.2h-10.2zM271.1,624.7h10.2v10.2h-10.2zM277.4,623.3h10.2v10.2h-10.2zM283.4,624.7h10.2v10.2h-10.2zM289.0,622.4h10.2v10.2h-10.2zM295.3,621.6h10.2v10.2h-10.2zM301.0,619.6h10.2v10.2h-10.2zM306.7,625.2h10.2v10.2h-10.2zM313.2,624.4h10.2v10.2h-10.2zM319.5,623.3h10.2v10.2h-10.2zM325.1,623.8h10.2v10.2h-10.2zM331.4,624.7h10.2v10.2h-10.2zM337.1,625.8h10.2v10.2h-10.2zM343.1,626.7h10.2v10.2h-10.2zM348.7,627.5h10.2v10.2h-10.2zM354.4,626.7h10.2v10.2h-10.2zM360.7,625.8h10.2v10.2h-10.2zM366.4,626.7h10.2v10.2h-10.2zM372.0,629.5h10.2v10.2h-10.2zM377.7,630.9h10.2v10.2h-10.2zM383.4,632.4h10.2v10.2h-10.2zM389.1,633.8h10.2v10.2h-10.2zM394.8,636.0h10.2v10.2h-10.2zM400.5,638.0h10.2v10.2h-10.2zM406.2,640.9h10.2v10.2h-10.2zM411.8,645.1h10.2v10.2h-10.2zM417.5,649.4h10.2v10.2h-10.2zM423.2,653.7h10.2v10.2h-10.2zM428.9,657.9h10.2v10.2h-10.2zM434.6,662.2h10.2v10.2h-10.2zM440.3,666.5h10.2v10.2h-10.2zM446.0,672.1h10.2v10.2h-10.2zM450.2,677.8h10.2v10.2h-10.2zM455.3,683.5h10.2v10.2h-10.2zM461.6,689.2h10.2v10.2h-10.2z" fill="#000060"/>
<rect x="113.3" y="431.0" width="361.5" height="362.0" fill="none" stroke="#000" stroke-width="2.2"/>
<path d="M113.3,793.0v9M148.8,793.0v4.5M169.6,793.0v4.5M184.3,793.0v4.5M195.8,793.0v4.5M205.1,793.0v4.5M213.0,793.0v4.5M219.9,793.0v4.5M225.9,793.0v4.5M231.3,793.0v9M266.8,793.0v4.5M287.6,793.0v4.5M302.3,793.0v4.5M313.8,793.0v4.5M323.1,793.0v4.5M331.0,793.0v4.5M337.9,793.0v4.5M343.9,793.0v4.5M349.3,793.0v9M384.8,793.0v4.5M405.6,793.0v4.5M420.3,793.0v4.5M431.8,793.0v4.5M441.1,793.0v4.5M449.0,793.0v4.5M455.9,793.0v4.5M461.9,793.0v4.5M467.3,793.0v9M113.3,793.0h-4.5M113.3,786.8h-4.5M113.3,781.3h-9M113.3,745.0h-4.5M113.3,723.7h-4.5M113.3,708.7h-4.5M113.3,697.0h-4.5M113.3,687.4h-4.5M113.3,679.3h-4.5M113.3,672.3h-4.5M113.3,666.2h-4.5M113.3,660.6h-9M113.3,624.3h-4.5M113.3,603.1h-4.5M113.3,588.0h-4.5M113.3,576.3h-4.5M113.3,566.7h-4.5M113.3,558.7h-4.5M113.3,551.7h-4.5M113.3,545.5h-4.5M113.3,540.0h-9M113.3,503.7h-4.5M113.3,482.4h-4.5M113.3,467.3h-4.5M113.3,455.6h-4.5M113.3,446.1h-4.5M113.3,438.0h-4.5M113.3,431.0h-4.5" stroke="#000" stroke-width="2.2" fill="none"/>
<text x="113.8" y="830.0" font-size="22" font-weight="700" text-anchor="middle">10<tspan font-size="14" dy="-9.6">-3</tspan></text>
<text x="231.8" y="830.0" font-size="22" font-weight="700" text-anchor="middle">10<tspan font-size="14" dy="-9.6">-2</tspan></text>
<text x="349.8" y="830.0" font-size="22" font-weight="700" text-anchor="middle">10<tspan font-size="14" dy="-9.6">-1</tspan></text>
<text x="467.8" y="830.0" font-size="22" font-weight="700" text-anchor="middle">10<tspan font-size="14" dy="-9.6">0</tspan></text>
<text x="97.3" y="789.1" font-size="22" font-weight="700" text-anchor="end">10<tspan font-size="14" dy="-9.6">-5</tspan></text>
<text x="97.3" y="668.4" font-size="22" font-weight="700" text-anchor="end">10<tspan font-size="14" dy="-9.6">-4</tspan></text>
<text x="97.3" y="547.8" font-size="22" font-weight="700" text-anchor="end">10<tspan font-size="14" dy="-9.6">-3</tspan></text>
<text x="151.8" y="858.3" font-size="30" letter-spacing="2.21">Strain amplitude / -</text>
<text transform="translate(47.2,721.0) rotate(-90)" font-size="30"><tspan font-style="italic">G</tspan><tspan font-size="21" dy="-11">s</tspan><tspan dy="11">&#8242;, </tspan><tspan font-style="italic">G</tspan><tspan font-size="21" dy="-11">s</tspan><tspan dy="11">&#8243; / Nm</tspan><tspan font-size="19" dy="-11">-1</tspan></text>
<rect x="117.7" y="435.5" width="143.5" height="113" fill="none" stroke="#000" stroke-width="1.8"/>
<rect x="125.0" y="442.2" width="21.5" height="21.5" fill="#000060"/>
<text x="149.8" y="461.1" font-size="22.5"><tspan font-style="italic">G</tspan><tspan font-style="italic" font-size="14.5" dy="-8.3">s</tspan><tspan font-style="italic" dy="8.3">&#8242;</tspan> (21 °C)</text>
<rect x="127.7" y="471.1" width="16.1" height="16.1" fill="none" stroke="#1c4b9c" stroke-width="5.4"/>
<text x="149.8" y="487.3" font-size="22.5"><tspan font-style="italic">G</tspan><tspan font-style="italic" font-size="14.5" dy="-8.3">s</tspan><tspan font-style="italic" dy="8.3">&#8243;</tspan>(21 °C)</text>
<rect x="125.0" y="494.7" width="21.5" height="21.5" fill="#a80000"/>
<text x="149.8" y="513.6" font-size="22.5"><tspan font-style="italic">G</tspan><tspan font-style="italic" font-size="14.5" dy="-8.3">s</tspan><tspan font-style="italic" dy="8.3">&#8242;</tspan> (43 °C)</text>
<rect x="127.7" y="523.6" width="16.1" height="16.1" fill="none" stroke="#ff3f4b" stroke-width="5.4"/>
<text x="149.8" y="539.9" font-size="22.5"><tspan font-style="italic">G</tspan><tspan font-style="italic" font-size="14.5" dy="-8.3">s</tspan><tspan font-style="italic" dy="8.3">&#8243;</tspan>(43 °C)</text>
<path d="M614.2,457.0 L937.0,793.0 L614.2,793.0 Z" fill="#f7f0dd"/>
<text x="519.8" y="424.3" font-size="38" font-weight="700">d</text>
<text x="649.5" y="421.8" font-size="30" letter-spacing="2.24">1 mol% crosslinker</text>
<path d="M610.5,487.4h10.2v10.2h-10.2zM616.4,486.0h10.2v10.2h-10.2zM622.3,485.1h10.2v10.2h-10.2zM628.2,480.3h10.2v10.2h-10.2zM634.1,488.7h10.2v10.2h-10.2zM640.0,490.0h10.2v10.2h-10.2zM645.9,497.1h10.2v10.2h-10.2zM651.8,495.7h10.2v10.2h-10.2zM657.7,496.5h10.2v10.2h-10.2zM663.6,499.2h10.2v10.2h-10.2zM669.5,499.9h10.2v10.2h-10.2zM675.4,500.2h10.2v10.2h-10.2zM681.3,501.1h10.2v10.2h-10.2zM687.2,502.0h10.2v10.2h-10.2zM693.1,502.9h10.2v10.2h-10.2zM699.0,503.7h10.2v10.2h-10.2zM704.9,504.5h10.2v10.2h-10.2zM710.8,505.1h10.2v10.2h-10.2zM716.7,505.7h10.2v10.2h-10.2zM722.6,506.1h10.2v10.2h-10.2zM728.5,506.5h10.2v10.2h-10.2zM734.4,506.4h10.2v10.2h-10.2zM740.3,505.2h10.2v10.2h-10.2zM746.2,505.0h10.2v10.2h-10.2zM752.1,506.4h10.2v10.2h-10.2zM758.0,507.4h10.2v10.2h-10.2zM763.9,507.8h10.2v10.2h-10.2zM769.8,508.2h10.2v10.2h-10.2zM775.7,508.4h10.2v10.2h-10.2zM781.6,508.6h10.2v10.2h-10.2zM787.5,508.9h10.2v10.2h-10.2zM793.4,509.1h10.2v10.2h-10.2zM799.3,509.4h10.2v10.2h-10.2zM805.2,509.7h10.2v10.2h-10.2zM811.1,510.1h10.2v10.2h-10.2zM817.0,510.6h10.2v10.2h-10.2zM822.9,511.2h10.2v10.2h-10.2zM828.8,512.0h10.2v10.2h-10.2zM834.7,513.2h10.2v10.2h-10.2zM840.6,514.4h10.2v10.2h-10.2zM846.5,515.8h10.2v10.2h-10.2zM852.4,517.4h10.2v10.2h-10.2zM858.3,520.3h10.2v10.2h-10.2zM864.2,523.9h10.2v10.2h-10.2zM870.1,528.5h10.2v10.2h-10.2zM876.0,537.4h10.2v10.2h-10.2zM881.9,544.2h10.2v10.2h-10.2zM887.8,550.3h10.2v10.2h-10.2zM893.7,557.2h10.2v10.2h-10.2zM899.6,564.5h10.2v10.2h-10.2zM905.5,573.9h10.2v10.2h-10.2zM911.4,583.4h10.2v10.2h-10.2zM917.3,592.9h10.2v10.2h-10.2zM923.2,602.5h10.2v10.2h-10.2zM929.1,611.4h10.2v10.2h-10.2zM935.0,621.0h10.2v10.2h-10.2zM940.9,630.5h10.2v10.2h-10.2zM946.8,640.2h10.2v10.2h-10.2zM952.7,650.6h10.2v10.2h-10.2zM958.6,658.5h10.2v10.2h-10.2zM963.0,663.7h10.2v10.2h-10.2z" fill="#a80000"/>
<path d="M611.9,581.2h7.3v7.3h-7.3zM617.8,580.0h7.3v7.3h-7.3zM623.7,571.3h7.3v7.3h-7.3zM629.6,557.0h7.3v7.3h-7.3zM635.5,572.8h7.3v7.3h-7.3zM641.4,577.1h7.3v7.3h-7.3zM647.3,585.2h7.3v7.3h-7.3zM653.2,577.6h7.3v7.3h-7.3zM659.1,564.2h7.3v7.3h-7.3zM665.0,563.5h7.3v7.3h-7.3zM670.9,562.9h7.3v7.3h-7.3zM676.8,570.6h7.3v7.3h-7.3zM682.7,570.4h7.3v7.3h-7.3zM688.6,572.3h7.3v7.3h-7.3zM694.5,577.9h7.3v7.3h-7.3zM700.4,584.2h7.3v7.3h-7.3zM706.3,585.3h7.3v7.3h-7.3zM712.2,583.4h7.3v7.3h-7.3zM718.1,584.2h7.3v7.3h-7.3zM724.0,591.8h7.3v7.3h-7.3zM729.9,594.8h7.3v7.3h-7.3zM735.8,597.3h7.3v7.3h-7.3zM741.7,598.8h7.3v7.3h-7.3zM747.6,600.2h7.3v7.3h-7.3zM753.5,600.6h7.3v7.3h-7.3zM759.4,600.6h7.3v7.3h-7.3zM765.3,602.1h7.3v7.3h-7.3zM771.2,603.3h7.3v7.3h-7.3zM777.1,605.2h7.3v7.3h-7.3zM783.0,606.3h7.3v7.3h-7.3zM788.9,606.6h7.3v7.3h-7.3zM794.8,607.8h7.3v7.3h-7.3zM800.7,608.9h7.3v7.3h-7.3zM806.6,609.5h7.3v7.3h-7.3zM812.5,609.7h7.3v7.3h-7.3zM818.4,609.2h7.3v7.3h-7.3zM824.3,608.4h7.3v7.3h-7.3zM830.2,607.5h7.3v7.3h-7.3zM836.1,604.2h7.3v7.3h-7.3zM842.0,599.9h7.3v7.3h-7.3zM847.9,594.0h7.3v7.3h-7.3zM853.8,588.0h7.3v7.3h-7.3zM859.7,579.2h7.3v7.3h-7.3zM865.6,572.0h7.3v7.3h-7.3zM871.5,566.4h7.3v7.3h-7.3zM877.4,562.4h7.3v7.3h-7.3zM883.3,560.6h7.3v7.3h-7.3zM889.2,560.2h7.3v7.3h-7.3zM895.1,561.1h7.3v7.3h-7.3zM901.0,562.5h7.3v7.3h-7.3zM906.9,564.7h7.3v7.3h-7.3zM912.8,567.7h7.3v7.3h-7.3zM918.7,570.6h7.3v7.3h-7.3zM924.6,573.6h7.3v7.3h-7.3zM930.5,576.8h7.3v7.3h-7.3zM936.4,580.0h7.3v7.3h-7.3zM942.3,584.7h7.3v7.3h-7.3zM948.2,591.0h7.3v7.3h-7.3zM954.1,596.7h7.3v7.3h-7.3zM960.0,599.9h7.3v7.3h-7.3zM964.5,601.7h7.3v7.3h-7.3z" fill="none" stroke="#ff3f4b" stroke-width="2.3"/>
<path d="M611.9,578.4h7.3v7.3h-7.3zM617.8,575.8h7.3v7.3h-7.3zM623.7,587.4h7.3v7.3h-7.3zM629.6,593.2h7.3v7.3h-7.3zM635.5,598.6h7.3v7.3h-7.3zM641.4,584.6h7.3v7.3h-7.3zM647.3,567.3h7.3v7.3h-7.3zM653.2,569.4h7.3v7.3h-7.3zM659.1,572.7h7.3v7.3h-7.3zM665.0,578.3h7.3v7.3h-7.3zM670.9,581.8h7.3v7.3h-7.3zM676.8,579.2h7.3v7.3h-7.3zM682.7,586.0h7.3v7.3h-7.3zM688.6,589.4h7.3v7.3h-7.3zM694.5,593.7h7.3v7.3h-7.3zM700.4,589.4h7.3v7.3h-7.3zM706.3,592.0h7.3v7.3h-7.3zM712.2,596.4h7.3v7.3h-7.3zM718.1,597.2h7.3v7.3h-7.3zM724.0,600.6h7.3v7.3h-7.3zM729.9,605.1h7.3v7.3h-7.3zM735.8,608.4h7.3v7.3h-7.3zM741.7,612.5h7.3v7.3h-7.3zM747.6,615.9h7.3v7.3h-7.3zM753.5,616.8h7.3v7.3h-7.3zM759.4,617.2h7.3v7.3h-7.3zM765.3,617.9h7.3v7.3h-7.3zM771.2,619.4h7.3v7.3h-7.3zM777.1,620.5h7.3v7.3h-7.3zM783.0,619.5h7.3v7.3h-7.3zM788.9,618.4h7.3v7.3h-7.3zM794.8,619.1h7.3v7.3h-7.3zM800.7,620.2h7.3v7.3h-7.3zM806.6,620.9h7.3v7.3h-7.3zM812.5,621.5h7.3v7.3h-7.3zM818.4,622.3h7.3v7.3h-7.3zM824.3,621.7h7.3v7.3h-7.3zM830.2,621.1h7.3v7.3h-7.3zM836.1,620.5h7.3v7.3h-7.3zM842.0,618.8h7.3v7.3h-7.3zM847.9,615.3h7.3v7.3h-7.3zM853.8,611.7h7.3v7.3h-7.3zM859.7,607.0h7.3v7.3h-7.3zM865.6,601.9h7.3v7.3h-7.3zM871.5,595.9h7.3v7.3h-7.3zM877.4,589.1h7.3v7.3h-7.3zM883.3,583.1h7.3v7.3h-7.3zM889.2,579.1h7.3v7.3h-7.3zM895.1,576.7h7.3v7.3h-7.3zM901.0,576.4h7.3v7.3h-7.3zM906.9,577.7h7.3v7.3h-7.3zM912.8,579.7h7.3v7.3h-7.3zM918.7,582.0h7.3v7.3h-7.3zM924.6,584.9h7.3v7.3h-7.3zM930.5,587.9h7.3v7.3h-7.3zM936.4,590.3h7.3v7.3h-7.3zM942.3,592.9h7.3v7.3h-7.3zM948.2,595.9h7.3v7.3h-7.3zM954.1,598.8h7.3v7.3h-7.3zM960.0,601.8h7.3v7.3h-7.3zM964.5,604.0h7.3v7.3h-7.3z" fill="none" stroke="#1c4b9c" stroke-width="2.3"/>
<path d="M610.5,495.9h10.2v10.2h-10.2zM616.4,495.4h10.2v10.2h-10.2zM622.3,495.9h10.2v10.2h-10.2zM628.2,495.4h10.2v10.2h-10.2zM634.1,491.6h10.2v10.2h-10.2zM640.0,492.8h10.2v10.2h-10.2zM645.9,501.8h10.2v10.2h-10.2zM651.8,507.0h10.2v10.2h-10.2zM657.7,506.1h10.2v10.2h-10.2zM663.6,507.1h10.2v10.2h-10.2zM669.5,508.5h10.2v10.2h-10.2zM675.4,510.3h10.2v10.2h-10.2zM681.3,512.0h10.2v10.2h-10.2zM687.2,513.4h10.2v10.2h-10.2zM693.1,514.2h10.2v10.2h-10.2zM699.0,515.0h10.2v10.2h-10.2zM704.9,515.7h10.2v10.2h-10.2zM710.8,516.4h10.2v10.2h-10.2zM716.7,516.8h10.2v10.2h-10.2zM722.6,517.1h10.2v10.2h-10.2zM728.5,517.3h10.2v10.2h-10.2zM734.4,517.7h10.2v10.2h-10.2zM740.3,518.0h10.2v10.2h-10.2zM746.2,518.3h10.2v10.2h-10.2zM752.1,518.5h10.2v10.2h-10.2zM758.0,518.8h10.2v10.2h-10.2zM763.9,519.0h10.2v10.2h-10.2zM769.8,519.2h10.2v10.2h-10.2zM775.7,519.4h10.2v10.2h-10.2zM781.6,519.5h10.2v10.2h-10.2zM787.5,519.7h10.2v10.2h-10.2zM793.4,519.9h10.2v10.2h-10.2zM799.3,520.1h10.2v10.2h-10.2zM805.2,520.4h10.2v10.2h-10.2zM811.1,520.6h10.2v10.2h-10.2zM817.0,521.2h10.2v10.2h-10.2zM822.9,521.9h10.2v10.2h-10.2zM828.8,522.7h10.2v10.2h-10.2zM834.7,523.5h10.2v10.2h-10.2zM840.6,524.3h10.2v10.2h-10.2zM846.5,525.5h10.2v10.2h-10.2zM852.4,526.7h10.2v10.2h-10.2zM858.3,528.4h10.2v10.2h-10.2zM864.2,530.6h10.2v10.2h-10.2zM870.1,533.3h10.2v10.2h-10.2zM876.0,536.6h10.2v10.2h-10.2zM881.9,541.6h10.2v10.2h-10.2zM887.8,547.2h10.2v10.2h-10.2zM893.7,553.1h10.2v10.2h-10.2zM899.6,559.0h10.2v10.2h-10.2zM905.5,565.7h10.2v10.2h-10.2zM911.4,573.4h10.2v10.2h-10.2zM917.3,582.3h10.2v10.2h-10.2zM923.2,590.2h10.2v10.2h-10.2zM929.1,598.1h10.2v10.2h-10.2zM935.0,606.1h10.2v10.2h-10.2zM940.9,615.9h10.2v10.2h-10.2zM946.8,625.7h10.2v10.2h-10.2zM952.7,635.2h10.2v10.2h-10.2zM958.6,643.4h10.2v10.2h-10.2zM963.0,649.4h10.2v10.2h-10.2z" fill="#000060"/>
<rect x="614.2" y="431.0" width="361.5" height="362.0" fill="none" stroke="#000" stroke-width="2.2"/>
<path d="M614.2,793.0v9M649.7,793.0v4.5M670.5,793.0v4.5M685.2,793.0v4.5M696.7,793.0v4.5M706.0,793.0v4.5M713.9,793.0v4.5M720.8,793.0v4.5M726.8,793.0v4.5M732.2,793.0v9M767.7,793.0v4.5M788.5,793.0v4.5M803.2,793.0v4.5M814.7,793.0v4.5M824.0,793.0v4.5M831.9,793.0v4.5M838.8,793.0v4.5M844.8,793.0v4.5M850.2,793.0v9M885.7,793.0v4.5M906.5,793.0v4.5M921.2,793.0v4.5M932.7,793.0v4.5M942.0,793.0v4.5M949.9,793.0v4.5M956.8,793.0v4.5M962.8,793.0v4.5M968.2,793.0v9M614.2,793.0h-4.5M614.2,786.8h-4.5M614.2,781.3h-9M614.2,745.0h-4.5M614.2,723.7h-4.5M614.2,708.7h-4.5M614.2,697.0h-4.5M614.2,687.4h-4.5M614.2,679.3h-4.5M614.2,672.3h-4.5M614.2,666.2h-4.5M614.2,660.6h-9M614.2,624.3h-4.5M614.2,603.1h-4.5M614.2,588.0h-4.5M614.2,576.3h-4.5M614.2,566.7h-4.5M614.2,558.7h-4.5M614.2,551.7h-4.5M614.2,545.5h-4.5M614.2,540.0h-9M614.2,503.7h-4.5M614.2,482.4h-4.5M614.2,467.3h-4.5M614.2,455.6h-4.5M614.2,446.1h-4.5M614.2,438.0h-4.5M614.2,431.0h-4.5" stroke="#000" stroke-width="2.2" fill="none"/>
<text x="614.7" y="830.0" font-size="22" font-weight="700" text-anchor="middle">10<tspan font-size="14" dy="-9.6">-3</tspan></text>
<text x="732.7" y="830.0" font-size="22" font-weight="700" text-anchor="middle">10<tspan font-size="14" dy="-9.6">-2</tspan></text>
<text x="850.7" y="830.0" font-size="22" font-weight="700" text-anchor="middle">10<tspan font-size="14" dy="-9.6">-1</tspan></text>
<text x="968.7" y="830.0" font-size="22" font-weight="700" text-anchor="middle">10<tspan font-size="14" dy="-9.6">0</tspan></text>
<text x="598.2" y="789.1" font-size="22" font-weight="700" text-anchor="end">10<tspan font-size="14" dy="-9.6">-5</tspan></text>
<text x="598.2" y="668.4" font-size="22" font-weight="700" text-anchor="end">10<tspan font-size="14" dy="-9.6">-4</tspan></text>
<text x="598.2" y="547.8" font-size="22" font-weight="700" text-anchor="end">10<tspan font-size="14" dy="-9.6">-3</tspan></text>
<text x="652.7" y="858.3" font-size="30" letter-spacing="2.21">Strain amplitude / -</text>
<text transform="translate(546.3,729.5) rotate(-90)" font-size="30"><tspan font-style="italic">G</tspan><tspan font-size="21" dy="-11">s</tspan><tspan dy="11">&#8242;, </tspan><tspan font-style="italic">G</tspan><tspan font-size="21" dy="-11">s</tspan><tspan dy="11">&#8243; / Nm</tspan><tspan font-size="19" dy="-11">-1</tspan></text>
<rect x="618.4" y="674.5" width="143.5" height="113" fill="none" stroke="#000" stroke-width="1.8"/>
<rect x="625.7" y="681.2" width="21.5" height="21.5" fill="#000060"/>
<text x="650.5" y="700.1" font-size="22.5"><tspan font-style="italic">G</tspan><tspan font-style="italic" font-size="14.5" dy="-8.3">s</tspan><tspan font-style="italic" dy="8.3">&#8242;</tspan> (21 °C)</text>
<rect x="628.4" y="710.1" width="16.1" height="16.1" fill="none" stroke="#1c4b9c" stroke-width="5.4"/>
<text x="650.5" y="726.4" font-size="22.5"><tspan font-style="italic">G</tspan><tspan font-style="italic" font-size="14.5" dy="-8.3">s</tspan><tspan font-style="italic" dy="8.3">&#8243;</tspan>(21 °C)</text>
<rect x="625.7" y="733.7" width="21.5" height="21.5" fill="#a80000"/>
<text x="650.5" y="752.6" font-size="22.5"><tspan font-style="italic">G</tspan><tspan font-style="italic" font-size="14.5" dy="-8.3">s</tspan><tspan font-style="italic" dy="8.3">&#8242;</tspan> (43 °C)</text>
<rect x="628.4" y="762.6" width="16.1" height="16.1" fill="none" stroke="#ff3f4b" stroke-width="5.4"/>
<text x="650.5" y="778.9" font-size="22.5"><tspan font-style="italic">G</tspan><tspan font-style="italic" font-size="14.5" dy="-8.3">s</tspan><tspan font-style="italic" dy="8.3">&#8243;</tspan>(43 °C)</text>
<path d="M1114.5,459.8 L1437.4,793.0 L1114.5,793.0 Z" fill="#f7f0dd"/>
<text x="1020.1" y="424.3" font-size="38" font-weight="700">e</text>
<text x="1147.8" y="421.8" font-size="30" letter-spacing="2.34">5 mol% crosslinker</text>
<path d="M1110.5,493.9h10.2v10.2h-10.2zM1116.4,492.1h10.2v10.2h-10.2zM1122.3,489.1h10.2v10.2h-10.2zM1128.2,486.2h10.2v10.2h-10.2zM1134.1,488.1h10.2v10.2h-10.2zM1140.0,489.7h10.2v10.2h-10.2zM1145.9,490.2h10.2v10.2h-10.2zM1151.8,489.9h10.2v10.2h-10.2zM1157.7,489.6h10.2v10.2h-10.2zM1163.6,490.4h10.2v10.2h-10.2zM1169.5,492.0h10.2v10.2h-10.2zM1175.4,492.9h10.2v10.2h-10.2zM1181.3,493.6h10.2v10.2h-10.2zM1187.2,494.2h10.2v10.2h-10.2zM1193.1,494.6h10.2v10.2h-10.2zM1199.0,495.1h10.2v10.2h-10.2zM1204.9,495.4h10.2v10.2h-10.2zM1210.8,495.8h10.2v10.2h-10.2zM1216.7,496.2h10.2v10.2h-10.2zM1222.6,496.5h10.2v10.2h-10.2zM1228.5,496.9h10.2v10.2h-10.2zM1234.4,497.4h10.2v10.2h-10.2zM1240.3,497.8h10.2v10.2h-10.2zM1246.2,498.2h10.2v10.2h-10.2zM1252.1,498.6h10.2v10.2h-10.2zM1258.0,499.0h10.2v10.2h-10.2zM1263.9,499.6h10.2v10.2h-10.2zM1269.8,500.2h10.2v10.2h-10.2zM1275.7,500.4h10.2v10.2h-10.2zM1281.6,500.7h10.2v10.2h-10.2zM1287.5,501.0h10.2v10.2h-10.2zM1293.4,501.3h10.2v10.2h-10.2zM1299.3,501.7h10.2v10.2h-10.2zM1305.2,502.3h10.2v10.2h-10.2zM1311.1,502.9h10.2v10.2h-10.2zM1317.0,503.8h10.2v10.2h-10.2zM1322.9,504.7h10.2v10.2h-10.2zM1328.8,505.6h10.2v10.2h-10.2zM1334.7,506.4h10.2v10.2h-10.2zM1340.6,507.3h10.2v10.2h-10.2zM1346.5,509.2h10.2v10.2h-10.2zM1352.4,511.2h10.2v10.2h-10.2zM1358.3,515.1h10.2v10.2h-10.2zM1364.2,520.4h10.2v10.2h-10.2zM1370.1,526.8h10.2v10.2h-10.2zM1376.0,533.7h10.2v10.2h-10.2zM1381.9,540.6h10.2v10.2h-10.2zM1387.8,547.7h10.2v10.2h-10.2zM1393.7,555.6h10.2v10.2h-10.2zM1399.6,564.3h10.2v10.2h-10.2zM1405.5,573.1h10.2v10.2h-10.2zM1411.4,581.6h10.2v10.2h-10.2zM1417.3,589.4h10.2v10.2h-10.2zM1423.2,597.3h10.2v10.2h-10.2zM1429.1,605.7h10.2v10.2h-10.2zM1435.0,614.5h10.2v10.2h-10.2zM1440.9,623.4h10.2v10.2h-10.2zM1446.8,632.2h10.2v10.2h-10.2zM1452.7,641.5h10.2v10.2h-10.2zM1458.6,652.5h10.2v10.2h-10.2zM1463.0,660.8h10.2v10.2h-10.2z" fill="#a80000"/>
<path d="M1111.9,615.4h7.3v7.3h-7.3zM1117.8,588.7h7.3v7.3h-7.3zM1123.7,613.2h7.3v7.3h-7.3zM1129.6,598.3h7.3v7.3h-7.3zM1135.5,589.1h7.3v7.3h-7.3zM1141.4,598.9h7.3v7.3h-7.3zM1147.3,608.6h7.3v7.3h-7.3zM1153.2,588.7h7.3v7.3h-7.3zM1159.1,593.2h7.3v7.3h-7.3zM1165.0,593.1h7.3v7.3h-7.3zM1170.9,589.4h7.3v7.3h-7.3zM1176.8,592.8h7.3v7.3h-7.3zM1182.7,594.8h7.3v7.3h-7.3zM1188.6,595.5h7.3v7.3h-7.3zM1194.5,589.9h7.3v7.3h-7.3zM1200.4,594.5h7.3v7.3h-7.3zM1206.3,597.5h7.3v7.3h-7.3zM1212.2,602.8h7.3v7.3h-7.3zM1218.1,602.4h7.3v7.3h-7.3zM1224.0,600.9h7.3v7.3h-7.3zM1229.9,603.2h7.3v7.3h-7.3zM1235.8,596.1h7.3v7.3h-7.3zM1241.7,594.0h7.3v7.3h-7.3zM1247.6,594.6h7.3v7.3h-7.3zM1253.5,595.7h7.3v7.3h-7.3zM1259.4,596.4h7.3v7.3h-7.3zM1265.3,597.6h7.3v7.3h-7.3zM1271.2,598.6h7.3v7.3h-7.3zM1277.1,599.3h7.3v7.3h-7.3zM1283.0,599.7h7.3v7.3h-7.3zM1288.9,599.7h7.3v7.3h-7.3zM1294.8,599.7h7.3v7.3h-7.3zM1300.7,599.1h7.3v7.3h-7.3zM1306.6,598.4h7.3v7.3h-7.3zM1312.5,597.9h7.3v7.3h-7.3zM1318.4,596.3h7.3v7.3h-7.3zM1324.3,592.6h7.3v7.3h-7.3zM1330.2,588.7h7.3v7.3h-7.3zM1336.1,583.1h7.3v7.3h-7.3zM1342.0,577.2h7.3v7.3h-7.3zM1347.9,571.3h7.3v7.3h-7.3zM1353.8,566.8h7.3v7.3h-7.3zM1359.7,561.0h7.3v7.3h-7.3zM1365.6,556.7h7.3v7.3h-7.3zM1371.5,553.9h7.3v7.3h-7.3zM1377.4,552.1h7.3v7.3h-7.3zM1383.3,551.6h7.3v7.3h-7.3zM1389.2,552.8h7.3v7.3h-7.3zM1395.1,555.1h7.3v7.3h-7.3zM1401.0,558.1h7.3v7.3h-7.3zM1406.9,561.0h7.3v7.3h-7.3zM1412.8,564.0h7.3v7.3h-7.3zM1418.7,566.9h7.3v7.3h-7.3zM1424.6,570.3h7.3v7.3h-7.3zM1430.5,574.0h7.3v7.3h-7.3zM1436.4,578.0h7.3v7.3h-7.3zM1442.3,582.4h7.3v7.3h-7.3zM1448.2,586.8h7.3v7.3h-7.3zM1454.1,591.7h7.3v7.3h-7.3zM1460.0,596.3h7.3v7.3h-7.3zM1464.5,599.7h7.3v7.3h-7.3z" fill="none" stroke="#ff3f4b" stroke-width="2.3"/>
<path d="M1111.9,596.9h7.3v7.3h-7.3zM1117.8,596.9h7.3v7.3h-7.3zM1123.7,597.0h7.3v7.3h-7.3zM1129.6,598.9h7.3v7.3h-7.3zM1135.5,602.2h7.3v7.3h-7.3zM1141.4,595.3h7.3v7.3h-7.3zM1147.3,596.6h7.3v7.3h-7.3zM1153.2,601.4h7.3v7.3h-7.3zM1159.1,597.0h7.3v7.3h-7.3zM1165.0,596.9h7.3v7.3h-7.3zM1170.9,603.3h7.3v7.3h-7.3zM1176.8,604.1h7.3v7.3h-7.3zM1182.7,602.6h7.3v7.3h-7.3zM1188.6,601.4h7.3v7.3h-7.3zM1194.5,601.4h7.3v7.3h-7.3zM1200.4,601.7h7.3v7.3h-7.3zM1206.3,601.0h7.3v7.3h-7.3zM1212.2,598.2h7.3v7.3h-7.3zM1218.1,597.8h7.3v7.3h-7.3zM1224.0,599.9h7.3v7.3h-7.3zM1229.9,601.4h7.3v7.3h-7.3zM1235.8,601.3h7.3v7.3h-7.3zM1241.7,601.1h7.3v7.3h-7.3zM1247.6,601.6h7.3v7.3h-7.3zM1253.5,602.5h7.3v7.3h-7.3zM1259.4,602.6h7.3v7.3h-7.3zM1265.3,603.4h7.3v7.3h-7.3zM1271.2,605.4h7.3v7.3h-7.3zM1277.1,606.3h7.3v7.3h-7.3zM1283.0,607.4h7.3v7.3h-7.3zM1288.9,607.4h7.3v7.3h-7.3zM1294.8,607.4h7.3v7.3h-7.3zM1300.7,607.4h7.3v7.3h-7.3zM1306.6,607.3h7.3v7.3h-7.3zM1312.5,606.7h7.3v7.3h-7.3zM1318.4,606.0h7.3v7.3h-7.3zM1324.3,604.9h7.3v7.3h-7.3zM1330.2,602.9h7.3v7.3h-7.3zM1336.1,599.7h7.3v7.3h-7.3zM1342.0,596.0h7.3v7.3h-7.3zM1347.9,591.2h7.3v7.3h-7.3zM1353.8,584.5h7.3v7.3h-7.3zM1359.7,577.9h7.3v7.3h-7.3zM1365.6,572.9h7.3v7.3h-7.3zM1371.5,568.5h7.3v7.3h-7.3zM1377.4,564.7h7.3v7.3h-7.3zM1383.3,562.4h7.3v7.3h-7.3zM1389.2,561.5h7.3v7.3h-7.3zM1395.1,561.8h7.3v7.3h-7.3zM1401.0,562.6h7.3v7.3h-7.3zM1406.9,564.5h7.3v7.3h-7.3zM1412.8,566.8h7.3v7.3h-7.3zM1418.7,569.8h7.3v7.3h-7.3zM1424.6,572.7h7.3v7.3h-7.3zM1430.5,575.7h7.3v7.3h-7.3zM1436.4,578.6h7.3v7.3h-7.3zM1442.3,582.2h7.3v7.3h-7.3zM1448.2,586.0h7.3v7.3h-7.3zM1454.1,589.8h7.3v7.3h-7.3zM1460.0,593.4h7.3v7.3h-7.3zM1464.5,596.0h7.3v7.3h-7.3z" fill="none" stroke="#1c4b9c" stroke-width="2.3"/>
<path d="M1110.5,498.8h10.2v10.2h-10.2zM1116.4,498.7h10.2v10.2h-10.2zM1122.3,498.0h10.2v10.2h-10.2zM1128.2,498.8h10.2v10.2h-10.2zM1134.1,499.4h10.2v10.2h-10.2zM1140.0,500.0h10.2v10.2h-10.2zM1145.9,500.4h10.2v10.2h-10.2zM1151.8,500.8h10.2v10.2h-10.2zM1157.7,500.9h10.2v10.2h-10.2zM1163.6,500.6h10.2v10.2h-10.2zM1169.5,500.2h10.2v10.2h-10.2zM1175.4,500.7h10.2v10.2h-10.2zM1181.3,501.3h10.2v10.2h-10.2zM1187.2,501.9h10.2v10.2h-10.2zM1193.1,502.5h10.2v10.2h-10.2zM1199.0,503.1h10.2v10.2h-10.2zM1204.9,503.7h10.2v10.2h-10.2zM1210.8,504.2h10.2v10.2h-10.2zM1216.7,504.7h10.2v10.2h-10.2zM1222.6,505.0h10.2v10.2h-10.2zM1228.5,505.4h10.2v10.2h-10.2zM1234.4,505.9h10.2v10.2h-10.2zM1240.3,506.4h10.2v10.2h-10.2zM1246.2,506.7h10.2v10.2h-10.2zM1252.1,507.1h10.2v10.2h-10.2zM1258.0,507.5h10.2v10.2h-10.2zM1263.9,508.1h10.2v10.2h-10.2zM1269.8,508.7h10.2v10.2h-10.2zM1275.7,509.3h10.2v10.2h-10.2zM1281.6,509.9h10.2v10.2h-10.2zM1287.5,510.4h10.2v10.2h-10.2zM1293.4,510.7h10.2v10.2h-10.2zM1299.3,511.1h10.2v10.2h-10.2zM1305.2,511.6h10.2v10.2h-10.2zM1311.1,512.0h10.2v10.2h-10.2zM1317.0,512.7h10.2v10.2h-10.2zM1322.9,513.4h10.2v10.2h-10.2zM1328.8,514.3h10.2v10.2h-10.2zM1334.7,515.5h10.2v10.2h-10.2zM1340.6,516.6h10.2v10.2h-10.2zM1346.5,518.4h10.2v10.2h-10.2zM1352.4,520.2h10.2v10.2h-10.2zM1358.3,523.2h10.2v10.2h-10.2zM1364.2,526.7h10.2v10.2h-10.2zM1370.1,530.8h10.2v10.2h-10.2zM1376.0,535.7h10.2v10.2h-10.2zM1381.9,540.6h10.2v10.2h-10.2zM1387.8,545.8h10.2v10.2h-10.2zM1393.7,551.7h10.2v10.2h-10.2zM1399.6,558.8h10.2v10.2h-10.2zM1405.5,565.7h10.2v10.2h-10.2zM1411.4,573.0h10.2v10.2h-10.2zM1417.3,580.9h10.2v10.2h-10.2zM1423.2,588.8h10.2v10.2h-10.2zM1429.1,596.6h10.2v10.2h-10.2zM1435.0,604.6h10.2v10.2h-10.2zM1440.9,613.4h10.2v10.2h-10.2zM1446.8,622.9h10.2v10.2h-10.2zM1452.7,632.7h10.2v10.2h-10.2zM1458.6,642.3h10.2v10.2h-10.2zM1463.0,649.4h10.2v10.2h-10.2z" fill="#000060"/>
<rect x="1114.5" y="431.0" width="361.5" height="362.0" fill="none" stroke="#000" stroke-width="2.2"/>
<path d="M1114.5,793.0v9M1150.0,793.0v4.5M1170.8,793.0v4.5M1185.5,793.0v4.5M1197.0,793.0v4.5M1206.3,793.0v4.5M1214.2,793.0v4.5M1221.1,793.0v4.5M1227.1,793.0v4.5M1232.5,793.0v9M1268.0,793.0v4.5M1288.8,793.0v4.5M1303.5,793.0v4.5M1315.0,793.0v4.5M1324.3,793.0v4.5M1332.2,793.0v4.5M1339.1,793.0v4.5M1345.1,793.0v4.5M1350.5,793.0v9M1386.0,793.0v4.5M1406.8,793.0v4.5M1421.5,793.0v4.5M1433.0,793.0v4.5M1442.3,793.0v4.5M1450.2,793.0v4.5M1457.1,793.0v4.5M1463.1,793.0v4.5M1468.5,793.0v9M1114.5,793.0h-4.5M1114.5,786.8h-4.5M1114.5,781.3h-9M1114.5,745.0h-4.5M1114.5,723.7h-4.5M1114.5,708.7h-4.5M1114.5,697.0h-4.5M1114.5,687.4h-4.5M1114.5,679.3h-4.5M1114.5,672.3h-4.5M1114.5,666.2h-4.5M1114.5,660.6h-9M1114.5,624.3h-4.5M1114.5,603.1h-4.5M1114.5,588.0h-4.5M1114.5,576.3h-4.5M1114.5,566.7h-4.5M1114.5,558.7h-4.5M1114.5,551.7h-4.5M1114.5,545.5h-4.5M1114.5,540.0h-9M1114.5,503.7h-4.5M1114.5,482.4h-4.5M1114.5,467.3h-4.5M1114.5,455.6h-4.5M1114.5,446.1h-4.5M1114.5,438.0h-4.5M1114.5,431.0h-4.5" stroke="#000" stroke-width="2.2" fill="none"/>
<text x="1115.0" y="830.0" font-size="22" font-weight="700" text-anchor="middle">10<tspan font-size="14" dy="-9.6">-3</tspan></text>
<text x="1233.0" y="830.0" font-size="22" font-weight="700" text-anchor="middle">10<tspan font-size="14" dy="-9.6">-2</tspan></text>
<text x="1351.0" y="830.0" font-size="22" font-weight="700" text-anchor="middle">10<tspan font-size="14" dy="-9.6">-1</tspan></text>
<text x="1469.0" y="830.0" font-size="22" font-weight="700" text-anchor="middle">10<tspan font-size="14" dy="-9.6">0</tspan></text>
<text x="1098.5" y="789.1" font-size="22" font-weight="700" text-anchor="end">10<tspan font-size="14" dy="-9.6">-5</tspan></text>
<text x="1098.5" y="668.4" font-size="22" font-weight="700" text-anchor="end">10<tspan font-size="14" dy="-9.6">-4</tspan></text>
<text x="1098.5" y="547.8" font-size="22" font-weight="700" text-anchor="end">10<tspan font-size="14" dy="-9.6">-3</tspan></text>
<text x="1153.0" y="858.3" font-size="30" letter-spacing="2.21">Strain amplitude / -</text>
<text transform="translate(1048.8,729.5) rotate(-90)" font-size="30"><tspan font-style="italic">G</tspan><tspan font-size="21" dy="-11">s</tspan><tspan dy="11">&#8242;, </tspan><tspan font-style="italic">G</tspan><tspan font-size="21" dy="-11">s</tspan><tspan dy="11">&#8243; / Nm</tspan><tspan font-size="19" dy="-11">-1</tspan></text>
<rect x="1118.7" y="674.5" width="143.5" height="113" fill="none" stroke="#000" stroke-width="1.8"/>
<rect x="1126.0" y="681.2" width="21.5" height="21.5" fill="#000060"/>
<text x="1150.8" y="700.1" font-size="22.5"><tspan font-style="italic">G</tspan><tspan font-style="italic" font-size="14.5" dy="-8.3">s</tspan><tspan font-style="italic" dy="8.3">&#8242;</tspan> (21 °C)</text>
<rect x="1128.7" y="710.1" width="16.1" height="16.1" fill="none" stroke="#1c4b9c" stroke-width="5.4"/>
<text x="1150.8" y="726.4" font-size="22.5"><tspan font-style="italic">G</tspan><tspan font-style="italic" font-size="14.5" dy="-8.3">s</tspan><tspan font-style="italic" dy="8.3">&#8243;</tspan>(21 °C)</text>
<rect x="1126.0" y="733.7" width="21.5" height="21.5" fill="#a80000"/>
<text x="1150.8" y="752.6" font-size="22.5"><tspan font-style="italic">G</tspan><tspan font-style="italic" font-size="14.5" dy="-8.3">s</tspan><tspan font-style="italic" dy="8.3">&#8242;</tspan> (43 °C)</text>
<rect x="1128.7" y="762.6" width="16.1" height="16.1" fill="none" stroke="#ff3f4b" stroke-width="5.4"/>
<text x="1150.8" y="778.9" font-size="22.5"><tspan font-style="italic">G</tspan><tspan font-style="italic" font-size="14.5" dy="-8.3">s</tspan><tspan font-style="italic" dy="8.3">&#8243;</tspan>(43 °C)</text>
<path d="M1615.0,458.0 L1938.3,793.0 L1615.0,793.0 Z" fill="#f7f0dd"/>
<text x="1520.6" y="424.3" font-size="38" font-weight="700">f</text>
<text x="1640.4" y="421.8" font-size="30" letter-spacing="2.23">10 mol% crosslinker</text>
<path d="M1610.5,470.3h10.2v10.2h-10.2zM1616.4,468.9h10.2v10.2h-10.2zM1622.3,467.5h10.2v10.2h-10.2zM1628.2,467.9h10.2v10.2h-10.2zM1634.1,471.5h10.2v10.2h-10.2zM1640.0,472.5h10.2v10.2h-10.2zM1645.9,468.5h10.2v10.2h-10.2zM1651.8,468.6h10.2v10.2h-10.2zM1657.7,470.1h10.2v10.2h-10.2zM1663.6,471.2h10.2v10.2h-10.2zM1669.5,472.2h10.2v10.2h-10.2zM1675.4,473.0h10.2v10.2h-10.2zM1681.3,473.7h10.2v10.2h-10.2zM1687.2,474.0h10.2v10.2h-10.2zM1693.1,474.0h10.2v10.2h-10.2zM1699.0,474.0h10.2v10.2h-10.2zM1704.9,474.3h10.2v10.2h-10.2zM1710.8,474.5h10.2v10.2h-10.2zM1716.7,475.0h10.2v10.2h-10.2zM1722.6,475.6h10.2v10.2h-10.2zM1728.5,476.1h10.2v10.2h-10.2zM1734.4,476.5h10.2v10.2h-10.2zM1740.3,476.8h10.2v10.2h-10.2zM1746.2,476.9h10.2v10.2h-10.2zM1752.1,476.9h10.2v10.2h-10.2zM1758.0,476.7h10.2v10.2h-10.2zM1763.9,476.4h10.2v10.2h-10.2zM1769.8,476.0h10.2v10.2h-10.2zM1775.7,476.0h10.2v10.2h-10.2zM1781.6,476.0h10.2v10.2h-10.2zM1787.5,476.0h10.2v10.2h-10.2zM1793.4,476.0h10.2v10.2h-10.2zM1799.3,476.1h10.2v10.2h-10.2zM1805.2,476.7h10.2v10.2h-10.2zM1811.1,477.3h10.2v10.2h-10.2zM1817.0,477.9h10.2v10.2h-10.2zM1822.9,478.5h10.2v10.2h-10.2zM1828.8,479.2h10.2v10.2h-10.2zM1834.7,480.0h10.2v10.2h-10.2zM1840.6,480.8h10.2v10.2h-10.2zM1846.5,482.3h10.2v10.2h-10.2zM1852.4,483.8h10.2v10.2h-10.2zM1858.3,486.4h10.2v10.2h-10.2zM1864.2,489.7h10.2v10.2h-10.2zM1870.1,493.8h10.2v10.2h-10.2zM1876.0,498.7h10.2v10.2h-10.2zM1881.9,505.7h10.2v10.2h-10.2zM1887.8,513.6h10.2v10.2h-10.2zM1893.7,521.5h10.2v10.2h-10.2zM1899.6,531.3h10.2v10.2h-10.2zM1905.5,542.1h10.2v10.2h-10.2zM1911.4,551.7h10.2v10.2h-10.2zM1917.3,559.6h10.2v10.2h-10.2zM1923.2,568.4h10.2v10.2h-10.2zM1929.1,577.2h10.2v10.2h-10.2zM1935.0,586.2h10.2v10.2h-10.2zM1940.9,596.0h10.2v10.2h-10.2zM1946.8,605.8h10.2v10.2h-10.2zM1952.7,615.7h10.2v10.2h-10.2zM1958.6,626.1h10.2v10.2h-10.2zM1963.0,633.8h10.2v10.2h-10.2z" fill="#a80000"/>
<path d="M1613.4,601.1h7.3v7.3h-7.3zM1619.3,586.8h7.3v7.3h-7.3zM1625.2,586.7h7.3v7.3h-7.3zM1631.1,590.8h7.3v7.3h-7.3zM1637.0,597.6h7.3v7.3h-7.3zM1642.9,593.9h7.3v7.3h-7.3zM1648.8,584.7h7.3v7.3h-7.3zM1654.7,585.3h7.3v7.3h-7.3zM1660.6,596.8h7.3v7.3h-7.3zM1666.5,596.7h7.3v7.3h-7.3zM1672.4,589.9h7.3v7.3h-7.3zM1678.3,587.0h7.3v7.3h-7.3zM1684.2,595.0h7.3v7.3h-7.3zM1690.1,601.2h7.3v7.3h-7.3zM1696.0,600.9h7.3v7.3h-7.3zM1701.9,601.5h7.3v7.3h-7.3zM1707.8,602.2h7.3v7.3h-7.3zM1713.7,599.8h7.3v7.3h-7.3zM1719.6,596.8h7.3v7.3h-7.3zM1725.5,598.6h7.3v7.3h-7.3zM1731.4,600.6h7.3v7.3h-7.3zM1737.3,600.9h7.3v7.3h-7.3zM1743.2,602.0h7.3v7.3h-7.3zM1749.1,604.3h7.3v7.3h-7.3zM1755.0,605.4h7.3v7.3h-7.3zM1760.9,606.0h7.3v7.3h-7.3zM1766.8,607.1h7.3v7.3h-7.3zM1772.7,608.1h7.3v7.3h-7.3zM1778.6,608.9h7.3v7.3h-7.3zM1784.5,609.1h7.3v7.3h-7.3zM1790.4,607.6h7.3v7.3h-7.3zM1796.3,605.6h7.3v7.3h-7.3zM1802.2,604.0h7.3v7.3h-7.3zM1808.1,604.5h7.3v7.3h-7.3zM1814.0,603.9h7.3v7.3h-7.3zM1819.9,600.9h7.3v7.3h-7.3zM1825.8,597.8h7.3v7.3h-7.3zM1831.7,593.0h7.3v7.3h-7.3zM1837.6,585.1h7.3v7.3h-7.3zM1843.5,574.2h7.3v7.3h-7.3zM1849.4,562.0h7.3v7.3h-7.3zM1855.3,553.3h7.3v7.3h-7.3zM1861.2,545.6h7.3v7.3h-7.3zM1867.1,539.1h7.3v7.3h-7.3zM1873.0,533.7h7.3v7.3h-7.3zM1878.9,530.2h7.3v7.3h-7.3zM1884.8,528.2h7.3v7.3h-7.3zM1890.7,528.7h7.3v7.3h-7.3zM1896.6,530.6h7.3v7.3h-7.3zM1902.5,533.2h7.3v7.3h-7.3zM1908.4,536.7h7.3v7.3h-7.3zM1914.3,541.3h7.3v7.3h-7.3zM1920.2,545.9h7.3v7.3h-7.3zM1926.1,549.2h7.3v7.3h-7.3zM1932.0,552.2h7.3v7.3h-7.3zM1937.9,555.1h7.3v7.3h-7.3zM1943.8,558.1h7.3v7.3h-7.3zM1949.7,561.6h7.3v7.3h-7.3zM1955.6,566.7h7.3v7.3h-7.3zM1961.5,571.8h7.3v7.3h-7.3zM1964.5,574.4h7.3v7.3h-7.3z" fill="none" stroke="#ff3f4b" stroke-width="2.3"/>
<path d="M1613.4,586.9h7.3v7.3h-7.3zM1619.3,584.3h7.3v7.3h-7.3zM1625.2,582.2h7.3v7.3h-7.3zM1631.1,587.2h7.3v7.3h-7.3zM1637.0,580.1h7.3v7.3h-7.3zM1642.9,559.5h7.3v7.3h-7.3zM1648.8,559.1h7.3v7.3h-7.3zM1654.7,562.1h7.3v7.3h-7.3zM1660.6,564.3h7.3v7.3h-7.3zM1666.5,567.3h7.3v7.3h-7.3zM1672.4,569.3h7.3v7.3h-7.3zM1678.3,570.8h7.3v7.3h-7.3zM1684.2,573.3h7.3v7.3h-7.3zM1690.1,576.2h7.3v7.3h-7.3zM1696.0,578.1h7.3v7.3h-7.3zM1701.9,577.2h7.3v7.3h-7.3zM1707.8,578.2h7.3v7.3h-7.3zM1713.7,583.5h7.3v7.3h-7.3zM1719.6,586.2h7.3v7.3h-7.3zM1725.5,586.9h7.3v7.3h-7.3zM1731.4,589.8h7.3v7.3h-7.3zM1737.3,592.7h7.3v7.3h-7.3zM1743.2,594.1h7.3v7.3h-7.3zM1749.1,595.6h7.3v7.3h-7.3zM1755.0,597.0h7.3v7.3h-7.3zM1760.9,597.9h7.3v7.3h-7.3zM1766.8,599.3h7.3v7.3h-7.3zM1772.7,600.7h7.3v7.3h-7.3zM1778.6,601.6h7.3v7.3h-7.3zM1784.5,603.1h7.3v7.3h-7.3zM1790.4,604.2h7.3v7.3h-7.3zM1796.3,604.9h7.3v7.3h-7.3zM1802.2,605.0h7.3v7.3h-7.3zM1808.1,604.3h7.3v7.3h-7.3zM1814.0,603.7h7.3v7.3h-7.3zM1819.9,602.9h7.3v7.3h-7.3zM1825.8,601.4h7.3v7.3h-7.3zM1831.7,599.1h7.3v7.3h-7.3zM1837.6,596.0h7.3v7.3h-7.3zM1843.5,590.2h7.3v7.3h-7.3zM1849.4,581.9h7.3v7.3h-7.3zM1855.3,573.0h7.3v7.3h-7.3zM1861.2,564.2h7.3v7.3h-7.3zM1867.1,555.3h7.3v7.3h-7.3zM1873.0,549.1h7.3v7.3h-7.3zM1878.9,544.5h7.3v7.3h-7.3zM1884.8,541.5h7.3v7.3h-7.3zM1890.7,539.2h7.3v7.3h-7.3zM1896.6,538.6h7.3v7.3h-7.3zM1902.5,539.3h7.3v7.3h-7.3zM1908.4,541.3h7.3v7.3h-7.3zM1914.3,544.3h7.3v7.3h-7.3zM1920.2,547.7h7.3v7.3h-7.3zM1926.1,550.7h7.3v7.3h-7.3zM1932.0,553.6h7.3v7.3h-7.3zM1937.9,556.6h7.3v7.3h-7.3zM1943.8,559.5h7.3v7.3h-7.3zM1949.7,563.0h7.3v7.3h-7.3zM1955.6,567.5h7.3v7.3h-7.3zM1961.5,572.6h7.3v7.3h-7.3zM1964.5,575.6h7.3v7.3h-7.3z" fill="none" stroke="#1c4b9c" stroke-width="2.3"/>
<path d="M1610.5,460.4h10.2v10.2h-10.2zM1616.4,460.4h10.2v10.2h-10.2zM1622.3,460.4h10.2v10.2h-10.2zM1628.2,460.3h10.2v10.2h-10.2zM1634.1,461.5h10.2v10.2h-10.2zM1640.0,471.3h10.2v10.2h-10.2zM1645.9,471.9h10.2v10.2h-10.2zM1651.8,472.7h10.2v10.2h-10.2zM1657.7,473.5h10.2v10.2h-10.2zM1663.6,474.7h10.2v10.2h-10.2zM1669.5,475.9h10.2v10.2h-10.2zM1675.4,476.8h10.2v10.2h-10.2zM1681.3,477.6h10.2v10.2h-10.2zM1687.2,478.6h10.2v10.2h-10.2zM1693.1,479.7h10.2v10.2h-10.2zM1699.0,480.9h10.2v10.2h-10.2zM1704.9,481.6h10.2v10.2h-10.2zM1710.8,482.3h10.2v10.2h-10.2zM1716.7,482.7h10.2v10.2h-10.2zM1722.6,483.0h10.2v10.2h-10.2zM1728.5,483.3h10.2v10.2h-10.2zM1734.4,483.9h10.2v10.2h-10.2zM1740.3,484.5h10.2v10.2h-10.2zM1746.2,484.8h10.2v10.2h-10.2zM1752.1,485.2h10.2v10.2h-10.2zM1758.0,485.6h10.2v10.2h-10.2zM1763.9,486.1h10.2v10.2h-10.2zM1769.8,486.5h10.2v10.2h-10.2zM1775.7,486.9h10.2v10.2h-10.2zM1781.6,487.3h10.2v10.2h-10.2zM1787.5,487.6h10.2v10.2h-10.2zM1793.4,488.0h10.2v10.2h-10.2zM1799.3,488.3h10.2v10.2h-10.2zM1805.2,488.5h10.2v10.2h-10.2zM1811.1,488.8h10.2v10.2h-10.2zM1817.0,489.0h10.2v10.2h-10.2zM1822.9,489.2h10.2v10.2h-10.2zM1828.8,489.7h10.2v10.2h-10.2zM1834.7,490.7h10.2v10.2h-10.2zM1840.6,491.6h10.2v10.2h-10.2zM1846.5,493.4h10.2v10.2h-10.2zM1852.4,495.2h10.2v10.2h-10.2zM1858.3,497.7h10.2v10.2h-10.2zM1864.2,500.5h10.2v10.2h-10.2zM1870.1,503.8h10.2v10.2h-10.2zM1876.0,508.7h10.2v10.2h-10.2zM1881.9,513.6h10.2v10.2h-10.2zM1887.8,519.0h10.2v10.2h-10.2zM1893.7,525.9h10.2v10.2h-10.2zM1899.6,533.2h10.2v10.2h-10.2zM1905.5,541.0h10.2v10.2h-10.2zM1911.4,548.9h10.2v10.2h-10.2zM1917.3,556.7h10.2v10.2h-10.2zM1923.2,565.5h10.2v10.2h-10.2zM1929.1,574.9h10.2v10.2h-10.2zM1935.0,584.7h10.2v10.2h-10.2zM1940.9,593.5h10.2v10.2h-10.2zM1946.8,602.4h10.2v10.2h-10.2zM1952.7,611.2h10.2v10.2h-10.2zM1958.6,620.1h10.2v10.2h-10.2zM1963.0,626.7h10.2v10.2h-10.2z" fill="#000060"/>
<rect x="1615.0" y="431.0" width="361.5" height="362.0" fill="none" stroke="#000" stroke-width="2.2"/>
<path d="M1615.0,793.0v9M1650.5,793.0v4.5M1671.3,793.0v4.5M1686.0,793.0v4.5M1697.5,793.0v4.5M1706.8,793.0v4.5M1714.7,793.0v4.5M1721.6,793.0v4.5M1727.6,793.0v4.5M1733.0,793.0v9M1768.5,793.0v4.5M1789.3,793.0v4.5M1804.0,793.0v4.5M1815.5,793.0v4.5M1824.8,793.0v4.5M1832.7,793.0v4.5M1839.6,793.0v4.5M1845.6,793.0v4.5M1851.0,793.0v9M1886.5,793.0v4.5M1907.3,793.0v4.5M1922.0,793.0v4.5M1933.5,793.0v4.5M1942.8,793.0v4.5M1950.7,793.0v4.5M1957.6,793.0v4.5M1963.6,793.0v4.5M1969.0,793.0v9M1615.0,793.0h-4.5M1615.0,786.8h-4.5M1615.0,781.3h-9M1615.0,745.0h-4.5M1615.0,723.7h-4.5M1615.0,708.7h-4.5M1615.0,697.0h-4.5M1615.0,687.4h-4.5M1615.0,679.3h-4.5M1615.0,672.3h-4.5M1615.0,666.2h-4.5M1615.0,660.6h-9M1615.0,624.3h-4.5M1615.0,603.1h-4.5M1615.0,588.0h-4.5M1615.0,576.3h-4.5M1615.0,566.7h-4.5M1615.0,558.7h-4.5M1615.0,551.7h-4.5M1615.0,545.5h-4.5M1615.0,540.0h-9M1615.0,503.7h-4.5M1615.0,482.4h-4.5M1615.0,467.3h-4.5M1615.0,455.6h-4.5M1615.0,446.1h-4.5M1615.0,438.0h-4.5M1615.0,431.0h-4.5" stroke="#000" stroke-width="2.2" fill="none"/>
<text x="1615.5" y="830.0" font-size="22" font-weight="700" text-anchor="middle">10<tspan font-size="14" dy="-9.6">-3</tspan></text>
<text x="1733.5" y="830.0" font-size="22" font-weight="700" text-anchor="middle">10<tspan font-size="14" dy="-9.6">-2</tspan></text>
<text x="1851.5" y="830.0" font-size="22" font-weight="700" text-anchor="middle">10<tspan font-size="14" dy="-9.6">-1</tspan></text>
<text x="1969.5" y="830.0" font-size="22" font-weight="700" text-anchor="middle">10<tspan font-size="14" dy="-9.6">0</tspan></text>
<text x="1599.0" y="789.1" font-size="22" font-weight="700" text-anchor="end">10<tspan font-size="14" dy="-9.6">-5</tspan></text>
<text x="1599.0" y="668.4" font-size="22" font-weight="700" text-anchor="end">10<tspan font-size="14" dy="-9.6">-4</tspan></text>
<text x="1599.0" y="547.8" font-size="22" font-weight="700" text-anchor="end">10<tspan font-size="14" dy="-9.6">-3</tspan></text>
<text x="1653.5" y="858.3" font-size="30" letter-spacing="2.21">Strain amplitude / -</text>
<text transform="translate(1545.5,729.5) rotate(-90)" font-size="30"><tspan font-style="italic">G</tspan><tspan font-size="21" dy="-11">s</tspan><tspan dy="11">&#8242;, </tspan><tspan font-style="italic">G</tspan><tspan font-size="21" dy="-11">s</tspan><tspan dy="11">&#8243; / Nm</tspan><tspan font-size="19" dy="-11">-1</tspan></text>
<rect x="1619.2" y="674.5" width="143.5" height="113" fill="none" stroke="#000" stroke-width="1.8"/>
<rect x="1626.5" y="681.2" width="21.5" height="21.5" fill="#000060"/>
<text x="1651.3" y="700.1" font-size="22.5" font-weight="700"><tspan font-style="italic">G</tspan><tspan font-style="italic" font-size="14.5" dy="-8.3">s</tspan><tspan font-style="italic" dy="8.3">&#8242;</tspan> (21 °C)</text>
<rect x="1629.2" y="710.1" width="16.1" height="16.1" fill="none" stroke="#1c4b9c" stroke-width="5.4"/>
<text x="1651.3" y="726.4" font-size="22.5" font-weight="700"><tspan font-style="italic">G</tspan><tspan font-style="italic" font-size="14.5" dy="-8.3">s</tspan><tspan font-style="italic" dy="8.3">&#8243;</tspan>(21 °C)</text>
<rect x="1626.5" y="733.7" width="21.5" height="21.5" fill="#a80000"/>
<text x="1651.3" y="752.6" font-size="22.5" font-weight="700"><tspan font-style="italic">G</tspan><tspan font-style="italic" font-size="14.5" dy="-8.3">s</tspan><tspan font-style="italic" dy="8.3">&#8242;</tspan> (43 °C)</text>
<rect x="1629.2" y="762.6" width="16.1" height="16.1" fill="none" stroke="#ff3f4b" stroke-width="5.4"/>
<text x="1651.3" y="778.9" font-size="22.5" font-weight="700"><tspan font-style="italic">G</tspan><tspan font-style="italic" font-size="14.5" dy="-8.3">s</tspan><tspan font-style="italic" dy="8.3">&#8243;</tspan>(43 °C)</text>
<text x="19.3" y="892.5" font-size="38" font-weight="700">g</text>
<path d="M125.9,1139.7h9.5v9.5h-9.5zM134.9,1140.4h9.5v9.5h-9.5zM154.6,1139.7h9.5v9.5h-9.5zM174.2,1139.0h9.5v9.5h-9.5zM195.3,1139.7h9.5v9.5h-9.5zM215.0,1141.5h9.5v9.5h-9.5zM234.6,1142.5h9.5v9.5h-9.5zM254.2,1143.6h9.5v9.5h-9.5zM273.9,1143.6h9.5v9.5h-9.5zM293.5,1143.6h9.5v9.5h-9.5zM314.6,1142.5h9.5v9.5h-9.5zM334.2,1145.4h9.5v9.5h-9.5zM353.9,1147.2h9.5v9.5h-9.5zM373.5,1145.8h9.5v9.5h-9.5zM393.1,1146.1h9.5v9.5h-9.5zM412.8,1144.7h9.5v9.5h-9.5zM435.4,1146.5h9.5v9.5h-9.5zM446.0,1143.6h9.5v9.5h-9.5zM459.6,1144.3h9.5v9.5h-9.5z" fill="#000"/>
<path d="M127.3,1202.1h6.7v6.7h-6.7zM136.3,1202.8h6.7v6.7h-6.7zM156.0,1202.5h6.7v6.7h-6.7zM175.6,1201.8h6.7v6.7h-6.7zM196.7,1203.2h6.7v6.7h-6.7zM216.4,1203.2h6.7v6.7h-6.7zM236.0,1204.6h6.7v6.7h-6.7zM255.6,1206.4h6.7v6.7h-6.7zM275.2,1205.3h6.7v6.7h-6.7zM294.9,1203.9h6.7v6.7h-6.7zM316.0,1207.5h6.7v6.7h-6.7zM335.6,1206.8h6.7v6.7h-6.7zM355.3,1207.5h6.7v6.7h-6.7zM374.9,1207.5h6.7v6.7h-6.7zM394.5,1203.9h6.7v6.7h-6.7zM414.2,1206.8h6.7v6.7h-6.7zM436.8,1203.9h6.7v6.7h-6.7zM447.4,1204.6h6.7v6.7h-6.7zM461.0,1206.4h6.7v6.7h-6.7z" fill="none" stroke="#4a4a4a" stroke-width="2.3"/>
<rect x="112.5" y="884.5" width="362.0" height="361.5" fill="none" stroke="#000" stroke-width="2.2"/>
<path d="M112.5,1246.0v9M127.6,1246.0v4.5M142.7,1246.0v4.5M157.8,1246.0v4.5M172.9,1246.0v4.5M188.0,1246.0v9M203.1,1246.0v4.5M218.2,1246.0v4.5M233.3,1246.0v4.5M248.4,1246.0v4.5M263.5,1246.0v9M278.6,1246.0v4.5M293.7,1246.0v4.5M308.8,1246.0v4.5M323.9,1246.0v4.5M339.0,1246.0v9M354.1,1246.0v4.5M369.2,1246.0v4.5M384.3,1246.0v4.5M399.4,1246.0v4.5M414.5,1246.0v9M429.6,1246.0v4.5M444.7,1246.0v4.5M459.8,1246.0v4.5M474.9,1246.0v4.5M112.5,1246.2h-4.5M112.5,1228.1h-4.5M112.5,1213.3h-4.5M112.5,1200.8h-4.5M112.5,1190.0h-4.5M112.5,1180.4h-4.5M112.5,1171.9h-9M112.5,1115.7h-4.5M112.5,1082.8h-4.5M112.5,1059.5h-4.5M112.5,1041.4h-4.5M112.5,1026.6h-4.5M112.5,1014.1h-4.5M112.5,1003.3h-4.5M112.5,993.7h-4.5M112.5,985.2h-9M112.5,929.0h-4.5M112.5,896.1h-4.5" stroke="#000" stroke-width="2.2" fill="none"/>
<text x="112.5" y="1280.0" font-size="22" font-weight="700" text-anchor="middle">20</text>
<text x="188.0" y="1280.0" font-size="22" font-weight="700" text-anchor="middle">25</text>
<text x="263.5" y="1280.0" font-size="22" font-weight="700" text-anchor="middle">30</text>
<text x="339.0" y="1280.0" font-size="22" font-weight="700" text-anchor="middle">35</text>
<text x="414.5" y="1280.0" font-size="22" font-weight="700" text-anchor="middle">40</text>
<text x="96.5" y="1179.7" font-size="22" font-weight="700" text-anchor="end">10<tspan font-size="14" dy="-9.6">-4</tspan></text>
<text x="96.5" y="993.0" font-size="22" font-weight="700" text-anchor="end">10<tspan font-size="14" dy="-9.6">-3</tspan></text>
<text x="169.6" y="1305.8" font-size="30" letter-spacing="2.13">Temperature / °C</text>
<text x="169.6" y="1117.7" font-size="30" letter-spacing="2.13">Temperature / °C</text>
<text transform="translate(47.3,1177.5) rotate(-90)" font-size="30"><tspan font-style="italic">G</tspan><tspan font-size="21" dy="-11">s</tspan><tspan dy="11">&#8242;, </tspan><tspan font-style="italic">G</tspan><tspan font-size="21" dy="-11">s</tspan><tspan dy="11">&#8243; / Nm</tspan><tspan font-size="19" dy="-11">-1</tspan></text>
<rect x="117.8" y="889.3" width="69" height="64.5" fill="none" stroke="#000" stroke-width="1.8"/>
<rect x="125.3" y="896.8" width="21" height="21" fill="#000"/>
<text x="149.6" y="913.3" font-size="22.5"><tspan font-style="italic">G</tspan><tspan font-style="italic" font-size="14.5" dy="-9.5">s</tspan><tspan font-style="italic" dy="9.5">&#8242;</tspan></text>
<rect x="127.9" y="925.4" width="15.8" height="15.8" fill="none" stroke="#4a4a4a" stroke-width="5.2"/>
<text x="149.6" y="939.3" font-size="22.5"><tspan font-style="italic">G</tspan><tspan font-style="italic" font-size="14.5" dy="-9.5">s</tspan><tspan font-style="italic" dy="9.5">&#8243;</tspan></text>
<text x="519.8" y="892.5" font-size="38" font-weight="700">h</text>
<path d="M618.1,953.5h11v11h-11zM623.1,954.1h11v11h-11zM628.0,955.6h11v11h-11zM633.0,954.1h11v11h-11zM638.0,954.4h11v11h-11zM643.0,954.3h11v11h-11zM648.0,952.4h11v11h-11zM653.0,953.2h11v11h-11zM657.9,953.2h11v11h-11zM662.9,953.4h11v11h-11zM667.9,950.5h11v11h-11zM672.9,951.0h11v11h-11zM677.9,950.0h11v11h-11zM682.8,952.3h11v11h-11zM687.8,951.7h11v11h-11zM692.8,949.5h11v11h-11zM697.8,953.5h11v11h-11zM702.8,954.1h11v11h-11zM707.8,953.6h11v11h-11zM712.7,954.1h11v11h-11zM717.7,951.8h11v11h-11zM722.7,950.6h11v11h-11zM727.7,951.8h11v11h-11zM732.7,949.3h11v11h-11zM737.7,948.9h11v11h-11zM742.6,948.3h11v11h-11zM747.6,947.4h11v11h-11zM752.6,948.9h11v11h-11zM757.6,948.9h11v11h-11zM762.6,950.3h11v11h-11zM767.6,948.9h11v11h-11zM772.5,948.6h11v11h-11zM777.5,947.3h11v11h-11zM782.5,947.1h11v11h-11zM787.5,945.5h11v11h-11zM792.5,944.7h11v11h-11zM797.5,947.3h11v11h-11zM802.4,947.3h11v11h-11zM807.4,945.6h11v11h-11zM812.4,943.6h11v11h-11zM817.4,940.7h11v11h-11zM822.4,939.5h11v11h-11zM827.4,939.1h11v11h-11zM832.3,937.7h11v11h-11zM837.3,939.5h11v11h-11zM842.3,937.3h11v11h-11zM847.3,938.1h11v11h-11zM852.3,936.0h11v11h-11zM857.3,937.8h11v11h-11zM862.2,937.2h11v11h-11zM867.2,933.5h11v11h-11zM872.2,933.3h11v11h-11zM877.2,934.9h11v11h-11zM882.2,933.2h11v11h-11zM887.2,935.7h11v11h-11zM892.1,934.2h11v11h-11zM897.1,933.3h11v11h-11zM902.1,935.3h11v11h-11zM907.1,935.8h11v11h-11zM912.1,934.0h11v11h-11zM917.0,933.5h11v11h-11zM922.0,934.5h11v11h-11zM927.0,936.9h11v11h-11zM932.0,936.4h11v11h-11zM937.0,934.4h11v11h-11zM942.0,935.1h11v11h-11zM946.9,934.9h11v11h-11zM951.9,935.1h11v11h-11zM956.9,938.0h11v11h-11zM961.9,936.1h11v11h-11z" fill="#000"/>
<path d="M619.8,1094.7h7.5v7.5h-7.5zM627.4,1097.1h7.5v7.5h-7.5zM634.9,1097.1h7.5v7.5h-7.5zM642.5,1093.6h7.5v7.5h-7.5zM650.0,1094.7h7.5v7.5h-7.5zM657.6,1091.8h7.5v7.5h-7.5zM665.1,1094.7h7.5v7.5h-7.5zM672.7,1096.4h7.5v7.5h-7.5zM680.2,1092.9h7.5v7.5h-7.5zM687.8,1096.1h7.5v7.5h-7.5zM692.3,1098.2h7.5v7.5h-7.5zM699.9,1090.0h7.5v7.5h-7.5zM707.4,1093.6h7.5v7.5h-7.5zM711.9,1087.5h7.5v7.5h-7.5zM718.0,1090.0h7.5v7.5h-7.5zM724.0,1094.7h7.5v7.5h-7.5zM730.0,1099.6h7.5v7.5h-7.5zM737.6,1091.8h7.5v7.5h-7.5zM745.1,1087.5h7.5v7.5h-7.5zM751.2,1091.8h7.5v7.5h-7.5zM757.2,1088.9h7.5v7.5h-7.5zM764.8,1091.8h7.5v7.5h-7.5zM772.3,1088.9h7.5v7.5h-7.5zM778.4,1090.0h7.5v7.5h-7.5zM785.9,1083.9h7.5v7.5h-7.5zM793.5,1083.9h7.5v7.5h-7.5zM799.5,1090.0h7.5v7.5h-7.5zM805.5,1083.9h7.5v7.5h-7.5zM813.1,1081.8h7.5v7.5h-7.5zM820.6,1078.2h7.5v7.5h-7.5zM828.2,1074.7h7.5v7.5h-7.5zM835.8,1080.4h7.5v7.5h-7.5zM843.3,1067.5h7.5v7.5h-7.5zM850.9,1072.2h7.5v7.5h-7.5zM858.4,1066.8h7.5v7.5h-7.5zM866.0,1073.2h7.5v7.5h-7.5zM873.5,1071.1h7.5v7.5h-7.5zM881.0,1076.8h7.5v7.5h-7.5zM887.1,1073.2h7.5v7.5h-7.5zM896.1,1058.6h7.5v7.5h-7.5zM902.2,1066.8h7.5v7.5h-7.5zM911.2,1066.8h7.5v7.5h-7.5zM918.8,1064.0h7.5v7.5h-7.5zM926.3,1065.0h7.5v7.5h-7.5zM933.9,1068.6h7.5v7.5h-7.5zM941.5,1071.1h7.5v7.5h-7.5zM949.0,1067.5h7.5v7.5h-7.5zM956.5,1073.2h7.5v7.5h-7.5zM964.1,1069.7h7.5v7.5h-7.5z" fill="none" stroke="#4a4a4a" stroke-width="2.1"/>
<rect x="613.0" y="884.5" width="362.0" height="361.5" fill="none" stroke="#000" stroke-width="2.2"/>
<path d="M613.0,1246.0v9M628.1,1246.0v4.5M643.2,1246.0v4.5M658.3,1246.0v4.5M673.4,1246.0v4.5M688.5,1246.0v9M703.6,1246.0v4.5M718.7,1246.0v4.5M733.8,1246.0v4.5M748.9,1246.0v4.5M764.0,1246.0v9M779.1,1246.0v4.5M794.2,1246.0v4.5M809.3,1246.0v4.5M824.4,1246.0v4.5M839.5,1246.0v9M854.6,1246.0v4.5M869.7,1246.0v4.5M884.8,1246.0v4.5M899.9,1246.0v4.5M915.0,1246.0v9M930.1,1246.0v4.5M945.2,1246.0v4.5M960.3,1246.0v4.5M975.4,1246.0v4.5M613.0,1246.2h-4.5M613.0,1228.1h-4.5M613.0,1213.3h-4.5M613.0,1200.8h-4.5M613.0,1190.0h-4.5M613.0,1180.4h-4.5M613.0,1171.9h-9M613.0,1115.7h-4.5M613.0,1082.8h-4.5M613.0,1059.5h-4.5M613.0,1041.4h-4.5M613.0,1026.6h-4.5M613.0,1014.1h-4.5M613.0,1003.3h-4.5M613.0,993.7h-4.5M613.0,985.2h-9M613.0,929.0h-4.5M613.0,896.1h-4.5" stroke="#000" stroke-width="2.2" fill="none"/>
<text x="613.0" y="1280.0" font-size="22" font-weight="700" text-anchor="middle">20</text>
<text x="688.5" y="1280.0" font-size="22" font-weight="700" text-anchor="middle">25</text>
<text x="764.0" y="1280.0" font-size="22" font-weight="700" text-anchor="middle">30</text>
<text x="839.5" y="1280.0" font-size="22" font-weight="700" text-anchor="middle">35</text>
<text x="915.0" y="1280.0" font-size="22" font-weight="700" text-anchor="middle">40</text>
<text x="597.0" y="1179.7" font-size="22" font-weight="700" text-anchor="end">10<tspan font-size="14" dy="-9.6">-4</tspan></text>
<text x="597.0" y="993.0" font-size="22" font-weight="700" text-anchor="end">10<tspan font-size="14" dy="-9.6">-3</tspan></text>
<text x="670.1" y="1305.8" font-size="30" letter-spacing="2.13">Temperature / °C</text>
<text transform="translate(546.3,1177.5) rotate(-90)" font-size="30"><tspan font-style="italic">G</tspan><tspan font-size="21" dy="-11">s</tspan><tspan dy="11">&#8242;, </tspan><tspan font-style="italic">G</tspan><tspan font-size="21" dy="-11">s</tspan><tspan dy="11">&#8243; / Nm</tspan><tspan font-size="19" dy="-11">-1</tspan></text>
<rect x="617.8" y="1176.6" width="69" height="64.5" fill="none" stroke="#000" stroke-width="1.8"/>
<rect x="625.3" y="1184.1" width="21" height="21" fill="#000"/>
<text x="649.6" y="1200.6" font-size="22.5"><tspan font-style="italic">G</tspan><tspan font-style="italic" font-size="14.5" dy="-9.5">s</tspan><tspan font-style="italic" dy="9.5">&#8242;</tspan></text>
<rect x="627.9" y="1212.7" width="15.8" height="15.8" fill="none" stroke="#4a4a4a" stroke-width="5.2"/>
<text x="649.6" y="1226.6" font-size="22.5"><tspan font-style="italic">G</tspan><tspan font-style="italic" font-size="14.5" dy="-9.5">s</tspan><tspan font-style="italic" dy="9.5">&#8243;</tspan></text>
<text x="1020.3" y="892.5" font-size="38" font-weight="700">i</text>
<path d="M1118.6,928.4h11v11h-11zM1123.6,928.3h11v11h-11zM1128.5,928.2h11v11h-11zM1133.5,928.1h11v11h-11zM1138.5,928.0h11v11h-11zM1143.5,927.9h11v11h-11zM1148.5,927.8h11v11h-11zM1153.5,927.7h11v11h-11zM1158.4,927.7h11v11h-11zM1163.4,927.7h11v11h-11zM1168.4,927.7h11v11h-11zM1173.4,927.7h11v11h-11zM1178.4,927.7h11v11h-11zM1183.3,927.7h11v11h-11zM1188.3,927.5h11v11h-11zM1193.3,927.3h11v11h-11zM1198.3,927.1h11v11h-11zM1203.3,926.9h11v11h-11zM1208.3,926.7h11v11h-11zM1213.2,926.5h11v11h-11zM1218.2,926.3h11v11h-11zM1223.2,926.1h11v11h-11zM1228.2,925.9h11v11h-11zM1233.2,925.8h11v11h-11zM1238.2,925.7h11v11h-11zM1243.1,925.5h11v11h-11zM1248.1,925.4h11v11h-11zM1253.1,925.3h11v11h-11zM1258.1,925.2h11v11h-11zM1263.1,924.9h11v11h-11zM1268.1,924.5h11v11h-11zM1273.0,924.2h11v11h-11zM1278.0,923.8h11v11h-11zM1283.0,923.5h11v11h-11zM1288.0,923.1h11v11h-11zM1293.0,922.8h11v11h-11zM1298.0,922.4h11v11h-11zM1302.9,922.0h11v11h-11zM1307.9,921.7h11v11h-11zM1312.9,921.3h11v11h-11zM1317.9,921.0h11v11h-11zM1322.9,920.7h11v11h-11zM1327.9,920.5h11v11h-11zM1332.8,920.2h11v11h-11zM1337.8,920.0h11v11h-11zM1342.8,919.8h11v11h-11zM1347.8,919.5h11v11h-11zM1352.8,919.3h11v11h-11zM1357.8,919.1h11v11h-11zM1362.7,918.8h11v11h-11zM1367.7,918.6h11v11h-11zM1372.7,918.4h11v11h-11zM1377.7,918.1h11v11h-11zM1382.7,918.0h11v11h-11zM1387.7,918.0h11v11h-11zM1392.6,918.0h11v11h-11zM1397.6,918.0h11v11h-11zM1402.6,918.0h11v11h-11zM1407.6,918.0h11v11h-11zM1412.6,918.1h11v11h-11zM1417.5,918.2h11v11h-11zM1422.5,918.3h11v11h-11zM1427.5,918.4h11v11h-11zM1432.5,918.6h11v11h-11zM1437.5,918.7h11v11h-11zM1442.5,918.7h11v11h-11zM1447.4,918.7h11v11h-11zM1452.4,918.7h11v11h-11zM1457.4,918.7h11v11h-11zM1462.4,918.7h11v11h-11z" fill="#000"/>
<path d="M1120.3,1081.1h7.5v7.5h-7.5zM1127.9,1080.0h7.5v7.5h-7.5zM1140.0,1082.2h7.5v7.5h-7.5zM1147.5,1080.4h7.5v7.5h-7.5zM1155.0,1081.1h7.5v7.5h-7.5zM1162.6,1080.4h7.5v7.5h-7.5zM1170.2,1080.4h7.5v7.5h-7.5zM1177.7,1081.1h7.5v7.5h-7.5zM1185.2,1081.8h7.5v7.5h-7.5zM1192.8,1081.1h7.5v7.5h-7.5zM1200.3,1081.1h7.5v7.5h-7.5zM1207.9,1081.1h7.5v7.5h-7.5zM1215.5,1080.4h7.5v7.5h-7.5zM1223.0,1081.8h7.5v7.5h-7.5zM1230.5,1081.1h7.5v7.5h-7.5zM1238.1,1079.3h7.5v7.5h-7.5zM1245.7,1080.4h7.5v7.5h-7.5zM1253.2,1078.2h7.5v7.5h-7.5zM1260.8,1078.2h7.5v7.5h-7.5zM1268.3,1076.8h7.5v7.5h-7.5zM1275.8,1077.5h7.5v7.5h-7.5zM1283.4,1077.5h7.5v7.5h-7.5zM1291.0,1077.5h7.5v7.5h-7.5zM1298.5,1078.2h7.5v7.5h-7.5zM1306.0,1077.5h7.5v7.5h-7.5zM1313.6,1074.0h7.5v7.5h-7.5zM1321.2,1072.9h7.5v7.5h-7.5zM1328.7,1074.0h7.5v7.5h-7.5zM1336.2,1070.4h7.5v7.5h-7.5zM1343.8,1066.1h7.5v7.5h-7.5zM1351.3,1068.6h7.5v7.5h-7.5zM1358.9,1067.5h7.5v7.5h-7.5zM1366.5,1065.0h7.5v7.5h-7.5zM1374.0,1066.1h7.5v7.5h-7.5zM1381.5,1068.6h7.5v7.5h-7.5zM1389.1,1067.5h7.5v7.5h-7.5zM1396.7,1070.4h7.5v7.5h-7.5zM1404.2,1065.0h7.5v7.5h-7.5zM1411.8,1065.0h7.5v7.5h-7.5zM1419.3,1067.5h7.5v7.5h-7.5zM1426.8,1066.1h7.5v7.5h-7.5zM1434.4,1066.1h7.5v7.5h-7.5zM1442.0,1064.0h7.5v7.5h-7.5zM1449.5,1065.0h7.5v7.5h-7.5zM1464.6,1067.5h7.5v7.5h-7.5z" fill="none" stroke="#4a4a4a" stroke-width="2.1"/>
<rect x="1113.5" y="884.5" width="362.0" height="361.5" fill="none" stroke="#000" stroke-width="2.2"/>
<path d="M1113.5,1246.0v9M1128.6,1246.0v4.5M1143.7,1246.0v4.5M1158.8,1246.0v4.5M1173.9,1246.0v4.5M1189.0,1246.0v9M1204.1,1246.0v4.5M1219.2,1246.0v4.5M1234.3,1246.0v4.5M1249.4,1246.0v4.5M1264.5,1246.0v9M1279.6,1246.0v4.5M1294.7,1246.0v4.5M1309.8,1246.0v4.5M1324.9,1246.0v4.5M1340.0,1246.0v9M1355.1,1246.0v4.5M1370.2,1246.0v4.5M1385.3,1246.0v4.5M1400.4,1246.0v4.5M1415.5,1246.0v9M1430.6,1246.0v4.5M1445.7,1246.0v4.5M1460.8,1246.0v4.5M1475.9,1246.0v4.5M1113.5,1246.2h-4.5M1113.5,1228.1h-4.5M1113.5,1213.3h-4.5M1113.5,1200.8h-4.5M1113.5,1190.0h-4.5M1113.5,1180.4h-4.5M1113.5,1171.9h-9M1113.5,1115.7h-4.5M1113.5,1082.8h-4.5M1113.5,1059.5h-4.5M1113.5,1041.4h-4.5M1113.5,1026.6h-4.5M1113.5,1014.1h-4.5M1113.5,1003.3h-4.5M1113.5,993.7h-4.5M1113.5,985.2h-9M1113.5,929.0h-4.5M1113.5,896.1h-4.5" stroke="#000" stroke-width="2.2" fill="none"/>
<text x="1113.5" y="1280.0" font-size="22" font-weight="700" text-anchor="middle">20</text>
<text x="1189.0" y="1280.0" font-size="22" font-weight="700" text-anchor="middle">25</text>
<text x="1264.5" y="1280.0" font-size="22" font-weight="700" text-anchor="middle">30</text>
<text x="1340.0" y="1280.0" font-size="22" font-weight="700" text-anchor="middle">35</text>
<text x="1415.5" y="1280.0" font-size="22" font-weight="700" text-anchor="middle">40</text>
<text x="1097.5" y="1179.7" font-size="22" font-weight="700" text-anchor="end">10<tspan font-size="14" dy="-9.6">-4</tspan></text>
<text x="1097.5" y="993.0" font-size="22" font-weight="700" text-anchor="end">10<tspan font-size="14" dy="-9.6">-3</tspan></text>
<text x="1170.6" y="1305.8" font-size="30" letter-spacing="2.13">Temperature / °C</text>
<text transform="translate(1048.8,1177.5) rotate(-90)" font-size="30"><tspan font-style="italic">G</tspan><tspan font-size="21" dy="-11">s</tspan><tspan dy="11">&#8242;, </tspan><tspan font-style="italic">G</tspan><tspan font-size="21" dy="-11">s</tspan><tspan dy="11">&#8243; / Nm</tspan><tspan font-size="19" dy="-11">-1</tspan></text>
<rect x="1118.3" y="1176.6" width="69" height="64.5" fill="none" stroke="#000" stroke-width="1.8"/>
<rect x="1125.8" y="1184.1" width="21" height="21" fill="#000"/>
<text x="1150.1" y="1200.6" font-size="22.5"><tspan font-style="italic">G</tspan><tspan font-style="italic" font-size="14.5" dy="-9.5">s</tspan><tspan font-style="italic" dy="9.5">&#8242;</tspan></text>
<rect x="1128.4" y="1212.7" width="15.8" height="15.8" fill="none" stroke="#4a4a4a" stroke-width="5.2"/>
<text x="1150.1" y="1226.6" font-size="22.5"><tspan font-style="italic">G</tspan><tspan font-style="italic" font-size="14.5" dy="-9.5">s</tspan><tspan font-style="italic" dy="9.5">&#8243;</tspan></text>
<text x="1521.0" y="892.5" font-size="38" font-weight="700">j</text>
<path d="M1619.3,902.7h11v11h-11zM1624.3,902.7h11v11h-11zM1629.2,902.8h11v11h-11zM1634.2,902.8h11v11h-11zM1639.2,902.9h11v11h-11zM1644.2,903.0h11v11h-11zM1649.2,903.0h11v11h-11zM1654.2,903.1h11v11h-11zM1659.1,903.1h11v11h-11zM1664.1,903.2h11v11h-11zM1669.1,903.2h11v11h-11zM1674.1,903.3h11v11h-11zM1679.1,903.3h11v11h-11zM1684.0,903.4h11v11h-11zM1689.0,903.3h11v11h-11zM1694.0,903.3h11v11h-11zM1699.0,903.3h11v11h-11zM1704.0,903.2h11v11h-11zM1709.0,903.2h11v11h-11zM1713.9,903.1h11v11h-11zM1718.9,903.1h11v11h-11zM1723.9,903.0h11v11h-11zM1728.9,903.0h11v11h-11zM1733.9,902.9h11v11h-11zM1738.9,902.9h11v11h-11zM1743.8,902.8h11v11h-11zM1748.8,902.8h11v11h-11zM1753.8,902.7h11v11h-11zM1758.8,902.7h11v11h-11zM1763.8,902.6h11v11h-11zM1768.8,902.5h11v11h-11zM1773.7,902.3h11v11h-11zM1778.7,902.2h11v11h-11zM1783.7,902.1h11v11h-11zM1788.7,902.0h11v11h-11zM1793.7,901.9h11v11h-11zM1798.7,901.8h11v11h-11zM1803.6,901.6h11v11h-11zM1808.6,901.4h11v11h-11zM1813.6,901.1h11v11h-11zM1818.6,900.9h11v11h-11zM1823.6,900.6h11v11h-11zM1828.6,900.3h11v11h-11zM1833.5,900.0h11v11h-11zM1838.5,899.8h11v11h-11zM1843.5,899.5h11v11h-11zM1848.5,899.2h11v11h-11zM1853.5,898.9h11v11h-11zM1858.5,898.6h11v11h-11zM1863.4,898.3h11v11h-11zM1868.4,898.0h11v11h-11zM1873.4,897.7h11v11h-11zM1878.4,897.5h11v11h-11zM1883.4,897.2h11v11h-11zM1888.4,896.9h11v11h-11zM1893.3,896.6h11v11h-11zM1898.3,896.3h11v11h-11zM1903.3,896.0h11v11h-11zM1908.3,895.7h11v11h-11zM1913.3,895.4h11v11h-11zM1918.2,895.1h11v11h-11zM1923.2,894.8h11v11h-11zM1928.2,894.5h11v11h-11zM1933.2,894.2h11v11h-11zM1938.2,893.9h11v11h-11zM1943.2,893.7h11v11h-11zM1948.1,893.5h11v11h-11zM1953.1,893.4h11v11h-11zM1958.1,893.2h11v11h-11zM1963.1,893.1h11v11h-11z" fill="#000"/>
<path d="M1621.0,1077.5h7.5v7.5h-7.5zM1633.1,1076.4h7.5v7.5h-7.5zM1640.7,1076.8h7.5v7.5h-7.5zM1648.2,1079.3h7.5v7.5h-7.5zM1655.8,1077.5h7.5v7.5h-7.5zM1670.9,1079.3h7.5v7.5h-7.5zM1686.0,1078.2h7.5v7.5h-7.5zM1693.5,1081.1h7.5v7.5h-7.5zM1701.0,1077.5h7.5v7.5h-7.5zM1716.2,1079.3h7.5v7.5h-7.5zM1731.2,1080.4h7.5v7.5h-7.5zM1746.4,1080.4h7.5v7.5h-7.5zM1761.5,1080.0h7.5v7.5h-7.5zM1776.5,1081.1h7.5v7.5h-7.5zM1791.7,1081.1h7.5v7.5h-7.5zM1806.8,1081.1h7.5v7.5h-7.5zM1821.9,1081.8h7.5v7.5h-7.5zM1837.0,1081.8h7.5v7.5h-7.5zM1852.0,1081.8h7.5v7.5h-7.5zM1859.6,1082.9h7.5v7.5h-7.5zM1867.2,1083.9h7.5v7.5h-7.5zM1874.7,1085.7h7.5v7.5h-7.5zM1882.2,1087.5h7.5v7.5h-7.5zM1889.8,1083.9h7.5v7.5h-7.5zM1897.3,1081.8h7.5v7.5h-7.5zM1912.5,1081.1h7.5v7.5h-7.5zM1927.5,1081.1h7.5v7.5h-7.5zM1935.1,1075.7h7.5v7.5h-7.5zM1942.7,1081.8h7.5v7.5h-7.5zM1950.2,1082.9h7.5v7.5h-7.5zM1957.8,1081.8h7.5v7.5h-7.5zM1965.3,1080.4h7.5v7.5h-7.5z" fill="none" stroke="#4a4a4a" stroke-width="2.1"/>
<rect x="1614.2" y="884.5" width="362.0" height="361.5" fill="none" stroke="#000" stroke-width="2.2"/>
<path d="M1614.2,1246.0v9M1629.3,1246.0v4.5M1644.4,1246.0v4.5M1659.5,1246.0v4.5M1674.6,1246.0v4.5M1689.7,1246.0v9M1704.8,1246.0v4.5M1719.9,1246.0v4.5M1735.0,1246.0v4.5M1750.1,1246.0v4.5M1765.2,1246.0v9M1780.3,1246.0v4.5M1795.4,1246.0v4.5M1810.5,1246.0v4.5M1825.6,1246.0v4.5M1840.7,1246.0v9M1855.8,1246.0v4.5M1870.9,1246.0v4.5M1886.0,1246.0v4.5M1901.1,1246.0v4.5M1916.2,1246.0v9M1931.3,1246.0v4.5M1946.4,1246.0v4.5M1961.5,1246.0v4.5M1976.6,1246.0v4.5M1614.2,1246.2h-4.5M1614.2,1228.1h-4.5M1614.2,1213.3h-4.5M1614.2,1200.8h-4.5M1614.2,1190.0h-4.5M1614.2,1180.4h-4.5M1614.2,1171.9h-9M1614.2,1115.7h-4.5M1614.2,1082.8h-4.5M1614.2,1059.5h-4.5M1614.2,1041.4h-4.5M1614.2,1026.6h-4.5M1614.2,1014.1h-4.5M1614.2,1003.3h-4.5M1614.2,993.7h-4.5M1614.2,985.2h-9M1614.2,929.0h-4.5M1614.2,896.1h-4.5" stroke="#000" stroke-width="2.2" fill="none"/>
<text x="1614.2" y="1280.0" font-size="22" font-weight="700" text-anchor="middle">20</text>
<text x="1689.7" y="1280.0" font-size="22" font-weight="700" text-anchor="middle">25</text>
<text x="1765.2" y="1280.0" font-size="22" font-weight="700" text-anchor="middle">30</text>
<text x="1840.7" y="1280.0" font-size="22" font-weight="700" text-anchor="middle">35</text>
<text x="1916.2" y="1280.0" font-size="22" font-weight="700" text-anchor="middle">40</text>
<text x="1598.2" y="1179.7" font-size="22" font-weight="700" text-anchor="end">10<tspan font-size="14" dy="-9.6">-4</tspan></text>
<text x="1598.2" y="993.0" font-size="22" font-weight="700" text-anchor="end">10<tspan font-size="14" dy="-9.6">-3</tspan></text>
<text x="1671.3" y="1305.8" font-size="30" letter-spacing="2.13">Temperature / °C</text>
<text transform="translate(1545.5,1177.5) rotate(-90)" font-size="30"><tspan font-style="italic">G</tspan><tspan font-size="21" dy="-11">s</tspan><tspan dy="11">&#8242;, </tspan><tspan font-style="italic">G</tspan><tspan font-size="21" dy="-11">s</tspan><tspan dy="11">&#8243; / Nm</tspan><tspan font-size="19" dy="-11">-1</tspan></text>
<rect x="1619.0" y="1176.6" width="69" height="64.5" fill="none" stroke="#000" stroke-width="1.8"/>
<rect x="1626.5" y="1184.1" width="21" height="21" fill="#000"/>
<text x="1650.8" y="1200.6" font-size="22.5"><tspan font-style="italic">G</tspan><tspan font-style="italic" font-size="14.5" dy="-9.5">s</tspan><tspan font-style="italic" dy="9.5">&#8242;</tspan></text>
<rect x="1629.1" y="1212.7" width="15.8" height="15.8" fill="none" stroke="#4a4a4a" stroke-width="5.2"/>
<text x="1650.8" y="1226.6" font-size="22.5"><tspan font-style="italic">G</tspan><tspan font-style="italic" font-size="14.5" dy="-9.5">s</tspan><tspan font-style="italic" dy="9.5">&#8243;</tspan></text>
</svg>
</body></html>
